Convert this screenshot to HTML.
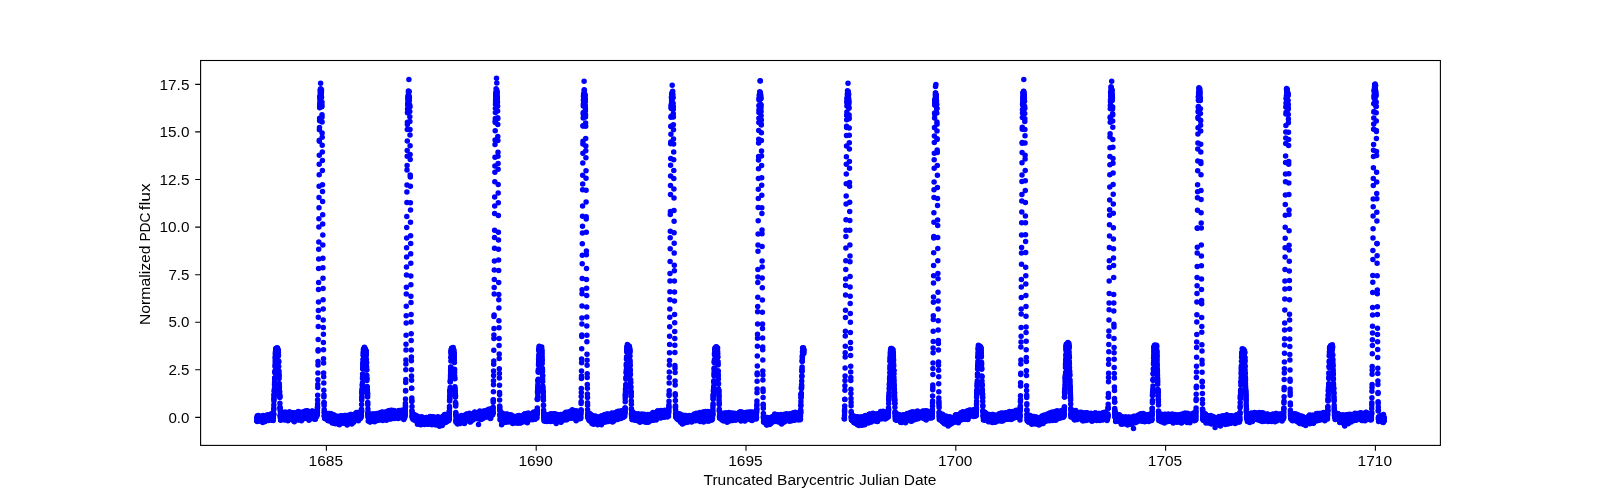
<!DOCTYPE html>
<html><head><meta charset="utf-8"><title>Light curve</title>
<style>
html,body{margin:0;padding:0;background:#fff}
body{width:1600px;height:500px;overflow:hidden;position:relative}
svg{position:absolute;left:0;top:0;display:block;will-change:transform}
text{font-family:"Liberation Sans",sans-serif;font-size:14px;fill:#000}
</style></head><body>
<svg width="1600" height="500" viewBox="0 0 1600 500">
<rect x="200.6" y="60.5" width="1239.8" height="384.9" fill="none" stroke="#000" stroke-width="1.1"/>
<path d="M326.4 445.4v5.4M536.2 445.4v5.4M746.0 445.4v5.4M955.8 445.4v5.4M1165.6 445.4v5.4M1375.4 445.4v5.4M200.6 417.4h-5.4M200.6 369.8h-5.4M200.6 322.2h-5.4M200.6 274.7h-5.4M200.6 227.1h-5.4M200.6 179.5h-5.4M200.6 131.9h-5.4M200.6 84.4h-5.4" stroke="#000" stroke-width="1.1" fill="none"/>
<text x="325.8" y="466.3" text-anchor="middle" textLength="34.4" lengthAdjust="spacingAndGlyphs">1685</text>
<text x="535.6" y="466.3" text-anchor="middle" textLength="34.4" lengthAdjust="spacingAndGlyphs">1690</text>
<text x="745.4" y="466.3" text-anchor="middle" textLength="34.4" lengthAdjust="spacingAndGlyphs">1695</text>
<text x="955.2" y="466.3" text-anchor="middle" textLength="34.4" lengthAdjust="spacingAndGlyphs">1700</text>
<text x="1165.0" y="466.3" text-anchor="middle" textLength="34.4" lengthAdjust="spacingAndGlyphs">1705</text>
<text x="1374.8" y="466.3" text-anchor="middle" textLength="34.4" lengthAdjust="spacingAndGlyphs">1710</text>
<text x="189.4" y="422.5" text-anchor="end" textLength="21.0" lengthAdjust="spacingAndGlyphs">0.0</text>
<text x="189.4" y="374.9" text-anchor="end" textLength="21.0" lengthAdjust="spacingAndGlyphs">2.5</text>
<text x="189.4" y="327.4" text-anchor="end" textLength="21.0" lengthAdjust="spacingAndGlyphs">5.0</text>
<text x="189.4" y="279.8" text-anchor="end" textLength="21.0" lengthAdjust="spacingAndGlyphs">7.5</text>
<text x="189.4" y="232.2" text-anchor="end" textLength="29.8" lengthAdjust="spacingAndGlyphs">10.0</text>
<text x="189.4" y="184.6" text-anchor="end" textLength="29.8" lengthAdjust="spacingAndGlyphs">12.5</text>
<text x="189.4" y="137.0" text-anchor="end" textLength="29.8" lengthAdjust="spacingAndGlyphs">15.0</text>
<text x="189.4" y="89.5" text-anchor="end" textLength="29.8" lengthAdjust="spacingAndGlyphs">17.5</text>
<text x="820" y="485.2" text-anchor="middle" textLength="233" lengthAdjust="spacingAndGlyphs">Truncated Barycentric Julian Date</text>
<text transform="translate(150 325.0) rotate(-90)" textLength="79.6" lengthAdjust="spacingAndGlyphs">Normalized</text>
<text transform="translate(150 241.6) rotate(-90)" textLength="29.0" lengthAdjust="spacingAndGlyphs">PDC</text>
<text transform="translate(150 210.3) rotate(-90)" textLength="27.0" lengthAdjust="spacingAndGlyphs">flux</text>
<g stroke="#0000ff" stroke-width="5.5" stroke-linecap="round" fill="none">
<path d="M258.8 420.6h0M261.8 418.4h0M262.2 416.9h0M262.7 422.5h0M262.8 416.8h0M265 419h0M265.3 416.8h0M265.3 417.6h0M265.4 419.7h0M268.1 417.2h0M268.2 415.9h0M268.3 418.7h0M268.4 418.2h0M269.2 419h0M269.3 418.3h0M269.5 416h0M270.1 418.4h0M271.1 416.4h0M271.4 418.4h0M272.3 417.6h0M273 415.3h0M273.8 408.3h0M274.9 372.8h0M275 371.1h0M275.1 364.8h0M275.7 348.6h0M276.2 350.3h0M276.4 353.3h0M276.5 350.4h0M276.9 350.8h0M277.1 353h0M278.1 351.6h0M279.3 389.6h0M279.5 391.8h0M279.6 391.9h0M280.1 408.6h0M280.6 420.2h0M281.7 417h0M282.3 417.4h0M282.6 414h0M283 414.4h0M283.1 418.2h0M284 416.8h0M284.1 416h0M286.8 419.3h0M287.3 417h0M287.5 415.7h0M287.7 417.5h0M287.8 417h0M289.5 415h0M289.6 411.9h0M292.1 416.5h0M292.8 415.9h0M293.9 415.8h0M294.4 418.3h0M295.4 414.1h0M295.4 414.4h0M295.6 416.6h0M297.1 416.7h0M297.4 414.5h0M297.5 417.1h0M299 412.4h0M300.2 417.9h0M300.4 416.6h0M300.5 416.4h0M300.8 419h0M300.9 412.5h0M301.8 415.7h0M303 415.6h0M303.9 415h0M304.4 413.1h0M305.1 416.2h0M305.3 415.6h0M305.5 413.4h0M306.7 413.7h0M306.9 417h0M307.2 417.3h0M308.1 414.7h0M308.4 413.8h0M309 412.6h0M309.1 414.8h0M309.2 415.8h0M309.8 416.1h0M311.6 415.1h0M311.8 411.6h0M312.1 416.7h0M312.7 415.7h0M313.6 413.2h0M313.9 414.1h0M315.7 411.8h0M316 412.7h0M316.3 416h0M317.4 410.2h0M318 361.4h0M318.7 249.2h0M319.6 120.7h0M320 96.8h0M320.3 92.2h0M322.2 145.2h0M322.8 245.1h0M323.5 349.7h0M323.6 372.9h0M323.9 397h0M324.1 403.1h0M324.4 415.8h0M325 417.9h0M325.1 415.6h0M326.2 413.9h0M326.4 417.7h0M327.1 417.6h0M327.5 413.5h0M328.1 417.2h0M328.2 420.5h0M329.4 418.5h0M332.9 420.5h0M333.5 418.5h0M334 420.5h0M334.3 423h0M334.5 420.8h0M336.3 420.2h0M336.5 418.3h0M336.9 421.9h0M337.3 421.4h0M337.5 420h0M337.9 420.7h0M339.3 420.5h0M339.8 419.4h0M339.9 421.3h0M341.7 419.6h0M342.1 416.3h0M343.8 419.1h0M344 418.5h0M344.6 419.3h0M344.9 420.9h0M345.3 423.4h0M347.5 418.3h0M348.4 417.8h0M348.9 420.6h0M349.8 419.9h0M350.1 416.7h0M350.3 418.2h0M351.4 418.1h0M351.7 416.2h0M352.6 417.3h0M353.1 416.6h0M353.3 415.6h0M353.4 416.4h0M353.5 416.7h0M353.8 418.5h0M354.5 417.6h0M354.6 414.7h0M354.8 418h0M355.6 416.6h0M356.6 415.8h0M356.6 416.6h0M357.4 417.3h0M358.1 413.4h0M358.3 417h0M359 416.8h0M359.2 415.7h0M359.3 415.4h0M359.7 416.8h0M360.1 414.4h0M360.6 414h0M361.4 415.5h0M361.5 410.9h0M362.9 365h0M362.9 363.8h0M363.7 349.5h0M363.7 350.7h0M364 351.6h0M364.3 349.3h0M367.5 392.8h0M370.5 415h0M370.8 417.9h0M371.1 420.9h0M371.3 418.5h0M371.5 418.2h0M372 414.1h0M372.5 420.6h0M373 417.7h0M373.2 416.8h0M375.5 415.3h0M375.6 418.2h0M376.1 418.4h0M376.4 417.5h0M378 415.6h0M378.1 416h0M380.1 418.3h0M381 418h0M382.4 415h0M382.5 414.1h0M386.4 414.6h0M386.7 413h0M388.2 416.6h0M388.5 417.2h0M389.4 414.7h0M389.6 412.8h0M389.9 413.1h0M390.1 415.5h0M391.2 414.3h0M391.6 411h0M391.7 410.2h0M391.8 414.9h0M392.1 414.5h0M392.9 411.6h0M393.5 412.6h0M393.7 415.8h0M393.9 413.1h0M394.3 417.4h0M394.6 411.4h0M395.1 415.6h0M396.8 411.9h0M397.3 412.5h0M399.9 415.1h0M400.2 413.3h0M401.1 415h0M402.1 415.9h0M403.3 412h0M404.4 414.5h0M404.5 413h0M404.7 417.6h0M405 415.5h0M405.1 414h0M405.9 359.9h0M406 344.2h0M406.3 293.9h0M406.5 266.9h0M406.6 256.9h0M408.3 98.1h0M410 135h0M410.9 284.8h0M413.5 414.8h0M413.6 417h0M414.5 418.5h0M414.7 418.7h0M415.3 418.7h0M416.1 419.5h0M416.2 418h0M416.2 416.9h0M416.8 420.7h0M417.4 418.4h0M418.1 422.2h0M418.2 417h0M418.6 420.3h0M420.2 423h0M420.5 424.7h0M421.2 423.7h0M422.7 421.4h0M423.1 421.7h0M424.1 420.8h0M424.3 419.2h0M424.5 419.5h0M426 421.6h0M426.2 417.6h0M426.3 421.6h0M426.5 420.3h0M426.6 418.4h0M430.4 421.3h0M431.6 418.6h0M433.2 419.7h0M433.3 418.2h0M434.4 420.9h0M434.8 421.7h0M435.1 420.2h0M435.5 418.9h0M436.6 418.8h0M439.3 421.2h0M441.4 420.1h0M441.9 418.8h0M443.7 420.4h0M444 418.6h0M445.7 419.3h0M446.3 418.9h0M446.3 418h0M447.8 418h0M453.3 351.7h0M454.5 369.8h0M455.5 402.6h0M456.4 420.3h0M457.9 421.1h0M459 419.9h0M460 419h0M460.8 419.8h0M460.8 419.2h0M460.9 421.4h0M461.2 418.8h0M461.9 417.1h0M463.9 416.7h0M464.7 416.2h0M464.9 416.5h0M466.2 418.2h0M466.4 417h0M466.7 417.2h0M466.8 414.8h0M468.2 415.9h0M468.2 415.6h0M469.9 418.8h0M472.8 415.1h0M473.1 415.1h0M473.2 418.1h0M474.2 417.1h0M474.9 416.1h0M475.3 417.2h0M475.3 417.1h0M475.9 417.4h0M476.3 418.3h0M476.4 417.7h0M476.4 415.1h0M477.1 415.9h0M477.6 414.5h0M478.3 416.2h0M479.1 412.7h0M480.1 415.4h0M480.8 419.5h0M481.4 413h0M481.7 415.1h0M483.6 415.6h0M485.2 412.9h0M486.2 411.7h0M486.5 415.8h0M487.3 413.3h0M487.4 411.7h0M489.4 413.9h0M489.9 414.1h0M491.1 412.5h0M491.5 411.5h0M491.7 411.7h0M491.8 414h0M493.2 402.3h0M493.7 364.3h0M493.8 350.3h0M494.7 205.9h0M494.9 166h0M495.2 130.8h0M495.6 99.8h0M497.6 111.1h0M499.3 368.8h0M501.1 414.6h0M502 417.5h0M502.5 417.7h0M502.6 422.2h0M502.7 417.6h0M503 414.8h0M503.6 417.6h0M504.7 418.7h0M505.1 419.6h0M505.3 417.3h0M505.8 419.4h0M505.9 421.7h0M509 419.8h0M509.1 417.9h0M509.9 419.5h0M510.5 417.8h0M511.9 418.6h0M513.7 419.7h0M513.9 422.2h0M514.1 419.7h0M515.1 420.9h0M516.7 422.1h0M519.6 420.7h0M520 417.5h0M520.4 423.1h0M521 417.7h0M521.3 419.9h0M521.6 417.9h0M522.8 418.6h0M523.6 420.1h0M526.2 418.4h0M526.7 420.1h0M526.9 419.3h0M527 416.8h0M527.3 422.7h0M527.6 420.1h0M529.4 418.2h0M530.4 415.1h0M532 415.5h0M532.6 414.8h0M534.5 413h0M534.9 415.8h0M535.7 416.5h0M536.4 412.9h0M542.4 368.9h0M543.1 399.1h0M543.9 419.5h0M545.5 418.2h0M546.5 419.1h0M547 418.3h0M547.9 416.9h0M548.1 415.4h0M548.3 415.9h0M549.4 417.1h0M549.4 420h0M550.2 419.8h0M552.4 420.5h0M553.4 417.9h0M554 419.9h0M555.5 418.3h0M556.3 416.2h0M556.6 419.9h0M557 417.6h0M558.3 416.7h0M558.9 416.3h0M559.9 419.3h0M560.5 418.2h0M561 416.7h0M561.8 420.2h0M563.2 416.9h0M564.4 416.7h0M564.9 418.2h0M564.9 418.2h0M565.6 415.1h0M566.7 414h0M568.4 413.7h0M568.8 414.8h0M568.9 416.1h0M569 418.2h0M569.6 414.1h0M570 414.6h0M570 413.7h0M571.8 415.1h0M572.6 413h0M573.2 414.4h0M574.3 414.3h0M574.5 414.1h0M574.9 417.4h0M576.6 413.9h0M577.3 415.3h0M577.7 414.9h0M578.2 411.9h0M578.5 418.4h0M579.5 415.8h0M580 413.5h0M580.5 417.7h0M581.1 403.6h0M581.5 376.1h0M582.7 175.2h0M583.5 96.2h0M584.4 93.2h0M584.7 94.9h0M585 101.1h0M585.1 98.8h0M585.3 99h0M585.3 105.6h0M587.8 413.3h0M587.8 414.9h0M588.5 417.6h0M589 419.5h0M589 417.7h0M590 414.8h0M590.6 414.6h0M590.9 416.6h0M591.2 415.5h0M592.1 420.9h0M592.5 415.9h0M592.9 418.3h0M594.6 420.7h0M595.3 415.9h0M595.7 419.4h0M596.1 420.1h0M596.3 418.3h0M596.4 421.4h0M598.4 422.8h0M598.7 420.4h0M599.2 419.3h0M600 419.5h0M600.6 419.6h0M600.7 421.8h0M601.4 424.8h0M601.9 420.1h0M602 417.8h0M602.5 419.5h0M603.1 416.7h0M604.1 417h0M604.4 416.1h0M604.9 414.5h0M605.1 414.7h0M605.5 419.3h0M605.7 417h0M606 419.4h0M606.6 419.1h0M607.2 416.9h0M607.7 419.9h0M607.7 417h0M609 417.2h0M609.4 417.8h0M610.5 419.2h0M610.6 414.9h0M610.7 417.9h0M612 417h0M612.1 418.5h0M613.8 418.6h0M613.9 415.6h0M614.3 415.1h0M614.5 415.8h0M615.5 415.4h0M615.7 415.8h0M615.7 415.8h0M617.5 411.4h0M617.7 413.7h0M618.1 416.3h0M618.8 416.4h0M620.2 413.3h0M620.3 418.2h0M621.1 416.4h0M621.2 410.7h0M622.6 414.4h0M622.7 417.6h0M622.7 414.5h0M623 413.7h0M624.4 412.4h0M625.2 401.8h0M626 379.3h0M626.2 372.3h0M626.6 356.8h0M627.4 344.5h0M627.7 348h0M628.1 349.7h0M628.3 348.6h0M628.4 348.9h0M628.7 347.8h0M629.6 353.1h0M630.7 382.2h0M631.2 396.6h0M631.6 413.8h0M632.6 412.6h0M632.7 412h0M633.2 416.3h0M634.2 413.8h0M635.4 414.6h0M636 416.1h0M637 416.5h0M637.9 418.2h0M638.2 413.7h0M638.5 419.2h0M639.8 416h0M640.1 419.8h0M640.4 419.7h0M640.6 415.3h0M640.7 419.1h0M640.9 417.4h0M641 416.5h0M641.6 416.4h0M641.7 418.5h0M641.8 415.5h0M642.8 416.5h0M643.1 421.2h0M643.4 418.9h0M644.3 415.2h0M645.2 415.9h0M645.3 418.3h0M645.9 417.6h0M646 418.4h0M646.2 417.6h0M646.7 416.1h0M646.8 421.2h0M647.4 422.2h0M647.7 416.1h0M648.8 417.1h0M649.6 416.5h0M649.7 416.2h0M650.6 418.8h0M651.4 413.9h0M651.7 414.9h0M652.3 414h0M655 416.4h0M656 412.7h0M656.8 414.2h0M657.1 414.9h0M657.7 415.1h0M658.3 414.3h0M658.7 414.6h0M659.4 413.2h0M660 413.8h0M660.4 414.4h0M660.7 411.1h0M662 413.6h0M662.6 411.7h0M662.9 416h0M663.3 417.2h0M663.5 414h0M666.6 416.3h0M667.2 412.4h0M667.7 412.4h0M667.8 411.4h0M669.8 317.3h0M670 273.4h0M671.3 107.8h0M671.8 94.5h0M672 94.4h0M674 210.6h0M674.5 292.1h0M675.2 393.7h0M675.5 407.2h0M683.5 416.8h0M683.9 419.2h0M684 422h0M685 415.8h0M686.2 419.3h0M686.9 420.2h0M687.5 417.2h0M688 418.7h0M688.7 418.6h0M689.3 417.2h0M690.8 416.3h0M691.3 416.8h0M693.5 417.2h0M694.7 418.6h0M695.8 416.4h0M696.4 414.9h0M698.1 418.5h0M699.1 413.8h0M699.2 416.1h0M699.4 420.2h0M701.6 416.1h0M703.4 416.9h0M703.8 415.4h0M704.1 414.3h0M705.5 416.8h0M707.1 414.9h0M708.7 414.9h0M708.9 415h0M709.8 411.7h0M709.9 415.4h0M710.3 417.6h0M711.1 416.2h0M712.9 407.9h0M713.1 403.8h0M714 375.7h0M714.2 368h0M714.7 351.8h0M715 347.9h0M715.6 350.1h0M715.9 348.1h0M717 353.7h0M717.8 356.9h0M718 364.9h0M718.6 390.5h0M718.9 393.4h0M718.9 393.6h0M720.1 416.4h0M720.1 415.7h0M720.6 417.1h0M720.7 416h0M722.1 420h0M722.4 417.2h0M723.9 416.2h0M726.2 417.6h0M727.6 417.3h0M728.5 417.2h0M728.6 416.6h0M730.2 416.2h0M732.5 418.7h0M734 417.8h0M734.7 415.4h0M734.8 417.7h0M734.9 415.3h0M734.9 413.9h0M736 416h0M736.6 414h0M737.1 416.1h0M737.2 413.4h0M738.5 413.3h0M739.8 412.2h0M740.5 417.3h0M743.7 417.5h0M743.7 415.5h0M745.6 415.5h0M746.6 416.8h0M747.2 413.8h0M747.5 418h0M747.6 416.2h0M747.8 418.3h0M748.3 412.2h0M748.7 416.7h0M749.3 417h0M751.1 420.1h0M751.6 414.2h0M752.2 418.1h0M752.3 414.8h0M752.5 417h0M754.5 415.2h0M754.8 417.4h0M755.1 415.1h0M757.1 389h0M757.1 381.2h0M758.3 198.4h0M758.5 168.7h0M758.5 159.9h0M759.6 98.3h0M759.7 95.2h0M761.8 207.8h0M762.5 324.1h0M764 421.5h0M766.4 421.2h0M766.9 420h0M767.7 422.9h0M767.9 419.1h0M771.6 418.4h0M771.7 420h0M771.8 421.6h0M772.7 422h0M773.4 418.8h0M774 416.6h0M774 417h0M774.5 416.5h0M774.7 413.9h0M779 416.5h0M779 417.4h0M779.1 416.4h0M779.3 418.3h0M779.5 420.9h0M780.8 417.4h0M781.4 415.1h0M781.6 424.1h0M782.4 419.2h0M784.3 417h0M784.6 416.4h0M784.9 417.5h0M785.3 414.8h0M785.9 420h0M786.3 418.2h0M788.9 418.7h0M790 417.8h0M793 417.6h0M793.2 416.8h0M793.5 415.1h0M794.9 413.9h0M795.9 416.2h0M796.6 416.9h0M797.9 415.1h0M798 415.1h0M799.5 415.6h0M799.7 414.5h0M801.3 394.2h0M801.9 375.8h0M803 350.1h0M803.1 350.3h0M803.7 349.6h0M844.6 409.4h0M846.3 173.9h0M846.7 115.2h0M846.9 112.1h0M847 100h0M847.2 98.5h0M848.5 93.4h0M848.7 98.9h0M849 118.8h0M849.9 245.1h0M850.3 313.4h0M850.4 332.4h0M850.8 380.4h0M851.4 416.8h0M851.6 420.1h0M854.3 418.3h0M854.8 419h0M855.2 421h0M855.5 418.3h0M855.6 419.3h0M855.8 417.6h0M856 422.2h0M856.1 416.7h0M856.5 421.6h0M857.6 420.8h0M857.7 420.8h0M859.2 424.3h0M859.9 420.5h0M860 419.6h0M860.2 419.8h0M860.9 423.3h0M862.7 417.4h0M863.9 421.5h0M864.2 416.2h0M864.3 421.9h0M865.8 418.9h0M866.1 418.7h0M866.7 422.6h0M867 419.3h0M867.3 419.6h0M867.6 420.4h0M867.9 418.2h0M868 419.4h0M868.7 417.6h0M868.9 419.3h0M869.4 414.3h0M869.5 418.7h0M870.2 418.4h0M870.8 418.1h0M873.7 416.7h0M873.9 415.5h0M874.1 414.2h0M874.6 417.6h0M875.1 417.8h0M875.2 416h0M876.5 415.7h0M876.6 415.5h0M877.3 416.4h0M877.4 415.2h0M878.2 416.6h0M880.6 411.6h0M881.5 413.2h0M881.7 416.7h0M881.8 413.4h0M882.5 415.9h0M882.8 415.1h0M883.1 411.3h0M883.3 414.6h0M883.7 414.5h0M884.2 417h0M884.9 412.7h0M885.1 415.9h0M886 415.6h0M886.3 415.6h0M887.2 415h0M887.4 414.2h0M887.9 415.1h0M888.1 414.2h0M888.5 407.7h0M891.4 353.4h0M891.7 354.5h0M892.4 352.7h0M895.6 419.4h0M896 417.7h0M896.5 418.1h0M898.8 419.7h0M900.7 417.4h0M900.7 417.7h0M901.6 418.2h0M901.8 419.3h0M902.9 416.8h0M903.2 421h0M903.4 416.6h0M903.5 419.2h0M903.5 417.4h0M903.9 418.4h0M904.6 417.5h0M905.1 419h0M906.9 418.2h0M907.6 419.7h0M908.5 418.8h0M908.6 416.4h0M909.6 417.3h0M909.9 416.7h0M910.1 416.3h0M910.4 414.8h0M911.1 416.2h0M911.7 421h0M912 416.2h0M912.1 414.1h0M913.6 415.5h0M916.7 416.7h0M916.9 416.1h0M917.3 412.2h0M917.5 413.5h0M917.8 413h0M919.3 413.8h0M919.8 413.8h0M920.1 414.6h0M920.2 414.2h0M922.5 415.7h0M922.9 414.7h0M923.3 415.2h0M923.4 414.8h0M924.3 418.1h0M924.5 414.9h0M925.5 415.9h0M926.8 415.3h0M928.6 414.7h0M928.8 415.1h0M930 415.1h0M930.7 412.6h0M930.8 414.7h0M931.3 415.4h0M931.7 415.6h0M934.2 168.3h0M934.4 136.1h0M935.7 96.6h0M937 124.2h0M937.7 237.6h0M938.6 370.3h0M938.9 401.2h0M939.4 418.1h0M939.8 419.5h0M940 418.1h0M940.7 419.1h0M941.8 419h0M942.6 414.3h0M943.7 421.5h0M944.7 421.3h0M945.4 419.4h0M945.5 418.6h0M947.3 419.9h0M947.3 421.6h0M948.5 422.3h0M949.7 419.5h0M949.8 419.5h0M950.3 417.3h0M952.3 419.8h0M952.6 419.1h0M952.8 422h0M954 417.4h0M954.4 419.3h0M954.9 421.4h0M955.6 420h0M955.7 419.6h0M955.8 420.1h0M956.1 420.3h0M956.9 418.4h0M957.3 420h0M957.4 419.2h0M958.6 416.5h0M959.7 415.6h0M960.4 418.7h0M960.6 419.9h0M961.6 412.9h0M961.7 418.6h0M962.2 413.8h0M962.8 413.2h0M963 417.5h0M963.2 415.7h0M963.3 414.3h0M964.5 415h0M965.3 415.4h0M965.7 414.4h0M966.6 413.2h0M968.4 410.5h0M968.6 413.5h0M969 415.9h0M969.8 413.5h0M970.7 415.1h0M972.6 412.4h0M973.4 415.3h0M975.1 413.1h0M976 411h0M976.8 393.6h0M977.2 385.2h0M977.3 381h0M977.5 373.9h0M980.8 350.9h0M981.2 352.3h0M981.6 363.9h0M982 384.6h0M982.3 391.9h0M982.4 395.1h0M982.5 394.3h0M983.1 412h0M984.2 415.4h0M984.6 417.1h0M985 418.7h0M986.2 415.6h0M987 419.3h0M988.1 418h0M988.2 417.3h0M988.7 419.1h0M988.8 419.6h0M989.2 414.6h0M989.3 417.9h0M989.6 417.5h0M990.7 418.4h0M991.4 420.4h0M991.5 417.3h0M991.6 420.5h0M993.8 417.9h0M995.1 416.6h0M995.5 417.6h0M997.1 416.9h0M997.2 419.4h0M998.2 417.7h0M1000.5 416.6h0M1000.8 414.5h0M1001 418.2h0M1002.4 416.5h0M1002.7 414.7h0M1003.7 417.7h0M1004.9 415.8h0M1005.3 413.3h0M1005.5 412.8h0M1005.6 416.6h0M1006 416.2h0M1006.2 414.9h0M1006.6 416.3h0M1008.1 416.8h0M1008.4 415.3h0M1009.8 416.6h0M1010 417.1h0M1010.2 417.5h0M1010.6 413.6h0M1010.7 416h0M1012.4 417.1h0M1014.6 412.5h0M1014.9 414.3h0M1015.3 413.3h0M1015.3 413.8h0M1015.8 415.5h0M1015.9 416.3h0M1016.7 413.8h0M1017.7 413.9h0M1017.9 413.6h0M1019.5 412.9h0M1019.6 415.1h0M1021.9 181.5h0M1022.2 143.3h0M1022.3 127.2h0M1022.7 104.9h0M1022.7 102h0M1022.9 98.1h0M1023.3 95.1h0M1023.7 91.3h0M1023.7 96.8h0M1024 96.3h0M1025.1 155.2h0M1025.5 222.7h0M1025.7 252.5h0M1025.7 267.2h0M1026.4 370.7h0M1026.9 409.7h0M1027.4 420h0M1028.2 421.3h0M1028.5 419.7h0M1030 416.1h0M1030.1 417h0M1031.3 420.4h0M1031.6 420.3h0M1032.9 420.6h0M1033 420.8h0M1033.2 418.1h0M1034.5 423.3h0M1035.5 421.8h0M1037.2 421.6h0M1037.3 419.7h0M1037.8 423.9h0M1037.9 421.3h0M1038.4 421.6h0M1038.8 422.8h0M1038.8 419.6h0M1040.1 420.5h0M1040.2 420.5h0M1040.5 417.8h0M1043.4 421.1h0M1044.3 421.2h0M1044.7 419.3h0M1045.1 418.2h0M1045.6 416.3h0M1047 416.1h0M1047.5 418.7h0M1049.4 414.2h0M1049.9 419.9h0M1050.3 416h0M1050.7 415.8h0M1051.1 416.4h0M1051.6 415.5h0M1053 414.9h0M1053.1 415.1h0M1054 416.7h0M1054.4 417h0M1054.4 416.8h0M1054.7 415.6h0M1055.2 415.3h0M1055.6 414.5h0M1055.7 412.7h0M1056 414.3h0M1057.5 415.6h0M1059.4 414.3h0M1060.1 414.5h0M1061.1 414.7h0M1062.6 412.2h0M1062.7 416.1h0M1064.5 397.1h0M1064.9 388.9h0M1065.8 359.3h0M1066.4 347.4h0M1067 348.4h0M1067.2 344.4h0M1068.2 351.1h0M1069.2 354.9h0M1069.4 364h0M1069.7 374.9h0M1070.7 409h0M1070.8 409.9h0M1071.2 414h0M1072.2 411.8h0M1072.5 416.4h0M1072.6 416h0M1074.6 412.7h0M1075 416.2h0M1076.2 414.9h0M1076.7 414.4h0M1076.7 413.8h0M1077.4 415.7h0M1078.3 417h0M1078.5 413.3h0M1079.3 412.7h0M1080.5 416.3h0M1080.6 415.6h0M1081 417.2h0M1081 417.8h0M1081.5 412.5h0M1082.1 413h0M1084.5 416.4h0M1084.8 416.4h0M1085.8 418.8h0M1087.3 418h0M1088.7 417.3h0M1089.6 414h0M1089.8 418.1h0M1089.8 418.8h0M1090.2 417.7h0M1092.9 415.8h0M1093.6 416.5h0M1093.7 417.3h0M1094.3 417.1h0M1095.2 415.2h0M1095.4 415.7h0M1095.7 414.7h0M1097.1 416.6h0M1098.9 418.5h0M1100.2 416.1h0M1100.5 417.6h0M1102.6 414.9h0M1102.9 414.9h0M1103.4 416.6h0M1104.1 415.4h0M1104.2 417.4h0M1104.5 412.5h0M1104.6 416.7h0M1105.2 415.3h0M1106.6 415.8h0M1107.4 415.4h0M1107.6 417.5h0M1108.2 404.2h0M1110 147.7h0M1110.6 105h0M1114.1 352.8h0M1114.2 367.5h0M1115.2 416h0M1116.7 418.3h0M1117.1 415.1h0M1117.6 418.5h0M1118.2 417.3h0M1118.3 418.9h0M1119.3 420.1h0M1119.7 419.7h0M1120 421.7h0M1121.9 417.8h0M1122.1 421h0M1123 419.6h0M1123.2 417.9h0M1124 422.4h0M1124.3 421.3h0M1125 420.4h0M1126 422.3h0M1126.1 421.5h0M1127.4 418.6h0M1129.7 421.3h0M1129.9 421.4h0M1131.4 422.2h0M1131.9 419.2h0M1132.5 423.3h0M1132.6 422.3h0M1133.1 417.7h0M1133.6 419.9h0M1133.9 416.3h0M1134.3 420.2h0M1135.6 417.4h0M1136.4 416.3h0M1137 418.5h0M1137.5 418.4h0M1137.6 417.5h0M1137.7 419.1h0M1138.1 417.9h0M1138.4 418h0M1138.8 420.3h0M1139.4 415.3h0M1141.4 418.8h0M1142 419.7h0M1142.7 415.5h0M1143.1 418.3h0M1143.2 416.7h0M1143.4 418.1h0M1144.8 415.5h0M1145.5 421.2h0M1145.8 417.7h0M1146.5 417.5h0M1147.8 418.5h0M1148.9 415.6h0M1149.9 418.5h0M1151.2 417h0M1151.4 417h0M1151.7 419.7h0M1152.1 411.6h0M1152.4 402.7h0M1153.1 380.3h0M1153.8 355.7h0M1154.4 348.2h0M1154.9 352.8h0M1155 350.8h0M1155.6 348.7h0M1155.6 351.5h0M1157.1 356.8h0M1157.5 375h0M1157.6 379.2h0M1157.9 392.2h0M1159.7 417.8h0M1160 417.5h0M1160.3 416.5h0M1160.8 418.9h0M1161.1 418.5h0M1161.2 416.3h0M1162.5 416.3h0M1163.3 417.7h0M1164.4 416.7h0M1164.8 419.9h0M1165.6 416.4h0M1165.8 420.9h0M1166.3 415.3h0M1167.6 418.4h0M1168.3 414h0M1168.9 417.8h0M1169.3 419.4h0M1169.6 419.8h0M1170 416.1h0M1170.4 419.8h0M1170.7 417.9h0M1170.9 417h0M1173.2 423.1h0M1173.7 418.9h0M1174.3 418.6h0M1174.8 418.6h0M1175.5 416.4h0M1176 417.3h0M1176 418.5h0M1176.6 419.4h0M1177.4 417.6h0M1177.5 416.8h0M1178.1 416.2h0M1178.2 416.9h0M1178.3 416.3h0M1178.9 416h0M1179 419.9h0M1179.2 415.9h0M1180.4 414.5h0M1181.1 418.9h0M1181.5 422.4h0M1181.8 419.1h0M1182.3 414.8h0M1183.1 416.8h0M1183.9 419.1h0M1184.4 419.2h0M1184.5 416.9h0M1185.3 417h0M1186 414h0M1186 419.4h0M1187.8 416.5h0M1188.5 418.8h0M1188.8 414.9h0M1189.5 414h0M1189.8 414.7h0M1190.9 419.1h0M1191.3 419.4h0M1193.2 416.4h0M1193.9 416h0M1195.1 415.3h0M1195.3 420.1h0M1197.4 228.2h0M1198 117.3h0M1198.2 106.9h0M1198.4 106.6h0M1199.6 95.1h0M1199.7 94.2h0M1199.9 92.2h0M1200.3 99.1h0M1201 174.7h0M1202.7 410.1h0M1203.3 418.4h0M1203.6 420.1h0M1204.3 420.3h0M1206.4 418.4h0M1206.8 418h0M1207.4 417.9h0M1208.8 418.6h0M1209.1 418.5h0M1209.1 419.6h0M1209.3 418.4h0M1209.8 416.9h0M1209.8 420.8h0M1210 421.2h0M1210.3 420.5h0M1210.4 420.3h0M1212.1 418.1h0M1213.5 423.2h0M1214.2 421.3h0M1215 419h0M1215.8 421.3h0M1217.3 423.7h0M1218.9 419.6h0M1219.9 418h0M1221.7 421.8h0M1222.8 420.2h0M1222.9 417.4h0M1223.1 421.1h0M1223.5 419.3h0M1223.6 421.1h0M1223.7 417.9h0M1224.7 419h0M1224.9 418.6h0M1225 420.6h0M1225.1 421.2h0M1226.1 419.3h0M1226.5 420.3h0M1226.7 415.1h0M1227 419.2h0M1228.6 415.9h0M1229.1 421.8h0M1230.1 416.9h0M1230.7 423.2h0M1232.2 418.4h0M1232.4 419h0M1232.9 417.5h0M1233.2 418.2h0M1233.2 417.8h0M1233.4 418.2h0M1234.1 418.2h0M1234.8 419.5h0M1234.9 416.5h0M1235.6 419.1h0M1236.3 416.9h0M1236.5 420.3h0M1236.9 418.2h0M1237 419.9h0M1238.2 420.1h0M1238.3 418.4h0M1239 418.9h0M1239.4 419.3h0M1239.5 419.5h0M1239.7 419.5h0M1240.8 389.8h0M1240.8 391h0M1241 381.7h0M1242.9 353.2h0M1243.2 353.8h0M1243.6 351.9h0M1244.4 352.1h0M1245.1 366.8h0M1245.1 369.7h0M1246.2 403.9h0M1246.6 418h0M1247.3 417.5h0M1247.4 421.6h0M1247.8 417.5h0M1247.9 419.4h0M1248.4 418.2h0M1248.6 414.7h0M1248.6 417.6h0M1250.1 414.1h0M1251.6 414.5h0M1253.5 415.7h0M1253.6 416.5h0M1255.9 414h0M1256.3 417.5h0M1258.9 414.4h0M1259 415.1h0M1259.2 412.4h0M1259.8 417.4h0M1259.9 420.4h0M1260.3 415.5h0M1261.4 419.1h0M1262 417.8h0M1262.6 418.5h0M1263.2 418.8h0M1264.9 416.9h0M1264.9 415.8h0M1267.6 416.6h0M1267.7 418.5h0M1267.8 416.1h0M1268.4 415.8h0M1269.2 421.3h0M1269.3 417.7h0M1270.6 421.1h0M1270.7 419.8h0M1270.7 419h0M1272 416.4h0M1272.8 416.2h0M1272.9 415.6h0M1273 417.9h0M1273.2 421.3h0M1273.7 418.4h0M1275 421.7h0M1275.1 418.5h0M1275.5 420h0M1275.7 419.5h0M1276.4 418.7h0M1276.5 416.6h0M1276.6 419.1h0M1276.7 419.5h0M1276.8 418.6h0M1277.5 417.1h0M1278.4 416h0M1278.8 417.2h0M1278.8 416h0M1280.2 417.7h0M1280.3 417.7h0M1280.7 417.6h0M1280.9 414.7h0M1281.8 417.4h0M1283.1 417.7h0M1283.4 417.2h0M1284 401.3h0M1284.2 379.5h0M1284.5 344.9h0M1284.6 338.8h0M1285 269.6h0M1286.2 104h0M1286.4 96h0M1287.8 93.2h0M1287.9 95.8h0M1288.5 132.3h0M1288.7 164.3h0M1288.8 173.8h0M1292.3 420.3h0M1293.6 417.7h0M1293.9 416.5h0M1294.9 414.2h0M1295.7 418h0M1296.2 420.7h0M1296.9 418h0M1297.9 414.8h0M1298.2 416.9h0M1298.4 420.9h0M1299.4 420.2h0M1299.8 423.4h0M1300.4 418.4h0M1301.3 418.5h0M1301.5 417.9h0M1303.2 421h0M1303.3 420.9h0M1303.5 420.4h0M1304.3 422.3h0M1304.5 417.4h0M1304.6 423.7h0M1305 419.8h0M1305.3 420.1h0M1305.7 417.7h0M1306.3 421.6h0M1306.6 421.9h0M1306.7 422.3h0M1308.2 418.6h0M1308.3 421.1h0M1309.4 418.3h0M1309.4 418.2h0M1309.7 420.5h0M1310.2 420.4h0M1310.3 417.8h0M1310.5 417.3h0M1312.5 420.3h0M1312.7 420.2h0M1313.8 418.4h0M1314 418h0M1314.6 418.1h0M1315.9 417.3h0M1316.5 419.6h0M1318 416.7h0M1319.3 415.7h0M1319.8 420.1h0M1320 417.4h0M1320.4 417.1h0M1320.5 413.5h0M1322.9 416.8h0M1323 415.5h0M1323.1 413.4h0M1324.2 414.9h0M1324.8 420.7h0M1325.3 413h0M1325.4 414.4h0M1325.8 416h0M1326 412.6h0M1326.4 413.8h0M1328.5 390.2h0M1328.6 388.1h0M1329.9 352.1h0M1330.8 349.6h0M1331 348.6h0M1332 347.9h0M1333.2 373.4h0M1335.1 419.6h0M1335.2 416h0M1335.3 418.7h0M1335.6 416.6h0M1335.9 415.9h0M1336.1 413.4h0M1336.2 415.2h0M1336.8 417h0M1338.1 414.3h0M1338.4 418.2h0M1339.6 417.3h0M1340 418.5h0M1340.2 416.1h0M1341.8 420.7h0M1342.2 419.7h0M1343.3 419.7h0M1344.6 418.2h0M1345.4 419.6h0M1345.5 419.3h0M1346.4 418.5h0M1347.6 418.1h0M1347.6 417.5h0M1348.1 416.6h0M1349.9 420.4h0M1350.2 417.2h0M1351.2 420.1h0M1351.4 417.8h0M1351.5 417.8h0M1353.4 417.5h0M1353.5 416.4h0M1353.9 418h0M1354.5 416.7h0M1354.8 415.4h0M1355.2 419.3h0M1355.3 419h0M1355.6 416.2h0M1356.4 417.1h0M1356.7 414.3h0M1357.5 415.8h0M1357.8 414.4h0M1358.5 416.6h0M1358.8 418.8h0M1359.7 416.4h0M1360.2 416h0M1360.5 416.9h0M1361.2 415.3h0M1361.8 416.9h0M1362.3 416.8h0M1365.4 416.2h0M1365.8 414.3h0M1366.7 415.6h0M1367.6 415.7h0M1368.1 418.6h0M1368.3 415.6h0M1369.1 419.3h0M1371.8 405.1h0M1371.9 397.8h0M1373.6 144.4h0M1374.3 92.4h0M1374.6 88.8h0M1374.9 85.1h0M1376.5 151.6h0M1377 243.8h0M1378.8 420.4h0M1380.5 415.4h0M1380.7 417.9h0M1380.9 420.9h0M1382.4 417h0M1383.7 420.2h0M1383.8 420.8h0M1383.9 419h0M1384 418.2h0M1111.7 81.3h0"/>
<path d="M257.1 420h0M257.9 417h0M259 420.4h0M259.8 417.9h0M261.3 418.8h0M262.9 418.6h0M264.4 418.6h0M264.6 418.2h0M264.8 416.5h0M266 417.7h0M267.1 417.4h0M267.4 415.8h0M268 417.2h0M268 418.3h0M269.4 418.1h0M271.6 418.6h0M271.9 418.4h0M272.1 418.3h0M272.9 415.6h0M273.1 419.1h0M273.2 420.4h0M273.7 409.8h0M278.3 355.7h0M278.5 360.7h0M278.6 362.6h0M282.1 419.4h0M282.3 413.7h0M282.7 418.6h0M283.3 415.5h0M284.1 412.2h0M284.7 419.9h0M286.3 414.2h0M286.4 415.4h0M287 416.4h0M287.5 415.5h0M288.1 416.1h0M288.4 414.3h0M289.4 418.1h0M289.8 416.7h0M291.8 418.6h0M293.6 416h0M294 416.9h0M294.3 421.8h0M294.5 416.6h0M295.1 416.7h0M295.2 415.7h0M296.6 416.1h0M296.9 416.1h0M298.6 415.4h0M299.2 414.9h0M299.8 413.5h0M300.7 415.5h0M302.1 415.8h0M302.5 418.6h0M302.7 413h0M303.8 414.7h0M304.6 415.5h0M306 412.9h0M307.6 416.3h0M310.2 416.1h0M310.9 414.9h0M312.6 417.1h0M312.8 411.7h0M313.2 417.7h0M313.3 416.6h0M313.6 413.2h0M316.5 416.8h0M316.9 415.7h0M317.5 407.7h0M318.7 258.9h0M318.9 227h0M319.4 141.3h0M319.8 104.4h0M320.7 93.2h0M320.9 97.6h0M321.1 93.4h0M321.1 97h0M321.5 90.2h0M322.5 184.7h0M324.7 415.4h0M325.6 415.8h0M326.5 415.1h0M327.1 415.2h0M331.1 420.7h0M331.7 420.8h0M331.7 419.3h0M332.1 416.4h0M332.4 418.4h0M333.4 419.8h0M334.9 418.4h0M335.4 415.9h0M336.3 420.2h0M336.9 421.6h0M337 419.6h0M337.4 417.2h0M338 419.4h0M338.9 420.6h0M339.2 421.6h0M339.5 424.7h0M339.7 422.4h0M340 417.4h0M340.7 415.7h0M340.9 417.3h0M341.5 416.6h0M342.8 416.8h0M343.2 419.9h0M343.6 419.1h0M345.1 415.5h0M345.5 418.7h0M345.7 419h0M346.1 418.1h0M346.3 417.2h0M346.6 419.1h0M346.7 420.5h0M346.7 419.6h0M347 419.4h0M347.1 415.4h0M348.3 419.6h0M348.8 419.3h0M349.2 418.7h0M349.3 419.5h0M349.6 416.3h0M349.6 419.6h0M349.9 419.5h0M350.5 418.6h0M351 416.3h0M351.2 418.4h0M351.4 418.3h0M352.4 418.6h0M353.5 417.1h0M353.7 414.8h0M354.1 416.1h0M355.4 416h0M355.6 417.2h0M357.9 413.1h0M358.2 416.6h0M358.4 420.8h0M358.7 416.5h0M359.4 417.6h0M359.5 416.6h0M361 413.3h0M361.3 414.6h0M361.7 400h0M362.1 391h0M362.5 378.6h0M364.1 354.4h0M364.3 348h0M364.7 348.5h0M365.1 351.5h0M366.2 354.7h0M366.5 363.2h0M368.1 412.2h0M368.7 416.8h0M369.6 419.8h0M370.1 415.5h0M370.6 419.6h0M371.5 416.1h0M372.7 414.9h0M373.8 416.5h0M374.2 417.5h0M376.2 415.3h0M377.7 419.2h0M379.1 416.7h0M379.2 418.1h0M379.8 420.1h0M379.9 419.1h0M380.2 419.2h0M380.9 419.2h0M381.5 415.8h0M382.9 415.9h0M383.3 414.2h0M384.6 415h0M384.7 416.4h0M385.1 412h0M385.8 415.5h0M385.8 413.6h0M386.5 413.9h0M387.1 416.2h0M387.9 414.5h0M388.3 415.3h0M389.2 413.1h0M390.2 416h0M391.8 413.2h0M392.6 415.8h0M393.1 414.9h0M393.5 415h0M393.9 412.1h0M394 414.8h0M395.7 414.3h0M396.2 412.9h0M397.4 416.9h0M398.9 413.9h0M398.9 413.1h0M399.6 415.4h0M400 416.4h0M400.9 413.9h0M401.8 417.9h0M403.4 415.8h0M404.8 415.7h0M405.1 414.9h0M405.5 406.7h0M406.5 274.9h0M407.1 165.5h0M407.3 129.4h0M407.4 124.5h0M407.4 122.3h0M408 100.6h0M408.1 103.1h0M408.6 95.5h0M409 100.6h0M409.7 107.1h0M410.1 154.4h0M410.2 174.9h0M410.5 222.2h0M410.7 243.5h0M410.8 263.2h0M411.5 375.9h0M412.2 415.3h0M413.2 417.4h0M413.7 418.8h0M414.4 417.9h0M415.7 417.7h0M417.7 418.5h0M419.3 418h0M419.7 423h0M419.9 422.1h0M420 421.6h0M420.1 420.9h0M421.4 423.6h0M421.8 420h0M421.9 420.4h0M422.5 421.8h0M423.2 419.8h0M423.8 419.1h0M424.2 419.4h0M424.5 424.4h0M424.9 418.9h0M424.9 420.2h0M427.9 418.9h0M428.1 420.6h0M428.9 423h0M429 420.9h0M429.9 418h0M430.3 419.4h0M431.5 421.9h0M431.8 420.7h0M432.1 418.1h0M432.5 421.8h0M433 420.1h0M433.4 419h0M434 419.7h0M434.5 419.8h0M434.6 419.8h0M436 420.4h0M436.2 420.2h0M436.4 420.4h0M437.1 418.7h0M437.2 422.3h0M438.3 421.1h0M441 418.9h0M442.5 420.9h0M442.7 419.2h0M443.2 416.1h0M443.8 418.4h0M446.1 420.5h0M446.7 419.6h0M448.3 419.6h0M450.3 382.1h0M451.2 349.8h0M452.6 353.3h0M453.1 354.3h0M453.7 354.1h0M453.8 350.2h0M454 354.4h0M454.1 354.8h0M454.7 376h0M455.1 393h0M455.7 405.9h0M456.3 422h0M457.6 422.1h0M457.7 419.9h0M458.3 420.7h0M458.5 422.9h0M459.1 418.3h0M460.2 418.6h0M460.4 419.9h0M461.9 417.9h0M462.3 416.5h0M462.3 420.9h0M462.4 419.7h0M462.5 420.3h0M462.6 419.8h0M462.8 417.9h0M463.2 419.5h0M463.7 417.1h0M463.7 418.4h0M463.8 417.7h0M464.3 418.3h0M464.4 416.6h0M467.2 419.7h0M467.5 415.7h0M467.7 417.3h0M467.9 419.1h0M468.3 418.4h0M468.5 418.6h0M468.5 417.9h0M470.2 415.5h0M470.4 421.9h0M471.9 420.3h0M472 417.5h0M472.3 414.6h0M473.9 417.8h0M478.4 417h0M478.6 417.6h0M478.9 418.3h0M479.1 415h0M479.9 413.9h0M480 415.6h0M480.3 415.3h0M480.4 416.5h0M480.5 415.1h0M480.7 413.9h0M481.8 415.5h0M482 417h0M482.3 414h0M482.9 417.4h0M483.2 411.5h0M483.4 413.5h0M483.9 416.4h0M484.3 413.4h0M485.8 414.7h0M486 413h0M486.3 412.4h0M487 412.9h0M487.5 415.4h0M488.5 411.3h0M488.9 415.9h0M491 413.4h0M491.1 412.3h0M492.7 413h0M492.7 412.3h0M493.2 407.2h0M493.4 391.7h0M493.5 380.8h0M494.5 248.2h0M494.8 181.8h0M496.1 94.5h0M496.1 88.8h0M496.6 89.5h0M496.7 98.5h0M497.5 106h0M498.8 294.5h0M498.9 308h0M499.1 345.6h0M499.6 400.1h0M499.7 406h0M499.9 410.6h0M501.2 414.3h0M501.4 419.1h0M501.5 415.6h0M501.9 413.6h0M501.9 416.4h0M502.1 415.5h0M502.4 418.8h0M502.6 417.3h0M503.4 416.1h0M504.1 419.2h0M504.2 419.6h0M511.5 421.9h0M512.4 417.2h0M513.1 416.6h0M514.2 418.7h0M514.6 417.4h0M514.7 420h0M515.3 421.3h0M515.8 422.3h0M516.5 419.8h0M517.2 418.3h0M517.3 421h0M519.1 421.6h0M519.3 419.3h0M520.4 420.3h0M521.5 418.5h0M521.7 417h0M522 418.1h0M524.4 414h0M524.4 414.2h0M524.8 418.3h0M528.9 417h0M529.2 416h0M530.7 415.7h0M531.9 415.8h0M533.2 414.7h0M533.3 418.9h0M534.3 414.9h0M534.7 417.4h0M536.1 417.6h0M536.2 415.5h0M536.4 412.3h0M537.1 412.9h0M537.4 399.1h0M537.8 388.3h0M538.2 379.3h0M538.3 371.5h0M539.5 349.5h0M540.7 350.5h0M542.2 360.5h0M543.5 405.2h0M544.4 413.8h0M545.3 418.2h0M545.6 418.3h0M547.1 416.6h0M548 417.8h0M548.1 416.7h0M548.6 421h0M548.9 416.5h0M549.9 416.7h0M550.4 421h0M552 420h0M554.3 417.4h0M555.6 417.9h0M556.8 417h0M557.2 418h0M558.8 418.1h0M559 418.5h0M559.1 419.9h0M560 416.7h0M560 421h0M560.5 415.9h0M561.4 417.9h0M561.7 418.1h0M561.8 419.8h0M562.1 416.2h0M562.6 420.3h0M563.8 416.2h0M564.4 417.2h0M565.1 414.1h0M565.3 416.8h0M565.8 415.9h0M566.4 417.6h0M566.5 415.4h0M567.1 417h0M567.4 417.5h0M567.7 415.3h0M568 415.4h0M568.6 416.5h0M569.2 412.6h0M569.4 415.5h0M570.3 411.8h0M570.4 412.6h0M570.9 414.6h0M571.3 418h0M572.2 413.5h0M572.7 412.9h0M573.6 413.3h0M573.9 412.6h0M574.9 413.4h0M575.2 414.3h0M577.2 413.1h0M577.8 415.2h0M579.7 412.6h0M579.7 417.5h0M581.4 378.4h0M581.9 317.9h0M582.5 216.2h0M585.2 101.7h0M585.6 123h0M586.1 190.3h0M586.6 288.2h0M586.9 335.3h0M588.2 417.7h0M590 414.8h0M590.3 417.9h0M591.1 415.3h0M591.5 417h0M593.2 419.1h0M594 416.8h0M594.8 419.2h0M595.4 419.3h0M596.5 419.2h0M596.9 420.2h0M597.4 421.9h0M597.6 420.3h0M599.1 419.6h0M600.2 418.8h0M602.9 421.6h0M603.3 417.2h0M604.7 417.4h0M605 416.5h0M606.4 420.1h0M606.5 419.7h0M607 416.9h0M607.9 414h0M608.1 418.2h0M608.2 417h0M609.8 415.1h0M610 418.6h0M611.6 414.8h0M613.5 419.4h0M613.6 414h0M613.8 416.7h0M618.3 415.2h0M618.4 414.1h0M618.5 411.2h0M619.1 415.1h0M619.6 414.4h0M619.9 415.5h0M620.3 416.3h0M620.9 416.2h0M621 414.8h0M622.1 413.5h0M622.3 413.5h0M622.6 414.9h0M622.9 412.7h0M623.5 416.8h0M625.6 392.9h0M625.9 384.5h0M626.2 373h0M626.3 364.1h0M627.1 349.5h0M627.6 345.3h0M627.8 352.6h0M627.9 350.2h0M628.1 349.2h0M628.2 347.6h0M629.5 348.1h0M629.7 349.9h0M629.7 347.9h0M630.4 374h0M630.9 391.9h0M632.1 415.7h0M632.3 419.8h0M633.3 418.2h0M633.3 416.6h0M633.7 416.8h0M634.3 417.3h0M634.9 415.7h0M635.8 417.1h0M636.1 416.2h0M637.4 417.1h0M638.9 417.8h0M639 417.3h0M639.4 419.8h0M641.5 420.5h0M642.4 417.1h0M642.5 418.2h0M643.4 420.6h0M643.8 417.3h0M648.5 417.2h0M651.3 418.3h0M651.8 416h0M651.9 414h0M652.9 418.2h0M653.4 413.9h0M653.4 418.3h0M653.6 419h0M653.6 415h0M656.2 416.3h0M657.3 414h0M657.6 411h0M657.6 415.1h0M657.8 414.4h0M658.7 411.5h0M659 415.5h0M659.2 412.7h0M660.3 414.4h0M661.5 416.2h0M661.9 416.8h0M662.2 416.8h0M663.1 412h0M663.6 415.9h0M664.3 417.3h0M665.8 415.9h0M666.1 413.6h0M667.1 413.6h0M667.4 417h0M668.2 414.7h0M668.5 416.2h0M668.6 412.1h0M668.6 411.2h0M669.5 352.8h0M670 281h0M670.1 261.5h0M670.2 248.7h0M670.9 126.2h0M672.9 105.2h0M673 97.8h0M673 103.3h0M674 198h0M674.9 352.6h0M674.9 365.5h0M676.5 417.5h0M678.3 415.9h0M679.7 415.9h0M680.4 417.3h0M680.8 416.7h0M680.9 419.2h0M682.1 415h0M683.7 418.3h0M683.9 419.6h0M684.1 419.8h0M684.2 416.1h0M684.3 420.1h0M685.4 416.5h0M685.4 417.2h0M686.3 416.8h0M686.4 417.5h0M686.9 419.8h0M687.1 418.3h0M687.2 419.5h0M689 418.2h0M689.5 418.8h0M689.6 421.4h0M690.3 418.2h0M690.5 418.8h0M690.6 418.8h0M690.6 419.9h0M691.1 417.2h0M692.3 417.4h0M692.4 420.9h0M692.4 418.6h0M693.8 416.8h0M693.8 417.5h0M694.9 416.4h0M695.2 417.2h0M695.6 415.1h0M696.8 418h0M696.9 417.2h0M697.3 417.2h0M698 414.1h0M700.4 416.5h0M700.9 416.9h0M701 417.1h0M703.3 420.7h0M704 418.2h0M704.1 414.1h0M704.2 420h0M704.3 419.3h0M705.1 414.8h0M705.1 415.3h0M707.3 420.1h0M707.4 417.8h0M708.5 414.3h0M708.9 415.4h0M709.1 415.7h0M709.7 420.7h0M710.9 416.7h0M711.5 419.9h0M711.7 416h0M712 415h0M715.2 352.7h0M715.3 351.2h0M716 351.8h0M717.1 349.5h0M717.4 351.1h0M717.5 352.7h0M718.5 384h0M718.5 389h0M718.7 389.9h0M719.6 416.2h0M720.3 415.5h0M721.8 418.5h0M722 419.2h0M722.6 416.6h0M724.6 417h0M726 419.1h0M727.5 415.3h0M728.4 417.3h0M730.4 417h0M731.6 414.7h0M732 415.8h0M732.6 420.5h0M733.3 419.6h0M733.7 415.7h0M734.3 416.9h0M735 414.4h0M736.4 415.3h0M736.7 418.3h0M737.6 418.1h0M737.9 416.1h0M738 413.4h0M738.5 414.9h0M739 416.4h0M739.2 415.7h0M739.5 415.6h0M742.2 417.2h0M742.3 417.1h0M742.7 415.8h0M744.4 415.2h0M744.5 420.5h0M745 415.2h0M746.4 415.1h0M746.7 412.8h0M748 418.5h0M749.2 415.4h0M749.4 415.4h0M749.7 417h0M749.9 416.6h0M750.5 413.5h0M750.5 411.9h0M750.6 414.9h0M751.8 420.1h0M752.8 416.1h0M755.2 415.7h0M755.8 417.5h0M756.4 417.5h0M756.5 412.7h0M757.2 374.7h0M758.9 112.5h0M759.1 100h0M759.3 95h0M759.9 96.3h0M760 94.1h0M760.4 93h0M761 108h0M761.1 111.6h0M761.3 120.1h0M761.5 150.9h0M761.5 156.1h0M761.7 177.8h0M762 230.1h0M762.9 375.1h0M763 389.1h0M763.3 408.3h0M764.6 418.5h0M765.6 422.1h0M766.6 424.8h0M767.3 419.7h0M767.3 422.5h0M767.8 423.3h0M768.1 420h0M768.4 417.9h0M769.5 422.4h0M770.8 423.1h0M772.1 420h0M772.2 417.6h0M774.8 417.3h0M776.1 420.2h0M776.9 417.8h0M777.1 419.8h0M777.6 418h0M777.7 417.4h0M777.8 418.9h0M778.7 415.2h0M780.1 419.6h0M780.3 417.9h0M780.8 421.2h0M782.1 421.4h0M783.5 419.5h0M783.6 417.1h0M783.9 418.4h0M784.3 414.2h0M784.4 418.1h0M785.3 418.5h0M785.4 417.7h0M788.5 418.4h0M788.9 417.9h0M789.1 415.8h0M789.2 417.4h0M789.5 420.6h0M790.3 414.8h0M790.9 416h0M793.8 417.1h0M794.7 418.5h0M795.5 416h0M796 415.4h0M796.1 416.9h0M796.4 417.3h0M796.7 417.9h0M797.7 416.5h0M799.4 414.3h0M799.8 413.5h0M800.2 418.3h0M800.3 414.6h0M800.4 416.1h0M800.7 410.2h0M800.9 404.8h0M801.2 394.7h0M802.3 359.6h0M802.6 348.3h0M802.7 351.3h0M803.3 353.1h0M844.8 399.3h0M845.8 260.8h0M847.3 98.6h0M847.3 94.3h0M847.6 93h0M849.8 230.3h0M850.2 296.2h0M852.2 418.2h0M853.4 416.9h0M854.4 417h0M855.1 421.7h0M855.1 422.2h0M855.3 419.3h0M856.1 422.7h0M856.2 420h0M856.3 419.7h0M856.4 420.8h0M856.8 419.1h0M857.5 421.3h0M857.5 420.4h0M857.8 422.7h0M860.8 418h0M861 422.4h0M861.2 420.5h0M861.6 421.1h0M861.9 420.6h0M864.8 417.4h0M865.1 420.8h0M866 416.8h0M866.3 419.9h0M866.4 416.6h0M868.6 418.3h0M869.2 416.9h0M869.3 414.3h0M869.4 414.2h0M870 415.8h0M872.9 417.5h0M873.4 415.2h0M875.3 419.4h0M875.8 414.2h0M875.9 416.2h0M876.2 418.4h0M876.4 418.7h0M876.5 416.4h0M876.6 418.4h0M876.8 417.4h0M876.9 417.4h0M877.1 416.1h0M877.3 415.5h0M877.7 416.7h0M879 416.4h0M879.9 416.8h0M882.1 416.9h0M882.2 415.9h0M884.2 413.7h0M884.3 415.1h0M885.4 412.6h0M885.9 414.8h0M886.2 414.8h0M889.8 372.7h0M890.2 358h0M891.1 348.8h0M891.4 352.3h0M891.9 352.1h0M893.2 352.4h0M893.3 353.6h0M894.4 389.4h0M894.5 392.4h0M894.8 403h0M895.2 412.5h0M896.6 416.7h0M896.7 419.1h0M897.8 418.7h0M898.1 416.3h0M898.5 418h0M898.7 416.6h0M900.1 416.9h0M900.8 415.6h0M901.1 421.8h0M901.2 419.2h0M901.4 416.3h0M903.3 419h0M903.7 414.8h0M904.1 419h0M904.5 420.1h0M904.6 416.5h0M904.7 416.7h0M905 419.3h0M906 415.4h0M906.1 416.3h0M906.2 414.7h0M906.5 417.9h0M907.2 418.2h0M908.8 416.1h0M909 417.7h0M910.2 414.7h0M910.6 416.2h0M910.7 419.1h0M911.1 421.3h0M912.8 415.5h0M914.8 416.9h0M914.9 412.4h0M915.1 419h0M915.3 415.1h0M916 414.9h0M916.6 413.5h0M917.1 412.7h0M917.4 414.1h0M918.3 414.6h0M918.4 415.8h0M920.2 417.5h0M920.5 416.6h0M921.3 415h0M922.2 413.7h0M922.3 415.4h0M924.3 414.1h0M925.2 414.1h0M926 413.8h0M926.4 414.6h0M927.1 414.8h0M928.5 414.1h0M928.6 415.3h0M930.4 416.1h0M930.4 415h0M931 414.6h0M932.2 415.8h0M932.5 405.9h0M932.9 368.6h0M933.1 347.9h0M933.9 212.8h0M935 101.3h0M935.6 99.8h0M936.4 104.3h0M936.8 112.9h0M937.2 150.1h0M937.4 175.3h0M938.2 320.8h0M939.9 416.5h0M940.3 415.7h0M940.9 416.5h0M941.2 418.5h0M941.6 417.5h0M941.9 418.6h0M944 418.6h0M944.1 417.4h0M944.3 420.3h0M944.7 420.1h0M944.9 418.7h0M945 419.4h0M945.1 421.8h0M945.2 420.8h0M946.3 420h0M948.3 420.2h0M949.5 421.9h0M950.7 421.9h0M951.2 422.9h0M951.4 418.6h0M952.1 419.6h0M952.4 421.5h0M952.5 418.3h0M952.9 419.8h0M953.9 418.5h0M954.2 417.8h0M955 419.7h0M955.4 418.7h0M955.6 421h0M957.5 418.5h0M957.9 418.1h0M958.3 416.8h0M958.8 419.6h0M958.8 415.8h0M960.4 417.1h0M960.7 418.8h0M961.8 417h0M962.3 413.7h0M962.5 415.2h0M963.8 417.3h0M964.4 415h0M964.4 414.3h0M964.5 412.8h0M964.8 413.4h0M964.9 413.2h0M965.3 411.9h0M965.6 418.4h0M965.9 414.8h0M966.2 412.6h0M966.5 414.9h0M967.7 414.3h0M968 414.5h0M968.1 413.7h0M969.4 415h0M970.1 412.5h0M971.1 413.3h0M972.1 413.2h0M973.9 414.2h0M974.6 410.3h0M975 413.8h0M975.4 412.8h0M976.2 415.2h0M976.9 390.6h0M977.1 392.7h0M978 355.5h0M978.5 346h0M979.2 347.7h0M980.6 347.1h0M980.6 348.1h0M980.8 352.6h0M981 350.6h0M981 350.5h0M984 416.2h0M984.7 415.3h0M985.1 419.4h0M985.3 420h0M986.6 418.5h0M986.8 416.3h0M986.9 415.7h0M987.1 416.5h0M987.7 416.7h0M989.1 416.7h0M989.4 421.6h0M989.5 416.7h0M990.5 418h0M992.2 417.9h0M992.7 416.6h0M992.8 417.4h0M993.8 418.1h0M994.7 419.3h0M994.8 415.3h0M996.5 416.9h0M996.9 419.7h0M997 417.2h0M997.5 415.8h0M997.7 417.7h0M998.6 420.6h0M999.4 415h0M999.6 416.4h0M1000.4 420.2h0M1002.3 415.7h0M1004.5 418.4h0M1005 416.2h0M1005.4 415.2h0M1006.1 415.6h0M1006.3 415.6h0M1006.7 418.9h0M1007.2 419.1h0M1008.2 412.7h0M1008.4 416.6h0M1008.5 414.4h0M1009.4 415.7h0M1009.9 417.3h0M1010 415.4h0M1010.9 417h0M1011.3 419.5h0M1011.7 413.5h0M1013.3 415.6h0M1014.2 413.8h0M1018 413.9h0M1018.6 415.1h0M1018.8 411.6h0M1019.7 414.1h0M1019.8 411.3h0M1019.9 416.3h0M1020.2 407.9h0M1020.5 395.7h0M1021.7 222.7h0M1023.2 93.8h0M1023.3 95.5h0M1024 92.9h0M1024.1 94.4h0M1025.2 170.4h0M1026.3 357.5h0M1026.9 410.4h0M1027.5 420.8h0M1029.7 419.8h0M1030.4 419.2h0M1031.1 420.3h0M1031.5 418.7h0M1031.7 421.2h0M1032.7 420.8h0M1034.1 420.7h0M1034.2 419.9h0M1034.8 420h0M1035.1 419.6h0M1035.5 422.8h0M1035.9 419.2h0M1036 418.8h0M1037.1 418.9h0M1038.1 422h0M1040.5 420.8h0M1040.6 421.6h0M1041 418.3h0M1041.3 422.7h0M1042.3 418.4h0M1042.4 418h0M1043.7 419h0M1043.9 419.1h0M1045 418.2h0M1045.2 417.5h0M1047.6 420.1h0M1047.7 419.4h0M1048.3 416h0M1048.5 416.5h0M1048.6 419.9h0M1048.6 417.1h0M1051.2 418.4h0M1051.7 418.4h0M1051.9 413.6h0M1052.8 417.2h0M1052.9 418.8h0M1053.2 413.7h0M1053.2 415.2h0M1053.3 417.9h0M1054.2 414.3h0M1055.1 415.4h0M1055.3 411.4h0M1055.8 420.3h0M1056.1 417.2h0M1056.3 413.6h0M1056.4 417.5h0M1057.4 418.2h0M1057.4 417.9h0M1058.4 412.8h0M1058.5 415.1h0M1058.8 414.1h0M1059.6 413.3h0M1060.3 416.1h0M1060.6 413.6h0M1060.8 412.9h0M1061.4 414.5h0M1062.4 411.1h0M1062.8 414.6h0M1063.7 414.3h0M1064.4 408h0M1064.6 391.9h0M1065.5 364.8h0M1066.6 345.7h0M1066.9 346h0M1067 344h0M1067.1 347.2h0M1067.3 345.6h0M1067.5 346.4h0M1067.9 342.4h0M1068 347.5h0M1068.8 347.6h0M1069 346.4h0M1069.4 357.5h0M1070 382.8h0M1070.5 397.7h0M1070.7 404h0M1072.4 415.9h0M1073 416.8h0M1074 413.2h0M1074.3 413.5h0M1074.5 414.7h0M1076 413.5h0M1076.8 412.8h0M1079.2 415.3h0M1080.1 416.3h0M1081.2 417.3h0M1081.6 415.3h0M1082.6 420.7h0M1082.8 414.1h0M1083.4 419.4h0M1085.9 414.7h0M1086.3 412.8h0M1086.8 413.8h0M1087.2 415.2h0M1089.9 416.7h0M1090.1 417.6h0M1090.3 414h0M1090.6 417.4h0M1090.9 418.4h0M1091.2 417.7h0M1092.6 417.5h0M1094.4 417.6h0M1094.8 415.1h0M1095.8 416.3h0M1096.2 414.2h0M1097.3 416.8h0M1097.6 418.1h0M1098.1 417.5h0M1098.4 414.7h0M1098.4 415.9h0M1100.5 417.1h0M1100.8 418.2h0M1100.8 415.6h0M1101 415.6h0M1101.8 419.4h0M1101.9 413.3h0M1102.4 415.7h0M1102.5 420h0M1103.2 417.6h0M1103.3 415.1h0M1103.3 415.9h0M1103.8 418.7h0M1104.3 413.9h0M1105.1 415h0M1105.7 414.9h0M1106.1 414h0M1107.1 415h0M1107.2 417h0M1107.9 415.8h0M1109.5 236.1h0M1110.5 99.8h0M1111 86.8h0M1111.2 89.1h0M1111.6 90.5h0M1111.7 89.6h0M1112.2 94.8h0M1113.5 258h0M1114.8 411.3h0M1115.4 412.3h0M1119.1 419.5h0M1120.1 421.5h0M1120.9 419.4h0M1121.1 420.7h0M1121.5 420.6h0M1122.9 422.2h0M1123.3 418.4h0M1123.4 421.2h0M1123.6 420.7h0M1124 421.3h0M1124.1 420.4h0M1125.4 422.2h0M1126.2 421.2h0M1128.1 419.9h0M1128.6 421.2h0M1129.6 420.4h0M1130.2 422.5h0M1130.4 419.4h0M1130.6 420.2h0M1131.2 421.1h0M1131.6 417.4h0M1132.5 418.1h0M1136.7 417.3h0M1137.2 415.9h0M1137.6 416h0M1138.3 417.1h0M1138.7 419.3h0M1138.9 417.6h0M1139.1 416.9h0M1139.7 417h0M1140.6 417.2h0M1140.8 416.3h0M1140.8 417.4h0M1142.2 415.4h0M1142.4 418.9h0M1142.6 417h0M1143 413.6h0M1144.3 415.7h0M1144.7 421.7h0M1145.8 417.5h0M1146.2 417.4h0M1146.4 419.3h0M1146.6 420.8h0M1146.7 417.7h0M1146.8 418.1h0M1148 417.1h0M1148.1 416.1h0M1149 419.4h0M1149.2 419.3h0M1149.9 418.2h0M1150.4 416.9h0M1151.3 417.9h0M1152.9 388.6h0M1153 386.1h0M1153.4 369.3h0M1153.8 355.2h0M1154.6 352.7h0M1155.3 346.4h0M1156.4 347.5h0M1156.9 352.1h0M1158.8 415.1h0M1159.3 416.8h0M1159.4 419.2h0M1160.6 415.1h0M1160.9 417.8h0M1161.9 415.9h0M1162.4 417.8h0M1163.9 419.6h0M1164.2 416.8h0M1164.7 419.1h0M1165.7 418.6h0M1167 416.6h0M1167.5 421.4h0M1167.8 418.8h0M1168 415.5h0M1168.1 415.6h0M1168.7 417.6h0M1169.1 417.6h0M1169.2 417.9h0M1171.5 418.8h0M1171.7 417.3h0M1171.8 418.3h0M1173.7 416.3h0M1174 419.7h0M1174.1 419.6h0M1174.9 415.8h0M1175.1 417.3h0M1175.4 421.5h0M1176.1 417h0M1176.3 418.5h0M1177.2 416.9h0M1177.5 416.9h0M1180.3 417.5h0M1180.5 419.2h0M1182.5 415.4h0M1182.7 418h0M1184 417.8h0M1184.2 418.8h0M1186.2 419.6h0M1188.7 418.2h0M1190.2 418.4h0M1192.2 417.8h0M1192.6 418.9h0M1193.7 417.2h0M1193.9 419.4h0M1194 418.1h0M1194.4 414.6h0M1194.7 417.3h0M1195.5 417h0M1196.4 386.2h0M1196.5 366.3h0M1197.2 252.9h0M1197.6 191.7h0M1197.7 170.7h0M1198.2 112h0M1198.5 100.5h0M1199.6 90.5h0M1200 98.8h0M1200.5 120.2h0M1201.1 212.8h0M1201.4 255.9h0M1203.4 416.9h0M1203.5 418h0M1203.8 415.4h0M1204 418.3h0M1204.4 419.8h0M1205 420h0M1205.3 416.7h0M1205.4 420.4h0M1208 417.1h0M1208.1 415.8h0M1208.4 417.1h0M1208.5 417.7h0M1209.2 419.7h0M1209.7 419.9h0M1210.5 416.1h0M1211.9 418.8h0M1213.1 421.6h0M1215.1 427.4h0M1217.7 420.4h0M1218.3 421h0M1219.2 420.6h0M1219.7 418.1h0M1220.4 426h0M1220.5 421.3h0M1221.8 421.7h0M1224.1 417h0M1225 420.6h0M1225.4 419.1h0M1225.4 418.7h0M1226.6 417.8h0M1227.9 423.9h0M1228.8 417.6h0M1229.4 418.6h0M1229.6 418.8h0M1229.7 421h0M1231.2 422.7h0M1231.6 417.3h0M1233.9 420.3h0M1233.9 417.9h0M1234.8 417.1h0M1235.1 416h0M1235.9 417h0M1237.2 419.9h0M1238.1 415.8h0M1238.7 419.3h0M1238.8 417.8h0M1243.1 352.1h0M1246 397.9h0M1246.4 410.2h0M1246.9 418.1h0M1248.3 417.6h0M1248.5 416.7h0M1248.7 417.5h0M1249.3 418.7h0M1249.6 417.2h0M1250.4 417.2h0M1251 417.7h0M1251.5 416.8h0M1252.1 416.1h0M1252.9 417.4h0M1255.8 419h0M1257.1 417.9h0M1257.8 415.4h0M1258.1 417.6h0M1258.2 417.3h0M1258.3 413.5h0M1258.4 417.4h0M1258.8 416.8h0M1259.1 418.2h0M1259.2 414.2h0M1259.6 418.2h0M1259.7 419.1h0M1260.4 416h0M1261.6 415.8h0M1261.7 420.5h0M1262.1 416.6h0M1262.3 420.6h0M1262.7 417.4h0M1263 418.5h0M1263.3 415.1h0M1263.9 416.8h0M1264.7 416.2h0M1265.1 419.3h0M1265.4 415.3h0M1265.5 414.9h0M1265.8 415.3h0M1267.2 418.9h0M1269.5 421.1h0M1271 419.6h0M1271.9 415.9h0M1272.2 415.5h0M1273.1 416.6h0M1273.6 417h0M1273.6 418.8h0M1274.1 419h0M1274.3 417.8h0M1275.3 418.3h0M1276.2 416.9h0M1278.9 417.3h0M1279.1 417.7h0M1279.6 416.9h0M1279.8 414.3h0M1280.1 415.1h0M1280.3 418.3h0M1280.6 419.5h0M1281.7 417.3h0M1281.9 415.7h0M1283 415.3h0M1283.2 414.3h0M1283.6 417.7h0M1283.7 417h0M1283.8 411.9h0M1283.9 408.1h0M1284.1 396.7h0M1285.6 162.5h0M1286.7 89.5h0M1289.1 245.2h0M1289.7 339h0M1290.5 414.4h0M1290.8 417.6h0M1293.2 416.9h0M1294.4 418.1h0M1295.3 419.4h0M1296.5 419.1h0M1297.3 419.7h0M1298.8 419.1h0M1299.3 418.9h0M1301.2 415.9h0M1302.2 421.7h0M1302.7 420.5h0M1303.9 420.3h0M1304.1 419.2h0M1304.2 419.1h0M1304.9 421h0M1305.2 419.6h0M1305.9 419.4h0M1306.4 418.6h0M1306.6 422.8h0M1306.8 420.3h0M1306.9 418.8h0M1307.5 420.9h0M1307.6 421.1h0M1308.8 418.3h0M1310.7 423.1h0M1311 418.3h0M1312.2 419.7h0M1313.1 417.4h0M1313.3 419.3h0M1313.5 420.3h0M1313.8 419.6h0M1314 418.6h0M1315.2 418.4h0M1315.7 418.3h0M1317 413.5h0M1319.8 413.4h0M1320.3 418.6h0M1323.5 414h0M1325.8 417.3h0M1326.4 414.9h0M1326.8 415.9h0M1326.8 412.3h0M1328.8 383.7h0M1332.8 360h0M1333 365.4h0M1333.1 369.5h0M1334.2 407.8h0M1334.4 409.9h0M1335.2 414.1h0M1337.1 417.9h0M1337.3 417.3h0M1337.6 417.1h0M1337.6 414.8h0M1338.7 417.3h0M1339.3 418.4h0M1339.5 418h0M1340.7 417.1h0M1341.4 418.3h0M1341.5 417.8h0M1341.7 415.4h0M1342.4 417h0M1343.4 416.3h0M1343.9 419.4h0M1344.3 420.9h0M1345.7 417.7h0M1346 416.9h0M1346.1 419.9h0M1348.7 416.6h0M1348.8 417.4h0M1349.7 419.1h0M1349.8 414.8h0M1350 418h0M1351.8 418.1h0M1354.6 416.2h0M1354.6 417.3h0M1356.2 417.4h0M1357.7 415.6h0M1358.1 417.6h0M1358.5 418.6h0M1358.8 417.1h0M1359.2 418h0M1359.3 418.5h0M1360.7 416.9h0M1360.9 414.6h0M1361 417.4h0M1362.4 415.5h0M1362.6 414.8h0M1363.1 416.3h0M1363.4 418.8h0M1364.2 414.6h0M1364.7 413.4h0M1365.3 416.8h0M1366.1 415.3h0M1366.4 415.4h0M1366.6 412.5h0M1366.8 414.9h0M1366.9 416.9h0M1368.2 418.6h0M1368.7 415.5h0M1369.2 416.5h0M1372.4 339.7h0M1372.7 292.4h0M1373 237.9h0M1373.2 206.8h0M1373.8 117.9h0M1373.9 103.8h0M1374.4 90.8h0M1374.7 89.6h0M1375.2 88.8h0M1375.3 89.5h0M1375.4 93.2h0M1376.6 155.6h0M1377.4 306.8h0M1378.8 419.7h0M1379.5 419.3h0M1379.9 417.5h0M1380.4 419.2h0M1381.1 417.6h0M1381.2 418.1h0M1383.2 419.5h0M1383.3 417.4h0M848 83.2h0"/>
<path d="M257.2 418.1h0M258.1 421h0M258.3 420.6h0M258.7 420.4h0M259.4 418.8h0M260 419.6h0M260.2 418.2h0M260.4 419.1h0M260.5 420.7h0M261.5 418.7h0M261.9 416.6h0M262.5 419.3h0M263.3 415.6h0M263.7 418h0M264.8 418.8h0M265.5 417.6h0M266.4 417.8h0M267.3 416.8h0M267.5 417.1h0M267.9 419h0M268.7 417.6h0M268.9 417h0M269.7 419.4h0M269.7 418.4h0M270.4 417.7h0M270.6 418.7h0M270.6 417.1h0M271.4 415.6h0M272.7 414.6h0M274.5 385h0M275 366.4h0M276.1 352.8h0M276.3 353.1h0M276.8 349h0M277.3 350.9h0M278.7 366.5h0M280.5 415.8h0M280.9 417.1h0M281.2 418.3h0M281.6 415.6h0M282 416.1h0M282.8 413.8h0M284.4 418.2h0M284.5 418.7h0M284.7 415.4h0M284.8 416.6h0M286.2 415.6h0M286.5 416.5h0M289.1 412.8h0M289.2 417.1h0M290.3 417.1h0M290.7 414.4h0M291.1 413.8h0M291.4 415.2h0M292.8 413.7h0M293.2 415.8h0M293.5 419h0M294.7 414.7h0M296.3 412.7h0M296.8 416.6h0M297 415.5h0M297.8 414.2h0M297.9 413.4h0M298.2 415.7h0M299.7 414.4h0M299.9 415.2h0M300.3 413.6h0M300.6 413.9h0M301 414.9h0M301.2 413.1h0M301.8 414.7h0M301.9 416h0M303.1 415.6h0M303.2 415.1h0M303.4 414.4h0M303.5 412h0M305.9 411h0M306.4 415.2h0M306.8 416.2h0M307.9 415.1h0M308 413.1h0M308.3 415.9h0M309.3 415h0M309.4 414.1h0M310.3 415.5h0M310.6 415.1h0M311.1 415.6h0M311.3 414.5h0M312.4 412h0M314.1 418.5h0M314.4 418.6h0M314.5 414.4h0M317.1 413.1h0M317.7 395.2h0M317.9 379.7h0M318.6 282.4h0M319.1 186.3h0M319.3 155.2h0M320 100.6h0M320.1 90h0M320.3 97.5h0M321.8 102h0M322.9 267.7h0M323.1 299.7h0M323.4 334.3h0M323.9 395h0M324.3 412.7h0M325 418.4h0M326.8 414.8h0M327 416.6h0M327.3 415.2h0M327.5 415.8h0M328.4 415.8h0M328.7 417.7h0M329.4 415.8h0M330.7 420.6h0M331.9 417.2h0M332.5 418.9h0M333.7 419.9h0M334.1 421.5h0M335.5 418.6h0M336.1 421.3h0M337 417.4h0M339 418.5h0M340.3 417.6h0M341.8 418h0M344.6 419h0M346.4 417.4h0M346.5 420.9h0M348.1 418.9h0M348.9 417.9h0M350.7 419.7h0M351.1 414.5h0M351.3 421.2h0M351.9 416.1h0M352 417.5h0M352.3 417.9h0M354.4 415.7h0M354.7 416.4h0M354.8 419h0M356.3 418.1h0M356.8 414.4h0M356.9 414.4h0M357.3 418.5h0M358.6 416.8h0M359.3 415.3h0M360.4 418.5h0M361.2 413.4h0M361.6 411.5h0M362.2 390.6h0M362.7 368.5h0M364.2 350.7h0M364.4 347.2h0M364.6 353.1h0M364.8 352.1h0M365 354.1h0M365 352.1h0M365.7 354.8h0M365.8 353.8h0M367.9 408.9h0M371.4 421.3h0M371.4 419.4h0M371.7 416h0M371.8 416.6h0M372 416.1h0M372.5 417.4h0M372.6 417.8h0M372.8 417.6h0M372.9 420.9h0M373.8 416.2h0M373.9 417.3h0M375.3 416.5h0M375.7 415.1h0M376 416.5h0M377.9 418.6h0M378.4 415.1h0M379.3 419.4h0M379.5 416.9h0M380.2 414.3h0M380.6 412.7h0M380.7 417.6h0M381.3 417.3h0M382.3 413.2h0M382.9 416.6h0M383.5 419.4h0M383.8 414.7h0M384.3 415h0M384.9 414h0M385 415.1h0M385.7 416.5h0M386.3 416.7h0M386.9 415.1h0M387.7 415.9h0M388.6 414.8h0M388.7 415.6h0M388.9 415.9h0M390.1 415h0M391.3 416.5h0M391.4 411.3h0M392 418h0M392.2 413.5h0M392.6 411.7h0M393.8 410.4h0M395.4 414h0M397.4 414.4h0M397.8 415.4h0M398.6 411.7h0M399.1 414.2h0M399.4 414.5h0M399.7 411.2h0M399.8 413.9h0M400.3 414.6h0M401 415.8h0M401.7 412.1h0M402.3 411.2h0M403 415.1h0M403.3 415.5h0M404 414.4h0M404.8 416.6h0M406 350.1h0M406.1 335.3h0M407.6 108.9h0M408.7 97.1h0M408.8 96.8h0M408.9 99.4h0M409.1 96.9h0M409.5 105.3h0M410 129.5h0M410.5 210h0M411.1 314.5h0M411.5 369.8h0M411.9 400.8h0M412.5 417h0M412.7 415.4h0M413.4 415.9h0M413.8 416.4h0M414 417.1h0M414.3 415.3h0M414.6 417h0M414.7 418h0M415.4 416.9h0M415.7 419.3h0M416.7 419.9h0M416.7 418.7h0M418.2 420.6h0M419.6 422.9h0M420.7 421.1h0M421.7 420h0M421.8 416.8h0M422 421.5h0M422.2 421.9h0M423.3 421.1h0M424.7 420.6h0M426 421.4h0M426.4 418.4h0M427 420.4h0M427.5 421.1h0M427.7 421.4h0M427.8 424.2h0M428 419.9h0M428.6 422.6h0M429.7 417.7h0M430.2 416.6h0M430.9 419h0M431.3 420h0M432 424.7h0M432.7 419h0M434.2 421.3h0M434.3 421.5h0M434.8 421.4h0M435.8 425.1h0M436.1 418h0M436.5 419.1h0M436.8 422.1h0M436.9 420.6h0M437.3 422.3h0M437.8 421.1h0M438 417.6h0M438 421.9h0M438.1 417h0M438.6 420.1h0M439.2 419h0M440 421.3h0M440.1 419.9h0M440.1 420.7h0M441.1 419.6h0M441.6 418.6h0M441.8 421.3h0M442.1 417.1h0M442.3 417.5h0M442.6 420.3h0M442.8 420h0M443.1 421.2h0M443.8 419.6h0M444.8 418.1h0M445.1 419.1h0M445.3 419.7h0M445.9 419.6h0M446.1 419.1h0M447.2 417.2h0M447.9 415h0M448.6 416.6h0M449.1 418.7h0M449.5 406.5h0M450 395.3h0M450 390.5h0M450.1 391.2h0M450.5 375.7h0M450.7 367.1h0M450.9 360.9h0M450.9 357.5h0M451.7 350.2h0M451.8 349.1h0M452 352.4h0M453.5 353.8h0M453.8 354.5h0M455.6 404h0M456.7 420.6h0M459.2 417.5h0M460.4 418.7h0M461.1 418.1h0M461.3 418.2h0M461.5 415.4h0M464.6 417h0M464.9 416h0M466.1 415.5h0M467.1 416.9h0M467.6 418.5h0M467.9 416.1h0M468.3 418.8h0M469.4 416.9h0M469.7 414.9h0M470 416.9h0M470.7 417.8h0M471.1 417h0M471.4 414.8h0M471.7 416.5h0M472.1 418.1h0M472.4 419.4h0M472.8 416.4h0M473.2 414h0M473.8 416.8h0M474.1 416.7h0M474.6 418.5h0M476.1 416h0M476.3 414.5h0M477.4 416.2h0M477.7 416.1h0M478.3 413.4h0M478.7 418.9h0M479.6 416.3h0M481.2 415.3h0M481.8 415h0M482 416.7h0M482.2 411.5h0M482.9 414.4h0M483.2 416.4h0M484.1 412.1h0M484.2 416.3h0M484.6 413.2h0M485.8 413.3h0M486.4 414h0M486.6 413.9h0M488.7 409.3h0M489 413.7h0M489.7 415.3h0M490.7 414h0M492.2 410.9h0M492.6 414.6h0M492.8 413.4h0M494.1 314.9h0M494.6 230.3h0M494.9 172.3h0M495 144.5h0M495.2 121.2h0M496.8 94.9h0M497.1 97.5h0M498.3 202.8h0M498.4 232.3h0M499.2 354h0M501 418.4h0M503.4 417.7h0M504.5 422.4h0M504.5 421.4h0M504.8 418.5h0M505.2 418.5h0M506.1 414h0M506.3 416.5h0M506.5 418.2h0M508 417.2h0M508.5 416.6h0M510.4 418.5h0M510.9 419.5h0M511.7 419.3h0M513 418.6h0M513.3 421.3h0M514.2 419.3h0M514.9 420.1h0M516.2 421.2h0M516.5 417.9h0M517.2 416h0M517.7 421.6h0M518.4 417.7h0M518.6 416.9h0M518.8 418.3h0M520 418.8h0M521.1 420.5h0M522.7 418.2h0M524.1 420h0M524.7 415.7h0M524.9 417.2h0M525.4 419.6h0M525.6 416.9h0M526.1 417.3h0M527.1 417h0M527.4 421.8h0M527.6 418.7h0M528.5 417.5h0M528.7 417.1h0M529.1 415.1h0M530.8 415.2h0M530.9 414.9h0M531.1 418.8h0M531.5 417.1h0M532.3 416.2h0M533.2 413.6h0M533.3 416.5h0M535.5 416.1h0M536.5 415.1h0M537.1 413.5h0M539 349.5h0M539.4 349.8h0M540 352.6h0M540.5 349h0M543.7 414.5h0M543.8 414.7h0M544.8 416.9h0M545.2 421.1h0M545.3 418.6h0M545.8 418h0M546.1 417.8h0M546.3 418.6h0M546.6 417.5h0M547.3 418h0M549.5 416h0M549.9 416.4h0M550 419h0M550.9 417.9h0M551.1 417.4h0M551.4 416.4h0M551.6 417.2h0M551.9 415.8h0M552.3 416.2h0M552.7 417.1h0M553.7 419.4h0M554.2 420.1h0M554.7 418h0M555.2 417.8h0M555.8 414.8h0M558.5 417.8h0M558.7 416.7h0M561.3 418.2h0M562.8 416.7h0M562.9 418.9h0M563 418.1h0M565 417.5h0M565.7 415.5h0M565.8 412.3h0M566.3 415h0M566.5 416.6h0M566.9 417.1h0M567.8 414.9h0M567.9 415.1h0M568.3 418.1h0M569.1 417.5h0M569.7 414.8h0M570.6 414.3h0M570.7 418.3h0M572.1 411.8h0M572.7 414.7h0M572.8 414.1h0M573.2 412.6h0M573.8 414.3h0M575.1 413.8h0M576.5 415.5h0M580.4 418.2h0M580.9 413.6h0M581.3 392.5h0M582.8 163h0M582.9 143.9h0M583.2 118h0M584 96.1h0M584.1 96.4h0M584.7 96.8h0M587.9 415.2h0M588.4 416.2h0M589.1 415.8h0M590.1 416.6h0M592.7 415.7h0M594.5 417.1h0M594.9 418.4h0M595.9 417.7h0M596.4 418.4h0M596.6 419.7h0M597.1 418.4h0M597.5 419.2h0M597.6 423h0M598.1 422.2h0M598.7 420.3h0M598.8 419.7h0M599.8 418h0M600.8 419.9h0M602.4 418.5h0M602.8 420.4h0M603.4 419.9h0M603.6 421.2h0M603.9 416.3h0M604 417.6h0M604.3 417.6h0M604.5 418.3h0M605.9 419.6h0M606.8 419h0M606.9 416.8h0M607 418.5h0M607.5 419.1h0M607.8 416.1h0M608.7 416.2h0M609.7 415h0M610.1 420.5h0M610.7 417.5h0M612.2 416.2h0M612.4 416.9h0M612.8 416.4h0M613.3 417.4h0M613.4 417.2h0M613.9 420.9h0M614 414.1h0M615.4 416h0M616.1 414.7h0M617.4 415.7h0M617.5 413.3h0M618.2 415.1h0M618.7 416.6h0M619.5 415h0M619.8 415.1h0M620.6 418.3h0M621.3 416.1h0M622 412.6h0M622.5 416.5h0M622.8 415.1h0M623.3 416.9h0M623.5 413.2h0M623.6 414h0M624.3 413.4h0M625.1 407.9h0M625.4 394.2h0M625.8 388.8h0M626.1 377.2h0M627.3 348.1h0M629.4 348.7h0M629.5 350.6h0M630.5 379.7h0M631.1 396.1h0M631.2 395.3h0M631.3 401h0M631.9 417.2h0M633.6 417.8h0M634.1 417.9h0M634.7 419.3h0M635.3 415.7h0M635.5 418.7h0M635.6 416.6h0M636 420.3h0M637.8 416.6h0M638.3 418.2h0M638.6 420.5h0M638.8 418.4h0M639.3 418.5h0M640.2 416.6h0M641.1 417h0M641.9 416.2h0M643 416.8h0M644.2 414.3h0M645.4 416.1h0M646.1 417.1h0M646.2 417.8h0M646.4 420.5h0M646.6 422h0M646.7 416.1h0M647.6 419h0M648.6 417.8h0M649.1 416.7h0M649.4 417h0M649.5 419.9h0M649.9 416.7h0M650 418.6h0M650.5 418.7h0M652.4 415.3h0M652.7 415.2h0M654.1 417.7h0M654.3 415.1h0M654.7 415.4h0M654.8 414.2h0M655.6 414.2h0M655.9 415.5h0M655.9 415.7h0M659.1 414.9h0M659.7 414.2h0M659.8 415.4h0M660.7 417.9h0M661.1 414h0M663.5 413.8h0M665 412.6h0M665.2 414.5h0M665.4 415.8h0M666.8 414h0M667 411.8h0M668.7 411.7h0M668.9 405.1h0M670.5 194.6h0M671.3 105.5h0M671.9 94h0M672.7 94.5h0M673.2 108.9h0M673.3 107h0M673.3 113.8h0M673.5 129.7h0M674.1 232.8h0M674.8 338.6h0M675.9 415.3h0M676.8 416.9h0M677.3 416.3h0M677.4 413.4h0M678 416.3h0M678.6 416.7h0M678.7 414.8h0M678.8 416h0M680.1 416.7h0M680.2 420.5h0M680.3 420.1h0M681.7 417.1h0M682.8 419.5h0M683.3 416.3h0M683.7 419h0M684.4 420.8h0M685.1 418h0M685.7 420.5h0M686.1 420h0M686.2 419.9h0M687 422h0M687.9 420h0M688.5 419h0M688.8 417.4h0M689.9 420h0M690 419.3h0M690.1 419.8h0M691.6 420.4h0M692.2 416.3h0M693.1 415.2h0M693.4 416.6h0M693.9 416.9h0M694.4 415.3h0M694.6 414.9h0M694.8 416.4h0M695.4 415.8h0M696 416.2h0M696.3 413.2h0M700 419.4h0M700.2 421.4h0M701.8 417.5h0M702.4 415.2h0M704.4 416h0M704.7 416.6h0M705.6 416h0M705.8 415h0M708 417.4h0M708.3 418h0M709 413.5h0M709.2 418.1h0M712.2 417.2h0M714.1 369.1h0M714.3 361.8h0M714.5 359.6h0M714.9 351.3h0M715.4 349.9h0M715.9 351.4h0M716.3 353.6h0M716.9 351.5h0M717.3 351.1h0M717.4 351.1h0M720 417h0M720.7 417.3h0M721.3 415.6h0M721.6 418.1h0M721.9 419.8h0M722.8 417.7h0M723.2 414.8h0M723.5 416.5h0M724.1 416.7h0M724.3 415.1h0M726.6 419.2h0M728 416.4h0M729.4 415.3h0M731.1 416.3h0M731.2 416.5h0M731.5 413h0M732.2 415h0M736.7 416.3h0M737.1 415.5h0M737.8 418h0M737.8 415.3h0M738.9 417.2h0M740.7 418.1h0M741.2 416.4h0M741.5 414.9h0M742.3 415.9h0M743 414.4h0M743.2 414.1h0M743.5 417.8h0M743.8 412.9h0M745.5 419.8h0M745.7 414.3h0M745.8 415.7h0M747.3 414.4h0M747.9 416.4h0M748 416.6h0M748.1 416.4h0M749.8 415.2h0M749.9 416.7h0M750.1 414h0M750.4 416.2h0M752.9 413.8h0M754.6 416.9h0M755.3 418.2h0M755.7 415.2h0M756.5 417.4h0M757.2 373h0M757.3 366h0M757.6 324h0M758.1 234h0M758.4 178.5h0M758.6 156.4h0M759.2 105.9h0M760.4 96.5h0M760.8 104.4h0M761.4 132.8h0M761.8 195.3h0M763.1 397.6h0M764.4 419.9h0M765.7 421.7h0M766.3 421.8h0M766.4 417.6h0M767 420.3h0M767.1 419.5h0M767.4 417.6h0M767.4 421.2h0M768.5 424.2h0M769.6 424.6h0M770.7 419h0M771.1 417.6h0M771.5 417.8h0M774.2 417.1h0M775.1 417.8h0M776 419.2h0M777.6 414.8h0M778 417.6h0M778.2 419.7h0M778.7 417.2h0M778.9 416.1h0M779.2 416.5h0M779.4 417.8h0M779.8 418.8h0M781.5 420.9h0M782.3 418.4h0M782.9 419.9h0M784.7 421.1h0M784.8 419.1h0M786.2 416.8h0M786.3 419.5h0M786.4 419.6h0M787.6 417.5h0M787.7 416.3h0M788.6 416.7h0M789.2 417.7h0M789.6 416.7h0M790.2 416.4h0M791.2 416.2h0M791.9 414.6h0M792.7 417h0M792.8 417.6h0M794.1 416.8h0M794.6 418.4h0M794.8 414.2h0M796.7 414.1h0M797.4 414.4h0M798.8 415.4h0M799 413.8h0M801.5 387.2h0M801.7 381.1h0M844.3 418.1h0M844.7 406h0M845.1 375.9h0M845.8 269.4h0M845.9 247.9h0M846.6 127.5h0M848.7 101.7h0M849 108.2h0M850.1 286.9h0M850.7 372.1h0M851.9 419.3h0M852.1 418.5h0M852.5 416.2h0M852.9 419.8h0M856.2 419.9h0M856.4 420.6h0M856.6 420.4h0M856.9 416.7h0M858.8 420.4h0M859.3 421.2h0M859.6 419h0M860.7 416.9h0M862.5 417.3h0M864.4 421h0M864.9 421.9h0M865.3 421.8h0M866.6 417.1h0M867.3 418.5h0M868.1 419.7h0M868.8 417.8h0M869 418.5h0M869.5 418.6h0M869.7 416.8h0M869.8 418.8h0M869.9 415.1h0M870.4 417.1h0M870.5 416.3h0M871.7 416.2h0M872.6 414.9h0M872.7 416.9h0M873.5 417.5h0M873.8 416.2h0M873.8 417.1h0M874.7 418h0M875.1 415.9h0M875.7 420.9h0M876.2 415.8h0M876.8 414h0M877.1 414.9h0M877.2 418.1h0M878.3 415.1h0M878.6 413.7h0M878.9 416h0M879.3 415.5h0M880.2 414.4h0M880.7 417.5h0M881.1 417.4h0M882 416.4h0M882.9 415.6h0M883.9 417.2h0M885.6 414.2h0M886 415.2h0M886.4 414.2h0M886.6 416.4h0M887.7 416h0M888.3 415.5h0M890.6 350.1h0M891 354.5h0M891.7 355.4h0M892 351.9h0M892.1 350.6h0M893.8 370.6h0M894.2 388.4h0M894.9 407.3h0M895.9 414.9h0M896.1 419.2h0M896.2 413.5h0M897.7 417.2h0M897.7 416.6h0M898.2 417.4h0M900.2 418.6h0M900.4 415.8h0M900.5 417.4h0M901.6 417.5h0M902.8 417.5h0M904 420.5h0M904.2 417.5h0M904.8 418.2h0M905.1 418.2h0M906 419.3h0M906.4 419.5h0M906.4 418.9h0M906.8 420.9h0M907.9 416.8h0M908.3 417.7h0M908.9 416h0M909.6 416.9h0M909.8 413.8h0M910.4 416.3h0M911 415.3h0M912.5 414h0M913.1 416.4h0M913.9 416.2h0M914.7 415.8h0M915.5 414.8h0M915.7 416.7h0M915.7 415.2h0M915.9 416h0M917.1 418.1h0M917.2 413h0M917.3 413.4h0M917.9 412.8h0M919.1 415.1h0M920.7 416.2h0M920.9 413.5h0M921.1 412.2h0M921.2 415h0M921.9 413.2h0M923 417.5h0M924 418.4h0M925.3 415h0M926.6 415.1h0M927.8 413.6h0M928 417.2h0M928.7 415.2h0M929.6 416.7h0M930.3 415.6h0M930.5 413.4h0M931.1 418h0M931.8 415.7h0M932.2 413.3h0M932.8 387.6h0M935.9 96h0M936.2 95h0M936.5 100.8h0M937.6 219.9h0M937.8 248.5h0M939.5 416.9h0M939.6 413.5h0M941 419.9h0M941.2 416.4h0M941.5 417.5h0M942.7 421.9h0M943.4 418h0M944.2 418.6h0M944.8 417.1h0M945.9 416h0M946.1 422.3h0M946.3 420.3h0M947.1 423.9h0M947.7 419h0M948.4 421.8h0M949.3 422.4h0M949.5 424.6h0M949.8 417.6h0M950 421.8h0M950.2 423.6h0M950.4 421.7h0M952.1 420.9h0M953.2 420.8h0M954.3 420.2h0M955.8 417.9h0M956.1 418.1h0M956.4 414.7h0M956.8 420.3h0M957.1 421.7h0M957.5 419.5h0M957.8 417.1h0M958.1 418h0M959 418.1h0M961.3 415h0M962.6 417.8h0M963.4 419.3h0M963.9 415.3h0M963.9 413.8h0M964.6 417.8h0M966 414.5h0M966.5 413.1h0M967.3 414.9h0M970.1 414.2h0M970.5 413.2h0M971.3 414.5h0M971.4 412.2h0M972.5 414.9h0M973.6 413.3h0M973.9 412.5h0M974.6 412.8h0M977.8 365.9h0M978.1 353.1h0M978.4 345.3h0M978.9 347h0M979.6 347.6h0M979.8 349.3h0M980.7 351.3h0M982.2 385h0M983.4 415.6h0M983.7 415.1h0M984.5 413.2h0M984.7 415.5h0M984.9 416.9h0M986.7 417h0M987.8 416.8h0M989.5 418.3h0M991.2 416h0M992 418.7h0M992.3 420.3h0M996.5 419.1h0M996.9 416.7h0M998.2 418.9h0M998.5 417.6h0M999 417.4h0M999.6 416.3h0M1001.4 415.5h0M1002.2 415.5h0M1003.2 416.9h0M1005.6 418.5h0M1005.8 415.7h0M1006.5 415.2h0M1006.9 415.4h0M1007.7 414.9h0M1007.9 414.3h0M1008.5 415h0M1008.6 414.3h0M1008.8 415.2h0M1009.1 416.3h0M1009.3 415.8h0M1009.8 413.5h0M1009.9 416.5h0M1010.1 411.7h0M1011.1 413.1h0M1012.8 411.4h0M1013.2 413.2h0M1013.5 414.3h0M1013.7 414.3h0M1014.8 417.7h0M1015.2 413.6h0M1016.3 412.4h0M1016.8 416.7h0M1017 415.2h0M1018.7 414.8h0M1019 414h0M1019.2 414.1h0M1020 419.9h0M1020.5 399.5h0M1021.6 234.9h0M1022 175.1h0M1023 99h0M1023.6 95.8h0M1024.4 98.4h0M1024.8 121.6h0M1024.9 129.6h0M1025.9 295.4h0M1026.2 349.7h0M1026.7 397.6h0M1027.2 418.1h0M1027.2 419.7h0M1027.5 417.8h0M1030.1 415.5h0M1030.5 421.1h0M1030.6 419.7h0M1030.6 415.7h0M1031 421.7h0M1031.4 417.3h0M1032 419.5h0M1032.4 420.2h0M1033.3 422.5h0M1033.4 418.6h0M1034.3 419.7h0M1034.4 421h0M1034.6 422.4h0M1036.3 417h0M1036.6 420.6h0M1036.7 420.9h0M1037 422.7h0M1037.7 420.2h0M1038.5 421.5h0M1038.9 423.6h0M1039.4 419.5h0M1039.9 419.6h0M1040.7 418.6h0M1041.5 423.2h0M1041.6 419h0M1042 415.9h0M1042.1 419.9h0M1042.6 418.4h0M1042.7 421.1h0M1043.2 418.7h0M1044 418h0M1044 416.6h0M1044.5 417.9h0M1044.6 417.5h0M1045.7 417.8h0M1047.5 416.3h0M1048.4 418.3h0M1048.7 416.4h0M1048.8 417.3h0M1049.2 416.3h0M1050.1 418h0M1050.5 414.5h0M1051.2 416.4h0M1052.7 414.1h0M1053.8 416h0M1053.9 414.7h0M1054.9 413.8h0M1055.3 412.2h0M1055.4 416.8h0M1056.2 413.4h0M1056.7 415.2h0M1056.7 416.2h0M1058 414.5h0M1058.7 412.7h0M1059.7 416.3h0M1060.2 418.1h0M1063 410.6h0M1063.9 411.9h0M1064.5 397.1h0M1064.6 392.1h0M1065.6 372.4h0M1068.3 346.5h0M1069.8 375.4h0M1069.8 381h0M1070 385.2h0M1071 414.2h0M1072.6 413.4h0M1074.2 412.4h0M1075.2 413.2h0M1075.5 416.4h0M1075.9 411.9h0M1076.1 414.1h0M1076.4 416.1h0M1076.6 412.3h0M1076.9 416h0M1079.9 418h0M1080 414.8h0M1080 416.3h0M1081.7 413.2h0M1082.2 414.3h0M1082.7 415.2h0M1083.2 412.9h0M1084.5 415.8h0M1084.7 415.8h0M1085.2 417.8h0M1085.6 415.7h0M1086.1 417.3h0M1087.8 417.4h0M1087.9 415.8h0M1088.2 417.4h0M1088.7 418.7h0M1089.7 416.4h0M1090.3 417.1h0M1092.4 415.9h0M1092.6 416.8h0M1092.9 417h0M1094 417.8h0M1095 418.7h0M1097.2 415.5h0M1099.3 414.8h0M1100 413.9h0M1100.6 417.2h0M1101.7 417.1h0M1102.5 415.4h0M1102.6 413.8h0M1106.9 413.8h0M1107.4 418.8h0M1109.8 187h0M1110.5 101.7h0M1110.7 92.5h0M1110.9 93.4h0M1111.3 91.5h0M1112.4 98.2h0M1112.8 139.5h0M1113.3 203.9h0M1116.6 415.1h0M1119.3 417.8h0M1121.7 422.5h0M1121.8 416.5h0M1122.3 419.8h0M1122.3 421.2h0M1123.6 421.7h0M1124.6 421.2h0M1124.8 418.9h0M1125.8 419.5h0M1126.4 420.3h0M1126.9 419.3h0M1127 419h0M1127.6 420.5h0M1128.3 419.6h0M1128.5 421.3h0M1130.5 420.1h0M1130.8 422.2h0M1131.5 420.6h0M1131.7 422.1h0M1131.8 418.4h0M1132.4 417.6h0M1132.4 420.2h0M1133.2 419.5h0M1134.2 418.6h0M1134.4 419.1h0M1134.7 418.4h0M1135.1 419h0M1135.3 422.8h0M1136.3 419.6h0M1136.6 417.1h0M1136.6 419.9h0M1138.5 417.2h0M1138.7 418.5h0M1139.2 417.7h0M1139.3 416.8h0M1139.4 419.2h0M1140.5 416.2h0M1141.1 419.7h0M1141.3 414.8h0M1142.3 418.3h0M1142.4 418.3h0M1143.7 420.1h0M1145.1 416.4h0M1146.3 418.7h0M1146.4 418.7h0M1146.5 416.8h0M1147.1 417.7h0M1147.1 415.4h0M1147.9 415.7h0M1148.3 419.8h0M1148.6 418.9h0M1149 418.9h0M1150.1 419.1h0M1150.4 415.4h0M1151 418.6h0M1153.2 374h0M1155.1 349.3h0M1155.2 350.2h0M1156 346h0M1156.6 345.3h0M1157.1 359.2h0M1158.1 393h0M1158.2 395.5h0M1160.3 419.5h0M1161.6 416.5h0M1162 419.8h0M1162.3 422.1h0M1162.6 416.2h0M1163.2 417.5h0M1164.1 416.6h0M1165.5 416.3h0M1165.6 416.9h0M1165.8 417.7h0M1166.2 418.7h0M1167.7 420.3h0M1168.2 416.5h0M1169.3 418h0M1169.7 419.4h0M1170 420.8h0M1171.1 418.6h0M1171.1 416.3h0M1171.4 420.2h0M1171.6 417h0M1172.3 416.2h0M1172.7 421.3h0M1172.9 419.1h0M1173 419.2h0M1173.3 419.1h0M1173.8 415.8h0M1173.9 418.7h0M1173.9 418.4h0M1176.5 417.9h0M1178.4 418.3h0M1178.5 415.3h0M1178.6 420.5h0M1178.7 418.8h0M1180.2 420.7h0M1180.6 417.8h0M1182.6 416.2h0M1182.8 415.8h0M1183.4 420.2h0M1183.7 416.6h0M1184.6 417.8h0M1187.3 417.9h0M1188.1 416.3h0M1189.9 422.7h0M1191 417h0M1191.3 418.1h0M1195.7 420h0M1199 87.8h0M1202.8 418.2h0M1203.6 416.1h0M1204.1 419.5h0M1204.2 417.3h0M1204.5 419.4h0M1204.6 417.6h0M1204.7 416.9h0M1205 421h0M1205.9 418h0M1206.2 417.2h0M1206.3 418.5h0M1206.6 417h0M1206.7 416.4h0M1206.8 418.4h0M1207.7 418.3h0M1208.6 419.7h0M1209 417.8h0M1209.5 419.6h0M1209.6 419.9h0M1211.3 421.6h0M1211.7 419.1h0M1211.9 421.1h0M1212.7 421h0M1212.8 417.4h0M1213.3 416.4h0M1214 419.2h0M1215.1 418.2h0M1215.6 424h0M1216 418.1h0M1216.5 419.1h0M1216.6 420.4h0M1217.1 422.1h0M1218.2 420.1h0M1220 419.5h0M1220.3 418.7h0M1220.7 422.1h0M1220.7 417.4h0M1220.9 421.3h0M1221.2 417.4h0M1221.5 417.3h0M1222.3 421h0M1222.5 418.3h0M1224 415.9h0M1224.3 418.4h0M1225.2 419.7h0M1226.3 421.5h0M1226.4 419h0M1227.6 419.8h0M1227.8 418.4h0M1228.1 421.1h0M1228.6 418.6h0M1229.5 420.8h0M1229.7 419.3h0M1229.9 420.2h0M1230.9 416.5h0M1231 418.8h0M1232.7 419.9h0M1233.7 419.4h0M1234.1 422h0M1234.2 421.8h0M1234.3 418.5h0M1234.6 416.8h0M1235.7 419.7h0M1235.9 420h0M1236.9 420.1h0M1238.1 416.7h0M1239.5 417.7h0M1240.7 391.1h0M1241.1 377.7h0M1241.5 365.5h0M1241.9 353.3h0M1242.3 352.4h0M1242.7 356.1h0M1244.8 357.2h0M1245 365.6h0M1247.1 418.4h0M1247.6 419.5h0M1247.7 417.7h0M1248.8 416.8h0M1248.9 417.9h0M1250.2 417.5h0M1251.3 413.2h0M1251.4 412.9h0M1252.4 420.1h0M1252.8 417.6h0M1253.3 419.2h0M1253.5 415.7h0M1253.8 415.4h0M1255.5 415h0M1256.4 416.3h0M1256.6 418.8h0M1257.5 415.1h0M1258.1 417.4h0M1258.2 417.5h0M1259.9 417.4h0M1260.2 418h0M1260.8 415.4h0M1261 413.3h0M1261.3 418.8h0M1262.4 421.6h0M1263.3 413.1h0M1263.8 418.3h0M1266.3 416.8h0M1268.7 417.3h0M1268.9 418.1h0M1269.3 418.2h0M1269.4 418.2h0M1270 417.8h0M1270.3 419.6h0M1270.8 418.9h0M1271.2 419h0M1271.7 416.1h0M1272.1 419.8h0M1272.1 418.1h0M1272.5 418.9h0M1272.7 417.4h0M1272.9 414.1h0M1274.9 419.6h0M1275.1 418.8h0M1275.4 419.3h0M1275.8 419h0M1276.1 419.2h0M1276.5 416.6h0M1276.8 415.1h0M1277.6 418.4h0M1277.9 417.3h0M1278.4 416h0M1280 418.3h0M1280.7 417h0M1282.4 414.3h0M1282.5 417.2h0M1282.6 418h0M1283.9 402.9h0M1284.8 310h0M1286.2 102.5h0M1286.5 89.2h0M1286.7 92.5h0M1287 96.2h0M1287.6 92.4h0M1288 94.9h0M1288.2 104.2h0M1288.3 108h0M1289.1 230.8h0M1289.2 250.1h0M1289.4 288.5h0M1289.5 299.7h0M1289.5 314.2h0M1290 370h0M1290.2 395.3h0M1290.4 404.9h0M1290.6 416.1h0M1291 415.5h0M1291.8 415.9h0M1292.9 418.7h0M1293.6 416.4h0M1294 417.7h0M1295.1 416.6h0M1296.3 420.2h0M1296.5 414.4h0M1297.4 418.2h0M1297.8 417.6h0M1298.5 418.3h0M1299 418.9h0M1299.2 418.8h0M1300.2 418.4h0M1300.6 418.5h0M1301.4 419.8h0M1301.7 420h0M1302.3 419.3h0M1302.4 422h0M1302.8 422h0M1303.1 424.2h0M1303.2 419.2h0M1303.4 423.4h0M1303.7 421.1h0M1307.3 421.5h0M1307.3 419.7h0M1307.4 418.1h0M1307.4 418.8h0M1309.8 423.8h0M1310.4 417.7h0M1312.3 417h0M1313.4 423.3h0M1315.9 418.2h0M1316.9 416.2h0M1317.1 417.3h0M1317.4 416.8h0M1317.6 417.7h0M1318.4 419.3h0M1318.4 413.5h0M1318.9 417.1h0M1321.1 415.9h0M1323.2 415.9h0M1323.3 417.2h0M1323.5 416.3h0M1323.8 415.9h0M1324.7 414.8h0M1324.9 414.1h0M1325.1 418.3h0M1326.2 415.5h0M1328.6 387.1h0M1329.2 361.1h0M1329.8 350.8h0M1330 352.2h0M1330.7 345.5h0M1332.1 349.7h0M1333.5 384.7h0M1334.9 416.3h0M1336.5 415.9h0M1341 420.9h0M1341.1 417.3h0M1341.2 418.6h0M1342.1 419.9h0M1342.9 419.5h0M1343.7 421.7h0M1343.9 418.6h0M1344.4 420.5h0M1345.1 419.2h0M1345.3 419h0M1345.5 417.6h0M1345.9 418.9h0M1346.5 419.4h0M1347.2 417.5h0M1347.9 417h0M1349.1 417h0M1349.2 418.6h0M1350.4 420.4h0M1350.6 420.7h0M1352.7 415.9h0M1353.2 414.7h0M1354.2 418h0M1354.9 417.2h0M1356 418.4h0M1357 416.8h0M1357.3 418.6h0M1358.3 418h0M1359.5 418.3h0M1359.5 418.6h0M1360.3 419.1h0M1360.5 415.8h0M1360.8 415.9h0M1362.9 416.8h0M1362.9 414.7h0M1363.1 415.6h0M1363.6 414.9h0M1363.9 415.7h0M1364 417.5h0M1364.5 417.1h0M1365.1 419.4h0M1365.2 417.5h0M1366.4 415.9h0M1366.8 416.1h0M1367 413.9h0M1367.2 415.6h0M1367.5 417.4h0M1368.3 416.3h0M1368.8 415.2h0M1368.9 414.4h0M1370.9 417.4h0M1372 387.5h0M1372.6 307.6h0M1374.8 89h0M1375 91.8h0M1375.9 96.2h0M1377.5 328.2h0M1377.8 368.3h0M1379.5 419.2h0M1381 418.8h0M1381.7 416.8h0M1382.1 418.5h0M1382.9 416.8h0M320.6 83.2h0M935.9 84.6h0M1023.8 79.4h0"/>
<path d="M257.1 420.8h0M258 417.1h0M258 419.5h0M258.9 417.8h0M259 419.6h0M259.1 418.3h0M261.1 417.7h0M261.6 417.3h0M263.6 417h0M263.8 419.2h0M264.5 415.9h0M264.9 416.8h0M265 417.4h0M265.8 416.6h0M266.2 418.9h0M266.4 417.6h0M268.6 416.5h0M268.6 416.8h0M269.2 418.9h0M269.8 415.8h0M270.7 417.7h0M270.7 414.9h0M271 414.1h0M272.2 417.1h0M272.5 416.2h0M273.4 415.1h0M274.4 388.8h0M275.4 353.5h0M276.7 350.8h0M276.8 350.5h0M279.1 383.6h0M279.6 395.2h0M279.8 395.7h0M280.2 410.9h0M280.3 416.2h0M281.5 418.4h0M282.4 418h0M283.5 416.4h0M284.3 412.5h0M285 415.2h0M285.1 413.7h0M285.9 417.5h0M287.9 420.8h0M288.3 416.3h0M291.7 413.5h0M292.3 417.6h0M293.2 416.7h0M293.3 415.8h0M294.8 416.4h0M295.7 414.2h0M295.8 415.7h0M296.3 414.9h0M298.5 414.7h0M298.5 414.3h0M301.6 413.3h0M303.2 413h0M303.5 415h0M303.8 415.6h0M304 414.2h0M304.8 417h0M305 416.3h0M305.2 414.4h0M305.8 415.2h0M308.1 414.4h0M308.3 413.9h0M309.9 412.6h0M311.1 412h0M311.7 414.6h0M311.9 414h0M313.7 413.4h0M313.9 418h0M314.8 413.7h0M316.8 413.9h0M317.2 414.3h0M317.2 413h0M317.9 373h0M319.2 174.7h0M319.6 118.3h0M319.7 107.8h0M320.4 95.7h0M321.7 106.7h0M324.3 416h0M325.3 417.3h0M330.6 418h0M330.6 414.2h0M330.9 415.2h0M331.3 415.2h0M331.6 414.1h0M333.1 420.2h0M333.2 416.6h0M336.2 416.9h0M336.5 422.7h0M336.7 418.9h0M338.7 423.9h0M339.3 421.3h0M340.7 419.5h0M341 421.5h0M343 420.1h0M343.5 418.6h0M344 418.5h0M345.1 420h0M345.8 419.6h0M346.3 418.2h0M346.8 416.7h0M346.8 415.9h0M347.6 419.2h0M347.7 416h0M348.6 416.1h0M348.8 419.6h0M349.9 420.7h0M350.3 419h0M350.9 418.2h0M351 419.2h0M351.3 416.8h0M351.6 417.5h0M352.1 415.5h0M353.8 417.4h0M353.9 420.8h0M354.1 416.7h0M355.2 416.1h0M355.8 416.1h0M356 413.3h0M357 416.2h0M357.9 416.1h0M362 392.1h0M362.4 385.3h0M363.4 352.2h0M363.6 349.2h0M364.4 354h0M364.5 352.6h0M364.8 353.4h0M365.9 350.4h0M366.7 369.9h0M367.2 388.5h0M368.1 414.3h0M368.8 418.1h0M369.6 420h0M369.9 418.8h0M373.3 413.9h0M374 416h0M374.3 414.5h0M375 415.1h0M375.3 420.8h0M375.6 415.7h0M376.2 415.7h0M376.3 416.1h0M377.3 417h0M377.4 416.9h0M378.9 413.5h0M379 416.7h0M380.3 416.7h0M381 413.6h0M381.6 416.9h0M382.1 416.9h0M382.2 418.3h0M382.6 415h0M382.8 415h0M383.1 414.7h0M383.7 416.1h0M384 413.2h0M384.5 414.4h0M384.8 417.7h0M385.2 417.4h0M389.4 413.5h0M389.5 412.8h0M390 410.6h0M390.4 415.3h0M390.7 417.6h0M390.7 416.8h0M390.9 415.3h0M391.4 411.2h0M393.6 416.2h0M395.2 414.5h0M395.5 414.2h0M396.4 415h0M396.8 414.3h0M398.2 413.7h0M400.4 413.2h0M400.9 414.4h0M401 411h0M403.1 415.1h0M403.5 413.9h0M403.8 419.5h0M404.2 414.7h0M404.5 412.1h0M405.4 405.5h0M409.3 97.8h0M409.4 104.4h0M410.1 145.7h0M411.4 360.7h0M412.9 414.8h0M413 415.4h0M413.3 415.6h0M414.1 416.5h0M414.3 417.9h0M415.1 418h0M415.3 418.7h0M415.5 417.7h0M416.1 417.5h0M416.6 418.5h0M418.5 420.1h0M419.1 423h0M419.4 420.5h0M419.9 421.4h0M422 421.2h0M422.3 421.4h0M422.9 418.7h0M423.5 419h0M423.6 422.8h0M425.3 422.5h0M425.5 420.1h0M426.2 420.3h0M427 423.5h0M428.3 420.6h0M428.4 418.7h0M428.5 421.1h0M430.5 420.8h0M431.1 420h0M431.4 419h0M433.7 422.4h0M435.2 420.9h0M435.2 418.7h0M435.5 419.7h0M435.7 419.9h0M436.3 421.1h0M437.4 420.8h0M438.2 419.3h0M440.4 419.3h0M440.8 419.2h0M441.4 420.8h0M443.3 418h0M443.4 419.8h0M443.6 418h0M445.9 417.5h0M447.4 419.4h0M448.8 417.2h0M449.1 414.9h0M450.2 387.4h0M450.8 367.3h0M451 357.3h0M452.1 349.4h0M452.9 353.3h0M454.4 370.5h0M455.2 395.3h0M455.5 395.4h0M455.8 412.5h0M455.9 416.1h0M456.8 421.8h0M458.6 420.7h0M458.8 418.8h0M460.1 422.9h0M460.7 418.9h0M460.7 418.6h0M461.6 417.3h0M462.8 419.5h0M464 416.9h0M464.5 415.4h0M465 418.6h0M465.9 416.7h0M466 418.4h0M466.6 416.1h0M466.9 417.5h0M467.5 419.8h0M469 414.6h0M470.1 416h0M471.5 417.4h0M472.6 416.9h0M473 418.9h0M473.5 415.2h0M474.9 415.9h0M475.5 416.8h0M477.6 417.1h0M477.8 415.4h0M480.6 414h0M481.3 415.8h0M481.3 412.2h0M482.3 417.7h0M483 416.3h0M483 415.9h0M483.3 415h0M483.7 415.7h0M484.4 415h0M484.7 414.4h0M486.1 411.8h0M486.2 414.3h0M486.5 413.4h0M486.8 410.2h0M490.2 411.7h0M492.1 411.4h0M492.4 413h0M492.5 412.3h0M493.6 371.1h0M493.9 338.4h0M493.9 335.1h0M495.7 97.2h0M496.4 92.1h0M497.2 97.5h0M497.4 101.8h0M498.1 169.2h0M498.2 184.4h0M498.9 320.7h0M499.1 338.5h0M500 414.9h0M500.1 419.7h0M500.4 414.8h0M500.5 417.5h0M500.6 414.3h0M500.9 417.3h0M502.3 418.8h0M504.4 417.7h0M505.8 416.9h0M508 416.7h0M508.2 414.5h0M508.4 417.7h0M509 418.7h0M509.2 417.7h0M509.3 418.8h0M511.2 418.8h0M512.2 418.8h0M512.5 420.8h0M512.9 419h0M512.9 420.6h0M513.4 420h0M515.2 418.4h0M516.3 417.9h0M516.9 419.7h0M517.6 420.7h0M517.7 421.1h0M518.2 419.6h0M518.9 418.4h0M519.7 416.7h0M520.2 417.4h0M520.3 417.8h0M522.9 418.8h0M523.9 416.7h0M524 420.7h0M526.6 417.6h0M527.2 417.4h0M528.1 417.3h0M529.7 415.7h0M531.2 417.3h0M531.3 417.1h0M532 418.4h0M532.1 418.2h0M532.3 416.4h0M532.4 415.6h0M532.5 413.8h0M532.8 417h0M533.6 411.9h0M534.2 415.8h0M534.8 419h0M535.8 417.4h0M537.3 408.1h0M537.7 396.9h0M537.8 389.6h0M538.5 365h0M539.6 353.4h0M540.4 351.3h0M541 349.4h0M542.5 375.7h0M542.8 386h0M543.4 400.3h0M543.6 410.2h0M543.6 411.8h0M544 416.1h0M544.1 420.9h0M544.2 418.2h0M544.8 416.5h0M547 419.4h0M547.3 418.3h0M547.4 419.4h0M547.8 418.9h0M548.5 417.3h0M548.8 414.5h0M551.5 416.7h0M552.9 416.8h0M553.3 417.8h0M553.6 420.9h0M553.9 418.5h0M554.4 418.3h0M555.4 417.9h0M556.2 417h0M557 419.8h0M558 418.5h0M558.4 417.9h0M563.2 416.4h0M563.3 415.3h0M563.3 418.8h0M564 419.1h0M564.1 416.7h0M564.3 415.1h0M564.6 413.5h0M565 414.5h0M565.1 416.3h0M565.7 416h0M566.1 415.7h0M566.7 415h0M567.5 416.9h0M568.5 413.7h0M569.5 415.7h0M570.6 411.7h0M572 413.7h0M572.5 413.2h0M573 416.9h0M574.6 414h0M575.1 414.5h0M575.3 415.9h0M575.8 414.6h0M575.8 414h0M576.1 420.7h0M577.3 416.1h0M577.7 413.5h0M578 416.1h0M579.8 418.5h0M580.6 418.6h0M581.1 410h0M581.5 371h0M582.3 255.3h0M582.5 226.2h0M583.7 98h0M583.9 97.2h0M585.5 116.9h0M585.7 126.2h0M585.9 157.8h0M587.4 394.1h0M588.3 414.5h0M588.7 415.9h0M588.8 418.3h0M589.2 417.1h0M589.4 419.4h0M589.6 413.4h0M590.2 418.6h0M590.3 419.4h0M590.8 416.8h0M595.7 420.3h0M597.7 424.7h0M598 419.1h0M600.3 418.1h0M600.4 421.1h0M601.2 416.5h0M603.7 417h0M603.8 420.3h0M605.5 419.9h0M605.9 416.8h0M606.2 417h0M608 418h0M609.6 419.6h0M609.6 417.8h0M609.8 420.3h0M610.3 418.1h0M610.8 418.2h0M611.2 420.8h0M611.4 419.8h0M611.9 414.9h0M612.5 417.7h0M613.2 415.3h0M613.5 415.4h0M614.6 414.9h0M615.3 417.8h0M615.6 414.1h0M616.3 412.2h0M617.4 415.5h0M617.6 419.5h0M618.1 417.3h0M618.5 416.2h0M618.9 415.7h0M619.3 414.5h0M619.9 416.1h0M620.8 415.3h0M621.6 414.4h0M622.3 413.2h0M624.7 412.1h0M625 410h0M625.3 395.1h0M626 377.9h0M626.5 359h0M626.8 347.9h0M630 355.9h0M630.2 370.2h0M630.6 383h0M631.4 408.7h0M633.5 414.7h0M634.7 417.3h0M634.8 417.4h0M635.1 418.8h0M636.8 416.7h0M639.9 419.6h0M640.2 417.7h0M640.3 417.2h0M640.4 417.5h0M640.5 415.1h0M641.1 417.3h0M642 414.7h0M642.6 418h0M643.5 418h0M643.8 420.7h0M644.1 419.2h0M644.5 420.6h0M644.8 419h0M645.3 416.3h0M645.9 418.1h0M646 417.4h0M646.9 420.1h0M647 419.1h0M648 418.9h0M648 417.7h0M649.3 419.3h0M650.6 420h0M651.2 416.9h0M651.2 416.1h0M653 420.3h0M653.1 416.4h0M654.6 419.1h0M654.8 416.2h0M655.3 414.9h0M656.1 416.9h0M656.9 414.3h0M657.3 411.2h0M658.9 414.5h0M660.1 414.9h0M660.8 415.2h0M661.3 411.7h0M661.5 413.7h0M662.1 413.4h0M663.3 414.8h0M663.8 414.6h0M663.9 413.2h0M664 415.2h0M665 411.5h0M665.1 412.3h0M667 415h0M667.5 412.2h0M668 412.8h0M668.5 414h0M669.1 393.9h0M669.2 390.8h0M669.7 326.7h0M670.7 143.8h0M671 126.4h0M671.7 98.5h0M673.6 143.9h0M674.4 270.7h0M675.4 407.3h0M676.1 414.5h0M676.6 417.7h0M676.6 416.6h0M677.2 418.8h0M677.7 416.7h0M677.9 415.1h0M679 417.8h0M679.8 416.8h0M683.1 418.5h0M684.2 415.9h0M685.1 422.8h0M686.7 416.8h0M688.6 421.5h0M688.8 419.1h0M688.9 417.8h0M689.1 419.5h0M690.7 418.2h0M690.9 417.5h0M691.6 417.5h0M691.8 419.5h0M692 417.7h0M692.1 415.8h0M692.5 416.8h0M693 417.3h0M693.9 419.5h0M694.5 416.7h0M694.6 417.4h0M695 417.4h0M695 416.2h0M695.2 417.4h0M695.7 418.1h0M696 415.9h0M696.1 416.4h0M697 417.1h0M697.1 415.9h0M697.6 419.1h0M698.3 416.5h0M699.5 415.6h0M700.5 415.6h0M700.5 416.2h0M701.2 415.9h0M701.2 415h0M704.7 413.9h0M704.8 417h0M705.5 417.5h0M705.7 413.9h0M706.8 417.1h0M707.3 416h0M707.5 416h0M707.5 413.3h0M708.4 416.9h0M708.5 414.6h0M708.7 413.4h0M709.4 418.4h0M709.4 414.7h0M710.1 416.1h0M710.5 414.2h0M710.8 413.5h0M711.3 415h0M711.3 413.7h0M712.5 415.2h0M712.8 410.8h0M712.9 414.8h0M713.4 394.5h0M713.8 386h0M714.4 361.3h0M714.6 353.1h0M714.9 355.2h0M715.1 350.7h0M716.2 353.8h0M716.6 349.1h0M717 348.3h0M717.7 356.9h0M718.4 383.2h0M718.8 391.8h0M719.6 417.6h0M720.2 416.5h0M721 414.9h0M721.2 417.1h0M722.9 414.3h0M723.1 416.7h0M724.4 417.1h0M725.2 416h0M725.4 414.2h0M725.4 414h0M725.9 414.2h0M726.8 416.1h0M726.9 415h0M728.1 417.3h0M728.3 416.7h0M728.7 415.5h0M729.2 413.9h0M729.3 415.8h0M729.9 420.3h0M730.8 418.7h0M731 415.2h0M731.4 416h0M731.9 417.1h0M733.3 416.3h0M733.6 415.5h0M733.8 416.9h0M734.1 419.6h0M734.4 416.7h0M736.1 417.2h0M736.3 414.8h0M736.5 416.4h0M736.8 415.6h0M737.5 414.4h0M739.4 415.4h0M740.4 412.1h0M741.7 416.1h0M742.1 417.6h0M743.9 417h0M743.9 413.4h0M744.1 417.5h0M744.7 416.1h0M744.8 414.8h0M744.8 416.2h0M745.4 417.8h0M746 417.1h0M746.3 417.7h0M747.4 416.2h0M748.4 417.5h0M748.8 417.3h0M748.9 416.3h0M749.5 417h0M750.2 414.9h0M750.4 417h0M751.5 415.5h0M751.6 416.9h0M752 414h0M753.5 418.3h0M753.6 417.3h0M754.1 417.1h0M754.3 418.1h0M755 415.1h0M755.2 414.9h0M756.3 417.8h0M756.9 404.2h0M757.8 297.3h0M758.2 220.7h0M758.3 189.2h0M759.4 98.8h0M759.8 91.8h0M760.3 94.2h0M760.6 97.9h0M762.2 278.1h0M762.6 338.1h0M762.7 347.1h0M763.2 404.3h0M763.8 418.7h0M764.5 419.7h0M765.2 421.6h0M765.3 418.5h0M765.5 420.6h0M766.2 418.7h0M766.8 421.8h0M767.8 421.8h0M768.5 422.9h0M769.1 419.2h0M769.3 424.2h0M769.8 421.4h0M770.2 420.4h0M770.9 417.5h0M771.9 419.8h0M774.9 421.3h0M775.4 417.1h0M775.5 419.6h0M775.6 418.7h0M775.9 415.1h0M776.1 415.1h0M777.2 417.4h0M778.2 417.4h0M778.3 419h0M781.1 415.9h0M782.1 419.1h0M784.2 414.8h0M785 416.3h0M787.9 415.8h0M788.3 417.1h0M788.4 418.8h0M788.7 419.2h0M789.8 413.8h0M790.2 419.7h0M791.7 416.4h0M794.4 416.9h0M795.4 417.6h0M795.6 413.7h0M795.9 417.1h0M797.3 415.7h0M797.4 414.5h0M798.1 418.1h0M798.3 416.7h0M799.3 416.7h0M799.6 414.5h0M799.7 417.3h0M799.8 419.2h0M799.9 412.1h0M800.5 414.6h0M800.8 412.5h0M803.8 350.8h0M845.4 331.3h0M845.5 317.4h0M845.5 310.3h0M846.6 126.2h0M847.4 101h0M847.4 102.2h0M847.9 93.9h0M849.3 135.3h0M849.4 161.4h0M850.2 303.6h0M851.3 412.8h0M851.6 417.8h0M851.8 416.3h0M852.9 419.7h0M853.4 417.5h0M853.8 418.6h0M853.9 416.3h0M854.1 422.7h0M854.3 420.9h0M855.4 419.1h0M856 419.9h0M857.1 421.3h0M858.9 420.5h0M861 417.6h0M862.4 420.2h0M863 421.5h0M864.1 419.2h0M864.2 423.2h0M864.7 419.7h0M865.4 415.6h0M865.7 417.8h0M866 419.8h0M867.7 418.7h0M868.4 420.4h0M870.8 418.7h0M870.9 421.8h0M871.2 415.1h0M872.7 415.6h0M872.8 417h0M873.1 416.2h0M873.3 415.4h0M874.3 414.1h0M874.5 417.2h0M875 418.1h0M876.1 418.6h0M877.5 421.6h0M877.8 415.9h0M878 415.8h0M879 417h0M879.2 418h0M879.4 415h0M879.8 416.3h0M880 415h0M880.1 415.5h0M880.5 415.2h0M881.2 415.1h0M881.3 412.4h0M884.8 416.7h0M885 413.9h0M885 415.2h0M885.2 415.9h0M886.8 417h0M888.1 413.1h0M888.2 413.5h0M889.5 383h0M890.5 351.1h0M890.6 353.5h0M891.2 351h0M892.8 349.5h0M893 352.3h0M893.1 353.2h0M894.5 392.9h0M896.2 416.1h0M896.6 417.1h0M897.9 418.2h0M899.2 417h0M900 417.6h0M900.9 421.7h0M901 417.7h0M901.9 416.9h0M903.7 419h0M904.7 416.3h0M905.5 415.3h0M905.6 418.7h0M906.6 416.8h0M908.4 417.1h0M909 415.4h0M909.1 416.8h0M909.5 416.3h0M909.7 417.1h0M911.3 416.1h0M911.8 415.6h0M914 419.8h0M914.1 415.1h0M914.5 419.7h0M915.6 414.5h0M918.8 414h0M919 416.6h0M919.6 412.3h0M921 413.9h0M923.6 413.5h0M923.8 416.6h0M924.1 415h0M924.9 412.8h0M925.1 414h0M926.6 418h0M927.3 414.1h0M927.5 415.5h0M928.7 414.1h0M929 412h0M931.2 413.6h0M931.5 415.3h0M931.6 417h0M931.9 417.2h0M932.5 403h0M932.6 395.9h0M934.7 114.1h0M935.1 99.2h0M935.5 101.5h0M936 100.7h0M937.8 260.8h0M938 278.8h0M938 292.3h0M939.2 413.1h0M939.9 418.2h0M940.3 418.6h0M941.4 415.8h0M941.7 419.3h0M942.3 420.1h0M942.3 418h0M942.4 416.7h0M943 421h0M943.3 420.2h0M943.5 417.2h0M943.7 421.5h0M943.8 419h0M945.3 417.6h0M947.9 420.6h0M948 417.5h0M948.3 420.8h0M948.8 420.2h0M950 420.9h0M950.9 420.5h0M951 420.3h0M953.6 419.1h0M953.8 418.7h0M954.5 419.3h0M954.6 419.3h0M954.7 420.9h0M956.3 420.7h0M956.5 417.6h0M957.6 416.4h0M958 418h0M958.2 415.7h0M958.5 418.3h0M959.3 414.5h0M960.8 412.8h0M962 417.5h0M964 415.2h0M965.2 414.6h0M965.4 417h0M965.6 415.8h0M966.9 415.7h0M967.7 411.7h0M967.8 419.2h0M968 414.4h0M968.4 413.9h0M968.9 413.1h0M969 413.1h0M969.3 415.3h0M970.5 412.7h0M970.9 411.6h0M971.6 413.4h0M972 414.6h0M972.6 415.6h0M973 413.7h0M973.5 414h0M974.3 410.1h0M974.9 409.9h0M975.1 412.3h0M975.4 409.3h0M976.6 397.3h0M977.1 387.1h0M978.5 347.8h0M978.7 347.7h0M978.8 348.7h0M978.9 348.4h0M979.1 348.2h0M979.4 347.7h0M980.4 349.6h0M981.5 367.1h0M981.8 376.1h0M982.1 385.4h0M983.2 415.3h0M983.9 417h0M984.5 418h0M986.4 416.5h0M987.2 419.2h0M987.5 414.9h0M988.1 417h0M989.9 417h0M990.2 415.1h0M991.7 415.4h0M991.8 418.7h0M992.4 415.7h0M992.5 417.5h0M992.6 422.6h0M993.6 416.9h0M993.7 416.9h0M994.1 416.3h0M994.9 415.4h0M995.4 417.8h0M995.5 422h0M995.6 419.1h0M996 417.4h0M996.1 420.3h0M997.5 418.1h0M998 418.3h0M998.8 416.6h0M998.9 415.7h0M1000 417.8h0M1000.7 418.1h0M1002.1 415.2h0M1002.5 418.2h0M1002.8 416.2h0M1002.9 418.4h0M1003 418.8h0M1003.3 415.6h0M1003.5 416.2h0M1003.9 416.2h0M1004.1 416.3h0M1005.1 418.4h0M1005.2 415.2h0M1007.2 417.5h0M1007.4 418.5h0M1008.6 418.3h0M1009.1 412.7h0M1009.2 413.6h0M1012 417.1h0M1012.7 414.6h0M1012.8 414.9h0M1013.7 412.2h0M1014.2 413.6h0M1014.6 415.1h0M1015 414.9h0M1017.3 410.5h0M1018.5 413.1h0M1018.6 415.7h0M1020.9 347h0M1021.9 194.6h0M1022.3 129.2h0M1025.3 190.5h0M1025.6 241.4h0M1026.2 341.2h0M1027.1 414.4h0M1027.6 420.2h0M1027.8 420.6h0M1027.9 417.7h0M1027.9 419.4h0M1028.6 416.4h0M1028.7 422.2h0M1028.9 419.7h0M1030.3 416.7h0M1031.7 421.4h0M1032 422.3h0M1032.2 417.4h0M1032.8 418.3h0M1032.8 421.2h0M1033.4 418.8h0M1033.6 418.6h0M1034 416.6h0M1034.2 421.8h0M1035.8 420.3h0M1036.5 420.6h0M1036.9 417.6h0M1037.5 420.1h0M1038 420.7h0M1038.7 422.8h0M1041 418.4h0M1041.4 420.1h0M1042.9 417.5h0M1043.1 419.5h0M1043.6 419.2h0M1044.1 418h0M1044.1 420.4h0M1044.4 418.4h0M1044.5 419.4h0M1044.8 420.1h0M1046.9 416.2h0M1047.7 418.9h0M1047.9 415.1h0M1048.7 415.7h0M1049.8 419.3h0M1050.6 414.5h0M1050.7 417.1h0M1053.5 414.7h0M1054.2 417.6h0M1054.3 414.7h0M1054.5 415.8h0M1054.7 420h0M1055.1 414h0M1058.1 417.1h0M1058.2 413.4h0M1058.4 411.8h0M1059 414.1h0M1059.3 411.4h0M1059.8 412.2h0M1059.8 415.6h0M1060 416.2h0M1060.5 412.5h0M1061 413.3h0M1061.3 412.7h0M1061.4 414.3h0M1062 413.2h0M1063.4 412.7h0M1064.8 389h0M1065.5 367.6h0M1066 346.5h0M1067.2 346.8h0M1067.4 344.8h0M1067.7 349h0M1068.4 347.7h0M1068.5 347.4h0M1070.2 393.3h0M1070.4 392.6h0M1071.9 413.1h0M1072.8 415.8h0M1073.1 413.7h0M1073.2 413.5h0M1073.4 417.8h0M1073.6 415.7h0M1075.7 415.3h0M1076 415.2h0M1076.2 413.2h0M1076.4 418.3h0M1077.1 415.7h0M1077.1 416.3h0M1078.4 417.4h0M1081.3 415.6h0M1082.3 413.7h0M1083.1 416.4h0M1083.1 419.8h0M1083.7 420.3h0M1084.1 415.4h0M1085.7 416.2h0M1086.7 417.9h0M1087.7 416h0M1088.6 418.5h0M1089.1 416.3h0M1091.2 417.9h0M1091.6 418.8h0M1092.3 417.5h0M1093.1 416.7h0M1093.3 413.4h0M1094.7 413.4h0M1094.8 418.1h0M1095.3 417.5h0M1095.8 416h0M1096.8 414.6h0M1097.9 418.1h0M1098 416.6h0M1098.2 416.4h0M1099 418.7h0M1099.2 415.1h0M1099.4 418.3h0M1101.1 417h0M1101.1 418.9h0M1102 418.3h0M1103.6 415.9h0M1103.9 414.1h0M1105.2 414.8h0M1105.4 412.6h0M1106.2 418.2h0M1106.5 415.6h0M1107.8 415.6h0M1108.5 381.8h0M1108.8 351.8h0M1109.4 247.5h0M1109.6 215.2h0M1111.1 95.6h0M1111.3 93.9h0M1111.4 91.5h0M1111.9 90.4h0M1112.3 96.5h0M1112.6 106.9h0M1113 158.5h0M1113.6 265.6h0M1115.1 416.9h0M1116.3 416.3h0M1116.5 414.3h0M1117.9 417.9h0M1118 419h0M1118.4 419.3h0M1118.6 419.3h0M1118.8 420.6h0M1119 417.9h0M1119.4 418.1h0M1119.5 419.1h0M1120 420.5h0M1120.5 418.9h0M1120.5 418.5h0M1120.7 419.9h0M1121.2 416.6h0M1122.2 423.3h0M1123.2 420.3h0M1123.7 421.5h0M1124.1 419.4h0M1125.4 418.2h0M1125.8 417.1h0M1125.9 421.1h0M1126.1 420h0M1126.8 422.1h0M1127.4 420.8h0M1127.5 425.1h0M1127.9 422h0M1128.8 424h0M1129.7 420.5h0M1130 418.8h0M1130.3 417.4h0M1130.7 418.7h0M1131.8 419.5h0M1132.9 418.3h0M1133.3 416.8h0M1134.8 418.5h0M1135.7 422.1h0M1136 418.3h0M1136.4 418.7h0M1136.5 418.4h0M1137.3 421.7h0M1141.2 420h0M1141.5 416.7h0M1141.8 415.9h0M1142.1 417.2h0M1143.5 417.5h0M1144.1 416.5h0M1145.1 417.2h0M1145.2 417.3h0M1148 419.5h0M1148.7 416.9h0M1149.5 417.9h0M1151.8 418.7h0M1151.9 414.1h0M1152.1 412.7h0M1154.1 347.7h0M1154.3 351.8h0M1155.2 352h0M1155.9 349h0M1157.7 381.4h0M1157.8 390.5h0M1158.5 411h0M1159.9 418.2h0M1160.2 416.2h0M1160.6 419.1h0M1161.4 417.7h0M1161.5 414.3h0M1162 416.8h0M1162.6 419.1h0M1163 419.2h0M1163.5 418.5h0M1163.7 420.9h0M1164.5 416.6h0M1164.7 417.3h0M1164.8 420.4h0M1166.5 417.7h0M1166.9 418.2h0M1167.2 415.5h0M1169 420h0M1170.9 416.1h0M1171.9 420.4h0M1173.2 418.3h0M1176.2 417.3h0M1176.8 421.4h0M1176.9 419.1h0M1178.1 415.5h0M1179.2 416.3h0M1180.8 417.9h0M1181 415.2h0M1181.4 416.8h0M1182 418.4h0M1182.8 418.8h0M1183.1 418.6h0M1183.7 418h0M1184.7 421.1h0M1184.8 417.4h0M1185.1 416.1h0M1185.7 418.9h0M1185.7 416.6h0M1187.1 419h0M1187.4 413.9h0M1187.7 419.5h0M1189 415.8h0M1189.1 419.1h0M1189.4 419.2h0M1189.5 417.2h0M1189.8 417h0M1190.9 414.8h0M1192.2 415.6h0M1192.9 417.8h0M1193.3 416.3h0M1193.4 416.7h0M1194.6 416.5h0M1195.8 415.8h0M1196.1 400.6h0M1196.3 387.8h0M1196.6 357.3h0M1196.9 302h0M1197.8 161.1h0M1198.9 93.6h0M1200 98.5h0M1200.4 108.8h0M1201 190.4h0M1201.3 228.1h0M1201.3 244.9h0M1201.5 289.5h0M1201.7 317.4h0M1202.2 382h0M1202.7 413.5h0M1203.1 417.9h0M1203.5 420.2h0M1203.7 415.6h0M1203.9 418.3h0M1204.5 418.7h0M1205.6 418.7h0M1205.7 418.9h0M1206.5 416.4h0M1207.1 416.8h0M1210.2 418.1h0M1211.6 418.4h0M1212.5 421.4h0M1214.3 421.7h0M1215.7 422.8h0M1216.1 419.5h0M1216.3 419.2h0M1217 418.3h0M1217.8 420h0M1218.3 418.8h0M1218.6 420.8h0M1218.8 423.6h0M1219 420.3h0M1219.3 419.2h0M1219.6 420.3h0M1219.8 418.8h0M1220.8 417.5h0M1220.9 419.4h0M1221.2 419.5h0M1222 419.8h0M1222.1 420h0M1222.7 417.9h0M1223.3 419.8h0M1223.9 418.6h0M1224.6 422h0M1225.3 416.5h0M1225.7 422h0M1225.9 417.9h0M1226.3 420.9h0M1226.4 418.6h0M1227.7 418.8h0M1228.1 420.4h0M1228.7 415.7h0M1229.3 421.8h0M1230.4 422.5h0M1230.9 419.1h0M1231.7 419h0M1231.9 420h0M1232.1 416.8h0M1232.6 421.3h0M1233.1 418.8h0M1233.1 417.2h0M1233.8 417.1h0M1236.3 419.5h0M1236.7 419.4h0M1236.8 418.1h0M1237.6 418.8h0M1237.6 417.3h0M1237.8 418.7h0M1238.8 416.5h0M1239.4 422h0M1243 352h0M1243 356.9h0M1243.4 353.1h0M1244 351.2h0M1245.2 374.3h0M1245.3 373h0M1245.7 389.1h0M1245.8 392h0M1245.9 394.7h0M1246.3 406.3h0M1246.6 416.8h0M1247.2 417.3h0M1247.6 418.9h0M1248.2 418.1h0M1249.1 416.1h0M1249.2 419.1h0M1249.5 416.5h0M1249.7 415.4h0M1250.3 414.7h0M1251.1 413.8h0M1251.5 419.7h0M1251.8 416.7h0M1252.2 416.2h0M1252.8 416h0M1253 418.1h0M1254.7 412.6h0M1254.9 415.1h0M1255.2 415.3h0M1255.6 413.7h0M1256.1 418.1h0M1256.4 416.3h0M1256.7 413.6h0M1257.9 414.7h0M1258.5 416.2h0M1258.5 418.5h0M1258.6 417.4h0M1258.7 418.2h0M1258.9 416.2h0M1260.1 417.3h0M1261.5 419h0M1261.5 417.4h0M1262 416.1h0M1262.2 417.9h0M1264.1 418.2h0M1264.2 416.8h0M1265.2 419.2h0M1265.3 417.6h0M1265.4 418.6h0M1266.8 419h0M1268.2 419.1h0M1268.7 420.1h0M1269.7 416.2h0M1271.5 417.6h0M1271.7 418.3h0M1271.8 417.1h0M1272.5 418.1h0M1273.3 418.7h0M1273.8 415.5h0M1275.3 418.3h0M1276 416.2h0M1277.2 417.7h0M1278.1 418.9h0M1278.1 415.8h0M1278.3 420.1h0M1278.9 419.8h0M1279.1 414.2h0M1279.2 415h0M1281.4 417.3h0M1281.5 416.1h0M1282.7 418.2h0M1283.5 416.7h0M1285.2 227.3h0M1285.7 143.6h0M1287.3 91.8h0M1287.4 92.4h0M1288.1 109.6h0M1288.7 161.6h0M1288.8 183.1h0M1290.6 415.3h0M1290.9 417.9h0M1291.1 416.2h0M1292.1 416.3h0M1293.4 420.2h0M1294.2 416h0M1294.6 417.7h0M1294.8 417.2h0M1295.5 419.4h0M1299.7 417h0M1299.9 418.7h0M1300.3 419.3h0M1300.6 419.6h0M1300.7 420.5h0M1301.3 418.9h0M1301.8 416.4h0M1301.9 420.6h0M1302.9 418.7h0M1303.9 421h0M1304 419.7h0M1304.1 421.4h0M1304.4 421.6h0M1304.6 422.3h0M1305.9 421.4h0M1306 419.7h0M1306.1 420.3h0M1306.3 420h0M1307 420.8h0M1307.6 420.1h0M1307.7 417.8h0M1307.7 418.5h0M1307.9 417.7h0M1308.6 419.6h0M1309 418h0M1310.1 417.9h0M1310.3 417.3h0M1310.6 416.8h0M1311.7 419.4h0M1312 416.4h0M1312.2 415.3h0M1312.4 417.4h0M1314.3 420h0M1314.5 418.5h0M1314.8 417h0M1315.7 416.5h0M1316.2 416.8h0M1316.8 416.9h0M1317.2 417h0M1317.9 415h0M1318.3 416h0M1319.2 415.8h0M1319.6 416.3h0M1319.9 416.1h0M1322.1 415.6h0M1322.2 418.5h0M1322.4 417.9h0M1323.1 415.5h0M1323.9 416.4h0M1324 413h0M1324.2 418.9h0M1324.9 413.5h0M1325.1 415.3h0M1327.2 415.4h0M1327.4 413.3h0M1327.5 416.8h0M1327.7 414.7h0M1328.1 400.6h0M1328.9 373.3h0M1329.1 366.8h0M1329.1 367.6h0M1329.4 352.1h0M1330.3 346.7h0M1330.5 347h0M1331.6 348.4h0M1332.1 348.4h0M1332.3 346.8h0M1335.8 414.9h0M1335.8 414.8h0M1336.3 414.4h0M1336.5 414.7h0M1336.9 414.4h0M1337.2 418.9h0M1338.8 417.7h0M1339.8 421.1h0M1340.8 418.5h0M1342.7 417.3h0M1343.2 416.8h0M1343.7 421.6h0M1344.1 419.5h0M1344.3 422.9h0M1344.7 426h0M1345 418.1h0M1345.1 420.1h0M1345.2 421h0M1345.3 420.6h0M1346.1 418.8h0M1346.3 418.3h0M1349.3 416.1h0M1349.3 414.8h0M1349.5 421h0M1350.6 416.5h0M1351.4 417.1h0M1351.9 418.5h0M1352.1 418.4h0M1352.8 418.1h0M1353.1 419.8h0M1353.2 414.6h0M1353.3 418.2h0M1353.6 417.7h0M1353.9 417.6h0M1355.2 414.9h0M1355.5 417.5h0M1356.9 415.2h0M1357.3 416h0M1357.6 418.2h0M1358.4 418.9h0M1359.6 415.7h0M1359.8 416.4h0M1359.9 417.8h0M1360 417.6h0M1361.1 415.1h0M1362 418.6h0M1362.2 418.1h0M1362.8 416.1h0M1363.8 415.6h0M1364.1 417.5h0M1366.6 417.4h0M1367.1 416.7h0M1367.3 416.7h0M1367.8 414.8h0M1367.8 417.5h0M1367.9 415.1h0M1367.9 416h0M1368.5 417.2h0M1369.4 418.7h0M1370.1 418.1h0M1370.1 419h0M1370.6 416.7h0M1370.8 414.7h0M1371.5 414h0M1372.9 259.4h0M1373.1 228.8h0M1373.1 216h0M1374.5 87h0M1375.7 93h0M1377.2 275.8h0M1377.5 334.6h0M1378.2 411h0M1379.7 418.4h0M1381.4 419.5h0M1383.3 422.6h0M1383.5 417.8h0M1384 419h0M1384.1 419.9h0M496.8 83h0M760.3 80.8h0M935.5 86.5h0"/>
<path d="M257 419.1h0M257.3 418.5h0M257.7 419h0M258.6 417.7h0M258.7 420h0M259.7 418.5h0M259.7 418.1h0M260.9 419.7h0M261.1 419.9h0M261.2 418.7h0M262 418.5h0M263.6 416.2h0M263.7 419h0M266.5 418.6h0M266.5 418.7h0M266.8 416.4h0M267.1 417.3h0M267.5 420.3h0M267.7 414.7h0M268.5 418.4h0M268.8 415.3h0M269.9 415.7h0M270.3 415h0M271 416.1h0M271.3 416.9h0M271.5 416.8h0M271.8 414h0M272.1 415.8h0M273.2 417.7h0M273.5 413.8h0M274.1 396.8h0M274.2 394h0M274.3 391.2h0M274.8 372h0M276 350.1h0M276.7 353h0M277.7 353.3h0M277.9 350.5h0M278.9 374.1h0M279.1 378.6h0M279.4 387.1h0M279.7 394.7h0M279.9 396.8h0M280.7 418.3h0M281 415.7h0M282.7 415.9h0M284.4 419.4h0M285.2 415.8h0M289.6 419h0M290 416.5h0M290.4 417.2h0M290.5 416.3h0M291.5 415.6h0M292.4 415.3h0M293 417.8h0M293.6 413.4h0M294.6 414.3h0M295.3 419.8h0M295.7 415.8h0M295.8 416h0M296 413.8h0M296.1 414.2h0M296.4 416.9h0M298.1 420.1h0M298.2 411.6h0M299.3 416.1h0M300 414.6h0M300.2 415h0M301 414.2h0M301.3 414.7h0M301.4 420.7h0M302 416.5h0M302.1 415h0M302.9 414.9h0M303.4 415.4h0M303.7 415.7h0M304.3 414.9h0M304.7 415.2h0M305.1 414.1h0M309.1 416h0M310 415.3h0M310.1 414.4h0M310.4 413.7h0M310.6 415h0M312.9 415.4h0M313.4 412.1h0M314.2 413.9h0M314.3 415.7h0M315 414.6h0M315.1 412.1h0M315.8 413h0M316.1 413.1h0M316.2 414.9h0M316.5 415h0M316.9 411.3h0M317.1 412.7h0M318.9 218.8h0M319.9 98.4h0M321 94.1h0M321.2 89.5h0M321.4 96.4h0M322.2 137.2h0M322.6 201.4h0M322.9 258.2h0M323.2 308.9h0M323.3 327.4h0M324.6 415.6h0M325.4 415.2h0M325.5 414.6h0M327 416.3h0M327.6 418.6h0M328.2 415.6h0M328.8 418.5h0M328.9 416.1h0M329.2 417.1h0M329.2 417.1h0M329.5 416h0M329.6 417.6h0M329.9 413.5h0M330.2 418.5h0M330.8 417.5h0M331.6 419.9h0M332.3 420h0M333.1 418.8h0M333.9 414.9h0M334.5 420.2h0M334.7 419.5h0M335.6 417.4h0M335.7 419.1h0M336 420.4h0M336.1 421.6h0M336.8 420.8h0M337.5 420.7h0M337.9 420h0M338 418.9h0M340.3 421h0M341.5 421.9h0M341.7 419.8h0M342.6 418.9h0M342.7 422.2h0M343.4 417h0M343.6 418.8h0M344.7 420.6h0M345.8 420.6h0M346.5 417.7h0M347.1 417.9h0M347.9 416.4h0M347.9 420.4h0M348.1 416h0M348.6 419.6h0M349.5 417.5h0M350.2 419.1h0M350.7 414.5h0M351.2 414.9h0M351.7 421.2h0M353.6 415.2h0M355.3 418.7h0M355.5 417.1h0M358 415.5h0M358.7 414h0M359.5 415.8h0M359.8 414.8h0M360 414.9h0M360 417.1h0M360.2 413.9h0M360.3 413.7h0M360.5 415.2h0M360.5 415h0M360.8 414.7h0M361.1 415.4h0M363.2 354.9h0M365.3 349.1h0M366 351.2h0M366.4 359.4h0M366.8 375.3h0M366.8 378.4h0M367 389h0M369 417.9h0M369.2 418.8h0M369.3 415.5h0M370 416.3h0M370.4 415.8h0M370.7 418.4h0M370.8 418.6h0M375.7 417h0M376.4 417.4h0M378.4 415.4h0M378.5 416.9h0M378.5 415.3h0M378.7 417.3h0M379 414.5h0M379.1 418.8h0M379.5 416.6h0M379.9 413.1h0M380.6 416.6h0M380.8 417.8h0M383.4 415.6h0M384.7 415.9h0M385.3 416.7h0M386.2 415.8h0M388 416.5h0M388.2 415.5h0M389.7 414.6h0M389.8 412h0M392.2 414h0M393.3 410.7h0M393.6 412.6h0M394.8 413.6h0M395.9 417h0M396.1 414.5h0M396.6 417.6h0M397 412.8h0M397.7 413.7h0M397.7 418.2h0M398.4 414h0M398.5 412.5h0M400.5 413.7h0M400.7 415.7h0M401.2 416h0M401.3 415.6h0M401.6 414.8h0M401.7 415.4h0M402.4 416.1h0M402.8 415.4h0M404.9 410.7h0M405.9 364h0M409.4 97.8h0M410.2 159.5h0M411.1 321.9h0M412.2 416.6h0M412.6 416.2h0M412.8 417.4h0M414.6 419.1h0M415.6 415.6h0M416.4 417.3h0M416.8 417.3h0M417.1 421.3h0M417.5 421.7h0M417.8 421.1h0M417.9 418.9h0M418.3 421.3h0M419.3 422.7h0M420.2 423.4h0M420.4 422.3h0M420.9 421.1h0M421.3 421.4h0M422.4 420.1h0M423 423h0M424 420.9h0M424.4 421.6h0M425.3 421.7h0M426.1 421.2h0M426.7 420.6h0M427.4 419.3h0M427.7 421.4h0M428.8 418.9h0M429.5 420.4h0M431 419.2h0M431.7 418.6h0M431.7 418.8h0M432.2 419.8h0M432.4 422.2h0M432.7 418.2h0M434.1 418.6h0M434.3 417.2h0M434.7 423.9h0M435.1 422.8h0M435.7 421.9h0M435.9 419.2h0M436.8 420h0M437.2 419.1h0M438.4 419.9h0M440.4 420.1h0M440.9 423.4h0M441.5 420.3h0M443.9 419.1h0M445 415.3h0M445.8 418h0M446.8 415.3h0M447 415.9h0M447.7 419.4h0M448.2 418.7h0M448.5 418.5h0M448.9 420.1h0M448.9 420.6h0M449.2 418.3h0M449.6 399.7h0M449.9 393.2h0M449.9 391.4h0M450.6 373.2h0M452.6 350.4h0M455.4 397h0M456.1 422.2h0M458 419.2h0M458.8 418.9h0M460.6 422.2h0M461.1 420.6h0M461.5 419h0M461.8 421.8h0M462.6 421h0M462.9 417.7h0M463.9 418h0M464.2 418.8h0M464.4 423.5h0M464.7 417.1h0M465.3 418.6h0M465.4 417.9h0M467.2 416.1h0M469.7 415.2h0M469.8 421.7h0M470 420h0M470.6 418.4h0M470.6 416.5h0M471 416.6h0M471.6 414.5h0M472.5 416.8h0M473.7 416.8h0M474.1 415.9h0M475.5 415h0M477.2 414.8h0M477.4 414.9h0M478.4 415h0M479.2 416.6h0M479.8 417.9h0M480.5 418.8h0M481.1 413.2h0M481.5 413.9h0M482.5 415.6h0M482.7 418.8h0M482.7 415.7h0M485.2 416.9h0M487.8 414h0M489.4 414.9h0M489.9 415.5h0M490.1 411.6h0M490.6 413.1h0M491.3 412.4h0M491.7 413.2h0M492.1 411.6h0M493.1 408.9h0M493.3 399.8h0M495.4 112.5h0M495.4 108.4h0M495.6 101.8h0M495.8 101.9h0M496.9 91.3h0M497.8 124.4h0M500.2 416.5h0M500.3 416.3h0M500.5 417.8h0M501.8 421.6h0M502.3 413.5h0M504.1 416.2h0M506.4 417.9h0M506.6 419.3h0M506.6 420.6h0M507.4 416.7h0M507.6 416.4h0M508.9 419.8h0M510.1 417.7h0M510.9 415h0M512.7 423.6h0M513.5 420.3h0M513.8 419.8h0M514 419.5h0M514.6 419.5h0M515 418.3h0M516.4 418.2h0M517 420.4h0M517.4 418.6h0M518.5 417.5h0M519.2 421.5h0M519.4 417.5h0M519.6 417.4h0M520.6 420.1h0M520.7 417.1h0M520.8 422.1h0M521.1 419.9h0M521.7 422h0M522.1 419.9h0M522.3 417.2h0M522.4 419.7h0M523 422.1h0M523.3 418.1h0M523.5 417.9h0M525.1 416.8h0M526.8 417.9h0M528.2 417.3h0M528.8 417.7h0M529.4 414.9h0M529.8 415.8h0M529.9 417.6h0M529.9 416.1h0M530.5 416.3h0M530.6 413.8h0M530.8 415.5h0M531.8 417.1h0M532.7 415.4h0M532.9 416.1h0M534 416.9h0M535.3 415.7h0M535.9 412.7h0M536.9 417.9h0M537.3 399.6h0M537.6 393.3h0M537.6 392.6h0M538.5 370.6h0M539.2 346.2h0M540.1 350.4h0M540.3 347.7h0M540.6 349.7h0M541.2 353.5h0M543.1 392.2h0M543.5 405.5h0M544.3 417.4h0M544.3 414h0M545 420h0M547.1 418.3h0M548.8 417.7h0M549.2 418.6h0M549.2 419h0M549.5 417.5h0M550.2 419.5h0M550.8 418h0M552.2 414.9h0M552.6 418.2h0M552.8 417.1h0M553.1 416.3h0M555.1 416.1h0M556.2 423.5h0M556.5 419.8h0M556.5 418.3h0M557.2 417.4h0M557.7 415.9h0M557.8 417.4h0M558.7 420.5h0M559.5 417.3h0M560.3 417.9h0M561.1 420.9h0M561.2 419.2h0M561.6 417.8h0M562.4 415.4h0M562.5 416.5h0M562.9 416.5h0M565.9 419.1h0M566.3 415.8h0M567.9 416.6h0M568.1 417.7h0M569.1 417.7h0M569.5 415.4h0M569.8 414.1h0M571 412.2h0M571.6 413.6h0M572.3 409.7h0M574.1 414.8h0M575.5 415.7h0M575.6 410.7h0M575.7 414.2h0M576.3 416h0M576.7 415.2h0M577.9 416.2h0M578.3 413.1h0M579.4 415.7h0M579.5 413.9h0M580.7 414h0M581.2 401.5h0M581.6 359.1h0M584.3 91.9h0M584.4 90.5h0M584.6 94h0M585.8 146h0M585.8 150.7h0M586.4 254.8h0M586.8 316.9h0M587.1 365.2h0M588.6 415.6h0M589.4 418.4h0M589.9 416.8h0M590.7 418.4h0M591.4 417.8h0M591.9 417.2h0M592.1 416.9h0M592.3 417.8h0M593.3 417.2h0M593.8 420h0M594.5 420.2h0M596.9 421.2h0M597.3 418.9h0M597.4 420.6h0M597.7 420h0M598.5 417.8h0M598.9 416.9h0M601.1 422.2h0M602.3 417.4h0M602.3 418.3h0M602.9 420.4h0M603.8 418h0M605.6 422.1h0M606.4 418h0M608.3 417.1h0M608.5 417.2h0M608.8 420.9h0M609 418.4h0M610.8 417h0M611.2 420.2h0M612.5 422.1h0M615.8 416.5h0M616 416.1h0M616.1 413.2h0M616.3 413.5h0M616.4 414.6h0M616.8 415.2h0M616.8 415h0M617.1 418.4h0M617.7 412.8h0M618.9 414.4h0M619.4 416h0M620 414.7h0M621.3 416.7h0M622.1 414.5h0M622.4 415.7h0M623 413h0M624.1 416h0M624.1 416.8h0M624.8 411.9h0M625.9 384.9h0M628.7 346.6h0M629.1 351.5h0M629.3 347h0M630 360.2h0M630.1 365.9h0M631.5 414.4h0M631.8 415.1h0M631.9 415.1h0M632 416.9h0M632.3 416.2h0M633 415.1h0M635.1 420.3h0M636.7 415.6h0M637.2 417.3h0M638.6 418.4h0M641.7 414h0M642.2 417h0M642.8 417.5h0M642.9 421.1h0M643.2 416.3h0M644.2 419.3h0M644.4 416.5h0M644.5 414.7h0M644.9 415.8h0M645.5 416.1h0M645.7 417h0M646.4 420.6h0M647.2 422.3h0M647.3 417.9h0M649.4 420.6h0M650.1 419.6h0M650.7 419.4h0M650.9 416.8h0M651.6 418.8h0M652 420.2h0M652.7 415.7h0M653.3 416h0M654.9 417.6h0M655.8 416.9h0M656.1 413.4h0M656.2 419.9h0M657.1 413.6h0M657.8 416.8h0M658.6 414.9h0M659.6 411.9h0M659.8 411.6h0M660.8 417.1h0M661.1 417.5h0M662.2 416.1h0M662.4 414.5h0M662.8 412.2h0M664.9 411.1h0M666.7 411.6h0M666.8 415.4h0M667.3 413.9h0M667.9 411.6h0M668.8 409.5h0M669.3 371.9h0M669.6 344.6h0M670.3 231.2h0M670.6 176h0M671.2 108.4h0M671.4 104.9h0M674.2 243.3h0M674.7 331.5h0M676.2 416.1h0M677 415.8h0M678.5 414.3h0M678.6 419.5h0M679 415.1h0M679.4 417h0M679.5 417.8h0M680.2 420.4h0M681.2 419.4h0M681.5 417.2h0M681.9 417.7h0M682 418.5h0M682.9 418.7h0M683.2 419.4h0M685.7 420.5h0M686 417.3h0M686.5 418.9h0M687.2 416.9h0M687.3 422.3h0M687.5 419.5h0M688.6 416.8h0M689 419.1h0M689.5 415.5h0M689.9 419.8h0M690.3 417.6h0M690.9 418.9h0M692 417.2h0M692.7 415.9h0M692.9 420.4h0M693.7 417.5h0M693.7 419.4h0M694.8 417.8h0M695.9 416.1h0M696.3 416.9h0M697.2 414.8h0M698.6 416.1h0M698.7 414.2h0M698.9 417.4h0M699.7 415.4h0M700.2 415.3h0M700.7 418.7h0M700.8 418.3h0M701.3 412.7h0M702.3 416.2h0M702.7 417.1h0M703.3 414.1h0M706.7 415.5h0M707.6 411.6h0M707.9 418.1h0M708.8 414.9h0M709.3 415h0M710 416.2h0M710.6 417.6h0M710.7 412.8h0M711.8 414.5h0M712.4 416.7h0M712.6 413.6h0M712.7 410.9h0M714.2 371.5h0M715.4 351.5h0M715.6 349.9h0M716.3 351.4h0M717.2 352.2h0M717.6 348.1h0M718.3 374.9h0M719.1 396.6h0M719.3 409.3h0M719.8 416.1h0M720.2 417.3h0M720.5 413.5h0M720.6 416.8h0M721 414.2h0M721.3 414.4h0M721.6 416h0M721.7 417.8h0M724.9 416.5h0M725.5 417.3h0M725.9 416.3h0M726.3 418.5h0M727.3 417.1h0M728.2 415.3h0M728.3 417.1h0M728.8 412.6h0M730.4 416.9h0M730.6 414.8h0M733.2 413.8h0M733.6 415.4h0M735.1 414.9h0M735.2 415.7h0M735.5 417.4h0M737 414.1h0M738.1 415.7h0M739 414.2h0M740 414.6h0M740.3 416.6h0M741.4 417.8h0M741.6 416.7h0M742 414.5h0M743.4 413.1h0M743.5 414.9h0M744.2 414.8h0M745.5 415.8h0M746.6 416.2h0M748.2 416.5h0M748.3 414.9h0M748.5 418.6h0M749 414.4h0M749.4 414.4h0M749.8 416.6h0M750.1 418.1h0M750.3 415.1h0M750.9 416.5h0M751.2 414.4h0M751.5 416.1h0M751.7 417.2h0M753.3 417.9h0M753.8 414.2h0M754.7 415.2h0M754.9 415.4h0M755.4 417.3h0M755.5 418.4h0M755.6 417h0M756.7 410.3h0M757.6 311.8h0M758.7 130.5h0M758.8 122.5h0M758.9 118.2h0M759.3 99.9h0M760.5 96.1h0M762.1 246.6h0M763.9 419.8h0M765 421.7h0M766.1 421.5h0M766.8 424.9h0M768.2 423.2h0M768.9 421.3h0M769 422.1h0M770.6 420.5h0M771 420.5h0M771.3 418.8h0M771.5 421h0M772 418.5h0M772.5 419.1h0M772.6 418.7h0M775.2 415.4h0M776.4 417.9h0M776.8 419.3h0M779.7 421h0M780.2 415.6h0M781 416.4h0M782 416.4h0M782.9 419.2h0M783.4 420.1h0M783.8 422.2h0M784.1 421.8h0M784.2 419.2h0M785.6 417.6h0M786.4 416.2h0M787.2 414.9h0M787.7 419.3h0M788.2 418.3h0M789.6 416.2h0M789.9 417.6h0M791.4 420.1h0M792.3 417.5h0M792.5 418h0M793.1 418.8h0M795.3 415.3h0M796.3 414.9h0M796.8 414h0M797 415.2h0M797.6 418h0M799 417.8h0M800.5 418.9h0M800.9 401.5h0M801.6 384.7h0M802.2 361.6h0M802.6 351.4h0M803.2 349.3h0M803.2 352.9h0M846.5 135.6h0M847.9 99.2h0M848.4 95.7h0M848.8 107.2h0M849.3 142.7h0M849.8 220.6h0M850.5 348.6h0M850.6 355.5h0M851 398.5h0M852.7 419.2h0M853.6 418.9h0M854 417.3h0M854.7 417h0M854.7 421.7h0M855.3 419.2h0M855.7 420.6h0M857.4 424.7h0M858.6 424.4h0M859 422.4h0M859.2 419.7h0M859.6 421h0M861.4 418.8h0M862.1 420.3h0M862.8 420.3h0M863.1 420.6h0M864.3 419.3h0M864.5 417.9h0M864.6 417.5h0M864.8 424.8h0M865.2 418.4h0M866.7 417.9h0M867.4 422.1h0M868.3 419.3h0M868.4 417.3h0M869.7 419.4h0M870.1 416.4h0M870.2 415.6h0M871 419.7h0M871.2 419.5h0M871.9 414.3h0M872.1 417.1h0M873 417.6h0M873.3 417.8h0M874 418h0M874.4 416.5h0M876 416h0M877.5 414.4h0M878.1 416.3h0M878.4 416.8h0M879.3 414.5h0M880.4 415h0M880.8 414.9h0M882.2 415.7h0M882.5 416.1h0M882.7 415.5h0M883.6 414.8h0M883.8 414.8h0M884.4 416.9h0M885.3 416.3h0M885.7 416.2h0M886.7 415.8h0M887.4 415.6h0M888.4 411h0M888.9 397.9h0M888.9 396h0M889.1 396.4h0M889.7 379.9h0M890.2 358.8h0M890.4 352.8h0M890.9 353.4h0M891.3 349.8h0M891.8 351.1h0M892.3 350.6h0M892.7 353.2h0M893.1 354.6h0M893.5 360.6h0M894.1 380.3h0M895.3 419.5h0M896.9 416.9h0M897 416.9h0M897.9 414.2h0M898.4 417.7h0M898.6 417.7h0M899.4 418.7h0M899.7 418.3h0M900.1 420h0M902.1 416.7h0M903.2 416.5h0M903.3 418.8h0M904.4 414.7h0M904.9 415.5h0M905 418.5h0M906.3 415.9h0M907.3 414.9h0M907.4 414h0M907.7 414.9h0M907.8 416.7h0M908.6 418.7h0M908.7 417.3h0M908.8 415h0M909.2 416h0M910.5 415.8h0M911 417.3h0M912.1 418.1h0M912.2 416.2h0M912.7 415.9h0M912.9 417.7h0M913.5 414.9h0M913.7 414h0M914.5 413.3h0M915 413.2h0M915.2 416.7h0M915.4 416.4h0M916.2 416.2h0M916.9 413.6h0M917.8 414.2h0M918.5 414.9h0M919.5 414.9h0M919.9 416.5h0M920 415.3h0M920.5 416.5h0M921.8 416.5h0M922 415.2h0M922.3 413.8h0M922.7 414.3h0M922.8 413.5h0M923.4 416.2h0M924.4 412.9h0M925.6 413.7h0M925.7 414h0M926.5 413.9h0M926.7 415.1h0M927.3 416.2h0M927.5 413.6h0M927.8 415h0M928.1 413.5h0M928.2 414.5h0M929.2 414.3h0M929.3 416.6h0M930.2 416.9h0M930.6 413.6h0M931 414.2h0M931.3 412.7h0M931.8 417.6h0M933 363.1h0M933.1 352.7h0M933.8 236.6h0M934.6 118.1h0M935 103h0M935.2 102.3h0M937.3 152.4h0M938.9 403.1h0M939.1 407.6h0M939.2 416.1h0M939.7 416.3h0M940.8 418.3h0M941.6 418.6h0M943.3 418.8h0M944.4 423.8h0M946.7 423.2h0M947 422.3h0M947.5 420.6h0M947.8 422.5h0M948.2 418.3h0M948.6 422.1h0M950.1 422.4h0M950.5 419.4h0M950.8 421h0M951.6 420.6h0M953.1 422.6h0M953.7 418.1h0M954.3 418.8h0M955.1 418.7h0M956.2 417.5h0M956.4 418.6h0M959 417.4h0M959.3 419h0M959.9 417.8h0M961.5 417.3h0M963.2 415.5h0M964.3 418h0M964.6 417.2h0M966.3 413.3h0M967.2 413.7h0M967.4 412.5h0M967.6 411.3h0M970.2 414.6h0M971.2 415.2h0M971.3 412.4h0M971.6 413h0M971.9 410.5h0M972.3 413.5h0M972.7 412.9h0M973.1 413h0M974.7 412.7h0M975.3 414.6h0M975.5 412.8h0M976.5 404.3h0M976.9 390.4h0M977.6 369.1h0M979.3 346.3h0M979.3 349h0M979.7 351.8h0M979.9 351.4h0M981.3 357h0M981.3 353.5h0M982.1 388.9h0M982.9 410.7h0M984.3 416.2h0M984.6 414h0M985.4 417.5h0M985.8 420.2h0M985.9 415.7h0M986 417.3h0M986.1 417.4h0M986.6 417.6h0M987.4 417.7h0M988.3 418.9h0M988.7 419h0M989.4 418.1h0M990.8 419h0M990.9 418.8h0M991.5 418.9h0M991.7 422h0M992.3 415.8h0M993.5 416.4h0M994.2 416.4h0M995.2 418.2h0M996.6 421.5h0M997 416.1h0M997.4 416.3h0M997.6 417.3h0M998.3 419.5h0M998.4 416.9h0M998.6 415.9h0M998.9 419.6h0M999.5 416.2h0M1000.5 417.2h0M1003.3 416.1h0M1004.7 414.7h0M1005.9 416.6h0M1006.3 417.2h0M1007.5 415.2h0M1010.6 416.4h0M1011.2 413.2h0M1011.8 418.7h0M1012.3 416.2h0M1013.1 414.7h0M1013.1 418.1h0M1013.8 414.8h0M1013.9 411.4h0M1014.4 414.9h0M1014.8 411.7h0M1015.7 413.6h0M1015.9 413.5h0M1016 414.7h0M1016.3 413.4h0M1016.6 416.8h0M1016.9 413.9h0M1017.4 413.5h0M1018.2 414.9h0M1018.3 416.4h0M1018.3 416.6h0M1018.4 415.9h0M1019.1 415.5h0M1021.1 327.5h0M1024.3 98.5h0M1024.6 106.3h0M1025 142.9h0M1025.1 158.9h0M1025.8 275.7h0M1026 306.5h0M1026 316.3h0M1026.6 390.5h0M1027 414.6h0M1028.4 416.5h0M1028.6 419.4h0M1029 417.3h0M1029.2 420.1h0M1031.2 423.2h0M1031.4 421.1h0M1036.1 419.9h0M1036.2 422.1h0M1036.6 422h0M1037.4 420.2h0M1037.6 419.2h0M1038.5 418.6h0M1039.2 418.6h0M1039.3 421.1h0M1039.6 419h0M1039.9 421.4h0M1040.1 421.7h0M1040.3 419.7h0M1040.4 421h0M1041.6 422.3h0M1041.9 419.8h0M1042.6 416.3h0M1043 418.8h0M1043.3 416.4h0M1043.3 421.5h0M1043.8 417.3h0M1044.4 421.4h0M1044.8 417.1h0M1045.4 419.6h0M1045.5 420h0M1046.2 418.3h0M1046.8 419.4h0M1047.1 417.5h0M1047.3 416h0M1048 415.2h0M1048.3 417.2h0M1048.4 418.1h0M1049.1 416.7h0M1049.6 412.9h0M1051 416.8h0M1051.1 419.7h0M1051.7 418.2h0M1051.8 414.8h0M1053.1 415.7h0M1053.5 416.9h0M1054.6 412.9h0M1057.9 414.4h0M1059.9 414.5h0M1060.2 414.7h0M1062.5 412.7h0M1063.1 414h0M1064.3 409.3h0M1064.8 392h0M1065.3 375.2h0M1066.1 345.7h0M1066.2 350.9h0M1066.5 344h0M1066.5 346.6h0M1070.3 390.1h0M1071.4 415.7h0M1071.5 415.1h0M1071.5 415.3h0M1074 411.2h0M1074.1 414.2h0M1075.4 413.8h0M1076.1 414.6h0M1077.6 414.3h0M1077.7 413.1h0M1077.8 415.5h0M1078.1 412.8h0M1078.2 417.5h0M1078.5 414.8h0M1079.6 413.5h0M1079.7 413.3h0M1080.6 413.2h0M1082.4 418.9h0M1082.5 418.4h0M1083.9 415.8h0M1083.9 415.5h0M1084.1 419.3h0M1084.9 416.9h0M1085 414.4h0M1085.1 416h0M1085.5 418h0M1086.4 412.8h0M1086.5 415.9h0M1086.6 418.2h0M1087.3 418.1h0M1087.6 418.4h0M1087.7 418.2h0M1088.3 415.5h0M1089.4 418.2h0M1090.5 414h0M1092 417.8h0M1092.5 418.5h0M1094.5 416.5h0M1095 415.8h0M1095.5 413h0M1095.7 415.1h0M1096.6 416.7h0M1096.8 420.6h0M1096.9 415h0M1097.7 416.3h0M1097.9 415.6h0M1098.7 416.8h0M1099.4 416.9h0M1099.8 418.1h0M1100.1 416.4h0M1100.3 417.2h0M1101.4 418.6h0M1102.9 414.9h0M1103 414.1h0M1103.5 415.4h0M1103.6 419.4h0M1104.9 415.7h0M1105.6 413.9h0M1106.4 415.6h0M1107 414.6h0M1107.7 415.2h0M1108 415.9h0M1109.2 293.4h0M1109.2 280.9h0M1111.2 87.6h0M1113.3 213.2h0M1113.4 238.9h0M1115.3 413.6h0M1115.6 421.5h0M1116.8 415.3h0M1116.9 415.4h0M1117.3 418.3h0M1118 419.1h0M1118.1 417.4h0M1119.2 418.1h0M1121.2 420.1h0M1122.1 421.6h0M1122.4 421.2h0M1123.8 418.7h0M1124.6 421.1h0M1124.9 422.1h0M1125.5 420.4h0M1126.5 420.4h0M1128.4 417.7h0M1128.7 421.7h0M1129.1 420.8h0M1129.4 419.2h0M1130 421.2h0M1130.1 419.9h0M1130.4 419.8h0M1130.9 421.3h0M1133.5 417h0M1134.6 420.8h0M1134.8 419.7h0M1135.9 418.5h0M1136.3 419.7h0M1137.7 419.7h0M1139.8 418h0M1141.6 417.5h0M1141.7 417.1h0M1143.8 419.1h0M1145.7 416.8h0M1145.9 418.8h0M1146.1 415.8h0M1146.8 418.5h0M1148.2 417.8h0M1151.6 420.4h0M1151.7 417.1h0M1151.8 419.6h0M1152.8 392.3h0M1153.3 373.1h0M1153.9 352.8h0M1154 346.6h0M1154.3 346.7h0M1154.6 347.3h0M1155.8 352.2h0M1156.8 352.4h0M1157 355.3h0M1157 361.4h0M1158 391.7h0M1158 389.7h0M1159.1 417.5h0M1159.5 418.3h0M1159.6 416.6h0M1160.1 420h0M1161.2 418.1h0M1161.9 417.3h0M1162.3 419.9h0M1162.8 416.4h0M1163 421.1h0M1163.3 417.2h0M1163.6 417.2h0M1164.2 416.7h0M1164.4 422.9h0M1164.5 419.5h0M1166.2 417.1h0M1166.5 420.4h0M1166.6 418.4h0M1166.6 416.7h0M1166.8 418.5h0M1167.1 417.3h0M1168.4 417.6h0M1168.8 415.2h0M1169 416.9h0M1169.9 417.6h0M1170.5 419.2h0M1171.3 417.4h0M1172.2 419.2h0M1172.4 417.2h0M1172.8 416.6h0M1174.9 418.1h0M1177.2 419.9h0M1177.8 417.5h0M1180.7 419.3h0M1181 418.3h0M1181.1 418h0M1182.4 416.1h0M1183.2 415.6h0M1183.3 417.7h0M1183.8 419.7h0M1184.9 417.7h0M1186.3 418.7h0M1186.7 417.3h0M1186.9 417.5h0M1188.4 415.2h0M1189.7 417.1h0M1190.3 418.9h0M1191.6 418h0M1191.7 416h0M1192.6 419.2h0M1193.1 418.7h0M1193.5 413.1h0M1194.3 420.8h0M1194.5 416.7h0M1195.2 417.9h0M1195.6 419.7h0M1196.2 399h0M1196.5 372.1h0M1196.8 322.1h0M1196.9 314.7h0M1198.7 92.6h0M1201.4 265.8h0M1201.6 300.4h0M1201.8 326.5h0M1202.2 381.3h0M1202.4 393.6h0M1202.9 418.3h0M1205.8 417.7h0M1208.2 416.2h0M1209.6 418h0M1210.3 421.1h0M1210.8 416.9h0M1210.9 418h0M1212.1 419.7h0M1213.2 422.7h0M1213.4 418.8h0M1213.6 419.6h0M1214.4 422.6h0M1214.9 422h0M1216.1 422.2h0M1216.9 421.2h0M1218.2 421.3h0M1218.4 420.3h0M1219.4 421.6h0M1220.4 420.5h0M1222.2 418.5h0M1223.2 422.1h0M1223.4 418.1h0M1223.7 421.4h0M1224.2 417.8h0M1224.8 419.4h0M1225.6 418.6h0M1226.9 418.7h0M1227.4 419.7h0M1228.3 416.2h0M1228.5 416.1h0M1228.8 418.9h0M1229.2 416.9h0M1229.5 419.8h0M1231.1 419h0M1233.6 421h0M1233.7 420.2h0M1234.5 419.5h0M1234.6 417.5h0M1235.3 420.7h0M1236.2 417.2h0M1237 419.6h0M1237.3 417.4h0M1238.3 416.8h0M1238.7 416.1h0M1239 419.3h0M1240.2 402.6h0M1240.5 397.3h0M1241.2 374.3h0M1241.7 356.4h0M1242 352.6h0M1243.3 351.3h0M1243.7 351h0M1243.9 352.4h0M1244 353.3h0M1244.6 352.8h0M1245.5 383.8h0M1249.6 416.9h0M1249.8 417.1h0M1250.5 415.4h0M1251.9 415.8h0M1252 419h0M1252.2 417.3h0M1252.6 419.4h0M1254.8 419h0M1255.4 418.2h0M1256.2 415.7h0M1257.3 417.1h0M1257.4 417.8h0M1258.8 419h0M1259.5 418.6h0M1259.6 419.4h0M1260.9 416.1h0M1261 416.3h0M1261.2 416.5h0M1262.2 415.8h0M1263.6 416.5h0M1263.7 418.3h0M1264 417.2h0M1264.5 418.6h0M1265.2 418.2h0M1265.6 415.2h0M1265.9 416h0M1266.7 416.2h0M1266.8 418.7h0M1266.9 419.3h0M1267.1 418.3h0M1267.2 414.2h0M1268.2 415.6h0M1268.3 419.3h0M1268.5 418h0M1268.8 416.1h0M1269.4 419.8h0M1269.9 416.8h0M1270.8 417h0M1271.1 415.2h0M1273.2 415.4h0M1273.9 419.4h0M1274.6 415h0M1274.6 416.7h0M1274.7 416.5h0M1276.4 413.6h0M1277.9 418.7h0M1278.6 419.1h0M1279 416.2h0M1279.9 416.2h0M1280.2 418.4h0M1281 418.1h0M1281 418h0M1281.2 415h0M1282.8 417.2h0M1283 419.1h0M1283.2 414.5h0M1283.7 414.3h0M1285.1 247.8h0M1286.3 98.6h0M1286.6 97.2h0M1286.6 88.4h0M1287.3 91.5h0M1287.6 95.7h0M1288.3 114.5h0M1288.4 119.1h0M1289.6 320.1h0M1290.4 410.2h0M1290.7 418.8h0M1291.9 418h0M1292 418.6h0M1293.9 417.5h0M1294.3 416.7h0M1294.7 418.8h0M1295.5 418.2h0M1295.7 418.6h0M1297.1 417.9h0M1297.5 418.1h0M1297.6 415.6h0M1297.7 417.9h0M1298.1 421.5h0M1298.9 417.6h0M1300.7 418.7h0M1301.7 418.9h0M1302.8 416.6h0M1303.1 418.9h0M1304.5 417.9h0M1305.4 418.2h0M1305.5 422.4h0M1306 419.9h0M1306.2 419.7h0M1307.8 418.6h0M1308.1 417h0M1308.5 418.4h0M1308.7 419.8h0M1308.8 419.1h0M1309.2 420.5h0M1310.1 420.1h0M1311.7 417.7h0M1312 417.9h0M1314.3 415.9h0M1315.1 418h0M1315.2 415.2h0M1315.4 419h0M1316.6 417.1h0M1317.5 416h0M1319.4 415h0M1320.1 417.2h0M1320.7 416.5h0M1320.9 418.9h0M1321 417.3h0M1321.1 416.9h0M1322.2 417.4h0M1322.8 416.4h0M1323.7 413.3h0M1326 415h0M1326.1 415.8h0M1326.3 417.2h0M1327.3 415h0M1327.4 415.3h0M1328 401h0M1328.2 399.6h0M1328.4 390.5h0M1328.5 388.5h0M1329.2 366.2h0M1330.2 347.5h0M1331.7 348.9h0M1332.3 344.8h0M1332.8 362.4h0M1332.9 362.9h0M1333.4 379.2h0M1333.5 388.5h0M1333.7 389h0M1334.6 415.1h0M1336 416.8h0M1336.4 416.4h0M1338.6 415.4h0M1339.1 417.3h0M1339.7 422.5h0M1340.7 421.1h0M1340.9 416h0M1341.9 419.6h0M1344.7 417.6h0M1345.7 420.2h0M1345.8 418h0M1346.8 418.4h0M1347.2 420h0M1348.3 419.2h0M1350.8 416.8h0M1352 419.7h0M1352.9 417h0M1352.9 418.7h0M1355 418.5h0M1355.5 413.9h0M1355.9 414.1h0M1356.4 420h0M1356.9 417.8h0M1357.4 416.1h0M1357.6 413.6h0M1358.7 414.6h0M1359 415.3h0M1361.5 417.7h0M1362.1 417.6h0M1363.6 417.8h0M1366.5 416.3h0M1367.6 415.7h0M1368.6 417.6h0M1368.7 416.1h0M1369.7 417.1h0M1370.3 417.6h0M1370.4 417h0M1370.7 415.7h0M1371.1 415.8h0M1371.4 419.1h0M1371.7 408.4h0M1371.9 391.2h0M1372.8 282.3h0M1373.2 199.1h0M1373.4 167.8h0M1373.8 112h0M1373.9 111.5h0M1374 103.5h0M1374.1 96.3h0M1374.2 90h0M1374.6 84.4h0M1376 102.1h0M1376.1 106.2h0M1376.3 121.1h0M1376.4 131.5h0M1376.4 138.4h0M1376.6 172.2h0M1376.7 193.5h0M1377.1 263.2h0M1378.1 401.7h0M1378.3 407.1h0M1378.4 410h0M1379.1 417.8h0M1380 419.8h0M1380.1 420.8h0M1380.3 416.3h0M1381.2 418.5h0M1381.3 419.1h0M1381.6 420.8h0M1381.9 418.3h0M1382.5 417.2h0M1382.7 420.3h0M1383.5 415.3h0M1383.7 416.9h0M1384.2 421h0M584.1 81.3h0M1375.1 84h0"/>
<path d="M260.4 417.9h0M260.6 419.6h0M260.6 417.6h0M262 417h0M262.3 418.4h0M262.9 420.7h0M263 417.2h0M263.4 417.1h0M263.9 418.1h0M265.9 418.5h0M266.1 419.4h0M266.7 417.9h0M268.3 417.2h0M268.9 416.2h0M269.6 417.2h0M269.6 416.8h0M270 416.9h0M270.4 414.5h0M270.5 417.8h0M272.8 414.9h0M273.6 414.7h0M273.9 398.9h0M273.9 401h0M274.2 395.1h0M274.6 382.9h0M275.3 360h0M275.4 355.1h0M275.7 355h0M276.1 351.7h0M279.4 391.8h0M279.9 403.2h0M280 407.1h0M280.8 415.2h0M280.9 417.7h0M282.2 414.7h0M283.8 414.3h0M284 416.4h0M285.5 417.5h0M285.5 417.7h0M285.8 416.2h0M286.1 416.3h0M286.3 414.5h0M287.2 417.2h0M287.9 419.8h0M290 418.1h0M291 417.8h0M291.4 414.6h0M291.9 415.3h0M292.2 413h0M292.3 416.2h0M293.7 413.8h0M295 413.8h0M296.4 416.8h0M296.5 415.6h0M297.2 414.9h0M297.4 416.5h0M297.6 415.9h0M297.8 416.2h0M297.9 412.9h0M298.8 414.5h0M299.3 416.9h0M299.6 414.2h0M299.8 417.8h0M301.4 415.3h0M304.8 411.3h0M304.9 414.4h0M306.3 415.6h0M307 411.3h0M307.4 414.1h0M307.7 416.8h0M309.4 413.7h0M309.8 411.7h0M310.4 415.7h0M310.8 416.2h0M310.9 415.4h0M312.5 413.4h0M313.2 415.2h0M314 419h0M314.8 413.8h0M315.8 414.6h0M316.4 411.4h0M317.6 400h0M318 364.9h0M318.2 339.4h0M318.3 317.2h0M321.3 93.2h0M321.8 106.5h0M321.9 105.4h0M322.1 133h0M323 278.3h0M323.6 362.9h0M323.8 383h0M324.8 412.6h0M325.6 415.3h0M325.9 418.6h0M326.6 415h0M328.8 416.6h0M329.5 415.6h0M330.3 417.8h0M330.9 421.6h0M331 418.2h0M332.2 418.1h0M332.3 423h0M332.6 415.7h0M332.7 418.2h0M333.8 418.5h0M335 418.3h0M335.2 420.3h0M335.5 418.3h0M335.9 423.8h0M337.2 421.4h0M337.3 423h0M337.7 419.7h0M338.5 419.1h0M338.7 421.2h0M340.2 423.3h0M341.1 419h0M341.2 420.3h0M341.6 419.6h0M342.2 420.9h0M342.2 420.6h0M342.5 419.3h0M342.9 416h0M344.3 418.6h0M344.3 418.6h0M344.8 419.7h0M345.6 418.2h0M346 421.7h0M347.3 418.5h0M347.4 419.9h0M347.8 417.8h0M352.5 420.1h0M352.6 417.6h0M352.7 417.9h0M355 417.9h0M355.1 414.5h0M356.3 417.6h0M357.8 417.2h0M359 415.4h0M359.7 415.8h0M359.9 417.1h0M360.8 414.6h0M360.9 416.7h0M361.5 409.2h0M362 393.3h0M362.2 389.3h0M362.5 382.7h0M363.8 352.2h0M365.5 351.7h0M365.7 352.8h0M366.1 353.4h0M368 412.7h0M368.5 417.3h0M369.1 419.9h0M370.2 420.4h0M370.6 418.6h0M371.2 417.8h0M373.1 417.9h0M373.5 416.9h0M373.5 419.7h0M374.5 419.8h0M374.8 415h0M374.8 417h0M375.9 420.1h0M376.9 414.6h0M377 413.8h0M377.1 416.6h0M377.5 420.6h0M378 416.8h0M379.2 414.2h0M380.5 413.3h0M381.1 415.7h0M382 411.9h0M383.4 416.7h0M383.6 415.9h0M386.2 415.7h0M387.3 417.1h0M388.8 412.8h0M389 415.7h0M389.1 413.2h0M391.5 414.5h0M395.6 413.3h0M396.3 414h0M397.8 414.8h0M398.8 412.5h0M400 412.2h0M402.7 414.4h0M403.1 416.1h0M403.8 416.2h0M404 414.7h0M405.2 409.9h0M405.5 399.1h0M406.2 315.8h0M406.4 287.2h0M406.7 238h0M406.9 192.1h0M408.4 96.8h0M408.8 97.1h0M409.9 121.5h0M410.4 186.2h0M411.2 340.4h0M411.3 350h0M411.6 388.3h0M411.9 410.5h0M412.1 411h0M412.5 416.7h0M413 418.2h0M413.6 415.5h0M414.8 418.6h0M415 418.4h0M415.9 418.6h0M418.5 422.5h0M418.9 420h0M420.7 421.5h0M421.1 420.2h0M421.3 419.7h0M421.6 422.5h0M424.3 421.1h0M425.2 419.1h0M425.6 420.4h0M425.7 423.1h0M425.9 418.4h0M429.4 421h0M430.1 417.8h0M430.6 422.1h0M432.3 421.4h0M432.6 422.7h0M432.9 421.1h0M434.7 421h0M435.4 420.8h0M435.9 421.5h0M436.4 418.3h0M436.5 421.8h0M437.5 418.3h0M438.3 419.8h0M438.9 419.7h0M439 424.9h0M439.8 423.9h0M439.9 419h0M439.9 419.5h0M441.8 419.6h0M443.5 423.1h0M443.9 418h0M444.3 419.5h0M445.2 420.3h0M445.7 420.3h0M446.5 418.4h0M447 417.6h0M447.1 419.9h0M448 416.8h0M448.1 419.4h0M448.4 418.7h0M448.4 420.6h0M448.8 419.1h0M449.8 398.6h0M450.6 370.5h0M451.2 352.2h0M451.6 351.7h0M452 352.8h0M453.1 351.3h0M453.7 349.9h0M454 353h0M454.2 356.4h0M454.8 378.7h0M456.3 417.5h0M457.5 420.1h0M458.3 421h0M459.3 420.5h0M460.1 423.6h0M461.4 418.2h0M461.8 418.4h0M463.1 417.3h0M463.5 415.5h0M463.6 418.2h0M465.2 421.7h0M465.3 419.5h0M468.7 418.3h0M469.5 413.3h0M470.9 419.4h0M471 415.9h0M471.4 418.8h0M472.1 416.6h0M473.4 415.1h0M473.8 415.5h0M474 415.2h0M474.3 413.7h0M474.4 418.2h0M474.5 415.7h0M475.2 416.9h0M476.6 414h0M477 415.5h0M477.1 414.3h0M479.7 417.7h0M480.1 416.8h0M480.2 414.8h0M483.5 416.4h0M484 415.4h0M484.1 411h0M485.1 414.2h0M485.7 411.9h0M485.9 414.5h0M486.4 414.5h0M486.7 414.7h0M486.8 415.7h0M487.6 415.5h0M487.7 413.1h0M487.9 412h0M487.9 412.5h0M488 413.8h0M488.2 415.6h0M489.3 414h0M489.8 412.3h0M490.3 413h0M490.7 413.1h0M490.8 413.4h0M490.9 408.8h0M491.2 414h0M492.2 413h0M492.9 413.7h0M494.7 197h0M497 93.7h0M497.1 92.3h0M497.7 118.8h0M497.9 140.6h0M498 156.3h0M498.5 240.1h0M498.7 270.6h0M499.9 414.3h0M500.7 413.3h0M500.8 416.6h0M502.8 416.7h0M504.9 418.4h0M506.7 418h0M507.5 416h0M507.6 417.8h0M507.7 415h0M508.4 419.3h0M508.7 418.1h0M509.1 416.4h0M509.4 415.4h0M509.8 420.8h0M510 418.6h0M510 416.9h0M510.1 419.4h0M511.2 419.6h0M512.1 421.3h0M513.2 418.1h0M513.7 416.2h0M514.9 421.5h0M515.1 419.8h0M515.7 418.5h0M515.7 420.6h0M515.8 419.6h0M516.1 419.6h0M517.1 419.5h0M518.7 417.8h0M518.9 418.9h0M519.3 418h0M519.8 417.8h0M520.3 418.3h0M521.6 416.4h0M521.9 419.8h0M522.7 421.1h0M523.1 419.2h0M523.4 421.1h0M524.2 417.5h0M525.9 414.6h0M526 417.4h0M526.3 414.5h0M526.4 417.2h0M526.5 415.3h0M526.5 417.6h0M526.7 416.6h0M526.9 416.6h0M527.4 413.3h0M527.7 415.9h0M527.8 419.2h0M528.3 413.1h0M528.4 419.4h0M528.5 418.5h0M529 418.6h0M529.2 415.7h0M530.3 419.3h0M531.6 416.2h0M533.4 416.6h0M533.6 417.7h0M534.4 414.7h0M534.8 414.2h0M535 415.5h0M535.1 419.2h0M535.4 418.3h0M535.4 415.3h0M535.7 415.4h0M536 415.4h0M536.6 417.3h0M538.7 361.2h0M538.8 356.2h0M539.2 349h0M539.9 349.8h0M540.2 349.7h0M540.3 349.9h0M540.8 348.4h0M540.9 349.7h0M541 348.4h0M541.1 349.6h0M541.8 350.2h0M542.1 360.1h0M542.8 387.4h0M543.4 396.7h0M543.9 414.1h0M545.2 415.8h0M546.4 416.8h0M548.2 418.9h0M549.3 419h0M550.3 421.2h0M550.6 421.4h0M551.2 419.1h0M551.3 419.6h0M551.6 414h0M552.4 418.9h0M553.7 417.6h0M554 418.4h0M554.1 416.6h0M554.2 416.9h0M555.1 419.5h0M556.1 418.5h0M556.7 419.4h0M557.5 420.3h0M559 421h0M559.1 419.3h0M559.6 417.8h0M560.1 419.9h0M560.7 414.6h0M560.8 418.1h0M560.9 422.2h0M562.7 417.6h0M563.1 415.8h0M563.4 416.1h0M563.5 414.3h0M563.7 419.9h0M564.5 414.4h0M564.7 415.8h0M567.4 417.7h0M567.5 414.5h0M568.5 415h0M568.6 413.9h0M569.2 416.5h0M570.2 414h0M570.5 417h0M571.7 411.5h0M572.1 412.8h0M572.4 416h0M572.4 413.1h0M572.8 415.6h0M573.5 414.7h0M573.9 413.5h0M574.2 415.7h0M575.4 416.3h0M576 415.5h0M576.2 413.9h0M578 414.6h0M578.6 415h0M578.8 416.3h0M579 414.8h0M579.2 418.7h0M579.3 415.7h0M580.1 417.8h0M580.2 418.4h0M580.5 415.8h0M581.3 388.6h0M582 293.8h0M582.2 278.4h0M582.3 243.7h0M582.7 184.1h0M585 96h0M586 170.8h0M586 178.2h0M586.2 219h0M586.5 279.4h0M587.1 360.3h0M588.3 418.3h0M588.9 416.3h0M589.2 417.7h0M589.5 417.6h0M590.1 415.6h0M590.5 416.8h0M591.7 417.4h0M591.8 417.7h0M591.8 415.5h0M592 423.5h0M592.4 422.3h0M593.2 419.3h0M593.5 419.1h0M594.3 418.5h0M594.8 419.6h0M595 421.8h0M595 418.6h0M595.3 418.2h0M595.5 416.6h0M595.6 420.3h0M596 417.3h0M596.6 419.5h0M598.2 419.3h0M599.8 419.6h0M600.9 418.7h0M601.5 415.8h0M602.1 418.9h0M603 420.1h0M604.1 419.3h0M604.4 414.7h0M605.2 417.3h0M605.7 420h0M606.8 417.8h0M607.3 418h0M607.6 419.1h0M608.9 415.1h0M609.4 418.5h0M609.9 419.8h0M610.3 417.1h0M611.3 418.9h0M611.5 418.6h0M612.9 413.5h0M614.2 413.5h0M614.3 419.4h0M614.9 414.5h0M615.4 415.9h0M617.2 417.7h0M619.2 412.9h0M619.3 414.3h0M621.4 414.1h0M621.8 416.1h0M623.8 414.4h0M624 410.3h0M624.9 410.9h0M625.6 389.1h0M625.8 388.5h0M626.7 350h0M628 347.4h0M628.4 347.2h0M628.8 347.8h0M631.6 413.2h0M632.6 418.2h0M632.7 414.7h0M632.9 416.1h0M633.7 417.9h0M633.9 414.9h0M634.4 413.6h0M636.2 419h0M636.7 417.2h0M638 419.6h0M638.8 419.2h0M639.2 417.3h0M640.7 419h0M641 416.7h0M642.1 418h0M642.7 419.7h0M642.7 419.3h0M643.7 416.7h0M644.6 418.2h0M644.7 416.6h0M645.1 416.4h0M645.6 420.7h0M648.4 417.5h0M648.7 422h0M649.2 416.1h0M649.2 417.4h0M649.8 419.3h0M650.2 417.1h0M651.5 418.3h0M652 416.8h0M654.4 415.6h0M654.4 416.1h0M655 416.4h0M655.2 415h0M656.3 414h0M656.5 414.7h0M657.2 416.7h0M657.9 415.2h0M658 416h0M658.2 414.1h0M658.3 415.8h0M658.5 413.7h0M658.8 415.1h0M661.4 412.7h0M661.7 412.4h0M661.8 415.8h0M662.5 414.8h0M664.1 416.2h0M664.7 413.4h0M665.9 413.6h0M666.6 415.2h0M667.1 413.9h0M667.6 415.1h0M667.9 413h0M669.1 395.4h0M669.3 377.6h0M671.1 116.3h0M671.7 101.2h0M672.2 96.8h0M672.3 95.7h0M672.4 96.9h0M672.4 92h0M675.8 416.8h0M677 413.2h0M677.6 416.8h0M681.8 422.4h0M682.2 421.8h0M682.9 418.6h0M683.3 417.6h0M685.3 419.1h0M685.9 419.9h0M686 420.1h0M686.6 418.8h0M687.4 419h0M689.6 416.3h0M689.8 420.1h0M692.1 419.8h0M695.3 417.9h0M695.7 416.7h0M696.6 415.7h0M697.6 416.4h0M697.7 415.7h0M697.9 418.4h0M698.2 416.2h0M698.3 416.7h0M698.5 413.6h0M698.8 418.3h0M699.2 414.9h0M699.5 416.7h0M699.6 415.4h0M700.1 417.9h0M700.4 417.7h0M701.4 415.4h0M702 415.1h0M702 419.8h0M702.5 417.1h0M702.6 415.6h0M703 415.9h0M703.1 418.1h0M703.8 414.5h0M704 418.4h0M704.6 415.5h0M704.9 411.7h0M705.4 411.6h0M705.7 417.6h0M706.5 417.7h0M706.8 418.4h0M707.8 415.2h0M708 415.3h0M709.2 414.8h0M709.5 420.6h0M710.2 415.3h0M710.7 414.9h0M711.2 412.4h0M711.5 412.5h0M711.6 416.6h0M711.7 416.9h0M711.8 417.9h0M711.9 412.6h0M712.1 419.7h0M712.2 415.3h0M712.4 415.4h0M713.1 398.3h0M713.3 394.4h0M713.5 389.9h0M713.6 389.3h0M713.8 381.8h0M714 373.7h0M715.2 348.6h0M715.5 352.3h0M715.7 348.2h0M716.7 351.2h0M716.8 347.4h0M719.7 415.9h0M719.9 417.6h0M720.4 415.8h0M720.9 417.7h0M722.3 415.2h0M722.3 416.8h0M723 417.6h0M723.5 416.6h0M723.6 413.5h0M724.4 415.9h0M724.5 419.5h0M725.1 415.6h0M725.7 415.5h0M725.8 415.9h0M730.7 416.3h0M731.3 413.8h0M731.6 415.5h0M732.3 416.9h0M733 416.7h0M733.9 416.4h0M736.8 415.1h0M737.4 416.3h0M738.2 419.3h0M738.7 417.2h0M738.9 417.8h0M739.7 418.7h0M739.7 417.8h0M741.3 414.1h0M741.4 415.9h0M741.8 412.1h0M741.8 414h0M741.9 416.9h0M742.5 418.2h0M742.8 417.4h0M743.4 414.4h0M743.6 414.4h0M746 418.5h0M746.2 415.3h0M746.3 418.2h0M746.5 414h0M747.1 416h0M747.4 412.7h0M747.7 415.6h0M748.6 416.6h0M749.6 417.4h0M751 416.7h0M751.3 414.6h0M753 416.5h0M754 417.8h0M755.5 414.1h0M756.1 418h0M757.5 338.2h0M757.8 282.5h0M757.9 269.4h0M758 251.3h0M758 245h0M759 105.6h0M759.6 97h0M759.7 95.8h0M760.1 94.3h0M761.2 124.1h0M763.5 417.2h0M765.2 418.2h0M767.6 422.8h0M768.4 422.9h0M769.2 420.5h0M771.2 419.9h0M773.1 420.7h0M773.7 417.7h0M774.6 419.1h0M775.8 418h0M776.6 418.4h0M777 417.3h0M777.5 416.9h0M777.9 416.6h0M778.3 415h0M779.3 419.2h0M779.6 420.1h0M780.1 418.5h0M780.4 419.4h0M781 414.4h0M781.4 417.8h0M782.6 417.5h0M785.1 420.8h0M785.5 417.9h0M785.6 418.3h0M785.8 416.6h0M786.7 416.9h0M787.1 419.4h0M787.1 418.1h0M787.9 418.6h0M788.1 415.9h0M788.8 418.9h0M789.4 418.1h0M790.4 416.9h0M790.7 415.9h0M791 419.2h0M791.1 418.9h0M792.1 415.8h0M792.1 419.4h0M792.5 417.7h0M792.9 418.1h0M793.6 416.4h0M793.7 416.3h0M793.9 416.8h0M794.2 420h0M795.3 414.8h0M796.2 414h0M797.6 418.9h0M798.2 415.3h0M798.4 414.3h0M800.4 416.3h0M801.9 370.7h0M803 350.6h0M803.3 350.8h0M803.4 353.8h0M803.9 353.2h0M845.2 352.8h0M845.7 279.1h0M846.1 204h0M846.4 156.7h0M846.8 115.2h0M846.9 106.1h0M847.6 95.5h0M847.7 95.1h0M848.1 94h0M849.2 127.9h0M849.5 182.5h0M851.2 417h0M851.8 417.2h0M855 418.4h0M855.5 423.3h0M855.7 420.7h0M855.9 420h0M856.7 418.5h0M857.9 420.4h0M858.1 419.8h0M858.6 420.8h0M859.7 424.6h0M859.9 420.9h0M860 417.7h0M860.5 420.5h0M861.3 422.2h0M861.3 419.9h0M861.5 419.5h0M861.7 421h0M862.1 425.2h0M862.4 419.7h0M863.3 424h0M863.4 420.9h0M863.5 421.9h0M865.6 418.9h0M866.4 419.5h0M866.9 419.7h0M866.9 417h0M868.8 417.3h0M869.1 420.6h0M870.3 420h0M870.6 418h0M872 416.7h0M872.2 414.2h0M872.3 417h0M872.4 419h0M873 418.5h0M873.6 418h0M874 416.6h0M874.8 418.8h0M877.9 414.5h0M878.5 417.2h0M878.6 415.9h0M879.7 414.3h0M879.8 415.4h0M881.2 419.1h0M881.7 416.8h0M881.8 416.2h0M882.3 415.2h0M882.4 417.1h0M882.8 415.8h0M883.3 416.5h0M884.7 413.5h0M885.2 419.1h0M885.9 413h0M887.1 415.3h0M889.8 376.5h0M890.1 360.6h0M890.7 350.2h0M891.9 351.4h0M892.1 350.5h0M892.6 353.8h0M892.8 352.6h0M896.5 415.4h0M896.8 416.9h0M900.4 415.3h0M900.5 418.3h0M900.6 422.2h0M902.3 416.1h0M903 416.3h0M904.3 419.1h0M906.2 416.6h0M906.7 417h0M906.7 416.5h0M907.1 413.4h0M907.5 414h0M907.5 415.8h0M907.6 415.9h0M907.8 416h0M907.9 415.4h0M908.1 417.8h0M908.2 417h0M908.3 416.8h0M909.4 416.3h0M910.2 414.5h0M911.2 417.8h0M911.7 418.5h0M911.8 417.3h0M912.6 412h0M912.8 418h0M913.3 414.4h0M914.2 413.6h0M914.8 413.9h0M915.5 414h0M915.8 413.6h0M916.4 416.5h0M917.4 411.1h0M918.1 413.7h0M918.7 415.5h0M918.9 414.7h0M919.4 415.5h0M921.8 414.9h0M922.1 413.2h0M922.7 414.8h0M922.9 413.8h0M923.2 412.3h0M925.4 414.8h0M925.7 412.6h0M925.9 410.8h0M926.1 416.5h0M927.2 410.9h0M928.3 414.1h0M929.4 412.8h0M929.9 414.3h0M930.1 415.7h0M931.4 415.5h0M931.5 416h0M932.4 409.7h0M933.3 315.8h0M933.9 222.3h0M934.2 159.8h0M934.6 113h0M935.4 98.3h0M935.6 92.9h0M935.8 93.9h0M935.9 99.2h0M936.1 98.2h0M936.3 95.3h0M937.4 187.6h0M937.5 205.5h0M938.5 362h0M938.7 383.7h0M942.6 421.7h0M942.8 418.1h0M943.2 415.5h0M943.6 418.6h0M944.5 417.6h0M945.5 419.6h0M946.9 418.9h0M947.4 420.1h0M947.9 422.9h0M948.4 420.4h0M949.4 416.7h0M949.4 423.3h0M949.7 419.8h0M950.5 422.9h0M951.7 421.3h0M951.9 423h0M952.2 419.6h0M952.2 420.5h0M953.5 417.8h0M954.6 420.9h0M955.2 418.2h0M955.3 419.8h0M955.4 414.9h0M956 419.8h0M957.7 419.1h0M957.7 417.9h0M958.1 420.4h0M958.7 418h0M959.4 417.9h0M959.7 417.3h0M960 417.1h0M960.2 417.1h0M960.6 418.4h0M961 418h0M961.1 415.1h0M961.6 418.1h0M962.7 413.6h0M963.1 414.5h0M963.8 415.5h0M964.8 415.4h0M965 415.8h0M965.5 412.7h0M966.7 416.3h0M968.8 411.6h0M969.1 414.1h0M969.2 416.8h0M969.5 415.1h0M969.6 413.8h0M969.7 410.1h0M970 414.5h0M970.8 410.4h0M971.1 412.1h0M971.2 412.1h0M973.3 413.5h0M973.6 415.7h0M973.8 416.5h0M974.4 415.5h0M975.7 411.9h0M975.9 412.4h0M976.4 410h0M977.6 373.7h0M978.3 353h0M979.2 348.2h0M979.7 353.2h0M979.9 346.2h0M980.2 348.1h0M980.3 352h0M981.4 356.3h0M981.5 362.2h0M982.4 390.2h0M982.7 397.7h0M983.9 418h0M985.6 419.3h0M985.7 418.9h0M985.9 415.8h0M988.5 416.3h0M990.8 417.7h0M991.6 419.2h0M991.9 418.6h0M992.2 416.4h0M992.7 421.5h0M993 418.8h0M993.1 418.4h0M995.1 416.6h0M996.2 418.2h0M996.3 416.5h0M997.3 415.2h0M997.6 417h0M998 417.4h0M998.7 416.4h0M999.2 416.4h0M999.8 416.9h0M1000.3 415.4h0M1001.8 420.8h0M1001.9 415.5h0M1002.3 417.1h0M1003.4 417.3h0M1003.7 418.2h0M1004.2 414.6h0M1004.4 416.6h0M1004.8 415.3h0M1007.1 418.4h0M1007.6 415.8h0M1009.2 413.7h0M1010.4 418.7h0M1011.7 415.9h0M1012.5 412.8h0M1013 413.2h0M1013.8 415.3h0M1014.1 413.8h0M1014.7 414.8h0M1015.6 414.5h0M1017.1 413.9h0M1017.6 415.9h0M1019.5 414.6h0M1020.4 406.1h0M1020.7 374.6h0M1021.1 336.2h0M1022.5 109.6h0M1023 95.8h0M1025.4 215.9h0M1027.4 417.7h0M1027.6 420.5h0M1028 417.7h0M1028 417.3h0M1028.1 419.5h0M1028.3 420.3h0M1029.7 420.4h0M1030.2 419h0M1030.8 420.1h0M1032.3 418.5h0M1032.5 417.6h0M1032.5 416.9h0M1033.1 418.5h0M1033.5 423.2h0M1033.9 419.1h0M1035.7 421.2h0M1036.2 419.5h0M1036.7 421.2h0M1036.8 418.6h0M1039 421.4h0M1039.1 419.4h0M1039.6 418.1h0M1041.2 421h0M1042.2 420.3h0M1043.7 418.9h0M1043.8 417.4h0M1045.1 419.4h0M1045.3 418h0M1046.2 417h0M1047.4 414.1h0M1047.8 417h0M1047.9 417.1h0M1048.9 417.8h0M1049 416.6h0M1049.6 419.9h0M1052.1 416.1h0M1053.7 417.3h0M1054 418.2h0M1054.9 417.3h0M1055.4 418.1h0M1060.9 413.7h0M1061.5 410.4h0M1062.3 417.6h0M1062.6 412.3h0M1065.2 378.3h0M1067.6 350h0M1068.1 347.1h0M1071.1 415.1h0M1071.8 413.5h0M1071.9 411.3h0M1072 413.6h0M1073.2 414.4h0M1073.7 416.2h0M1074.4 415h0M1074.6 415.2h0M1076.8 413h0M1080.2 418h0M1080.7 416.3h0M1080.9 418.2h0M1081.5 413.7h0M1081.8 418.4h0M1082.9 414.5h0M1083 419h0M1084 414.9h0M1084.2 416.7h0M1084.3 415.4h0M1084.8 416.5h0M1086.4 419.6h0M1087 416.6h0M1087.1 416.1h0M1089.2 417.2h0M1089.4 415.6h0M1089.6 413.8h0M1090 416.8h0M1090.6 416.3h0M1090.8 416.5h0M1091.1 416.6h0M1091.3 419h0M1091.6 420.3h0M1093 415h0M1093.4 419.5h0M1093.8 415.6h0M1094.9 419.8h0M1096.4 416.1h0M1097.4 415.1h0M1097.6 416.1h0M1097.8 420.2h0M1098 418.7h0M1098.6 419h0M1099.6 416.4h0M1099.8 416.5h0M1100.4 415.2h0M1100.7 417.2h0M1102.7 414h0M1102.8 417.6h0M1103.1 414.6h0M1103.5 418.8h0M1104.4 416.6h0M1104.7 415.9h0M1106.1 414.7h0M1108.3 397.3h0M1108.7 359.6h0M1108.9 331.1h0M1109.1 309.8h0M1110 137h0M1111.6 89.6h0M1111.9 98.2h0M1113 163.3h0M1114.4 387.1h0M1115 412.9h0M1115.6 417.8h0M1116.2 417.9h0M1116.7 416.1h0M1118.8 420.2h0M1119 421.6h0M1119.6 421.5h0M1120.2 421.1h0M1121.6 421.5h0M1121.8 421.8h0M1121.9 420.5h0M1122.6 417.5h0M1123.9 422.2h0M1125.7 420.4h0M1126.7 423.4h0M1127.6 420.6h0M1128.2 420.5h0M1129.2 421.3h0M1129.5 422.2h0M1129.5 417.3h0M1130.2 421h0M1132.2 418.9h0M1132.8 418.6h0M1133 422h0M1134.9 417.1h0M1135.3 419.6h0M1135.4 421h0M1137 417.5h0M1137.1 419.9h0M1138.1 419.1h0M1138.5 416.3h0M1139 418.9h0M1139.5 415.9h0M1139.9 416.8h0M1140 417.8h0M1140.2 418.8h0M1140.3 417.9h0M1141.1 419.8h0M1141.7 417.7h0M1143.6 416.2h0M1144.5 418h0M1145.7 419.1h0M1145.9 418.6h0M1146 417.2h0M1146.6 418.3h0M1146.9 416h0M1146.9 419.2h0M1147.5 420.1h0M1147.7 417.8h0M1148.6 415.4h0M1149.6 418h0M1150 420.1h0M1150.3 417.4h0M1152.3 408.4h0M1152.5 395.6h0M1152.9 390.7h0M1153.2 380.3h0M1153.3 373.9h0M1154 350.4h0M1154.7 350h0M1156.2 346.6h0M1156.6 350.3h0M1157.2 364h0M1157.3 365.2h0M1158.2 392.3h0M1159.6 416.3h0M1161 421.6h0M1161.3 416.3h0M1162.1 416.8h0M1162.8 418h0M1163.4 417h0M1165.9 417.9h0M1165.9 417.7h0M1166.1 416h0M1167.5 418.6h0M1168 419.3h0M1169.4 419.1h0M1170.1 417.4h0M1170.1 415.7h0M1170.6 419.6h0M1171.2 416.7h0M1173.5 416.1h0M1174.2 415.7h0M1175.2 417.6h0M1175.4 419.4h0M1175.7 417.1h0M1176.4 416.1h0M1176.7 418.2h0M1177.3 422.2h0M1177.6 419.5h0M1177.9 417.3h0M1178 417.9h0M1178.5 415.4h0M1179.1 420.2h0M1180.1 416.6h0M1180.4 416.7h0M1180.7 414.8h0M1181.7 419.2h0M1181.9 415.5h0M1182.5 416.7h0M1183 418.2h0M1183.5 421.4h0M1184.8 416.9h0M1185.2 418.1h0M1185.4 413.2h0M1185.5 417.6h0M1185.9 418.9h0M1186.6 418.3h0M1187.6 415.9h0M1188.3 417.1h0M1188.3 416.9h0M1192.5 419.2h0M1192.8 415.8h0M1193.7 414.7h0M1194 418.8h0M1194.2 415.9h0M1194.9 414.6h0M1197 293.4h0M1197.6 184.7h0M1198.1 118.4h0M1201.2 223h0M1201.7 303.8h0M1201.9 344.7h0M1202 351.1h0M1202.4 399.5h0M1203 417.1h0M1203.9 418.3h0M1204.9 417.1h0M1205.5 414h0M1206.7 417.3h0M1207 419.5h0M1207.6 417.8h0M1207.8 417.5h0M1207.9 418.8h0M1208.4 420h0M1208.8 417.2h0M1209.5 420.1h0M1211 422.5h0M1211 419.7h0M1211.2 417.5h0M1212.3 418h0M1213.8 422.4h0M1214.5 420.4h0M1215.4 419.8h0M1215.5 424.9h0M1215.9 422.3h0M1216.2 422.1h0M1216.5 423.3h0M1216.8 419.3h0M1217.4 421.5h0M1217.5 422.4h0M1217.9 417.6h0M1218.4 418.1h0M1218.5 420.5h0M1218.7 419.4h0M1218.9 418.9h0M1219.1 421.4h0M1219.5 417.7h0M1220.6 420.8h0M1220.8 420.1h0M1221.4 419.6h0M1221.5 418h0M1221.8 419.4h0M1222.1 420h0M1224.7 421.7h0M1227.1 419h0M1227.5 417.4h0M1228.4 417.3h0M1230 419.5h0M1230.3 417.9h0M1230.4 419.4h0M1230.6 420.2h0M1230.6 416.9h0M1231.1 419.8h0M1231.4 419.2h0M1232.4 420h0M1234 417.7h0M1234.2 418.8h0M1235.4 418.1h0M1236 417.3h0M1237.7 418h0M1238 419.5h0M1239.1 415.4h0M1239.2 418.9h0M1240 412.9h0M1240.1 413h0M1240.2 405.9h0M1240.6 390.7h0M1241.1 381.1h0M1241.6 357.3h0M1241.6 356.9h0M1242 353.3h0M1242.6 355.3h0M1244.1 352.2h0M1244.3 351h0M1244.5 350.7h0M1244.6 351.8h0M1245 361.7h0M1245.4 378.6h0M1247.3 418.3h0M1247.8 419h0M1247.9 418.7h0M1248 418.8h0M1248.5 418.3h0M1250 419.8h0M1250.3 419.2h0M1250.7 417.6h0M1250.9 417.5h0M1251.1 416.2h0M1251.2 415.4h0M1251.7 417.3h0M1251.8 417.1h0M1253.4 417.3h0M1253.8 417.6h0M1254.2 417.7h0M1254.4 417.1h0M1254.8 419.2h0M1255 417.6h0M1256 413.1h0M1256.8 418.1h0M1257 419.4h0M1258 416.9h0M1258.7 414.9h0M1259.1 416.1h0M1259.5 418.7h0M1260 414.2h0M1260.1 418h0M1260.2 413.2h0M1260.6 417.4h0M1260.8 416.5h0M1262.5 413.5h0M1262.7 419.1h0M1263.1 416.1h0M1263.6 416.8h0M1264.4 421.3h0M1264.6 415.9h0M1264.8 415.3h0M1265.1 419.6h0M1265.9 417.9h0M1267 416h0M1267.5 419.3h0M1267.6 417.5h0M1268 419.2h0M1268.6 417.2h0M1270.2 416.7h0M1272.2 415.8h0M1272.6 418.7h0M1274.8 418.6h0M1277.1 419.4h0M1277.8 418.1h0M1278 418.5h0M1278.5 415.4h0M1279.2 416.6h0M1279.6 417.9h0M1280.5 419.1h0M1281.3 416.7h0M1282.2 415.6h0M1282.5 417.4h0M1283.1 416.6h0M1285.5 181.7h0M1285.9 114h0M1286 112.4h0M1286.3 98.7h0M1286.9 89.4h0M1288 105.2h0M1288.1 100.6h0M1288.6 139.4h0M1288.9 194.5h0M1289.9 360.1h0M1290.3 403h0M1291.1 415.3h0M1293.3 417.5h0M1294 417.5h0M1296.6 415.3h0M1297.4 419.1h0M1297.9 416.5h0M1298.7 418.6h0M1301.1 421.3h0M1303 420.8h0M1303.6 420.1h0M1304.8 420.8h0M1312.1 417.5h0M1312.8 415.4h0M1313.3 420.3h0M1313.9 418.3h0M1314.1 416.9h0M1314.8 418.6h0M1315.5 418.1h0M1316.2 418.9h0M1317.2 417h0M1317.3 417.7h0M1317.5 418.9h0M1318.7 417.4h0M1318.8 415.2h0M1320.3 415.3h0M1320.7 416.2h0M1321.2 415.2h0M1321.5 417.6h0M1321.6 414.7h0M1323.2 417.1h0M1323.4 412.6h0M1323.6 416.2h0M1324 417.3h0M1324.1 416.2h0M1324.7 417.9h0M1325 417.1h0M1325.4 416.2h0M1325.9 414.3h0M1327 413.3h0M1328.9 376.9h0M1329 372.9h0M1329.3 362.5h0M1330.2 346.6h0M1330.4 352.7h0M1330.7 349.2h0M1331.3 347h0M1331.6 349h0M1331.9 353h0M1332 345.9h0M1332.6 347.1h0M1332.7 359.3h0M1333 365.9h0M1333.6 388h0M1333.8 388h0M1333.9 396.5h0M1334.7 416.5h0M1335.9 416h0M1336.7 413.2h0M1337 416.9h0M1338 413.8h0M1338.6 418.3h0M1339 417.5h0M1339.4 418.7h0M1339.4 416.6h0M1339.8 417.7h0M1340.2 419h0M1341.1 418.4h0M1341.2 420.3h0M1342.3 415.7h0M1342.5 417.8h0M1343 414.8h0M1344 416.6h0M1344.4 419.2h0M1344.5 420.6h0M1345.6 418.4h0M1345.8 419.4h0M1346.4 419.2h0M1347.1 419.8h0M1347.9 414.6h0M1348.1 416.5h0M1348.2 418.6h0M1348.3 417.5h0M1350.1 414.2h0M1350.9 420.7h0M1351.3 417.2h0M1352.2 415.9h0M1352.2 415.7h0M1355 413.2h0M1355.7 416.5h0M1356.1 419h0M1356.7 417.2h0M1358.2 417.6h0M1358.3 414.6h0M1358.9 418.6h0M1359.1 415.9h0M1360.3 418.4h0M1360.8 418.5h0M1362.2 416.6h0M1362.4 416.9h0M1362.5 417.2h0M1363.3 417h0M1363.4 416.1h0M1363.8 414.4h0M1364.8 413.7h0M1365.2 415.7h0M1365.9 413.5h0M1367.1 417.1h0M1367.5 416.1h0M1368.2 418.6h0M1369 419h0M1369.3 415.8h0M1371.6 413.6h0M1372.2 370.1h0M1372.4 345.4h0M1373.5 156.4h0M1376 102.3h0M1379.2 418.4h0M1379.3 416.6h0M1379.3 419.7h0M1380.9 418.2h0M1381 418.2h0M1381.7 417.5h0M1384.2 418.8h0M496.5 78.3h0"/>
<path d="M257.3 421.5h0M257.4 417.7h0M257.6 417.7h0M257.7 417.9h0M258.5 417.8h0M260.8 417.6h0M261.6 420.8h0M262.5 419.5h0M263 418.5h0M263.9 416.5h0M265.8 417h0M266.2 417.8h0M266.8 416h0M267.2 415.8h0M267.3 417.6h0M267.8 417.8h0M269.1 415.3h0M270.2 418.4h0M270.9 416.3h0M271.5 416.4h0M272.2 418.8h0M272.7 417.9h0M273.6 413.7h0M275.2 357.8h0M275.9 351.5h0M276.3 351.5h0M276.4 349.4h0M277.6 353.1h0M277.7 349.3h0M278 351.9h0M278.4 352.9h0M278.4 350.5h0M280.2 415h0M280.6 416.4h0M281.3 414.3h0M282.4 416.2h0M282.5 417.5h0M282.9 419.2h0M284.2 413.6h0M284.2 417.9h0M285.6 415.7h0M285.9 412.2h0M287 418h0M287.6 415.7h0M288.3 418.1h0M288.6 419h0M288.8 414.5h0M289 414.6h0M289.3 414h0M289.4 416.5h0M292.1 415.8h0M292.5 419.9h0M293 417.6h0M294 413.6h0M294.4 420.6h0M294.9 416.2h0M296.2 414.6h0M297.1 417.6h0M298.7 413.5h0M299.1 418.5h0M299.6 414.3h0M302.4 415.9h0M302.8 416.1h0M303.9 414.4h0M304.1 415.4h0M304.5 413.8h0M304.6 412.8h0M305.5 412.2h0M305.6 415.8h0M305.7 415.6h0M305.9 416.8h0M306.6 413.8h0M307.9 417.2h0M308.6 413.3h0M310.8 414.6h0M311.3 413.2h0M311.5 416.9h0M311.6 414.8h0M311.9 414.5h0M313 413.9h0M314 412.1h0M315.3 418.7h0M315.5 412h0M318.2 349.8h0M318.5 289.6h0M319.9 103h0M320.5 95.6h0M320.8 93.1h0M320.8 92.9h0M321 96.8h0M321.3 91.4h0M321.6 104h0M324.1 405.4h0M324.2 409.5h0M324.5 414.8h0M324.5 416.9h0M325.2 416.2h0M325.2 414.6h0M325.5 414.2h0M326.4 418.1h0M326.7 416.8h0M327.2 417.1h0M328 415.8h0M328.4 416.8h0M329.1 420.8h0M329.8 417.6h0M331.4 420.5h0M331.5 417.7h0M333.3 419.7h0M333.3 420h0M334.8 418.4h0M335 420.7h0M335.1 420.2h0M335.2 419.1h0M335.8 418h0M336.6 421h0M338.3 420.7h0M338.6 419.1h0M339.1 420.3h0M339.6 419.9h0M340.1 417.8h0M340.1 421.6h0M341.3 421h0M341.4 416.9h0M341.8 418.3h0M341.9 420.4h0M342.9 420.3h0M343.5 417.8h0M343.7 419.1h0M343.8 420.9h0M345 415.5h0M346.2 423h0M348.5 420.9h0M348.7 415.5h0M349 417h0M349.4 419.6h0M349.7 421.4h0M350.8 419.8h0M352.2 418.3h0M353.4 417.1h0M354 418.4h0M354.2 417.4h0M354.5 417.3h0M355.7 415.7h0M356.5 417.7h0M358.1 418.4h0M358.4 418.5h0M358.8 415.2h0M359.6 416.5h0M360.4 414.7h0M362.3 388.3h0M365.2 351.2h0M366.2 353.3h0M366.9 378.3h0M367.7 402.4h0M367.8 402.6h0M368.2 421h0M368.5 417.2h0M370.9 418.6h0M371.1 419.2h0M372.4 416.6h0M372.9 417.7h0M373.2 416.9h0M373.4 420.3h0M373.9 416.5h0M374.7 416.1h0M374.9 414.1h0M375 415.6h0M375.2 416.2h0M375.8 420.5h0M376.3 418.6h0M376.7 416h0M377.2 418.7h0M377.6 417.1h0M377.7 417.4h0M379.4 418.4h0M380 417.5h0M381.8 416.4h0M382.4 416.1h0M382.6 416.2h0M382.7 415.9h0M383 415h0M383.3 415h0M384 415.4h0M384.8 415.6h0M386.6 417.6h0M386.8 415.1h0M387.9 410.9h0M388 411.1h0M388.9 415.9h0M390.5 411.7h0M391.2 414.2h0M391.7 414.1h0M392.9 412.5h0M393.3 413.8h0M393.4 413h0M394 413.2h0M394.3 415h0M395.3 415.6h0M395.8 413.8h0M396.1 415.5h0M396.7 413.7h0M396.9 414.5h0M397.9 414h0M398.1 416.2h0M398.1 416.6h0M399.1 414.9h0M399.5 411.3h0M400.2 411h0M400.7 417.2h0M400.8 415.3h0M401.9 412.6h0M402.1 414.3h0M402.8 415.6h0M404.1 410.3h0M404.2 413.2h0M406.3 306.2h0M406.8 216.5h0M406.9 202.4h0M407.2 150.5h0M408.3 98.9h0M409.1 100.5h0M411.2 333.7h0M411.6 380.3h0M411.7 388.3h0M411.8 397.9h0M412 406.6h0M412.6 414.3h0M417.5 424.2h0M418 422.1h0M419 419.8h0M420.3 421h0M420.6 423.9h0M421 419.2h0M421.4 420.2h0M423.9 419.8h0M424.8 421.3h0M425.7 423.3h0M425.8 422.9h0M426.9 420.1h0M429.1 422.8h0M429.5 420h0M429.9 418.6h0M430.1 421.2h0M430.5 421.2h0M431.2 419.6h0M433.1 417.6h0M433.3 419h0M433.4 418.5h0M433.6 420.8h0M435.8 419.6h0M436.2 423.6h0M436.7 423.6h0M437 420.8h0M438.2 419.6h0M438.7 420.6h0M439.5 426.3h0M440.7 420.3h0M442.6 417.5h0M442.9 417.5h0M443 420.6h0M444.1 417.6h0M444.5 420.1h0M444.5 416.6h0M445.3 418.5h0M445.6 415.4h0M447.3 421.1h0M447.4 418.3h0M447.5 417.2h0M449.3 411.4h0M449.6 401.1h0M451.1 354h0M453 350.2h0M453 353.7h0M453.3 352.5h0M454.8 388.5h0M456.5 420.4h0M457.6 423.9h0M457.8 418.9h0M458.1 419h0M459 420.7h0M459.3 418.5h0M459.7 421.5h0M460 420.3h0M464.3 421.8h0M465.4 417.7h0M466 419.1h0M466.5 418.7h0M467.1 416.1h0M467.4 417.9h0M467.6 419.9h0M468.8 417.4h0M469.3 417.6h0M469.5 417.2h0M470.9 418.3h0M472.2 417.3h0M473.7 418.5h0M474.8 412.6h0M475 417.3h0M475.1 415.2h0M475.2 417.9h0M476.9 415.9h0M477.8 416.7h0M478.8 415.4h0M479.5 417.3h0M481.1 412.8h0M481.6 416.1h0M481.9 414.4h0M482.8 412.7h0M483.4 414.9h0M483.6 415.6h0M483.8 413.5h0M484.8 416h0M485.1 414h0M485.4 415.5h0M485.5 413.2h0M488.8 413h0M488.9 412.1h0M489 412.4h0M489.5 416h0M491.5 410.9h0M491.8 413.8h0M492.8 412.5h0M493.3 399.9h0M493.8 361h0M494.3 270h0M494.5 237.6h0M494.6 213.6h0M495.3 118.4h0M497.3 98.5h0M498 152.3h0M498.1 163.5h0M498.4 215.4h0M499 327.8h0M499.4 378.1h0M499.5 392.5h0M499.6 394.5h0M499.8 410h0M500.1 415.1h0M500.2 414.9h0M501.2 418.6h0M501.3 418.3h0M502.2 413h0M502.4 416.8h0M503 417.3h0M503.1 416.1h0M503.3 417h0M503.7 417.5h0M503.8 418.1h0M505.1 417.1h0M505.4 417.7h0M505.5 420h0M505.6 419.2h0M506.1 418.7h0M506.2 416.8h0M506.5 414.7h0M507 418.9h0M507.5 417.9h0M507.9 414.6h0M508.8 418.9h0M509.5 419.6h0M509.8 419.8h0M510.7 419.2h0M510.7 420.4h0M511.4 417.5h0M511.8 419.8h0M512.2 421.7h0M512.6 419.3h0M513.3 420.7h0M514.3 417.4h0M515 419.4h0M515.3 420.6h0M515.5 419.2h0M516.4 419.4h0M517.1 420.5h0M517.8 422.9h0M517.9 419.3h0M518 418.3h0M518.1 418.9h0M518.2 415.9h0M518.3 417.5h0M518.6 419.9h0M519.9 419h0M520.6 422.8h0M521.8 421h0M522.2 417h0M523.4 419.6h0M524.5 416.6h0M524.6 418.5h0M524.8 415.7h0M525.3 419.4h0M525.8 413.8h0M527 419.2h0M527.2 416.7h0M528 415h0M529.5 417.1h0M529.7 417.9h0M530.1 414.7h0M530.2 417.5h0M530.5 416.5h0M531.4 415.4h0M531.6 418.3h0M531.8 417.6h0M531.9 414.7h0M532.2 419.5h0M532.5 419.7h0M533.7 414.9h0M533.9 415.7h0M534.1 412.9h0M536.1 414.6h0M536.3 411.7h0M536.7 416.9h0M536.8 412.6h0M538 388.6h0M538 380.7h0M538.9 350h0M540.8 348.4h0M541.3 347.6h0M541.3 349.8h0M541.4 352.4h0M541.5 349.5h0M542.7 381.5h0M542.9 388.7h0M544.6 419.5h0M545.4 420.3h0M545.9 415.7h0M546.2 416.4h0M546.7 416.9h0M546.8 418.6h0M547.2 419.8h0M550.1 418.9h0M550.5 413.9h0M550.7 417.3h0M551.7 418h0M552.3 419.5h0M552.7 419.7h0M553.5 418.2h0M553.8 413.7h0M554.4 419.9h0M554.6 416.9h0M554.9 416.5h0M556 414.5h0M556.4 415.4h0M556.6 415.9h0M556.9 415.7h0M557.4 419.3h0M558.6 416.6h0M559.6 416.3h0M560.2 420.4h0M560.4 415.2h0M560.7 419h0M561 418.6h0M561.5 418.4h0M561.5 416.9h0M562.2 415.5h0M563.9 415.4h0M566 417.4h0M566.8 419.8h0M568.9 412.8h0M569.3 416.2h0M569.8 412.2h0M570.3 413.6h0M570.5 414.4h0M570.8 417.4h0M571.2 413.7h0M571.2 415.1h0M571.3 415.7h0M571.5 415h0M574.4 414.5h0M574.4 415h0M574.5 413.5h0M574.8 414.5h0M576.6 414.6h0M576.9 411.4h0M578.3 415.2h0M578.4 414.7h0M579.1 415.5h0M580.4 415.1h0M580.6 414.5h0M582.6 205.9h0M582.6 189.7h0M583.6 96.1h0M583.7 95.9h0M585.4 111.1h0M586.2 216.8h0M587.2 377.6h0M587.5 402.8h0M587.6 405.2h0M587.6 409.8h0M589.7 417.3h0M592 422.2h0M592.2 417.9h0M592.7 417.3h0M592.9 417.8h0M593.4 419h0M593.4 418h0M595.1 418.5h0M595.8 421.7h0M596.3 418.9h0M596.8 420.9h0M597 421.8h0M597.8 419.3h0M598.1 420.7h0M598.4 420.9h0M598.9 420.8h0M599.4 423.7h0M599.5 419.9h0M599.6 418.6h0M600.2 419.4h0M600.3 421.6h0M601 418.8h0M601.9 420.6h0M602.2 419.5h0M603 417.9h0M603.5 419.4h0M604.3 418h0M604.8 420.6h0M605.8 419.4h0M606.5 416.8h0M607.1 414.1h0M607.2 416.6h0M608.9 417.6h0M609.3 418.6h0M609.3 416.1h0M609.5 415.9h0M609.7 417h0M610.4 417.6h0M610.9 416.6h0M611.9 415.8h0M613.1 414.1h0M613.2 418.6h0M614.1 419.4h0M614.6 417.3h0M615.2 412.8h0M615.6 416.5h0M616.5 417.9h0M616.7 415.5h0M617.3 416.5h0M618 412.6h0M619.6 417.6h0M620.2 415.1h0M620.4 414.5h0M620.7 415.1h0M621 415.8h0M621.2 413.1h0M621.4 412.4h0M621.7 412.8h0M623.4 414h0M624.2 415.8h0M624.5 413.1h0M624.9 413.3h0M626.9 351.9h0M627 347h0M627.5 348.4h0M627.7 347.8h0M628.5 349.8h0M628.6 348.4h0M628.8 351h0M629.4 348.3h0M629.9 351h0M630.1 362.3h0M630.2 364.6h0M630.4 374.7h0M630.5 379.7h0M630.8 387.9h0M630.8 386.8h0M630.9 393.2h0M631.5 409.7h0M632.2 415.7h0M632.2 414.6h0M633 417.5h0M633.1 417.3h0M633.4 417.1h0M633.9 413.3h0M635.5 417.6h0M635.7 416.4h0M637.5 417.7h0M639.2 417.2h0M639.6 417.9h0M640 419.5h0M640.3 418.7h0M640.8 417h0M641.8 415.7h0M643.6 417.8h0M644 417.4h0M644.3 415.6h0M644.9 422h0M645 417h0M645.5 415.7h0M647.8 419.2h0M648.2 419h0M649.5 418h0M650.8 420.3h0M652.4 416.7h0M653.3 416.3h0M653.7 417h0M653.8 418.9h0M655.1 415.1h0M655.4 414.8h0M655.4 417.5h0M657 415.1h0M659.4 413.7h0M660.9 413.2h0M661.2 410.5h0M661.7 415h0M661.9 416.3h0M662.9 413.3h0M663 414h0M663.9 414.4h0M665.7 413.8h0M666.4 414.5h0M666.9 413.6h0M668.2 413.5h0M669.9 299.8h0M672.8 103.5h0M673.1 109.5h0M673.1 108.5h0M673.4 117.1h0M673.4 124.8h0M674.1 221.3h0M674.5 301.1h0M675.1 372.6h0M675.2 385.1h0M676.5 415.1h0M677.1 415.7h0M677.3 416.9h0M677.4 416.4h0M678.1 419.7h0M678.8 417.7h0M679.8 419.7h0M681.2 417.6h0M681.4 419.7h0M681.4 416.8h0M681.5 417.8h0M681.8 418.4h0M684.4 416.5h0M684.6 421.5h0M684.7 420.3h0M685.5 415.4h0M685.8 419.2h0M686.1 418.7h0M688.1 417h0M690.4 417.2h0M691.4 417.3h0M692.8 416.4h0M693.4 416.8h0M694.2 415.6h0M694.5 415.8h0M695.1 418.8h0M695.6 416.9h0M697.3 416h0M697.4 417.5h0M697.4 416.8h0M697.5 416.7h0M697.7 418.4h0M699 415.8h0M700.6 415.6h0M702.8 417.4h0M705.3 419.8h0M705.4 418.4h0M705.8 416.1h0M706.4 416.6h0M708.2 416.2h0M713.3 395.7h0M713.9 382.1h0M717.5 351.3h0M717.7 353.9h0M718.4 378.9h0M719 399h0M719.2 404.1h0M721.2 417.8h0M721.4 412.9h0M721.5 418.3h0M723 416h0M723.1 418.7h0M723.4 415.8h0M724 416.2h0M724.2 416.8h0M724.7 418.3h0M724.8 417.3h0M724.8 416.6h0M725 418.6h0M725.2 416.9h0M725.5 412.7h0M726.9 417.9h0M727 417.1h0M727.1 422.3h0M727.3 417.8h0M727.5 418.4h0M727.6 414.4h0M727.9 419.9h0M727.9 416.1h0M729.5 419.4h0M730.9 417.9h0M731.2 419.3h0M733.7 419h0M734.2 417.7h0M735.3 413.8h0M735.3 417h0M735.6 414.1h0M736 417.8h0M736.3 415.3h0M736.9 416.9h0M739.1 417.6h0M739.3 418h0M740.2 414.9h0M740.3 414.2h0M740.9 415.6h0M741 421.1h0M742.4 415.8h0M742.4 417.4h0M743 414.4h0M743.1 414.3h0M743.1 413.1h0M744.1 413.8h0M744.9 413.7h0M745.9 417.2h0M746.4 412.3h0M747 416h0M748.4 416.5h0M748.5 412.4h0M749.1 419h0M750.9 417.6h0M751.4 417.2h0M752.2 415.3h0M752.3 415.6h0M752.7 415.3h0M754.7 414.9h0M755.1 416h0M755.9 414.1h0M756.1 417h0M756.8 408.4h0M756.8 406h0M759 109.8h0M759.4 97.5h0M760.1 97h0M760.2 96.9h0M761.1 115.8h0M762.5 328.6h0M762.9 380.1h0M763.2 405.2h0M764.2 422h0M764.7 420.9h0M765.1 420.7h0M765.4 422.1h0M765.6 419.5h0M765.9 419.7h0M766.3 423.7h0M766.7 419.5h0M766.7 420.2h0M767.7 421.6h0M769.1 419.3h0M769.2 421.8h0M769.4 418.6h0M769.6 418.9h0M769.8 419.4h0M769.9 422.4h0M770.1 422.1h0M770.5 420.3h0M770.8 423.4h0M772 419.7h0M772.7 419.9h0M773.2 419.9h0M773.8 419.3h0M774.4 415.6h0M775 415.4h0M775.1 416.9h0M775.3 416.9h0M775.5 419.6h0M778 416.8h0M778.1 417.8h0M778.9 417.9h0M779.4 419.7h0M780 415.9h0M780.5 417.1h0M780.6 418.8h0M780.9 418.2h0M781.2 420.5h0M781.8 419.9h0M782.7 419.1h0M782.8 418.1h0M783 418.4h0M783.2 419.4h0M783.3 417.3h0M784 418h0M786.1 418.5h0M786.7 417.5h0M786.9 419.7h0M787.8 418.5h0M788.5 418.4h0M788.6 416.1h0M789 416.2h0M789.8 420.4h0M789.9 416h0M790 417.6h0M790.4 416.3h0M790.8 417.6h0M790.9 416.1h0M792 418h0M792.2 415.1h0M792.8 417.2h0M793.2 412.8h0M793.3 415.3h0M793.7 418.8h0M795 416h0M795.1 417.4h0M797.1 416.1h0M797.9 412.9h0M799.1 412.7h0M800.1 417.6h0M801.5 388.2h0M802.9 351.7h0M803.5 352.2h0M844.4 418.5h0M844.8 399.6h0M845 380.5h0M845.3 346.3h0M846 219.7h0M846.2 195.9h0M846.7 119.8h0M848.6 94.4h0M848.6 100.3h0M849.1 118h0M849.4 149.1h0M849.7 211.4h0M850 261.8h0M852.1 416.7h0M852.4 420.4h0M852.6 419.1h0M853.2 418.5h0M853.7 417.7h0M854.2 420.8h0M854.6 417.8h0M857.1 418.8h0M858.3 417.7h0M858.5 422.3h0M858.7 418.8h0M858.8 420.1h0M858.9 420.5h0M859.4 418.8h0M859.5 422.1h0M860.6 420h0M860.6 419.7h0M861.8 418.7h0M862.2 419.3h0M863.6 419.2h0M865.2 418.1h0M865.6 418.6h0M865.7 420.3h0M866.2 419.6h0M866.5 419.9h0M867.1 417.4h0M867.4 417.2h0M869.2 420.7h0M871.5 417.9h0M871.7 417h0M872 416.7h0M872.2 416.5h0M874.3 416.9h0M874.5 418h0M875 415.2h0M876.1 417.9h0M876.9 416.4h0M878.7 417.7h0M880 415.8h0M880.5 415h0M880.8 416.4h0M881.4 417h0M881.6 415.1h0M883 417h0M883.8 416.3h0M884.6 418h0M884.9 416.6h0M885.5 413.9h0M885.8 414.9h0M886.3 414.7h0M886.6 415.3h0M886.7 414.1h0M886.8 418.1h0M887.6 416.3h0M887.8 415.1h0M888.2 417h0M889 396.8h0M892.3 353.2h0M893.6 364h0M894.2 385.8h0M894.7 400.2h0M895.4 414.1h0M895.5 417.6h0M896.1 415.2h0M897.2 418.6h0M897.4 419.2h0M897.6 417.1h0M898 415.2h0M898.8 417.3h0M899 416.9h0M899.1 415.1h0M899.3 420.8h0M899.3 416.6h0M899.5 419h0M900.3 419.3h0M900.8 419.1h0M903 419.2h0M904 416h0M905.5 422.8h0M906.1 421.1h0M907 416.9h0M907.2 418h0M908.5 416.7h0M909.7 414.8h0M913 415.2h0M913.1 416h0M913.2 411.9h0M913.2 415.8h0M913.9 414.3h0M915.6 416.4h0M916.1 412.2h0M916.3 417.1h0M916.3 418.9h0M916.4 415h0M916.5 416.6h0M919.9 412.8h0M920.8 414.2h0M921.9 416.4h0M922.6 414.2h0M923.3 412.8h0M923.9 412.2h0M925 417.3h0M925.9 413.5h0M926.4 418.3h0M926.5 415.5h0M927.9 413.8h0M928 413.6h0M928.3 416.5h0M928.5 414.3h0M928.9 413.3h0M931.4 413.2h0M933.2 341.5h0M933.6 265.5h0M934.3 142.6h0M934.9 104.7h0M935.3 95.5h0M936 102.1h0M936.3 97.2h0M936.4 102.7h0M936.8 108.4h0M938.4 343.6h0M938.4 349.9h0M939 405h0M940.1 416.4h0M940.1 418h0M940.5 417h0M941.3 417.2h0M942.2 419.3h0M946.4 417.8h0M946.8 420.2h0M950.4 420.4h0M955.9 419.2h0M957.2 420.8h0M959.1 418.6h0M960.2 415.4h0M960.9 415.5h0M961.2 414.4h0M962.3 417.6h0M962.5 416.3h0M963.4 414.7h0M963.7 414.2h0M964.1 413.7h0M966.1 413.9h0M967 411.6h0M967.9 414.5h0M968.1 413.4h0M968.2 415.6h0M968.7 414.1h0M969.1 413.5h0M969.9 414.3h0M972.2 413.9h0M973.4 410.6h0M974.1 412.4h0M974.2 411.2h0M976.1 415.3h0M978 357.3h0M978.3 348h0M979 347.5h0M979.5 347.5h0M980 348.2h0M980.4 351.1h0M980.9 349.8h0M981.1 352h0M981.9 377h0M982 381h0M982.6 396.4h0M982.8 405.3h0M983.1 416h0M983.4 420.1h0M983.5 415.9h0M986 418.6h0M986.3 419.2h0M987.6 417.3h0M990.1 417.3h0M990.3 414.7h0M990.9 420.2h0M991 420.5h0M991.3 421.2h0M993.3 419.6h0M993.4 417.7h0M993.9 418.3h0M994.4 418.8h0M995.2 417.7h0M995.3 420.9h0M996.8 417.4h0M998.3 419.1h0M999.4 415.9h0M999.7 420.3h0M1000.1 418.3h0M1001 415.4h0M1001.1 418h0M1003.6 419.8h0M1005.4 417.8h0M1005.7 417.3h0M1007.4 417.2h0M1007.5 415.3h0M1008.8 416.2h0M1009.5 411.5h0M1009.7 414.7h0M1010.2 414.6h0M1010.4 415.3h0M1010.5 413.2h0M1011 415.7h0M1011.3 416.4h0M1011.8 413.9h0M1012.5 415.7h0M1012.7 416.2h0M1013.6 415.1h0M1013.9 414.6h0M1014.9 415.3h0M1015.5 411.3h0M1016.2 415.1h0M1016.5 414.1h0M1017.4 416.5h0M1018.1 413.5h0M1018.7 414.2h0M1018.8 415.2h0M1018.9 415.4h0M1019.9 416.5h0M1021.8 212h0M1022.5 113h0M1022.8 98.8h0M1023.6 92.5h0M1025.4 202.4h0M1025.8 284h0M1027.7 417.4h0M1029.2 421.6h0M1030.8 418.1h0M1031.8 416.9h0M1032.1 421.2h0M1032.7 423h0M1034.6 418.8h0M1035.7 420.5h0M1036 421.7h0M1037.7 421.1h0M1038.9 425h0M1039.2 420.7h0M1039.4 417.9h0M1039.8 420.5h0M1040.8 423.5h0M1041.1 418.1h0M1041.2 419.9h0M1041.8 419.3h0M1042.2 416.2h0M1042.7 419h0M1043.1 423.6h0M1048 419.5h0M1048.1 416.8h0M1048.9 417.8h0M1049.3 415.7h0M1049.7 417.7h0M1050 416.8h0M1050.9 416.4h0M1051.4 412.5h0M1051.5 418.7h0M1052.1 414.9h0M1052.2 416.9h0M1052.3 412.1h0M1052.9 415.1h0M1053.6 415.3h0M1057.2 410.8h0M1057.8 414.5h0M1057.9 413.9h0M1058.6 414h0M1058.8 414.2h0M1061.3 411.7h0M1061.6 413.8h0M1061.7 415h0M1062.1 413h0M1062.2 414.2h0M1065.4 376.9h0M1066.3 348.4h0M1068.4 347.4h0M1069.3 357.3h0M1069.7 373.3h0M1069.9 379.7h0M1071.2 410.5h0M1071.7 413.9h0M1072.3 413.2h0M1073.3 415.2h0M1074.9 415h0M1075 412.4h0M1076.3 413.7h0M1078.2 415.6h0M1078.3 413.1h0M1078.6 414.4h0M1078.9 417.3h0M1078.9 415.6h0M1079 417.1h0M1079.3 417.2h0M1080.2 412.3h0M1080.4 413.5h0M1080.7 414.2h0M1080.8 414.9h0M1081.4 414.7h0M1081.8 417.5h0M1082.2 415.7h0M1082.4 416.1h0M1082.5 416.3h0M1083.3 416.1h0M1083.5 420.8h0M1084.3 417.9h0M1084.9 417.6h0M1085.3 416.2h0M1085.6 415h0M1086.2 416h0M1086.9 417.8h0M1086.9 417.5h0M1087 415.7h0M1088.3 415.6h0M1090.2 414.7h0M1091.4 417.9h0M1091.5 415.8h0M1091.7 413.8h0M1092.7 417.7h0M1093.5 418.8h0M1093.9 416.5h0M1094 418.4h0M1094.3 417.9h0M1094.5 418h0M1094.7 417.5h0M1095.1 418.2h0M1095.2 413.5h0M1095.4 415.8h0M1095.5 412.9h0M1098.8 417.3h0M1098.9 416.3h0M1099 415.8h0M1099.5 417.3h0M1101.7 415.5h0M1102.2 416h0M1102.2 414.7h0M1102.4 416.4h0M1105.3 414.7h0M1105.3 414h0M1105.4 416.4h0M1106 417.4h0M1108.4 396.9h0M1109.1 302.9h0M1109.3 267.4h0M1109.5 224.8h0M1110.6 92.5h0M1110.9 96.3h0M1112.9 147.2h0M1114 326.9h0M1114.7 402h0M1115.1 412.8h0M1115.8 414.9h0M1116.4 416.8h0M1117.9 420.1h0M1119.1 417.3h0M1119.5 419.1h0M1119.8 420.3h0M1120.6 420.6h0M1120.8 420.9h0M1121 417.3h0M1121.4 418.5h0M1122.6 419.6h0M1123 420.6h0M1123.1 422.1h0M1124.4 418.2h0M1125.6 420.2h0M1126 419.1h0M1126.2 418.1h0M1126.4 422.5h0M1126.6 419.1h0M1128.6 416.9h0M1129.2 421.7h0M1129.6 421.7h0M1129.8 424.2h0M1131.3 419.1h0M1132 417.5h0M1132.9 422.1h0M1134.5 417.3h0M1134.5 417.8h0M1134.6 420.9h0M1135.5 418.7h0M1135.6 418.1h0M1136.7 417.5h0M1137.1 418.2h0M1137.4 418.8h0M1137.9 416.8h0M1139.1 416.4h0M1140.9 418.1h0M1141.2 417.1h0M1141.3 420.7h0M1141.6 416.7h0M1142.9 415.6h0M1143 421.2h0M1143.7 416.1h0M1144.1 419.9h0M1144.2 417.6h0M1144.9 415.3h0M1145.4 416.6h0M1146.1 418.7h0M1147.3 421h0M1147.3 419.1h0M1148.8 421.4h0M1149.7 416.3h0M1150.2 418.9h0M1150.7 417h0M1150.8 419.1h0M1151.4 420.2h0M1152.4 400.5h0M1152.5 395.3h0M1154.5 345.4h0M1154.7 347.3h0M1156.1 350h0M1156.7 350.8h0M1156.7 346.7h0M1156.8 353.9h0M1158.1 396h0M1158.5 405.1h0M1158.9 418.4h0M1158.9 416.4h0M1159.1 418.2h0M1159.5 418.9h0M1159.9 417h0M1160.2 419.4h0M1160.5 418.2h0M1160.7 419.2h0M1161.4 418h0M1163.1 421.6h0M1163.8 418.4h0M1164.6 414.3h0M1165.1 416.5h0M1165.3 415.4h0M1166.3 419.9h0M1167.2 418.9h0M1167.3 417.4h0M1167.9 420.6h0M1168.1 416.7h0M1169.1 419.5h0M1170.2 416.9h0M1171 415.4h0M1172.3 416.1h0M1172.8 415h0M1174 420.6h0M1176.8 419.9h0M1176.9 417h0M1179.9 418h0M1180.6 422.3h0M1181.6 418.7h0M1181.7 415.1h0M1182.7 419.1h0M1183.9 418h0M1184.1 416h0M1184.1 417.7h0M1185.1 417.4h0M1185.8 418.6h0M1185.9 418.9h0M1186.2 417.3h0M1186.4 415.4h0M1187.3 416.2h0M1188 418.1h0M1188 417.6h0M1189.7 416.9h0M1190 418.5h0M1191.2 419.6h0M1191.8 417.9h0M1192.1 414.6h0M1192.7 416.3h0M1193.3 419h0M1193.6 418.7h0M1193.8 417.9h0M1195.4 416.7h0M1195.4 417.7h0M1197.5 197.7h0M1198.8 95.4h0M1198.9 94.7h0M1199.4 94.6h0M1200.8 152.1h0M1201.5 279h0M1202.6 410.5h0M1203.2 419.2h0M1203.3 419.9h0M1204 417.8h0M1205.4 417.7h0M1206 419.4h0M1206 423.1h0M1206.1 417.7h0M1206.4 416h0M1207.7 417.8h0M1208.9 416.7h0M1209.2 418h0M1211.1 420.1h0M1211.2 417.4h0M1211.6 419.6h0M1213 420.4h0M1213.8 421.5h0M1214 418.5h0M1214.1 420h0M1214.6 419.6h0M1215.5 421.2h0M1216.4 420.9h0M1216.7 422.4h0M1217 420.3h0M1221.6 418.5h0M1221.9 415.9h0M1222.5 421.1h0M1222.8 417.6h0M1223.5 415.7h0M1224 418.6h0M1225.8 420.5h0M1227.2 416.7h0M1228.5 419.1h0M1229.2 418.3h0M1230 419.6h0M1230.2 420.6h0M1231.5 416.1h0M1232.5 417.2h0M1233.3 417.3h0M1234.4 417.5h0M1234.7 421h0M1235.2 422.2h0M1235.8 418.6h0M1236.2 417.9h0M1236.6 417.3h0M1237.4 420h0M1237.9 419.7h0M1238.4 418.5h0M1238.5 420.2h0M1239.1 415.7h0M1239.9 414.2h0M1240.4 398.5h0M1244.7 359.7h0M1244.7 352.8h0M1245.5 380.3h0M1246.1 396.3h0M1247.1 419.7h0M1247.2 417.9h0M1248.1 414.8h0M1248.9 418.1h0M1249.2 415.2h0M1249.9 414.2h0M1250 415.7h0M1251.3 416.7h0M1252.5 418.1h0M1253.1 418.5h0M1253.2 417.5h0M1253.9 416h0M1254.1 413.5h0M1254.2 417.2h0M1255.4 414.2h0M1257.2 418.7h0M1257.3 416.1h0M1257.8 419.7h0M1259.3 415.8h0M1260.5 416.9h0M1261.9 418.2h0M1261.9 412.8h0M1263.5 417.5h0M1264.1 417.5h0M1265.7 418.9h0M1265.8 416.7h0M1266.5 418.6h0M1267 415.3h0M1267.5 414h0M1268.3 415.7h0M1268.9 415.6h0M1269.1 416.6h0M1270.5 418.4h0M1271.1 418.1h0M1274.7 416.8h0M1275.7 416.5h0M1276.7 416.7h0M1276.9 420.8h0M1279.3 417.8h0M1279.5 415h0M1279.5 417.8h0M1282.1 416.5h0M1283.8 409.3h0M1284.2 387.5h0M1285.3 204.5h0M1285.6 156.1h0M1286.5 98.4h0M1290.9 416.1h0M1291.2 415.3h0M1291.4 415.3h0M1291.6 419.4h0M1291.7 419.4h0M1292.2 416h0M1292.2 417.4h0M1292.4 418h0M1292.7 419.4h0M1292.9 416.8h0M1293 416.8h0M1293.2 418.5h0M1293.3 419h0M1294.1 413.8h0M1294.1 416.5h0M1295.1 415.9h0M1295.4 415.7h0M1296.4 416.4h0M1296.8 418.5h0M1297.2 418.1h0M1298.2 420.2h0M1298.3 416h0M1298.3 418.3h0M1298.6 418.7h0M1299.5 421.3h0M1299.7 417.6h0M1299.9 419.2h0M1301 420h0M1301.1 416.8h0M1301.4 418.1h0M1301.5 420h0M1303.6 419h0M1303.8 417.8h0M1304.8 420.4h0M1305.5 419.3h0M1305.6 425.4h0M1305.7 420.2h0M1307 418.2h0M1307.1 422.7h0M1307.2 419.3h0M1308 418.6h0M1308.2 417.5h0M1308.9 416.5h0M1309.5 418.4h0M1310 419.2h0M1310.8 418h0M1310.9 419.6h0M1311 422.8h0M1311.2 418.4h0M1311.3 417.8h0M1312.4 420.3h0M1313 418.3h0M1313.6 418.7h0M1314.2 420.9h0M1314.7 416.7h0M1314.7 417.6h0M1315 419.6h0M1315.5 417.7h0M1315.8 415.6h0M1316.3 416.4h0M1317.3 417.1h0M1318 417.5h0M1318.1 415.3h0M1318.2 415.9h0M1318.6 418.7h0M1320.8 417.6h0M1321.4 415.5h0M1321.8 417.6h0M1322 414.1h0M1322.3 416.7h0M1322.5 416.2h0M1322.8 416h0M1323.3 416.8h0M1323.6 415.6h0M1326.1 415.8h0M1326.6 416.4h0M1327 415.9h0M1327.1 415.3h0M1327.7 411h0M1328.4 391.3h0M1329.5 356h0M1330.6 348.6h0M1330.6 349.7h0M1331 351.1h0M1331.4 347.7h0M1333.1 371.3h0M1333.8 393.5h0M1334.1 400h0M1334.3 409.6h0M1335 416.9h0M1337 417h0M1338 415.1h0M1339.2 414.4h0M1339.3 417.3h0M1340.4 417.2h0M1340.5 416.3h0M1341.4 418.2h0M1341.6 418.4h0M1342.6 419.4h0M1343.3 417.8h0M1344 419h0M1344.2 418.7h0M1346.9 420.1h0M1347.8 419.1h0M1350.7 417.9h0M1351.1 418.4h0M1352.7 419.5h0M1353.4 416.9h0M1353.6 415.2h0M1353.8 419.9h0M1354.3 415.2h0M1356.2 419.9h0M1356.3 418.4h0M1357.9 415.1h0M1358.1 416.3h0M1359.1 414.4h0M1359.7 416.1h0M1360.1 417.5h0M1361.3 416.2h0M1362 419h0M1363.2 417h0M1363.7 415.6h0M1364.1 413.9h0M1365.4 416h0M1365.7 414.5h0M1366.2 415.9h0M1369.6 413.8h0M1370 416.9h0M1370.2 419.5h0M1371.2 418.5h0M1371.7 412.4h0M1372.1 374.3h0M1373.6 129.2h0M1373.7 124h0M1374 98h0M1375.5 93.4h0M1375.8 95.1h0M1376.3 130.5h0M1376.8 212.3h0M1377.3 289.9h0M1377.3 293.7h0M1377.6 341.8h0M1379 417.3h0M1379.4 420.2h0M1379.8 420.7h0M1380.3 419.3h0M1380.5 416.4h0M1381.3 416.7h0M1382 420.3h0M1382.7 420.2h0M1382.8 417.7h0M1382.8 418.9h0M1383.6 420.8h0M408.9 79.4h0"/>
<path d="M256.9 417.3h0M258.4 418.9h0M258.5 415.6h0M259.2 418.9h0M259.2 417h0M259.9 417.9h0M260.1 418.2h0M260.7 420h0M260.8 420.3h0M261 418.5h0M261.2 416.3h0M261.4 417.9h0M262.3 417.9h0M263.2 418.7h0M263.4 417.6h0M264 418h0M264.1 418h0M264.3 420.4h0M264.3 420.6h0M266.9 417.1h0M269 416.9h0M271.2 418.3h0M272.4 416.7h0M273.8 405h0M274.5 390.8h0M274.7 379.3h0M275.3 357.3h0M275.6 351.6h0M275.6 353.3h0M275.8 350.8h0M276.6 347.9h0M276.6 352.6h0M277.4 350.8h0M277.4 348.7h0M283.7 416.1h0M284.8 415h0M284.9 416.8h0M285.2 414.9h0M285.8 413.8h0M286.6 416h0M286.7 416.3h0M287.6 417.2h0M288.2 416.9h0M288.7 416.4h0M289 415.9h0M289.9 416.8h0M290.1 413.3h0M290.3 416.6h0M291.2 415.6h0M291.7 413.8h0M292.5 413.7h0M292.6 414.3h0M294.2 416.4h0M294.6 415h0M294.7 414.4h0M295.3 414.4h0M295.9 415.7h0M298 415.6h0M299.5 416.6h0M299.5 415h0M301.1 413.8h0M302 419.6h0M302.4 414.2h0M304.1 415.8h0M305.3 417.4h0M305.4 414.2h0M306.5 414h0M306.7 414.5h0M307.4 414.7h0M308 413.7h0M308.2 413h0M310.5 413.8h0M311.2 413.8h0M312 413.9h0M312.2 412.1h0M312.7 416.5h0M313.4 412.8h0M314.9 415.3h0M315.1 416.2h0M315.4 414.5h0M316.2 413.8h0M317 414.4h0M318.3 326.4h0M318.5 302.1h0M320.2 96.9h0M322.3 151.9h0M322.7 214.7h0M323.5 358.7h0M324.8 418.6h0M326 414.4h0M326.3 416.3h0M326.9 417.9h0M327.3 416.6h0M327.7 417.4h0M328.3 418.2h0M328.5 420.3h0M329.7 417.1h0M330.1 417.9h0M331.3 419.1h0M332 417.3h0M333 415.7h0M333.8 417.2h0M334.8 416.6h0M335.1 421.4h0M335.6 420.8h0M337.2 421.6h0M337.7 417.6h0M338.4 420.8h0M338.6 419h0M339.1 419.2h0M340.5 419.8h0M340.6 420.2h0M340.8 416.7h0M341.1 420.6h0M341.9 419.4h0M342.3 419.2h0M342.4 420h0M343.1 421.6h0M343.2 417.1h0M344.2 419.2h0M344.5 416.8h0M344.7 419.5h0M346.1 418.2h0M346.4 418.8h0M346.9 418.6h0M347.2 417.6h0M347.4 419.1h0M347.7 417.9h0M348.2 417.6h0M350 421.9h0M352.8 420.4h0M352.9 418.2h0M353 419.3h0M353.2 416.6h0M355.5 416.5h0M356.1 418.1h0M356.4 420h0M357 414.8h0M357.3 415.7h0M357.5 415.1h0M357.6 416.4h0M359.1 414.8h0M360.7 414.1h0M361.2 414.6h0M361.8 397.9h0M361.8 397.2h0M363.1 359.8h0M364.7 347.9h0M365.1 352.2h0M365.3 350.4h0M365.6 352h0M366.5 362.3h0M367.3 390.6h0M367.4 393.3h0M367.4 391.1h0M367.8 404.8h0M367.9 414.8h0M368.6 417.9h0M369 417.9h0M369.5 416.7h0M370 418.8h0M370.2 422h0M370.3 416.1h0M370.4 415.2h0M371.3 418.2h0M372.1 415.7h0M373.1 417.4h0M373.6 417.9h0M374.2 417.2h0M375.2 420.2h0M376.7 417.1h0M376.9 418.6h0M377.3 416.3h0M377.4 417.9h0M377.6 417.3h0M377.8 417.2h0M378.6 414.7h0M378.7 419h0M378.8 416.6h0M379.4 415.4h0M380.1 415.1h0M380.3 414.6h0M381.5 416.8h0M381.9 416.6h0M382 416.8h0M383.1 414.6h0M383.6 414.9h0M384.1 415.4h0M384.4 416.8h0M385.2 415.6h0M385.5 414.6h0M387.1 413.8h0M387.2 415.1h0M387.3 416.6h0M387.8 414.1h0M389.3 413.6h0M389.6 413.9h0M391 415h0M392.1 413.4h0M392.4 413.7h0M393.1 410.9h0M393.2 415.7h0M394.5 413h0M394.7 416.3h0M394.7 413h0M394.9 416.6h0M395 413.9h0M395.3 413.6h0M395.7 417.3h0M396 413h0M397.1 416.4h0M397.5 413.6h0M398.7 411h0M399 414.4h0M399.5 411.7h0M399.6 416h0M399.9 416.1h0M401.5 410.3h0M401.6 415.6h0M402.2 416.9h0M403.2 412.2h0M404.6 412.3h0M404.7 415.5h0M404.9 414.7h0M405.2 411.9h0M407.2 156.3h0M407.6 112.3h0M407.7 103.8h0M408.1 99.6h0M409 100.2h0M409.2 91.6h0M409.7 107.1h0M409.8 111.4h0M411.8 401.5h0M412.8 417.6h0M413.3 416.7h0M413.9 414.8h0M414 419.9h0M414.4 418.5h0M415.1 416.4h0M415.4 415.2h0M416.5 416.4h0M417.1 419.5h0M417.2 419.1h0M417.6 417.4h0M419.5 417.1h0M419.7 418.1h0M420 419.1h0M420.9 419.1h0M421.5 423.6h0M422.8 420.2h0M422.9 420.3h0M423.2 423.1h0M423.6 422.3h0M423.7 420.3h0M424.1 418.5h0M424.2 422.8h0M424.6 419.8h0M425 421.6h0M426.4 419.8h0M426.7 417.6h0M427.2 419.8h0M428.1 423.5h0M428.3 419h0M428.7 422h0M429.1 417.3h0M429.4 421.5h0M430.4 421.3h0M430.7 420h0M430.9 420.4h0M432 416.7h0M432.2 420.3h0M433.8 422.8h0M434 420.7h0M434.5 422h0M435 421.5h0M436.6 418.5h0M439.2 418.2h0M439.6 419.6h0M440.3 419.9h0M440.3 420.9h0M440.5 422.4h0M442.4 420h0M442.4 421.3h0M442.9 418.5h0M443.3 420h0M444.3 419.7h0M445 422.5h0M445.4 418.8h0M446.2 416.8h0M448.2 416.9h0M448.7 418.6h0M449.2 417.3h0M449.5 408.2h0M449.7 396.5h0M450.2 389.7h0M450.4 379.9h0M451.3 352.9h0M451.6 349.8h0M452.3 354.4h0M452.5 351.7h0M453.2 347.4h0M453.9 352.7h0M455.3 395.4h0M455.8 413.6h0M456.8 421h0M457.2 418.7h0M459.4 421.3h0M461.6 419.8h0M462.1 420.6h0M462.1 418.6h0M462.2 421.5h0M462.7 419.8h0M462.9 419.2h0M463 418.8h0M463.4 420.6h0M464.8 415.6h0M465.1 418.3h0M465.5 420.7h0M465.6 419.6h0M466.9 414h0M467.8 419.5h0M468.6 418.5h0M469.2 418.8h0M469.2 416.2h0M470.4 416.7h0M470.5 417.6h0M470.8 414.7h0M471.3 419.2h0M471.7 418.5h0M471.8 416.5h0M471.8 414.6h0M475.6 418.8h0M475.7 417h0M475.8 415.6h0M476.6 413h0M476.7 414.5h0M477 416.6h0M479.4 413.1h0M479.5 414.2h0M480.4 417.7h0M481 414.9h0M482.2 412.1h0M483.1 412.8h0M483.3 413.6h0M484.3 411.7h0M484.5 415.7h0M485.3 415.8h0M487.1 414.4h0M487.5 411.9h0M487.8 414.2h0M488 414.4h0M488.1 416.4h0M488.5 416h0M488.6 413.9h0M489.2 414.1h0M489.6 411.4h0M490.3 415.7h0M493.6 375.5h0M494.2 293.9h0M495.9 96h0M496.5 96h0M496.6 95.2h0M497.5 106.3h0M500.8 418.3h0M502 415.1h0M502.7 419.1h0M503.1 416.6h0M503.7 417.8h0M503.8 417.3h0M504.2 416.4h0M504.3 415h0M504.6 418.4h0M504.8 416.1h0M506.9 417.7h0M507.2 419.2h0M507.2 417.3h0M507.3 419.9h0M507.3 421.1h0M508.1 417.4h0M508.3 422.1h0M508.6 418.6h0M508.9 417.2h0M509.7 419.1h0M510.8 419.8h0M511 418.4h0M511.5 419.8h0M512 420.2h0M512.8 417.2h0M516 422.6h0M516.8 420.1h0M517.4 420.3h0M518.1 418.4h0M518.8 419.2h0M519 415.4h0M519 420.7h0M519.5 418.7h0M519.9 420.1h0M520.7 418.4h0M522.3 421.6h0M523.2 416.1h0M523.9 420.5h0M524.5 418.3h0M525.2 419.6h0M526.2 416.6h0M527.9 415.4h0M528 418.5h0M528.6 418.3h0M530.2 414.6h0M532.7 418.9h0M533.4 418.1h0M535.1 416.6h0M535.6 412.9h0M535.8 414.8h0M536 415.4h0M536.8 414.5h0M538.2 381.5h0M538.3 372.2h0M540.4 350.6h0M540.6 351.7h0M540.7 349.7h0M541.9 353.1h0M542.3 368.3h0M542.7 375.4h0M543 391h0M544.6 419.6h0M544.9 418.3h0M545.7 417.8h0M545.7 415.3h0M546.6 417.8h0M546.9 415.4h0M547.8 416.1h0M548.4 418.1h0M550.1 416.7h0M550.3 417.8h0M550.8 419.6h0M551 417.3h0M551.5 418.1h0M552 417.7h0M553.1 417.8h0M555 418.9h0M555.3 415.9h0M555.8 418.6h0M556.9 416.1h0M557.3 416.7h0M557.6 414.6h0M557.7 416.4h0M557.9 418.4h0M558.2 417.6h0M559.4 421h0M559.7 417.8h0M559.8 421.6h0M560.6 421h0M560.8 417.9h0M562 415.2h0M563.6 417.4h0M564 417.3h0M565.2 416.7h0M567 416.5h0M568.2 417.7h0M568.2 413.6h0M568.7 414.7h0M569.9 414.9h0M570.1 411.8h0M570.9 413.9h0M571.4 415.5h0M571.7 410.6h0M571.8 414.7h0M572.9 412.9h0M573.4 413.5h0M574.1 416.2h0M574.8 414.9h0M575.6 416.3h0M576 411.2h0M576.5 413.2h0M576.9 411.4h0M577 416.6h0M578.1 413.5h0M578.7 413.9h0M578.9 418.3h0M579.1 416.2h0M579.4 414.5h0M579.6 414.1h0M579.9 415.2h0M580.8 411.2h0M581 410h0M581.8 336.6h0M582.1 289.8h0M583 126h0M583.2 114h0M583.8 103.1h0M583.9 95h0M584 96.3h0M584.1 93.6h0M585.4 108.4h0M587.3 384.4h0M590.4 418h0M591 414.7h0M591 419.1h0M591.3 420.2h0M591.5 418h0M591.6 415.6h0M592.5 418.4h0M593.1 417.9h0M594.2 419h0M594.6 418.5h0M597.3 423.8h0M597.8 422.4h0M598.3 419.9h0M598.5 421h0M598.8 418.6h0M599.9 423.3h0M600.8 419.6h0M600.9 417.3h0M601.2 419h0M601.6 421h0M601.6 418.8h0M601.7 417h0M603.6 419.4h0M604.8 418.2h0M611 417.2h0M611.1 415.1h0M611.7 416.5h0M612.6 417.8h0M612.7 414.6h0M613 414.2h0M614.2 415.6h0M614.9 416.2h0M616 412.4h0M617.2 418.5h0M618.2 414.1h0M619.2 416.7h0M620 416.3h0M620.5 416.8h0M621.5 415.1h0M621.9 414.3h0M622.4 414.7h0M622.8 415.1h0M623.1 415h0M623.1 412.2h0M623.3 413.2h0M623.4 416.1h0M623.7 414.3h0M624.2 415.4h0M624.5 414.7h0M624.6 413.2h0M625.1 408h0M625.5 392.1h0M626.5 366.6h0M627.6 350.9h0M628 349.3h0M628.3 348.6h0M629.3 346.9h0M630.3 370.1h0M630.7 387h0M631 392.3h0M633.8 413.8h0M634.8 416.2h0M635 419.5h0M635.2 418.9h0M635.9 419.4h0M636.1 417.7h0M636.9 417.4h0M637.9 417.8h0M639.7 418.7h0M640.9 419.5h0M641.3 417.9h0M643.3 419.8h0M643.6 421.2h0M644.8 415.6h0M645.6 416.7h0M646.3 417.4h0M647.5 418.1h0M647.6 416.7h0M648.3 417.1h0M649.8 417.6h0M650.2 417.5h0M650.5 419.5h0M651 415.7h0M651.5 420.4h0M651.7 416.7h0M653.1 418.3h0M653.8 417.9h0M654.1 417.9h0M654.3 415.9h0M655.8 414.6h0M657.2 415.2h0M657.5 415.9h0M658.4 413.3h0M659 413.8h0M659.9 414.3h0M661 415.3h0M661.2 413.1h0M661.4 415.4h0M663.4 416.8h0M664.7 410.2h0M665.7 414.6h0M666 414.4h0M666.2 413.7h0M666.5 415.1h0M668.4 411.1h0M668.9 407.1h0M669.5 360.5h0M670.5 185.5h0M670.9 134.2h0M671.4 97.4h0M671.5 103.2h0M671.6 103.9h0M673.7 151.9h0M674.2 253.1h0M675 368.2h0M675.4 400.5h0M676.3 417.6h0M678.2 417.6h0M679.5 413.8h0M680.5 415.5h0M680.7 419h0M681.9 419.6h0M682.2 419.1h0M682.6 417.9h0M683.2 421.9h0M683.6 417.5h0M684.3 418.8h0M684.6 416.5h0M684.9 415.4h0M685 417.4h0M685.6 417.2h0M685.8 420.6h0M686.7 420.9h0M687.4 420.8h0M687.6 416.1h0M688.3 421h0M689.2 418.5h0M689.2 417.4h0M689.4 416.3h0M690.4 418.7h0M691.1 418.1h0M691.4 417.9h0M691.7 415.7h0M691.8 420.4h0M692.3 421.2h0M693.5 417.6h0M694.1 415h0M695.5 416.2h0M696.5 417h0M696.9 418.1h0M697 417.8h0M698.1 417h0M698.4 417.5h0M698.7 416.2h0M699 415.4h0M699.4 416.4h0M701.9 416.1h0M701.9 413.1h0M702.1 416.3h0M703.7 415.1h0M704.5 415.9h0M705.2 413.3h0M706.2 415.8h0M706.4 414.2h0M707.1 417.4h0M707.2 415.9h0M707.7 416.2h0M707.8 415.5h0M708.6 414.3h0M709.9 417h0M711.4 416h0M712.6 414.4h0M714.5 354.6h0M715.8 350.6h0M716.1 346.7h0M716.4 346.8h0M716.4 348.3h0M717.8 361.7h0M718.1 374.7h0M718.2 371.4h0M718.8 395h0M719.5 416.5h0M721.4 417h0M721.7 415.5h0M722.6 416.6h0M723.4 415.9h0M723.8 416.9h0M724.5 417.4h0M724.7 417.9h0M725.6 418.8h0M729.1 416.5h0M729.3 417.6h0M729.7 417h0M730 419.4h0M730.5 418.7h0M731.9 414.5h0M732.5 415h0M732.6 416.3h0M733.2 414.7h0M733.5 418.9h0M734.3 416.7h0M734.4 417.5h0M735.6 415.5h0M735.7 416.8h0M736.5 415.1h0M737.3 415.2h0M738.1 418.9h0M739.2 412.9h0M739.5 414.9h0M739.6 417.3h0M740 416.4h0M740.2 416h0M740.7 417h0M742.1 415.8h0M742.6 416.5h0M742.9 415.4h0M743.2 416.8h0M744.3 413.4h0M744.9 421h0M745.3 414.7h0M747.1 416h0M748.1 414.9h0M750 418h0M750.6 415.4h0M750.8 417.3h0M752 414.2h0M752.6 415.5h0M753.9 414.5h0M755.4 414.3h0M756.4 415h0M756.6 412.1h0M757.3 355.9h0M757.4 346.2h0M757.7 306.6h0M760 92.6h0M761 105.2h0M762.1 260.9h0M762.8 370.9h0M763.6 421.5h0M764.3 418.8h0M764.3 420.7h0M764.8 418.2h0M765 422.2h0M765.4 421.2h0M768.1 422.4h0M768.2 423.4h0M768.3 421.6h0M768.6 420h0M770 420.2h0M770.2 420.7h0M770.3 421.1h0M770.5 419.8h0M770.6 423h0M772.8 419.2h0M773 417.6h0M773.4 417.4h0M773.9 419h0M774.1 417.9h0M774.3 416.6h0M774.5 416h0M774.8 418.8h0M774.9 417.2h0M775.2 416.8h0M776.2 417.7h0M776.8 418.9h0M777.2 416.4h0M777.4 416.5h0M777.9 417.2h0M779.8 417.3h0M781.1 419.4h0M781.9 419.3h0M782.5 418h0M784.4 421.1h0M784.9 417.1h0M785.7 418.2h0M786.5 418.8h0M787 417.5h0M787.8 417.2h0M788.1 419.6h0M791.1 415.6h0M791.6 416.7h0M791.7 416.9h0M792.3 416.8h0M793 418.3h0M793.8 415.1h0M793.9 416h0M794.3 417.1h0M794.5 414.5h0M795.1 412.2h0M795.2 414.2h0M795.8 418.6h0M796.6 415.6h0M797.8 415h0M798 416.4h0M798.1 413.8h0M798.4 414.7h0M798.6 416.4h0M798.9 413.5h0M799.1 414h0M799.4 415.4h0M799.5 415.1h0M799.9 413.5h0M800.6 412.4h0M801.3 393.3h0M801.8 376.7h0M801.8 376.6h0M802.4 357.3h0M844.6 412.3h0M845.3 336h0M845.9 236.6h0M847.1 102.3h0M848 97.2h0M848.1 95.1h0M849.6 186.3h0M850 255.9h0M851.1 405.7h0M851.2 411.6h0M851.5 417.5h0M852.3 415.4h0M853 418h0M853.2 419.9h0M853.3 421.3h0M854.1 417.9h0M854.6 418.7h0M856.9 421h0M858 420h0M859.1 417.4h0M859.3 417.8h0M860.2 420.1h0M860.3 417.2h0M861.1 420.8h0M861.7 419.1h0M862.3 419.1h0M863.1 417.9h0M863.2 422.6h0M864 420.4h0M864.5 418.8h0M865 420.2h0M867.6 416.1h0M867.8 415.3h0M868 419.1h0M869.1 418h0M869.6 416.8h0M870.7 416.7h0M871.3 414.3h0M871.5 417.7h0M871.6 417.6h0M872.3 417.6h0M873.6 416.4h0M874.4 416.1h0M874.9 415.5h0M875.4 420.7h0M875.5 415.7h0M875.8 420.4h0M877 414.4h0M877.2 414.7h0M877.9 418.2h0M878.8 416.9h0M878.9 413.6h0M879.1 417.5h0M879.2 416h0M879.7 416h0M880.1 413.8h0M881.1 415h0M882.4 415.6h0M883.2 417h0M884.3 416.4h0M884.5 417.3h0M885.6 416.2h0M886.1 413.1h0M887 415.9h0M888.6 409.7h0M888.8 399.9h0M889.1 395.6h0M889.2 392.9h0M889.9 368.9h0M890.3 357.1h0M891.3 353h0M892.7 352.8h0M895.4 417.3h0M895.7 417.9h0M897.2 420.3h0M899 415.3h0M899.5 416.9h0M899.6 418.8h0M899.9 419.2h0M902.2 417.8h0M902.6 416.8h0M905.3 418.1h0M905.8 419.1h0M908.1 418.6h0M910.9 416h0M910.9 414.1h0M911.4 416.9h0M913.8 413.3h0M914.3 416.3h0M914.4 414.9h0M915 416.6h0M916 415.8h0M917.7 414h0M918 414.7h0M918.5 416.9h0M918.6 417.2h0M920.1 414.5h0M921.1 414.7h0M921.5 415.8h0M921.5 412.4h0M922.6 414h0M923 411h0M923.1 411h0M924 416.1h0M924.7 415.4h0M924.8 413.8h0M925.1 416.2h0M925.5 417.9h0M927.1 414.7h0M927.6 416.3h0M927.7 415.6h0M928.2 414.9h0M928.9 414.1h0M929.2 416.2h0M929.5 413h0M929.6 414.7h0M930.1 414.8h0M931.1 413.2h0M932 415.3h0M932.7 389.8h0M934.3 153.2h0M934.7 100h0M936.6 104.2h0M936.7 108.7h0M937.1 138.7h0M939.1 412.2h0M939.8 417.6h0M940.2 413.4h0M940.4 416.8h0M940.9 419h0M942 419.6h0M942.1 418.4h0M942.1 417.5h0M944 419.8h0M945.6 419.8h0M945.8 419.1h0M946 423.9h0M946.2 417.1h0M946.6 419.8h0M947 421.4h0M947.2 417.6h0M947.7 421.5h0M948.9 419.2h0M950.6 420.6h0M950.7 421.1h0M951.1 419h0M951.4 419h0M951.5 420.7h0M953.3 419.8h0M953.4 420.6h0M955.3 420.9h0M955.5 418h0M956 417.4h0M956.5 414.8h0M957 416.7h0M957.1 420.5h0M957.8 417.2h0M959.2 418.9h0M959.6 416.7h0M960 416.2h0M960.1 418.1h0M960.7 420.1h0M961 416h0M961.4 416.3h0M961.8 414.5h0M962 414.2h0M964.7 413.2h0M965.1 415.1h0M966.2 415.3h0M967.8 419.5h0M968.3 415.3h0M969.2 413.4h0M970.4 415.6h0M970.6 410.9h0M970.6 410.3h0M971.5 412.6h0M971.7 411.2h0M972.4 413.1h0M972.7 411.8h0M972.9 410.7h0M974 409.5h0M974.3 414.8h0M974.7 413.2h0M975.2 409.9h0M975.5 410.9h0M975.6 413.6h0M975.9 410.6h0M976.7 393.9h0M977 390.9h0M978.7 350.6h0M979.6 350.7h0M980.1 348.3h0M982.9 411.5h0M984.1 416.5h0M985.2 412.9h0M985.3 417.8h0M986.1 413.9h0M986.5 418.7h0M988.4 421.7h0M988.5 416.8h0M988.9 416.6h0M990 419.3h0M990.2 416.8h0M991.3 421h0M991.9 418.8h0M992.9 421.1h0M993.2 415.9h0M993.5 418.1h0M994.1 415.6h0M994.3 419.4h0M995 418h0M995.7 416.6h0M995.8 417.1h0M996.2 417.7h0M997.8 417.6h0M998.1 415.5h0M999.3 418.8h0M999.3 419.5h0M999.8 415.5h0M1001.2 416.4h0M1002.1 414h0M1003 418h0M1003.9 415.7h0M1004.7 419.5h0M1007 416.8h0M1007.7 419.2h0M1008.3 412.2h0M1010.3 415h0M1011.4 414h0M1012.1 412h0M1012.6 412.7h0M1014.4 417.4h0M1015.6 415.1h0M1017.8 414.7h0M1019.3 413.9h0M1019.4 417h0M1019.7 415.2h0M1020.8 373.3h0M1021.3 297.4h0M1022 162.7h0M1022.1 152.5h0M1023.4 93h0M1026.1 332.4h0M1028.3 415.1h0M1029.3 418.9h0M1029.3 419.3h0M1030 420.7h0M1030.9 419h0M1031.5 418.1h0M1032.2 419.9h0M1032.4 420.3h0M1032.6 419.2h0M1033.7 419.9h0M1034.1 418.7h0M1034.3 420.8h0M1034.7 422.6h0M1034.9 421.5h0M1034.9 419.1h0M1035.2 424h0M1035.3 421h0M1035.6 420.5h0M1036.4 419.1h0M1037.3 421.2h0M1039.5 421.2h0M1040.6 419h0M1041.5 418.7h0M1041.9 417.4h0M1042 419.4h0M1044.9 416.5h0M1045.4 417.7h0M1045.6 418.6h0M1046.4 419.5h0M1047 417.3h0M1049 414.6h0M1049.1 418.6h0M1049.3 420.8h0M1049.5 417.2h0M1049.7 415.7h0M1050.4 414.7h0M1051.3 416.7h0M1053.6 416.2h0M1053.9 416.9h0M1055 414.8h0M1056.1 412.2h0M1056.3 414.3h0M1056.8 415.2h0M1056.9 417h0M1057.1 417.3h0M1058.9 418h0M1059.5 416.6h0M1062.4 411.6h0M1062.7 414.4h0M1063.2 417.2h0M1063.8 413.3h0M1063.9 415.6h0M1065.1 384h0M1065.1 381.5h0M1066.7 350.2h0M1067.6 344.8h0M1067.8 346h0M1068.3 347.1h0M1069.5 370.6h0M1070.2 387.5h0M1070.4 397.7h0M1070.5 395.4h0M1071.6 413.1h0M1072.2 413.6h0M1073 411.1h0M1073.8 415.1h0M1075.3 415.8h0M1075.7 413.7h0M1077.2 414.8h0M1077.4 416.3h0M1079 415.4h0M1082.8 418.7h0M1082.9 416.6h0M1084.6 418.5h0M1086.6 419.9h0M1088.1 416.6h0M1088.8 417.6h0M1089.5 417.4h0M1090.8 413.3h0M1091 415.6h0M1092.4 415.3h0M1092.8 416.3h0M1093 416.2h0M1093.3 420.3h0M1093.8 417.4h0M1096.2 416.5h0M1096.5 416.7h0M1096.6 417.9h0M1097.1 414.9h0M1097.8 416.5h0M1099.1 413.5h0M1099.7 414.6h0M1100 418h0M1100.3 416.2h0M1101 416h0M1103.1 417.2h0M1104.3 415.9h0M1104.7 416.7h0M1105 414.8h0M1106 416.8h0M1106.7 416.3h0M1107.1 415.5h0M1107.3 414.3h0M1107.5 414.7h0M1108.2 408.1h0M1108.8 344.5h0M1109.6 209.7h0M1110.4 105.7h0M1111 93.3h0M1111.8 90.3h0M1113.1 184.4h0M1113.2 194.2h0M1114.1 347.4h0M1114.2 359.2h0M1115.2 417.5h0M1116.2 414.1h0M1116.5 417.5h0M1116.6 416.6h0M1116.9 419.1h0M1117 417.3h0M1117.3 416.8h0M1117.8 418.9h0M1118.1 420.4h0M1118.3 416.5h0M1118.9 418.2h0M1119.7 420.4h0M1120.7 420.4h0M1121.4 419.3h0M1121.6 422.6h0M1123.5 422.7h0M1124.5 419.5h0M1124.7 418.4h0M1126.3 419.4h0M1126.9 421.1h0M1127.5 419.1h0M1128.9 418h0M1129 418.7h0M1129 419.6h0M1132.1 422.1h0M1133.4 420.7h0M1133.5 420.4h0M1133.7 422.7h0M1133.8 417.5h0M1133.8 417.7h0M1134.1 418.1h0M1134.1 416.4h0M1135 420.6h0M1135.9 419.1h0M1136.2 417h0M1136.8 416.9h0M1138 417.7h0M1138.2 419.1h0M1139.2 418.8h0M1140.1 417.4h0M1140.7 416.2h0M1140.9 420.1h0M1142.5 417.2h0M1142.8 420.9h0M1144 417.8h0M1144.6 419.8h0M1144.7 416.7h0M1145.3 418.2h0M1147.2 419.7h0M1147.2 417.6h0M1147.4 418.4h0M1147.6 417.6h0M1149.3 418.8h0M1149.4 417.1h0M1149.6 416.3h0M1151 417h0M1152.2 408.3h0M1152.6 392.6h0M1152.6 393.2h0M1153.6 363.1h0M1155.7 351.6h0M1156 349.8h0M1156.5 348.9h0M1157.7 384.2h0M1159.8 416.5h0M1160.9 419.4h0M1161.3 418.1h0M1162.2 416.3h0M1163.8 419.7h0M1164 418.9h0M1164 417.9h0M1164.3 417.2h0M1165.1 415.7h0M1167 415.5h0M1167.4 419.6h0M1167.9 418.7h0M1168.5 416.8h0M1168.6 415.2h0M1169.8 419h0M1170.7 418.4h0M1170.8 415.9h0M1170.8 418.5h0M1171.9 419.8h0M1172 417.1h0M1172.6 416h0M1173 417.7h0M1173.1 418.2h0M1173.5 419.3h0M1173.6 415.7h0M1174.4 420.7h0M1174.5 418.7h0M1174.7 417.1h0M1175.3 416.4h0M1175.6 420.3h0M1176.5 418.8h0M1177.1 417.1h0M1177.6 419h0M1178.2 418.8h0M1179 419h0M1179.3 418.6h0M1179.4 415.6h0M1179.7 416.4h0M1180 420.7h0M1180.9 416.9h0M1181.2 418.2h0M1181.4 423h0M1182.1 416.1h0M1184.3 417h0M1184.4 417.3h0M1185.2 419.5h0M1185.6 416.5h0M1186.4 416.8h0M1186.5 413.9h0M1187 422.5h0M1187.8 419.9h0M1188.8 415.7h0M1189.1 416.5h0M1190.2 417.3h0M1191.6 418.7h0M1191.9 415.2h0M1192 417.9h0M1192 414.2h0M1192.7 418.8h0M1192.9 416.9h0M1196.8 334.5h0M1197.3 247.3h0M1198 127.7h0M1199.3 91.4h0M1199.3 90.8h0M1199.4 91.4h0M1199.9 93.2h0M1200.1 98.7h0M1200.2 100h0M1200.7 144.2h0M1201.1 199.4h0M1202.3 386.8h0M1203.2 417.2h0M1204.6 418h0M1205.3 416.4h0M1206.1 417.2h0M1207.1 418.3h0M1207.4 415.4h0M1207.8 420.7h0M1208 420.5h0M1208.7 419.5h0M1210.6 419.5h0M1210.7 421.3h0M1211.4 421h0M1212.3 419.2h0M1212.8 417.8h0M1213.3 419.5h0M1213.7 420h0M1214.1 423.4h0M1215.2 419.9h0M1217.3 420.8h0M1217.5 417.8h0M1217.6 417.4h0M1218.1 419.7h0M1221.1 422.2h0M1221.4 418.4h0M1222.4 418.5h0M1223.8 421.7h0M1223.9 416.9h0M1224.4 417.3h0M1224.5 421.6h0M1224.6 420.8h0M1225.5 416.8h0M1226.7 415.3h0M1227.1 419.9h0M1227.9 418.4h0M1229.6 416h0M1230.2 422.8h0M1230.7 418.7h0M1232 419.2h0M1232 416.5h0M1232.3 420h0M1232.3 418.5h0M1232.7 421h0M1233 419.7h0M1233 419.9h0M1233.8 417.7h0M1235.5 417h0M1235.6 423.1h0M1238 420h0M1238.9 418.3h0M1240.9 385.2h0M1240.9 383.1h0M1241.3 370h0M1241.3 366.9h0M1241.9 352.5h0M1242.1 352.3h0M1242.4 352.6h0M1242.5 355.8h0M1242.5 353.2h0M1242.6 354.6h0M1243.4 353.2h0M1243.6 353.3h0M1243.7 350h0M1244.8 357.4h0M1246.5 412.7h0M1246.8 415.1h0M1246.9 416h0M1247.5 418.2h0M1248.7 418.1h0M1249.3 416.6h0M1249.7 422.6h0M1249.9 417.5h0M1250.8 419.5h0M1252.7 414.8h0M1253.6 416.4h0M1254.5 418.5h0M1257.4 416.4h0M1257.7 414.3h0M1257.7 413.6h0M1262.9 418.4h0M1264 418.6h0M1264.3 416.9h0M1264.5 419.1h0M1265.5 415.2h0M1267.3 417.6h0M1267.7 418.3h0M1267.9 418.9h0M1269.8 419h0M1270.1 417.1h0M1270.4 419.1h0M1271 417.8h0M1272.4 421.3h0M1273 416.6h0M1273.3 417.1h0M1273.7 420.4h0M1274.2 419.3h0M1274.2 415.5h0M1274.4 417.3h0M1274.4 418.8h0M1274.5 418h0M1275.6 416.6h0M1275.8 420h0M1275.9 413.6h0M1276 420.3h0M1277 416.1h0M1277.3 418.3h0M1277.8 415.8h0M1279.8 416h0M1280 415.6h0M1280.4 415.8h0M1280.9 414h0M1281.1 416.8h0M1281.2 415.3h0M1281.8 415.2h0M1282.3 419.7h0M1282.8 419h0M1283.3 418h0M1283.4 416.5h0M1284.8 299.1h0M1284.9 288.9h0M1285.1 257.1h0M1285.3 215.2h0M1285.8 137.9h0M1287.2 92.1h0M1288.6 145.5h0M1289.3 261.2h0M1289.8 346.5h0M1291.3 415.9h0M1292.5 418.6h0M1292.5 417.2h0M1293.1 417.2h0M1294.4 418.6h0M1295.4 418h0M1295.6 415.7h0M1296.8 417.2h0M1297.1 417.2h0M1298.1 419.6h0M1298.5 422.5h0M1299.1 419h0M1299.3 420.5h0M1299.4 419.1h0M1300.1 423.4h0M1300.3 418h0M1302.1 420.4h0M1302.5 422.3h0M1303.5 419.4h0M1305.6 419.5h0M1306.9 420.7h0M1308.4 419.7h0M1308.5 420.9h0M1311.5 417h0M1312.6 419.4h0M1312.9 419.4h0M1312.9 416.7h0M1313 418.7h0M1313.1 417.8h0M1313.4 423.1h0M1313.7 419.5h0M1313.7 419.5h0M1314.4 419.3h0M1314.4 417.3h0M1314.5 416.2h0M1316 415.3h0M1316.5 421.1h0M1317.6 416.3h0M1317.7 417.7h0M1317.9 414h0M1318.2 413.9h0M1318.7 417.5h0M1319.3 418.6h0M1319.7 415.6h0M1320.5 416h0M1321 419.5h0M1321.2 416.2h0M1322.4 413.4h0M1322.7 418.1h0M1323.9 417.8h0M1324.5 417.5h0M1324.5 417.5h0M1325.3 417.1h0M1326.5 413.2h0M1327.8 411.1h0M1327.9 406.4h0M1328.1 398.4h0M1329.3 355.7h0M1331.8 350.6h0M1333.4 383.3h0M1333.7 392.1h0M1334.4 412h0M1335.3 416.8h0M1336 414.8h0M1338.3 416.9h0M1338.4 417.9h0M1338.8 418.4h0M1339.7 418.5h0M1340.8 417.6h0M1342.2 416.8h0M1343.5 420.8h0M1344.8 419.9h0M1346.9 417.2h0M1347 419.7h0M1347.4 418.5h0M1348.2 423.7h0M1349 416.2h0M1349 415.4h0M1349.7 419.8h0M1351 419.3h0M1352 416.9h0M1352.5 417.6h0M1352.5 416.6h0M1352.8 417.6h0M1354.1 417.3h0M1354.2 420.5h0M1354.3 415.3h0M1355.3 415.1h0M1355.7 415.6h0M1355.8 416.8h0M1356.8 417.7h0M1357.1 415.2h0M1357.2 418.4h0M1358.4 416h0M1360.9 418.1h0M1361 412.7h0M1361.3 415.8h0M1361.7 420.6h0M1361.9 416h0M1362.7 419h0M1364.5 417.1h0M1364.6 413.2h0M1364.8 415.2h0M1365 418.2h0M1366.5 413.8h0M1366.9 414.3h0M1368 417.1h0M1369.8 418h0M1369.8 416.3h0M1369.9 416.3h0M1370 419.6h0M1371 419h0M1371.2 415.6h0M1374.2 95.3h0M1374.3 90.5h0M1374.5 89.8h0M1374.7 89.8h0M1375.4 90.3h0M1375.6 85.5h0M1377.9 381.1h0M1377.9 384.6h0M1378.1 392.6h0M1378.5 419.6h0M1378.5 417.4h0M1379.2 420.8h0M1379.6 418.5h0M1380 418.6h0M1381.8 418.3h0M1381.9 418.6h0M1382.2 420h0M1382.4 415.8h0M1383.1 417.9h0M1384.1 417.5h0M760.1 81.1h0"/>
<path d="M256.8 420.9h0M256.9 420.8h0M257 419.3h0M257.8 420.6h0M257.8 418.1h0M258.3 418.2h0M259.5 418.5h0M259.5 416.9h0M259.6 418.6h0M260.1 420.7h0M261.8 419.8h0M261.9 417.3h0M262.4 419h0M262.6 417.8h0M263.2 415.7h0M263.3 418.3h0M263.5 417.1h0M264.1 417.7h0M264.7 420h0M265.4 417.9h0M265.9 419h0M266.1 419.1h0M268.5 420.5h0M268.7 417.9h0M269 418.3h0M270 418.6h0M271.7 416.4h0M272.4 417.7h0M272.6 415.6h0M272.8 419.6h0M273.5 415h0M274.1 395h0M277.1 353.9h0M277.2 352.2h0M278.8 370.8h0M278.9 376.2h0M280.1 408.5h0M281.5 416.2h0M281.6 417.8h0M281.7 418.2h0M281.9 415.4h0M282.6 416.9h0M283 414.2h0M283.4 414.4h0M283.4 416h0M283.5 417.6h0M283.7 418.2h0M283.8 417.9h0M284.6 415.3h0M284.9 414.6h0M285.1 418.1h0M285.3 414h0M287.7 414.6h0M288.7 418.3h0M289.8 417.4h0M291.3 415.3h0M291.9 413.2h0M293.4 412.8h0M294.2 415.4h0M294.9 413.7h0M295.5 416.6h0M298.1 415.5h0M298.6 418.1h0M298.8 416.1h0M299.9 415.7h0M300.9 417.7h0M301.5 416.9h0M301.6 415.6h0M301.7 413.5h0M302.2 415.3h0M302.3 413.7h0M303 412.4h0M303.3 411.9h0M304.2 415h0M304.4 416.9h0M306 414.6h0M306.3 413.8h0M307.5 412.6h0M308.6 413.7h0M308.7 415.1h0M308.7 415.1h0M308.8 413.7h0M309.7 412.2h0M309.9 419h0M310.7 414.4h0M311 415.5h0M311.5 416.6h0M312.6 414.3h0M313 413.3h0M313.1 413.5h0M313.7 413.2h0M314.1 413.2h0M314.3 415.2h0M314.6 412.8h0M315.2 412.9h0M315.7 412.5h0M317.5 406.9h0M318.6 268.4h0M319 207.8h0M321.5 97.4h0M322 117.3h0M322.1 122.1h0M323.1 288.4h0M324.6 415.9h0M324.9 415.8h0M326.3 416.6h0M327.4 414.9h0M327.8 420.6h0M327.8 416.3h0M329.3 415.5h0M330 417.1h0M330.2 417h0M330.4 416.3h0M330.5 418.8h0M331.2 414.1h0M331.5 417.7h0M332.2 419.3h0M332.4 417.7h0M332.6 419h0M332.8 418.2h0M333.4 418.4h0M333.6 419.1h0M334.3 417.9h0M336.6 421.3h0M338.2 419.7h0M339 419.6h0M339.6 418.5h0M339.7 419.1h0M339.8 422.9h0M340.8 419.9h0M342 421.7h0M342.1 420.9h0M342.8 418.7h0M343.1 419.6h0M343.9 418.8h0M345.3 421.2h0M345.4 417.1h0M347.8 418.3h0M348.2 416.1h0M348.4 418h0M348.5 419h0M349.3 418.9h0M351.5 419.2h0M352.1 416.1h0M352.3 417h0M352.4 416.3h0M352.7 419.2h0M353 415.2h0M353.1 416.7h0M353.7 422.2h0M353.9 414.7h0M354.3 417.6h0M354.4 416.9h0M354.9 417.6h0M356 418.2h0M356.7 414.1h0M356.9 414.9h0M357.1 419h0M357.4 414h0M357.7 417.2h0M359.8 414.9h0M360.9 417.4h0M361.9 396.7h0M362.3 385h0M362.8 365.8h0M363 362.9h0M363.4 351.8h0M363.6 349.4h0M363.9 350.4h0M364.6 355.7h0M364.9 353.1h0M366 356.2h0M367.1 386.6h0M367.6 395h0M368.2 416h0M369.2 420.6h0M369.3 415.8h0M369.5 417.7h0M370.3 418.8h0M371 420.7h0M371.6 419.1h0M371.7 418.8h0M371.8 417.5h0M372.3 418.1h0M372.7 416.9h0M373.7 418.9h0M374.1 416.5h0M374.6 416.9h0M375.5 419.7h0M376 417h0M376.5 414.2h0M377 413.5h0M377.8 417h0M378.3 416.8h0M379.6 415.8h0M379.7 415.5h0M383.2 412.4h0M383.8 415.1h0M384.2 417h0M384.5 414.1h0M385.4 414h0M385.6 413.4h0M385.9 413.9h0M386.1 415.3h0M386.8 414.5h0M387 418.1h0M387.2 415h0M387.4 415.2h0M387.5 412.8h0M387.8 412.7h0M389.7 412.3h0M390.5 412.1h0M390.6 412.4h0M390.8 418.9h0M391 414.2h0M391.1 413.3h0M391.1 414.9h0M392.5 413.4h0M392.8 412.6h0M394.4 418.4h0M394.5 411.8h0M396 411.3h0M397.1 414.7h0M397.2 413.4h0M398.2 418.6h0M398.3 414.4h0M399.3 410.4h0M399.8 414h0M401.3 410.8h0M402 416.7h0M402 416.4h0M402.6 414.1h0M402.6 414.9h0M402.9 414.4h0M403.5 414.8h0M404.3 414.3h0M405.4 403.3h0M405.6 390.5h0M405.8 369.7h0M406.7 227.6h0M407 185h0M407 170.1h0M407.3 141.1h0M407.5 112.8h0M408.4 91.1h0M408.7 95.2h0M410.7 253.8h0M411 302.6h0M413.2 416.5h0M413.9 414.5h0M415.5 418.3h0M416 418h0M416.5 417.2h0M416.9 418.2h0M417.4 419.5h0M418.4 418.3h0M418.6 421h0M419.6 420.5h0M419.8 420.9h0M420.8 422.2h0M421.6 422.3h0M423.1 419h0M423.5 422.5h0M423.9 420.5h0M424.6 421.3h0M425 420.9h0M425.5 420.3h0M426.3 420.5h0M426.6 422h0M427.3 420.3h0M427.6 419.5h0M427.8 421h0M428.4 420h0M428.5 419.1h0M428.7 418.1h0M429.6 423.6h0M430 420.3h0M431.3 421.2h0M431.9 418.3h0M432.6 420.5h0M432.8 422.1h0M433.1 418.8h0M435.3 421.4h0M435.4 420.3h0M437.1 417.4h0M437.6 419h0M437.7 422.1h0M438.5 418.7h0M438.6 419.2h0M439.1 419h0M439.4 422.9h0M439.4 421.6h0M439.6 419.3h0M439.7 417.8h0M440.8 418.8h0M441.7 420.9h0M441.9 421.1h0M442.5 418.4h0M444.6 414.6h0M444.7 418.7h0M444.7 418.2h0M445.5 418.7h0M445.6 422.4h0M446.6 419.7h0M447.7 415.3h0M447.8 415.6h0M451.3 351.2h0M451.5 349.1h0M452.4 353.3h0M452.8 351.1h0M453.5 351.1h0M453.6 352.9h0M454.1 353.8h0M454.3 360.3h0M454.6 372.6h0M455.2 391.2h0M456 420.7h0M456.2 420.1h0M456.2 420.1h0M456.6 419.4h0M456.9 420h0M457.3 419.3h0M457.7 420.5h0M458.7 419.9h0M458.9 420.5h0M459.7 417.8h0M460.9 419.2h0M462.5 421.2h0M463.3 418h0M464.1 420.8h0M464.2 417.3h0M465.8 419.7h0M465.8 419.4h0M466.4 416.6h0M466.8 415.2h0M468 416.2h0M468.8 417.1h0M469 415.8h0M469.9 418.6h0M470.3 417.1h0M470.7 417.6h0M471.6 417.1h0M472.7 415.6h0M472.9 417.1h0M473.1 415.1h0M473.4 416.5h0M473.9 416.9h0M475.6 413.5h0M476.2 417h0M477.3 416.4h0M477.5 417h0M478.5 415.1h0M478.8 413.5h0M480.2 413.9h0M480.6 416.2h0M484.7 413.9h0M485.4 415.7h0M487.1 412.8h0M487.2 416.9h0M489.1 414.7h0M489.6 413.6h0M489.7 412h0M490 412.4h0M490.4 418.5h0M490.6 411.5h0M492.3 410.8h0M493 410.8h0M493.1 411.5h0M494 328.4h0M494.2 287.5h0M495.1 140h0M495.7 94.6h0M496.3 95.9h0M496.7 92h0M497 96.7h0M498.2 193h0M498.6 259.9h0M499.2 358.6h0M500.6 414h0M501.5 417h0M502.1 414.8h0M503.5 418.3h0M503.9 421.4h0M504 415.4h0M504.4 418.6h0M505.2 418.4h0M505.6 416.3h0M506.2 416.7h0M506.8 418.4h0M506.9 417.9h0M507.1 414.3h0M508.6 416.3h0M509.3 417h0M509.6 418.1h0M510.2 419.8h0M510.3 421.2h0M510.3 417.5h0M512.3 419h0M513 419.7h0M513.6 418.6h0M514 420.2h0M514.7 420.7h0M514.8 417.8h0M515.4 422.8h0M515.6 420.1h0M516 418.1h0M516.6 420.8h0M516.8 419.4h0M517.8 417.8h0M521.4 417.8h0M521.8 421.3h0M522.4 420.4h0M522.5 417.2h0M523.2 419.7h0M523.8 418.9h0M524.1 415.3h0M524.3 418.6h0M525.3 420.6h0M525.8 418.6h0M526 417.9h0M526.6 418.3h0M527.5 419.8h0M527.7 414.8h0M527.8 415.7h0M528.1 421.1h0M528.3 418.6h0M529.6 417.5h0M529.8 417.4h0M530.9 416h0M531.1 418.9h0M531.7 417.4h0M532.9 417h0M533.8 415.6h0M534 416.5h0M534.3 418.7h0M535 416.4h0M535.5 415.2h0M536.9 414.5h0M537 414.6h0M537.2 410.8h0M537.5 391.6h0M538.1 380.3h0M538.6 362.8h0M539 350.5h0M539.7 348.2h0M539.7 348.4h0M540.1 348.4h0M541.6 353.2h0M541.8 351.8h0M542.2 363.5h0M542.5 371.6h0M543.3 396.8h0M543.8 417.3h0M544.1 417.3h0M544.5 418.8h0M544.5 416.7h0M544.9 416.1h0M547.5 420.3h0M549.1 416.3h0M549.8 418.5h0M550.6 419.4h0M551.3 418.9h0M551.8 418.8h0M551.9 418.1h0M554.5 419.6h0M554.8 417.4h0M554.8 419.6h0M555.6 417.8h0M556.3 417.3h0M557.9 418.9h0M558 421h0M558.9 419.3h0M559.4 418.5h0M559.7 417.5h0M560.3 418.9h0M561.1 420.4h0M562.5 414.8h0M562.6 417.8h0M563.9 416.3h0M565.5 415.1h0M566 419.7h0M568.4 418.3h0M569.9 417.2h0M570.2 413.2h0M572.3 413h0M572.5 410.7h0M573.1 415.3h0M573.3 413.7h0M575.5 413h0M576.4 414h0M576.7 413.5h0M576.8 414.5h0M578.8 415.8h0M580.8 417.2h0M581.8 335h0M582.4 233h0M585.1 101.8h0M585.5 114.7h0M585.7 138.5h0M586.4 250.9h0M586.7 295.4h0M587.2 373.8h0M589.3 413.5h0M590.7 417.8h0M591.1 416.4h0M591.3 418.3h0M592.4 419.5h0M593.6 418.2h0M593.7 417.4h0M594.1 417.9h0M594.2 418.8h0M595.2 417.4h0M595.5 419.5h0M598.2 420.1h0M599.2 422.6h0M600.5 418.6h0M601 420.9h0M601.3 422.1h0M601.7 420.6h0M602 419.2h0M602.2 419.3h0M603.2 419.5h0M604 420.4h0M605 417.1h0M605.8 420h0M606.1 417.9h0M606.2 418.7h0M607.4 415.3h0M608.2 419.1h0M608.4 419h0M610.5 417.5h0M611.1 417h0M611.4 418.9h0M612.1 416h0M612.6 415.7h0M612.9 418.1h0M613.3 416.7h0M613.6 417.2h0M614 417.1h0M614.4 415h0M614.7 416.3h0M615 416.3h0M616.7 412.7h0M616.9 415.6h0M618.6 415h0M619.1 414.8h0M619.5 416.3h0M619.7 417h0M620.1 416.9h0M620.7 418.6h0M620.9 414.9h0M621.6 413.6h0M621.7 415.7h0M623.2 415.7h0M623.9 414.6h0M623.9 414.1h0M624.4 412.4h0M624.6 411.2h0M625.5 389.6h0M626.4 365.5h0M627.2 351.9h0M627.3 349.2h0M627.4 346.8h0M627.9 349.8h0M629 346.2h0M631.8 414.8h0M632.4 416.3h0M632.5 415.7h0M632.5 412.9h0M632.8 416.5h0M632.9 415.3h0M634 415.4h0M634.6 416h0M635 417.2h0M637.2 419h0M637.5 419.8h0M637.6 415.1h0M637.6 419.8h0M638.3 419.5h0M638.4 418.5h0M638.5 416.9h0M638.9 416.3h0M639.9 416.3h0M640 422.3h0M641.2 417.5h0M642 420.6h0M643.1 418.4h0M643.9 417h0M644.1 417.3h0M648.1 417h0M648.7 419.4h0M650.3 417.4h0M650.9 419h0M651 417.2h0M651.3 415.6h0M651.6 418.4h0M652.3 417.3h0M653.9 415.7h0M654.7 415.6h0M655.1 416.3h0M655.7 412.9h0M656.6 414.5h0M657.9 416.3h0M658.6 415.8h0M660.3 413h0M660.4 412.4h0M660.5 414.4h0M662.1 412.5h0M662.3 413.5h0M662.7 413.1h0M663.1 414.9h0M664.5 413.7h0M665.3 414.8h0M665.4 414.7h0M665.9 412.9h0M666 412.9h0M666.1 414.2h0M666.3 414.5h0M667.5 411.1h0M667.7 413.8h0M668.1 413.8h0M668.3 415.3h0M670.2 237.7h0M670.4 211.5h0M670.6 165.3h0M670.7 158.4h0M671 117.3h0M672.1 93h0M673.7 159.8h0M674.4 281h0M675.1 380.9h0M675.5 405.8h0M675.6 410.1h0M676.2 417.3h0M676.7 415.2h0M678.3 418h0M679.1 419.9h0M680 417.2h0M681.1 419.6h0M683.4 416.8h0M683.5 418.1h0M684.9 420.7h0M687.9 421.1h0M688.2 420.1h0M688.4 418.5h0M688.5 418h0M691.9 417.2h0M694.3 417.7h0M696.4 416.7h0M696.6 417.3h0M696.7 416.5h0M697.1 414.6h0M698.4 415.3h0M699.3 413.5h0M701.5 416.1h0M702.2 417.7h0M702.3 417.9h0M702.5 414.7h0M703 414.9h0M703.2 416.5h0M703.4 415.7h0M703.5 414.2h0M703.6 415h0M704.3 414.3h0M704.8 416.9h0M705.9 415.6h0M706.9 414.6h0M707.6 415.2h0M708.3 415.4h0M709.6 414.8h0M710.3 415.3h0M711.1 418.3h0M711.4 412.9h0M712.1 417.3h0M712.8 413.6h0M713.2 396.5h0M716.1 354.3h0M719.1 401.2h0M719.9 418.3h0M720.3 418.1h0M720.5 417.6h0M720.8 416.4h0M722.2 418.7h0M722.7 415h0M723.7 421.1h0M724.1 418h0M724.2 415.5h0M724.9 416.7h0M725.6 415.3h0M726.3 417.8h0M726.7 416.5h0M727 416.3h0M727.4 418.3h0M728 417.3h0M728.6 417.4h0M729 418.7h0M729.6 416.4h0M730 416.7h0M730.9 418.9h0M731.7 416.1h0M731.8 415.6h0M732.1 416.5h0M732.4 415.1h0M732.7 413.3h0M733 414.6h0M733.1 414.1h0M733.9 415.9h0M734 416.6h0M734.2 413.3h0M734.7 417.2h0M735.8 416.9h0M736.1 417.7h0M737.2 418.1h0M737.7 417.3h0M738.2 416h0M738.3 413.8h0M738.3 416.6h0M738.6 418.3h0M738.8 413.9h0M740.8 417.5h0M741.6 417.4h0M742.8 418.7h0M744 417.8h0M744.2 417.4h0M745.8 416.6h0M746.2 417.6h0M746.9 416.2h0M747 414.3h0M747.8 418.5h0M749 414.4h0M749.7 412.9h0M750.7 414.2h0M751.8 414.9h0M752.1 420.4h0M752.4 414.6h0M752.9 416.4h0M753.3 416.8h0M755 416.3h0M756.2 419.1h0M756.6 409.4h0M756.9 401h0M757.9 277h0M759.9 92.6h0M760.8 98.9h0M761.6 165.5h0M761.7 185.3h0M762.8 360.1h0M763.1 391.6h0M763.4 413.5h0M763.5 418.5h0M763.7 416.8h0M764.9 421.8h0M765.7 421.8h0M766.5 422.6h0M767 420h0M768 421.3h0M771.3 420.8h0M772.2 418.9h0M772.3 419.4h0M772.9 419.4h0M773.6 418.8h0M774.7 416.9h0M775.9 419.2h0M776.2 421.5h0M776.5 417.6h0M777.5 416.2h0M778.8 418.3h0M780.3 419.1h0M780.5 416.5h0M782.3 420.1h0M783 420.4h0M783.2 420.3h0M784.5 415.5h0M784.6 417.3h0M784.7 421.5h0M786.6 413.8h0M786.8 417.8h0M787.2 417.5h0M789.3 418.7h0M789.7 415.5h0M790.6 416.1h0M790.7 416.6h0M791.3 415.9h0M792.4 416.9h0M793.1 419h0M794.2 418.1h0M795.5 417.1h0M795.6 415.2h0M795.7 417.3h0M796.2 419.4h0M796.3 416.2h0M797.2 415.3h0M797.3 415.6h0M798.7 420.1h0M799.2 415.9h0M800 417.4h0M800.2 419.8h0M801.1 397.1h0M801.2 394.2h0M802 369.1h0M802.3 356.5h0M802.9 351.1h0M844.5 411.1h0M844.9 385.8h0M845.6 295h0M845.6 285.6h0M846.5 145.9h0M847.7 96.5h0M848.8 104.1h0M850.1 276.6h0M851.9 420.1h0M853.5 419.3h0M855.8 419.8h0M856.5 419.6h0M857.9 417.1h0M858.3 421.1h0M860.3 421.5h0M860.7 420.8h0M861.1 422.7h0M861.4 421.9h0M861.6 419.4h0M861.8 420.1h0M863.7 421.2h0M863.8 422.2h0M865.5 420.2h0M865.9 419.9h0M865.9 417.1h0M866.2 416.9h0M866.3 417.9h0M866.8 416.8h0M867.1 419.2h0M867.2 419.3h0M867.5 416.7h0M868.1 417.9h0M868.3 415.5h0M868.5 417.5h0M870.9 415.6h0M871.1 415.4h0M871.3 422h0M871.6 415.5h0M871.9 417.5h0M872.4 417.6h0M873.4 415.8h0M873.7 416h0M876.7 417.3h0M877.6 417h0M877.6 414.4h0M878.7 415.3h0M879.5 415.2h0M880.3 414.1h0M881.5 413.5h0M883.2 416.3h0M883.5 412.9h0M883.6 417.1h0M884.5 418.6h0M885.3 411.8h0M886.9 415h0M887.1 416.6h0M888 414.8h0M889.6 379.6h0M889.9 365.9h0M890 367.3h0M890.8 352.4h0M891.2 355.2h0M891.5 353.9h0M891.6 349h0M893.7 370.4h0M894.4 392.7h0M894.7 398.5h0M894.8 399.7h0M895.1 415.8h0M895.2 415.4h0M895.8 417.5h0M896.4 416h0M897.3 418.2h0M897.4 415.9h0M898.6 416.9h0M898.7 418.1h0M898.9 417.7h0M899.8 419h0M901.1 417.5h0M902.2 418h0M902.3 416.6h0M902.6 416.4h0M902.8 416.3h0M902.9 417.4h0M904.9 416.4h0M905.2 417.4h0M905.9 416.4h0M907.1 417.2h0M909.3 413.2h0M909.5 415.6h0M912 418.9h0M912.3 417.7h0M912.4 415.5h0M912.4 417h0M912.7 414.6h0M913.7 412.9h0M914.1 416.6h0M915.3 416.5h0M916.6 414.2h0M916.7 413.9h0M917.6 417.2h0M918.1 414.7h0M919.2 416h0M919.4 416.1h0M919.8 414.2h0M921.4 415.6h0M923.5 415.6h0M923.6 413.3h0M923.8 414.7h0M924.4 417.6h0M925.8 415.9h0M926.9 416.1h0M927.6 412.2h0M929.3 416.6h0M929.4 418.1h0M929.7 414.3h0M929.8 412.5h0M930.7 412.7h0M930.9 415.3h0M931.7 414h0M934.8 103.2h0M936.1 97.3h0M936.7 107.9h0M937.1 139.5h0M937.5 198.4h0M939.6 417h0M941 416.6h0M941.7 418.7h0M942.5 419.2h0M943.1 417.8h0M943.5 418.3h0M943.8 419.9h0M945.2 420.3h0M945.4 421.3h0M946.6 420.2h0M947.6 421.9h0M949 422.2h0M951.1 419.3h0M951.2 420.4h0M951.3 420.1h0M951.8 423h0M952 418h0M952.3 418.6h0M952.6 421.3h0M952.8 419.7h0M952.9 419.3h0M953.2 418.8h0M953.5 420.5h0M953.6 419.1h0M953.9 421.8h0M954.2 418.7h0M958.2 416.8h0M958.5 416.5h0M958.9 421.3h0M959.5 416h0M959.6 416.9h0M959.9 416h0M960.3 415.4h0M960.5 415.6h0M962.4 414.7h0M962.8 411.8h0M963.5 414h0M963.7 413.8h0M965.8 414.9h0M966 412.3h0M967.1 412.5h0M967.5 414.6h0M969.5 414h0M969.7 413.3h0M969.9 413.3h0M970.4 414.3h0M970.8 412.3h0M972.2 412.6h0M973 411.5h0M973.2 413.1h0M974.8 413h0M975.3 415.8h0M975.8 413.9h0M976.4 409.6h0M976.6 401.3h0M977.5 376.2h0M979 352.6h0M980.1 350.6h0M980.3 353.1h0M980.7 348.5h0M983.5 414.7h0M983.8 414.2h0M983.8 418.9h0M986.3 419.1h0M987.3 416.8h0M987.3 416.6h0M987.8 416.3h0M988.9 418.1h0M990.1 417.8h0M994.4 418.6h0M995.4 419.8h0M995.8 416h0M999 418.7h0M999.1 417h0M999.1 416.4h0M999.9 415.8h0M1000 416.3h0M1000.3 421.1h0M1000.6 417.7h0M1000.9 416.8h0M1002.6 421h0M1004.3 415h0M1005.3 414.9h0M1006.1 414.9h0M1008.1 414.8h0M1008.7 415.3h0M1009.5 414.7h0M1010.3 418.2h0M1010.9 413.8h0M1011.1 414.8h0M1013 414.1h0M1014.1 415.4h0M1015.5 414h0M1016 415.9h0M1016.4 415.3h0M1016.5 412.5h0M1016.9 414.9h0M1017.2 414.2h0M1017.5 415.5h0M1018 413.2h0M1018.1 413.7h0M1018.4 413.5h0M1020.1 415.2h0M1020.2 410.4h0M1020.3 407.8h0M1020.4 401.8h0M1020.8 364.1h0M1020.9 360h0M1021 342.1h0M1021.2 313.9h0M1021.4 279.4h0M1021.5 264.2h0M1022.2 142.4h0M1022.9 102.7h0M1023.1 92.7h0M1024.1 95.6h0M1024.3 100.5h0M1024.5 101.1h0M1026.4 361.6h0M1027.8 420h0M1028.7 420.9h0M1028.9 416.8h0M1029.5 417.2h0M1029.6 419.7h0M1030.7 418.5h0M1030.7 419.1h0M1032.9 421.7h0M1033.1 419h0M1033.5 422.3h0M1034.8 419.3h0M1035.2 418.7h0M1035.3 418.4h0M1036.4 419.2h0M1037.4 421h0M1037.8 419.6h0M1038.4 421.4h0M1039.5 421.6h0M1039.8 418.5h0M1040.9 419.7h0M1040.9 420.1h0M1042.3 419.5h0M1043.6 417.5h0M1044.2 418.6h0M1045.2 419.1h0M1045.8 419.4h0M1045.9 418h0M1046.1 416.3h0M1046.5 420.5h0M1046.8 417.1h0M1047.2 419.3h0M1050.8 414.6h0M1052.2 420.6h0M1052.4 418.6h0M1052.6 414.6h0M1054.8 414.8h0M1055 414.1h0M1056.5 417.2h0M1056.8 418.9h0M1057.1 414h0M1057.2 415.4h0M1057.7 412h0M1057.7 416.5h0M1058.2 412.3h0M1059.2 415.3h0M1059.9 415.7h0M1061.2 413.6h0M1061.7 413h0M1062.3 415h0M1063 413.7h0M1063.1 414.6h0M1063.5 412.9h0M1063.6 416.5h0M1064.4 406.7h0M1065.7 362h0M1065.9 354.6h0M1066.3 344.4h0M1066.7 348.5h0M1066.8 349.3h0M1067.4 344.6h0M1069 345.3h0M1069.1 352h0M1069.3 361.5h0M1069.6 371.2h0M1070.6 400h0M1071.4 414.2h0M1072.7 417h0M1073.3 412.8h0M1073.9 412.9h0M1074.3 417.5h0M1074.7 420h0M1074.8 412.7h0M1075.1 415.9h0M1075.3 411.4h0M1075.6 414.4h0M1075.8 410.5h0M1075.8 413.4h0M1076.5 414h0M1077.3 413h0M1077.5 415.5h0M1077.5 413.4h0M1077.6 419.6h0M1078 415.2h0M1079.5 414.8h0M1079.6 414.9h0M1079.8 416.6h0M1081.1 415.4h0M1081.4 416.2h0M1081.9 414.2h0M1082.7 416h0M1083.5 417.3h0M1084.2 418.8h0M1085 418.3h0M1085.3 416.1h0M1085.4 414h0M1085.9 416.1h0M1086 420.4h0M1087.4 412.9h0M1087.4 419.7h0M1087.5 416.7h0M1087.8 417.5h0M1088 419.6h0M1088.4 416.3h0M1088.5 415.5h0M1090.5 418.4h0M1090.7 418.6h0M1091.3 417.8h0M1093.4 418.3h0M1095.6 418.3h0M1098.3 416.3h0M1099.6 417h0M1100.4 418.9h0M1101.2 415h0M1101.3 417.2h0M1101.5 414.7h0M1101.6 417h0M1101.9 414.2h0M1102.3 416.7h0M1103.8 412.6h0M1104.2 412.8h0M1104.8 415.4h0M1105.9 414.1h0M1106.3 414.7h0M1106.7 414.8h0M1108.1 408.5h0M1108.9 336.3h0M1109 319.9h0M1109.3 260.8h0M1109.8 174.8h0M1109.9 164.8h0M1110.1 133.7h0M1110.2 116.9h0M1110.3 108.8h0M1110.8 91.8h0M1111.4 89.2h0M1113.5 248.7h0M1113.8 303.1h0M1113.8 311h0M1115.5 417.4h0M1115.7 417.7h0M1116.1 415.6h0M1116.3 414.9h0M1117.2 419.7h0M1117.2 416.1h0M1117.4 417.6h0M1117.5 414.4h0M1118.6 418h0M1118.7 418.9h0M1120.8 420.4h0M1120.9 421.5h0M1121.1 419.1h0M1122.5 419.6h0M1122.9 418.6h0M1123.3 421.5h0M1123.5 424.1h0M1125 421.9h0M1125.1 422.4h0M1125.3 420h0M1127.7 421.2h0M1128.8 421.1h0M1128.9 418.6h0M1130.7 421.4h0M1131 422h0M1131.6 420.8h0M1132 419.1h0M1132.3 418.7h0M1132.8 418.9h0M1133.2 419.8h0M1134.2 418.3h0M1134.9 421.1h0M1137.3 420.5h0M1137.4 417.6h0M1137.8 416h0M1139 418.2h0M1139.5 418.6h0M1139.7 416.4h0M1139.9 417.5h0M1140.5 418.5h0M1140.6 413.8h0M1141.9 417h0M1142.9 415h0M1143.3 418.6h0M1143.8 419h0M1144.4 418.7h0M1144.8 414.3h0M1145.2 419.5h0M1145.4 416.4h0M1145.5 420.3h0M1145.6 417.7h0M1148.3 414.6h0M1148.5 417h0M1148.5 417.9h0M1150.5 418h0M1151.5 419.4h0M1151.5 415.3h0M1152.2 414.5h0M1152.7 392.4h0M1153.9 347.6h0M1154.2 350.9h0M1154.8 345h0M1156.3 353.9h0M1156.4 346.2h0M1157.4 370.7h0M1157.5 377.6h0M1158.3 399.3h0M1158.4 401.8h0M1158.6 412.2h0M1158.7 417.2h0M1159.2 415.9h0M1159.3 417.2h0M1160 414h0M1161 418.3h0M1161.7 420h0M1162.7 416.1h0M1162.7 415.2h0M1164.1 419.3h0M1164.9 417.5h0M1165.2 414.6h0M1165.4 419.2h0M1165.4 417.3h0M1167.3 420.1h0M1168.4 415.2h0M1174.2 417.4h0M1175 416.3h0M1175.3 418.9h0M1175.6 415.4h0M1175.8 421.6h0M1177.4 415.8h0M1177.7 416.3h0M1177.8 415h0M1178.6 416.5h0M1179.5 416.6h0M1179.9 420.7h0M1180 420.4h0M1180.3 419.4h0M1181.6 417.4h0M1182.2 415.1h0M1182.4 418.6h0M1183.6 418.7h0M1183.8 414.1h0M1184.2 417.1h0M1185.3 417.1h0M1186.1 415.6h0M1186.6 418.3h0M1187.2 413.2h0M1187.5 416.6h0M1187.7 419.4h0M1187.9 420.3h0M1188.9 414h0M1191.4 418.2h0M1191.5 418h0M1192.3 418.1h0M1193 417.6h0M1194.5 413.8h0M1194.8 417.3h0M1195 417.7h0M1196.1 408h0M1197.1 277.5h0M1197.8 149h0M1197.9 142.9h0M1198.3 111h0M1198.7 94.6h0M1199.5 93.4h0M1200.1 96.7h0M1200.6 125.3h0M1201.8 332.3h0M1202.5 403.5h0M1202.5 409.1h0M1204.2 415.3h0M1204.8 415.7h0M1205.2 418.1h0M1205.7 418h0M1205.9 417.9h0M1206.9 418.1h0M1207.3 421h0M1208.7 423h0M1208.9 416.6h0M1210.5 421.5h0M1211.5 419.4h0M1211.7 420.2h0M1212.2 419.1h0M1212.4 421.9h0M1212.9 422.5h0M1213.4 417.6h0M1213.7 419.9h0M1214.4 419.4h0M1215.3 419.8h0M1216.3 422.2h0M1217.6 421.8h0M1218 421.1h0M1219.3 420.2h0M1220.5 419.2h0M1221.3 421.8h0M1221.6 418.6h0M1222.2 420h0M1223 419.2h0M1226 421.1h0M1226.8 415h0M1227.2 418.2h0M1227.4 419.5h0M1227.5 417.8h0M1228.2 418.8h0M1228.9 419.1h0M1229.9 419.9h0M1230.3 418.9h0M1234.5 417.3h0M1235.1 423.5h0M1235.8 419.6h0M1236.4 417.3h0M1236.5 414.8h0M1237.3 419.9h0M1237.5 418.2h0M1238.6 421.9h0M1239.7 419.5h0M1239.8 417.6h0M1240.1 407.8h0M1240.4 398.2h0M1241.2 372.6h0M1241.4 368.6h0M1242.2 348.7h0M1242.7 352.9h0M1242.8 350.9h0M1243.2 351.5h0M1243.8 355.3h0M1243.9 354.8h0M1245.4 378.1h0M1245.8 390.7h0M1246 393.9h0M1246.2 400.9h0M1246.7 415.9h0M1248.2 420.7h0M1249 418.9h0M1251 417.1h0M1251.4 416.8h0M1252.4 421.6h0M1253.2 417.4h0M1253.7 418.8h0M1253.9 414.1h0M1254 413h0M1254.3 414.4h0M1254.6 414.4h0M1255.7 415.8h0M1256 415.2h0M1256.5 413.5h0M1256.7 414.9h0M1256.9 417.2h0M1257.1 413.9h0M1258 414.7h0M1258.4 417.3h0M1259.4 419.1h0M1260.9 415.9h0M1261.2 415.8h0M1261.7 416.7h0M1261.8 420h0M1263 415.3h0M1263.8 416.9h0M1264.7 417.4h0M1264.8 415h0M1265.6 417.4h0M1266 416.9h0M1266.1 416.7h0M1266.3 419h0M1267.9 421.4h0M1269 418.1h0M1269 416h0M1269.1 417.4h0M1269.6 417.9h0M1269.7 417.6h0M1270.1 414.9h0M1270.4 419.7h0M1271.4 418.6h0M1271.9 418.9h0M1272.6 421.2h0M1275 417.9h0M1275.6 418.8h0M1276.1 417.3h0M1277.2 419h0M1277.4 419h0M1277.7 415.7h0M1277.7 418.7h0M1278.7 416.8h0M1281.3 419.1h0M1281.4 419.9h0M1282 421.1h0M1282.3 417h0M1282.4 417.9h0M1282.9 418.3h0M1284.1 389.8h0M1284.4 361.9h0M1284.5 353.3h0M1284.9 280.9h0M1286.9 91h0M1287.4 92.5h0M1287.7 93.2h0M1290.5 412.3h0M1291.3 417.2h0M1293 417.8h0M1293.5 416.4h0M1293.7 417.7h0M1295 418h0M1296.1 418.9h0M1296.7 419.4h0M1297.5 421.3h0M1298.6 418.8h0M1298.9 418.2h0M1299.6 420.2h0M1300 418h0M1300.8 420.3h0M1301 416.5h0M1302.9 419.3h0M1304.2 419.3h0M1304.3 419.3h0M1304.7 421.7h0M1306.5 419.2h0M1306.7 420.8h0M1308.7 416.3h0M1309.1 418.6h0M1309.1 418.8h0M1309.2 417.8h0M1309.3 416.4h0M1309.6 419.1h0M1309.8 419.7h0M1311.3 418h0M1311.5 421.8h0M1311.6 418.2h0M1314.1 420.3h0M1316.3 417h0M1316.9 417.1h0M1317.7 419.1h0M1318.3 420.1h0M1318.6 419.3h0M1318.9 416.7h0M1319 419.3h0M1319.1 414.8h0M1319.7 414.7h0M1321.9 416.9h0M1322.6 415.3h0M1324.3 412.8h0M1324.6 414.4h0M1325.5 414.8h0M1325.7 416.8h0M1327.9 409.9h0M1329.8 351.6h0M1330.3 349.1h0M1331.4 347.6h0M1333.3 377.9h0M1333.3 374.6h0M1334 397.8h0M1334.2 405.3h0M1334.5 415.3h0M1334.5 412.9h0M1335.5 416.7h0M1336.2 415.6h0M1336.3 417.5h0M1336.6 416.1h0M1336.7 415h0M1336.9 418.3h0M1337.2 414.7h0M1337.3 416.5h0M1337.4 418.1h0M1337.7 415.4h0M1337.9 418.5h0M1339.1 417.8h0M1339.9 416.2h0M1340 419.7h0M1340.1 418h0M1341.3 417.6h0M1341.8 416.4h0M1342.8 417.4h0M1343.1 418.7h0M1346.5 420.8h0M1347.1 416.1h0M1347.7 418.2h0M1348 419.8h0M1348.4 419.5h0M1348.6 420.1h0M1348.6 416.7h0M1349.6 419.4h0M1350.3 420.3h0M1351.1 421.9h0M1354.4 418.1h0M1354.5 418.7h0M1355.1 416.5h0M1355.4 415.4h0M1357.1 419.1h0M1358.6 416.6h0M1359.4 418.2h0M1360.1 414.4h0M1360.6 415.7h0M1360.6 417.7h0M1363 420.6h0M1363.7 415.6h0M1364.3 413.5h0M1366.1 413.7h0M1367.2 415.3h0M1370.5 417.1h0M1371.3 417.2h0M1371.4 417h0M1372.1 384.6h0M1372.3 353.7h0M1375.1 89.2h0M1375.7 91.2h0M1375.9 94.6h0M1376.9 221h0M1377.7 349.4h0M1378.6 419h0M1381.4 419.6h0M1383.1 418.7h0M1383.4 414.6h0M1133.5 428.6h0"/>
<path d="M259.8 418.3h0M260.2 420.2h0M261.3 419.5h0M261.7 419.1h0M262.2 417.1h0M262.7 418.4h0M264.4 420.4h0M264.6 418.3h0M265.5 419.7h0M265.6 415.5h0M266.6 417.8h0M267.6 416.6h0M269.4 418.1h0M270.8 416h0M270.8 415.6h0M271.1 418.2h0M273.1 416h0M274 399.3h0M274.3 390.7h0M274.7 377.7h0M275.2 362.1h0M275.5 351.8h0M275.9 350.8h0M277 348h0M277.8 350.9h0M278 350.1h0M278.1 351.3h0M278.5 355.5h0M278.8 371.9h0M280.3 417.4h0M280.4 417.5h0M280.5 415h0M281 418h0M281.1 419.1h0M281.4 416.3h0M281.8 416.3h0M281.9 416.4h0M282.2 416.8h0M283.1 413.2h0M283.9 419h0M284.5 415.8h0M285.7 413.9h0M287.1 417.9h0M287.3 416.5h0M287.4 414.2h0M288 415.7h0M288.5 414.8h0M288.6 418.3h0M288.9 419h0M289.1 416.7h0M289.7 415h0M290.4 415.8h0M290.8 417.2h0M290.8 415.5h0M291.1 415.5h0M291.6 417.2h0M291.8 414.9h0M292.9 415.2h0M293.3 414.6h0M293.7 416.6h0M293.8 415.3h0M293.9 416h0M294.1 415.5h0M296 413.3h0M296.1 413.3h0M297.2 415.7h0M297.7 414h0M297.7 414.7h0M298.4 416.6h0M298.9 415.6h0M298.9 413.8h0M301.7 415.2h0M303.7 415.8h0M304.5 418.4h0M304.9 415.8h0M305.2 413h0M305.6 412.5h0M306.2 416.9h0M306.2 414.3h0M307 414.4h0M307.3 414.1h0M310.1 413.2h0M310.2 412.9h0M311.2 412.2h0M311.8 411.3h0M312.3 413.5h0M312.3 416.6h0M313.3 418h0M313.8 412.8h0M315.5 413.8h0M316.6 414.1h0M316.7 414.9h0M317.6 404.1h0M317.8 387.4h0M318.1 350.9h0M318.4 310.5h0M318.8 242h0M319 197.5h0M319.3 140.3h0M319.5 127.4h0M319.7 106.7h0M320.1 96.2h0M321.7 102.3h0M323.2 320h0M323.4 342.4h0M323.8 390.2h0M325.3 418.3h0M326 417.1h0M326.2 415.2h0M326.6 417.6h0M326.7 417.1h0M327.7 419.2h0M328.1 419.6h0M328.6 416.9h0M328.7 413.4h0M328.9 416.5h0M330.3 413.8h0M330.5 414.5h0M330.8 420.4h0M332.7 421.4h0M334.1 418.9h0M334.4 418.9h0M334.6 423.5h0M335.3 420.1h0M335.4 418.7h0M335.8 421.1h0M335.9 419.4h0M336.8 418.5h0M337.6 416.3h0M337.8 418.2h0M341.2 419.8h0M341.4 417.6h0M342.5 419.9h0M342.6 417.2h0M345.2 422.1h0M345.4 416.8h0M345.6 418.2h0M347.5 418.5h0M349.5 418.3h0M349.8 417.6h0M350.4 418.8h0M350.9 415.9h0M351.6 418.8h0M355.3 413.8h0M355.9 418.2h0M356.2 417.8h0M356.7 415.2h0M357.6 419.3h0M358.9 416.2h0M360.1 414.3h0M360.2 415.5h0M361.1 413.8h0M361.4 410h0M362.6 374h0M362.7 368.7h0M363 362.7h0M363.2 359.3h0M364 350.5h0M364.1 353.3h0M365.8 350.5h0M366.3 353.3h0M366.4 362.2h0M366.7 369.8h0M366.9 380.5h0M367.5 393.7h0M368.3 417h0M368.4 414.3h0M368.6 417.4h0M368.8 418.8h0M368.9 419.4h0M368.9 417.1h0M369.4 416.8h0M369.7 419.3h0M369.9 421.7h0M372.4 417.7h0M372.8 416.4h0M374.9 418.5h0M376.6 418.2h0M376.6 417.6h0M381.2 415.4h0M381.7 414.1h0M381.9 412.5h0M383 418h0M384.1 414.9h0M385.1 412.8h0M385.5 414.4h0M386.1 417.6h0M387.6 416h0M388.6 415h0M388.7 413.3h0M389 419h0M390 414.4h0M390.3 416.2h0M390.4 413.3h0M392.7 414.8h0M393 412.8h0M393.2 413.3h0M394.2 413.3h0M395 412.4h0M395.4 415.6h0M395.6 412.6h0M397 412.3h0M397.6 414h0M398.4 416.1h0M400.6 416.3h0M400.6 417.2h0M401.2 415h0M401.4 414.6h0M402.3 416.3h0M402.4 412.4h0M402.7 411.3h0M403 415.5h0M404.4 412.5h0M407.9 97.1h0M408.5 92.5h0M409.5 106.2h0M410.4 202.8h0M410.6 235.7h0M412.3 414.1h0M412.4 416.2h0M414.1 417.4h0M414.8 418.4h0M415.8 417.4h0M415.8 418.4h0M416 415.8h0M417 421.6h0M417.6 418.2h0M419.2 419.5h0M419.5 423.1h0M420.4 421.9h0M422.1 420.6h0M422.1 420h0M422.3 421h0M422.4 419.5h0M422.7 419.8h0M422.8 421.4h0M423.4 417.9h0M423.8 421.1h0M425.1 421h0M425.2 422.1h0M426.9 420.8h0M428.2 421.3h0M429 422h0M429.2 423.9h0M429.2 421.5h0M430.8 417h0M431.1 417.4h0M433 421.6h0M433.7 421.6h0M433.8 417h0M434.1 418.7h0M434.4 420.4h0M434.9 420.4h0M437.8 419.8h0M437.9 417.3h0M438.9 419h0M439.7 423.1h0M440.5 418h0M440.6 420.3h0M440.7 421h0M441.1 418.9h0M442.2 425.6h0M442.8 420.2h0M443.6 421.2h0M444.2 420.3h0M444.4 415.8h0M444.6 416.2h0M446.4 417h0M446.6 417.2h0M446.7 419.1h0M446.8 421.1h0M447.3 416.3h0M447.5 419h0M449.8 390.9h0M450.5 377.9h0M451.7 347.9h0M451.9 351.6h0M452.1 353.4h0M452.4 350.7h0M452.7 354h0M453.4 352.8h0M454.7 378.5h0M454.9 386.8h0M454.9 390h0M455 387.7h0M455.4 397h0M455.6 403.8h0M456.1 419.7h0M456.6 418.7h0M457.1 418.8h0M457.2 419.8h0M457.4 418.5h0M457.5 419.9h0M458.4 416.7h0M459.1 422.6h0M459.4 416.5h0M459.5 419.4h0M460.5 417.9h0M462 417.8h0M463 421.1h0M463.2 420.8h0M463.5 417.9h0M465.7 420h0M466.1 418.7h0M466.3 418.1h0M469.3 416.3h0M471.1 417.2h0M471.3 418.3h0M472.4 420.3h0M472.7 417.5h0M473.3 416.6h0M473.6 418.1h0M474.6 415.5h0M474.7 412.1h0M474.8 416.1h0M475.7 413.5h0M475.9 415h0M476.5 414.9h0M476.8 415.3h0M476.9 415.5h0M477.3 413.7h0M479 415.8h0M479.4 417.3h0M479.8 411.1h0M479.9 417.5h0M480.8 415.8h0M480.9 413.5h0M481.6 413.3h0M482.1 413.4h0M482.4 416.1h0M482.5 415h0M482.6 413.7h0M483.7 411.9h0M484.4 416.4h0M485.6 414.9h0M485.7 414.2h0M486.9 415h0M487.2 414.1h0M487.6 412.1h0M488.2 412.6h0M490 413.4h0M490.1 412.1h0M491.4 412.2h0M491.6 412.5h0M493.5 384.8h0M494 316.6h0M495 157.3h0M495.3 122.4h0M495.9 93.5h0M496 96.5h0M496.4 94.3h0M497.4 102.2h0M498.5 249.2h0M500.9 419.3h0M501 416h0M501.7 417.9h0M501.7 416.4h0M503.2 414.9h0M504 418.1h0M506.3 420.7h0M506.8 418h0M510.4 417.7h0M511.1 418.6h0M511.6 418.2h0M512.5 420.3h0M512.6 419.8h0M513.6 421.1h0M514.4 419.2h0M514.5 418.9h0M515.6 422.4h0M516.3 419h0M519.2 419.7h0M522.1 417.8h0M522.6 415.5h0M524.9 414.1h0M525.2 417.9h0M525.5 419.2h0M525.6 420.6h0M525.7 421.1h0M525.9 417.4h0M527.3 419.2h0M528.4 417.6h0M529 417.4h0M529.5 417.5h0M530.1 418h0M530.4 416.6h0M531 418.2h0M531.3 418.8h0M533 414.2h0M533.7 415.7h0M533.9 414.6h0M536.5 415.3h0M537.5 398.6h0M538.4 369.5h0M538.6 358.9h0M539.9 347.7h0M540 349.7h0M541.7 347h0M542.6 378.7h0M543.2 396.2h0M544.2 416.1h0M545.9 418h0M546.1 418.9h0M546.7 418.3h0M546.8 421.5h0M547.4 418.2h0M547.5 420.6h0M547.6 419.8h0M548.5 417.4h0M549.1 418.6h0M549.6 418.2h0M550.5 417.6h0M550.9 417.5h0M551 414h0M552.1 416.8h0M552.9 418.2h0M553.4 416.8h0M554.1 418.1h0M554.7 419.1h0M554.9 413.7h0M555.4 415.6h0M555.7 418.2h0M555.9 416.2h0M556.1 416.7h0M557.1 419.1h0M557.3 417.9h0M557.5 418.8h0M558.1 419h0M558.4 416.9h0M560.4 417.5h0M561.2 421.8h0M561.4 419.5h0M561.7 419.1h0M562.2 416.8h0M563 416.3h0M564.3 416.7h0M565.4 414.9h0M566.8 415.7h0M567 415h0M567.1 416.4h0M567.3 415.5h0M567.6 415.6h0M569.3 416.2h0M570.7 415.8h0M571.6 413.9h0M571.9 412h0M573.7 412.8h0M574 411.2h0M575.3 413.6h0M577.1 415.5h0M577.6 414.4h0M577.9 416.7h0M578.4 415.3h0M578.7 418.2h0M580.2 415.1h0M581.2 396.6h0M582.2 263.8h0M583.3 112.6h0M583.3 106h0M583.6 94.2h0M584.2 89.7h0M584.5 97.6h0M584.6 96.2h0M584.8 95.3h0M584.8 95h0M586.3 232.2h0M586.5 268.4h0M586.7 306.9h0M586.8 326.1h0M586.9 341.7h0M587.4 388.2h0M588 416.1h0M589.7 416h0M589.8 421.1h0M590.4 417.2h0M591.7 418.5h0M592.6 418.7h0M593.1 417.2h0M594.9 419.2h0M595.2 417.5h0M595.6 419.1h0M596.2 420.6h0M596.2 418.6h0M597.1 417h0M598 418.7h0M598.6 421.3h0M599.4 419.5h0M599.6 421.7h0M599.9 418.5h0M602.6 420.9h0M602.6 416.2h0M603.4 421h0M603.7 417.4h0M604.5 417.9h0M604.6 418.6h0M605.3 419.5h0M605.4 415.2h0M606.1 419.4h0M606.7 416.6h0M606.9 418.9h0M608.4 417.3h0M608.6 419h0M608.6 419h0M609.1 417h0M610 417.5h0M610.1 416.8h0M610.4 419.2h0M611.7 416.3h0M611.8 414.9h0M612.4 415.7h0M614.5 413.7h0M614.7 417.4h0M614.8 413.2h0M615.3 416.7h0M616.2 415.8h0M616.4 416.1h0M617 415.1h0M617.9 418.7h0M618.6 413.1h0M623.7 413.5h0M626.3 369.9h0M626.6 359.3h0M626.7 350.8h0M629.1 346.8h0M629.2 348.7h0M629.8 350h0M631.1 391.5h0M631.4 404.2h0M634.4 413.4h0M634.5 418.1h0M634.6 415.2h0M635.7 414h0M636.3 415.7h0M636.4 416.7h0M636.5 418.2h0M636.6 415.9h0M637.3 417.8h0M637.8 417h0M638.7 415.8h0M639.1 417.6h0M639.3 416.8h0M639.5 417.7h0M640.6 417.3h0M641.4 418.9h0M643.2 417.3h0M644.6 417.9h0M645.7 420.1h0M647.1 418.1h0M647.4 417.5h0M648.8 415.2h0M649 414.9h0M651.9 416.2h0M652.1 416.2h0M652.6 417.1h0M653 412.6h0M653.5 420h0M653.7 414.7h0M655.5 413.8h0M656.4 414.8h0M656.6 415.5h0M656.9 418.4h0M657.4 414.4h0M657.5 413.7h0M658.1 415.4h0M659.1 412.4h0M659.3 415.1h0M659.6 417.3h0M659.7 413.9h0M660 417.5h0M660.2 413.5h0M660.5 414.1h0M661.8 415.2h0M663.2 414.8h0M663.7 413.5h0M664 415.6h0M664.4 412.9h0M665.3 416h0M667.8 414.6h0M669 401.2h0M670.3 214.6h0M671.9 99.4h0M672.1 98h0M672.6 94.1h0M672.7 91.2h0M673.8 170.5h0M673.8 178.6h0M674.3 265.2h0M674.7 322.8h0M675.3 395.6h0M675.8 415h0M676.1 416.4h0M677.2 418.1h0M677.9 416.9h0M678.1 418.3h0M678.9 415.8h0M679.7 417.1h0M680 414.6h0M680.5 419.2h0M681.3 415.4h0M682.1 417.8h0M682.3 421.5h0M682.3 416.8h0M683.8 417h0M684 420.6h0M684.8 419.3h0M686.5 416.8h0M687.1 419.1h0M687.6 418.6h0M687.8 419.1h0M689.7 420.6h0M689.7 418.1h0M690.2 419.1h0M691.3 419.2h0M691.5 418.2h0M691.7 422h0M693.2 416.1h0M694.1 415.8h0M694.2 414.1h0M695.5 420.7h0M696.2 419.7h0M698.5 414.2h0M698.8 417.5h0M699.9 415.4h0M700.6 415.7h0M700.8 415.5h0M701.1 415.9h0M701.6 416.2h0M702.9 416.3h0M703.7 411.9h0M704.4 418.2h0M705 413.8h0M706 413.8h0M706.1 415.5h0M706.2 414.8h0M706.3 416.4h0M706.5 418.4h0M707.2 417h0M707.9 421.2h0M708.1 415.8h0M708.6 418.7h0M709.3 414.2h0M709.7 419.3h0M710 415.2h0M712.3 415.5h0M713.6 391.3h0M713.9 380.7h0M714.3 362.8h0M715.7 351h0M716 348.1h0M716.7 348.3h0M717.3 351.4h0M718.1 370.8h0M719.4 411.2h0M719.5 411.9h0M722 415.8h0M722.4 414.8h0M722.8 415h0M723.7 417.7h0M725.1 417.5h0M726.1 416.4h0M726.5 415.4h0M727.7 416.8h0M727.8 418.9h0M728.2 413.3h0M728.4 416.2h0M728.7 416.3h0M729 417.4h0M729.5 415.8h0M729.8 413.9h0M730.1 416.1h0M730.1 415.2h0M731.4 416.1h0M731.5 414.5h0M732.8 414.3h0M732.9 416.9h0M734.5 415.3h0M734.6 416.2h0M735 415.2h0M735.4 416.9h0M735.8 418.3h0M735.9 419.3h0M738.6 416.7h0M739.9 417.4h0M740.6 414.9h0M743.8 414.6h0M744.4 415.7h0M744.6 414.4h0M745.1 415.7h0M745.3 414h0M746.7 416.1h0M747.3 414.7h0M748.7 414.9h0M748.8 416.7h0M749.5 415.1h0M750.2 412.3h0M750.8 415.8h0M751.1 419.1h0M751.2 414.7h0M751.3 416.4h0M752.5 416.5h0M752.7 417.8h0M753.2 417.2h0M753.4 415.6h0M753.7 414.5h0M753.7 415.8h0M753.9 417h0M754.1 414.8h0M754.2 418.6h0M754.3 416.1h0M756 417.5h0M762.4 312.2h0M763.8 420.2h0M764.1 419.6h0M765.3 421.7h0M765.9 422h0M766 419h0M766.6 418h0M767.2 417.8h0M768.7 419.6h0M768.8 420.7h0M769.7 421.9h0M770.1 420h0M771 421.3h0M771.7 419.6h0M771.9 420.1h0M772.4 419.9h0M772.8 417.8h0M773.5 420.4h0M774.2 421.2h0M776.3 416h0M777.3 420.2h0M778.4 418.5h0M778.6 418.6h0M779.1 422.2h0M780 416.2h0M781.9 417h0M783.5 417h0M783.6 419.7h0M785.1 417.1h0M785.4 419.1h0M785.7 417.4h0M786 415.7h0M786.5 418.7h0M786.8 418.1h0M787 416.8h0M787.3 417.8h0M790.1 415.5h0M791.4 416.9h0M791.8 418h0M792 417h0M793.4 415.6h0M794 416.3h0M794.5 414h0M794.9 417.5h0M796.9 416.1h0M796.9 418.3h0M797.7 413.9h0M798.5 415.2h0M798.6 418.3h0M798.8 418.1h0M800.6 410.3h0M801.1 394.4h0M802 371.5h0M802.1 366.9h0M802.2 360.9h0M802.5 355.1h0M802.5 352.1h0M802.8 347.7h0M803.4 347.7h0M844.4 419.1h0M844.5 415.2h0M844.9 390.2h0M846.2 183.8h0M848.2 95h0M848.3 91.6h0M849.7 202.3h0M850.9 393.6h0M852.2 417h0M852.5 420.6h0M853.7 418h0M854.5 418.1h0M854.8 419.4h0M854.9 417.6h0M856.8 422.1h0M857.2 418.3h0M857.3 422.7h0M857.6 422.3h0M858.1 419.6h0M859.5 420.7h0M859.7 419.4h0M860.1 418.6h0M862.5 420.3h0M862.8 419.4h0M863.4 422h0M865.3 420.2h0M867 419.8h0M867.7 417.8h0M868.5 422.9h0M869.9 418.5h0M870.4 415.8h0M870.6 417.9h0M872.9 413.2h0M875.4 415.7h0M875.6 417.5h0M875.7 417.8h0M875.9 416.9h0M878.2 418.1h0M879.4 418.4h0M880.4 415.6h0M880.9 415.2h0M881.4 413h0M881.9 416h0M882.6 414.1h0M882.9 412.6h0M883.1 416.6h0M884 413.8h0M884 415.3h0M884.6 415.9h0M885.4 415.7h0M886.1 412.4h0M886.4 413.2h0M886.5 413.5h0M888.5 412.8h0M888.7 403.5h0M889.2 392.7h0M889.3 389.3h0M889.4 385.1h0M889.6 378.3h0M890.3 355.3h0M891 351.9h0M892 353.1h0M892.2 349.8h0M892.6 353.5h0M894.1 385.1h0M895 411.8h0M895.5 418.2h0M896.3 417.6h0M897 417.3h0M897.1 417.9h0M897.3 415.8h0M898 419.5h0M898.4 417.8h0M899.1 420.4h0M899.4 417.9h0M900 419.7h0M900.2 415.2h0M900.9 416.7h0M901.3 417.6h0M902.1 418.2h0M902.4 415.7h0M903.1 416h0M903.6 418.8h0M904.2 417.9h0M904.3 416.1h0M905.7 418.5h0M906.9 418.3h0M908 418.6h0M908.2 415.4h0M909.9 417.4h0M910 415.7h0M910 418.3h0M910.3 416.9h0M911.4 412.3h0M911.6 414.6h0M911.9 418.2h0M912.3 417h0M912.5 416.2h0M913.4 415h0M913.5 418.3h0M913.8 416h0M914.9 414.8h0M917 415.9h0M918.2 416.8h0M918.7 415.6h0M918.8 414.2h0M919.2 413.5h0M920.6 415h0M921.3 416.9h0M921.6 413.2h0M923.7 418.6h0M924.2 414h0M924.5 413.6h0M924.8 415.1h0M925 417.6h0M925.4 419.1h0M926.2 420.1h0M926.8 414.1h0M927 414.3h0M927.4 415.8h0M930.3 411.4h0M930.6 415.7h0M931.9 415.4h0M932.1 414.3h0M932.3 417.4h0M933.7 252.7h0M934.9 105.2h0M935.2 103.3h0M935.4 92.9h0M936.6 104.7h0M938.1 300.9h0M938.3 340.4h0M938.5 365.2h0M939.3 419.6h0M940.7 416.3h0M941.1 417.5h0M942.9 417.3h0M944.5 420.5h0M944.6 419.9h0M945.1 418.8h0M945.6 419h0M946.1 418h0M946.2 419.1h0M946.5 418.9h0M946.8 420.7h0M947.2 420.4h0M947.6 420.7h0M948.6 421.1h0M948.7 417.5h0M948.9 419.5h0M949.1 422.4h0M949.9 423.8h0M950.2 417.3h0M950.8 421.4h0M950.9 423.9h0M951.8 419.8h0M953 420.7h0M954 420.1h0M954.4 419.2h0M954.9 416.7h0M955.1 419.7h0M956.3 417.7h0M956.8 420.8h0M957 415.7h0M957.2 417.7h0M957.4 419.8h0M958.9 416.9h0M959.2 417.5h0M960.9 417.8h0M961.1 414.6h0M961.3 416.9h0M961.9 415.9h0M962.1 415.7h0M963 415.6h0M965.1 417.4h0M965.5 416.6h0M966.8 416.3h0M967.3 413.4h0M967.6 413.8h0M968.7 414h0M968.8 415.2h0M971.8 414.4h0M971.9 415.7h0M972 411.8h0M973.2 413.6h0M973.7 414.3h0M973.7 412.2h0M974.8 412h0M976.3 410.6h0M976.8 394h0M977.9 361.2h0M977.9 357.2h0M978.2 350.2h0M980 348.4h0M981.4 365.1h0M981.7 369.3h0M981.8 376.5h0M982.5 394.1h0M983 411.6h0M983.6 418.5h0M984.8 418h0M986.8 415.4h0M987.4 418.3h0M987.5 416.7h0M987.7 418h0M988 417.4h0M988.6 419h0M989.8 418.6h0M989.9 416.1h0M990.5 417.7h0M990.6 419.2h0M991.1 417.2h0M993.4 417.1h0M994 417.8h0M994.2 416.4h0M994.5 422.3h0M994.9 417.3h0M995.9 417.6h0M996.4 418h0M996.7 415.8h0M996.8 420.4h0M997.2 415.8h0M997.9 415.2h0M998.4 417.8h0M999.7 417.1h0M1000.1 417.2h0M1000.4 413.6h0M1000.7 415.2h0M1001.8 416.5h0M1002.5 413.1h0M1002.6 418.4h0M1002.8 416.9h0M1004 416.2h0M1004.6 419.3h0M1005 416.9h0M1007.8 415.2h0M1008.2 416.9h0M1008.9 416h0M1009.6 413h0M1009.6 413.5h0M1010.7 415.8h0M1011.4 414.4h0M1012.4 414.5h0M1013.4 413.9h0M1013.5 417.7h0M1015.2 411.3h0M1015.8 412.7h0M1016.1 414.7h0M1017.2 413h0M1017.3 412.2h0M1017.6 416.9h0M1019 412.9h0M1020.1 410.5h0M1021.3 287.1h0M1021.6 247.4h0M1023.2 92.6h0M1023.4 92.8h0M1023.9 95.6h0M1024.7 113.5h0M1025.3 180.8h0M1026.1 327h0M1026.7 395.3h0M1027.1 417.6h0M1029 418.9h0M1029.4 417.5h0M1029.8 417.4h0M1029.9 418.9h0M1031.3 421.3h0M1031.8 424.3h0M1032.1 418.2h0M1033.2 421.9h0M1034.5 418.8h0M1035 418.1h0M1037 422.1h0M1038.1 421.3h0M1038.2 421.2h0M1038.7 421.7h0M1040.3 422.2h0M1040.8 420.6h0M1041.7 420.3h0M1042.4 417.8h0M1042.5 418.7h0M1042.8 419.9h0M1042.9 419.3h0M1043.4 417.2h0M1043.5 419.8h0M1044.7 418.9h0M1045.8 418.4h0M1046 421.2h0M1046.1 417.8h0M1046.3 417.3h0M1046.6 418.6h0M1047.2 420.6h0M1047.3 415.8h0M1050 417.3h0M1050.1 418.8h0M1050.3 415.2h0M1051.4 416.2h0M1054.3 415.2h0M1055.8 416.8h0M1056 414.3h0M1056.4 416.7h0M1057 415h0M1057 414h0M1057.6 414.1h0M1058.1 418.4h0M1058.5 412h0M1059.2 416.5h0M1059.5 415.4h0M1060.4 416.7h0M1060.5 413.4h0M1060.6 413.2h0M1060.7 415.4h0M1060.7 413.3h0M1060.9 413.4h0M1061.8 417.3h0M1061.9 414.9h0M1061.9 414h0M1063.4 414.7h0M1063.5 413h0M1063.8 415.5h0M1064 416.2h0M1064.7 393.9h0M1065.2 378.9h0M1065.3 377.4h0M1065.8 359.9h0M1066 348.7h0M1066.6 349.7h0M1066.9 349.8h0M1067.9 345.5h0M1068.1 349.7h0M1068.6 343.5h0M1068.6 348.1h0M1068.7 348.2h0M1068.8 347.6h0M1069.1 348.2h0M1072.5 415h0M1073.4 412.6h0M1073.7 414.9h0M1073.9 418.9h0M1075.5 412.7h0M1076.5 415.6h0M1077 413.6h0M1077.8 415.9h0M1077.9 416.9h0M1078.7 416.1h0M1079.1 415.7h0M1079.2 414h0M1081.1 416.9h0M1083.4 415.7h0M1083.8 416.5h0M1085.7 417.8h0M1086.2 419.7h0M1087.1 418.9h0M1088.1 416.2h0M1088.4 416.5h0M1088.5 415.5h0M1088.8 417.9h0M1089 414.3h0M1089 416.5h0M1089.1 415.2h0M1090.9 419.4h0M1091 415.8h0M1092 421.2h0M1092.1 417.8h0M1092.7 415.6h0M1093.2 416.5h0M1094.1 416.5h0M1094.1 418h0M1096.1 419.1h0M1096.1 416.2h0M1096.3 418.6h0M1096.9 416h0M1097.5 415.8h0M1098.2 418.1h0M1098.5 416.1h0M1098.7 413.5h0M1099.7 420.4h0M1099.9 415.8h0M1100.9 416.3h0M1101.4 413.4h0M1101.8 417.4h0M1102.1 415.7h0M1104 416.2h0M1104.5 417.5h0M1105.5 412.3h0M1106.3 415.2h0M1106.4 414.1h0M1106.5 417.3h0M1106.8 415.7h0M1107 420.4h0M1107.2 415.2h0M1107.7 417.1h0M1107.9 414h0M1108.4 393.4h0M1110.2 122.3h0M1110.3 118h0M1112 99.7h0M1112.1 96.2h0M1112.7 115h0M1113.4 227.7h0M1114 338.6h0M1114.3 373.5h0M1114.4 377.9h0M1114.5 398.5h0M1114.6 401.9h0M1114.8 410.3h0M1115.3 415.6h0M1117.4 416.1h0M1118.5 417.9h0M1122.2 420h0M1122.8 421.9h0M1124.3 421h0M1124.7 418.5h0M1125.1 420.9h0M1126.5 420.5h0M1127.9 419.7h0M1128 420.9h0M1128.3 421.3h0M1130.3 418.4h0M1131.3 421.2h0M1133.1 419h0M1135.2 419.2h0M1135.5 418.8h0M1135.8 420.4h0M1136 420h0M1136.2 419.6h0M1136.9 420.1h0M1136.9 420.8h0M1138 416.1h0M1138.6 417.5h0M1140.2 419.5h0M1141.9 416.2h0M1142 418.7h0M1142.3 416.8h0M1142.7 421.2h0M1143.1 417.2h0M1143.3 415.6h0M1143.6 416.6h0M1146.2 416.8h0M1148.4 419.8h0M1148.9 417.8h0M1149.2 415.7h0M1149.7 418.9h0M1150 418.8h0M1150.1 417.3h0M1150.6 417.6h0M1150.8 417.9h0M1151.1 415.8h0M1151.2 417.9h0M1151.9 419.2h0M1152.8 391.6h0M1153.5 368.4h0M1153.6 358.3h0M1153.7 360.2h0M1154.2 349.9h0M1154.9 349.4h0M1155.5 350.5h0M1156.3 349.5h0M1157.8 389.5h0M1158.4 399.6h0M1159.8 417.8h0M1160.5 415.2h0M1161.7 417.7h0M1161.8 416.9h0M1162.4 418.4h0M1163.1 419.2h0M1163.7 415.4h0M1164.9 417.2h0M1165.5 418h0M1166.4 416.6h0M1166.9 418.5h0M1167.6 421.4h0M1170.4 417h0M1170.5 417h0M1171.2 416.4h0M1171.5 416.6h0M1172.2 418h0M1172.5 419.2h0M1172.9 421.1h0M1173.6 416.1h0M1175.9 415h0M1178.3 419.4h0M1178.8 417.3h0M1178.8 417.3h0M1179.5 418.4h0M1179.7 415.8h0M1180.2 418.6h0M1182.3 414.1h0M1183.2 417.3h0M1184.5 413.2h0M1184.6 417.1h0M1186.9 414.2h0M1188.5 418h0M1188.6 417.4h0M1189.2 421.5h0M1189.2 416.4h0M1189.6 415.1h0M1190.4 416.6h0M1190.4 415.6h0M1190.5 416.8h0M1191.1 416.5h0M1192.3 416.6h0M1192.4 415.8h0M1193 418.1h0M1194.1 415.4h0M1194.7 417.4h0M1194.8 416.9h0M1195.5 416h0M1195.7 418.9h0M1195.9 414.3h0M1195.9 410.9h0M1197.5 210.2h0M1198.5 100h0M1198.6 96.4h0M1198.6 93h0M1199 88.6h0M1199.2 92.7h0M1200.3 100.6h0M1200.4 113.5h0M1202 360.2h0M1202.8 419.5h0M1205.1 414h0M1205.6 416.2h0M1206.6 419.5h0M1207 420.4h0M1208.2 419.7h0M1208.5 417h0M1210.1 418.4h0M1210.6 415.5h0M1210.9 418.5h0M1211.8 421.2h0M1212.4 419.7h0M1212.6 418.1h0M1213 422.1h0M1213.5 419.1h0M1214.7 422.8h0M1214.7 421.1h0M1214.8 418.6h0M1214.9 423.4h0M1215.2 419.8h0M1215.6 422.7h0M1216.6 421.1h0M1216.8 420.3h0M1218 420.9h0M1219.7 418.2h0M1220 422h0M1220.1 420h0M1221.1 420.2h0M1221.9 417.8h0M1223.6 420.8h0M1224.2 418.3h0M1225.6 416.9h0M1226.1 417.8h0M1226.2 420.1h0M1227 419.8h0M1227.3 416.7h0M1227.7 422h0M1228 418.9h0M1230.5 417.7h0M1231 420.3h0M1231.6 415.8h0M1231.8 418.8h0M1232.1 416.9h0M1233.4 418.8h0M1233.5 422.3h0M1235.2 416.2h0M1235.3 417.6h0M1235.5 416.8h0M1236 420.1h0M1236.1 419.6h0M1236.7 419.9h0M1239.9 412.4h0M1240.3 396.3h0M1242.2 354.6h0M1244.2 352.8h0M1244.4 353.5h0M1244.9 359.9h0M1246.4 411.5h0M1246.8 417.5h0M1247.5 418.5h0M1248.3 415h0M1249.4 418.6h0M1250.1 418.2h0M1250.7 414.3h0M1250.8 417.6h0M1251.7 417.1h0M1252.1 415.9h0M1252.5 415.2h0M1252.7 417.7h0M1254.5 416.8h0M1255.1 415.9h0M1255.2 418.4h0M1255.3 417.4h0M1255.6 415.1h0M1255.7 417.9h0M1256.3 415.6h0M1257 418.5h0M1257.6 416.8h0M1259.4 417.5h0M1262.3 418.9h0M1262.4 416.5h0M1262.8 417.6h0M1263.1 415.1h0M1264.2 417h0M1266.2 418h0M1266.4 417.5h0M1267.3 418.3h0M1268 420.1h0M1268.6 415.5h0M1269.8 415.6h0M1270.3 417.2h0M1270.9 416.1h0M1271.2 419.1h0M1271.3 418h0M1271.5 416.6h0M1274.3 416.6h0M1274.9 417.2h0M1275.4 419.1h0M1276.3 416.2h0M1277 418.6h0M1278.5 419.3h0M1278.6 415.4h0M1279.7 417h0M1279.9 417.9h0M1280.6 414.6h0M1280.8 418.9h0M1281.6 414.6h0M1282 415.1h0M1282.7 417.5h0M1283.5 418.4h0M1284.4 368.7h0M1284.6 330h0M1284.7 323.1h0M1286 106.9h0M1287.1 94.7h0M1287.9 94.5h0M1288.4 122.7h0M1289.8 354.4h0M1290 379.2h0M1290.2 392.2h0M1291.6 416.7h0M1292.8 417.3h0M1293.4 420.2h0M1293.8 418.7h0M1294.3 417.8h0M1294.6 414.8h0M1294.8 417.4h0M1295.2 420.3h0M1295.3 416.7h0M1295.8 416.5h0M1295.8 416.3h0M1296.2 419.5h0M1296.4 417h0M1297.6 420.6h0M1299.2 417.7h0M1300 418.8h0M1300.1 420.4h0M1300.9 419.1h0M1301.8 419.7h0M1302.5 420.1h0M1302.7 421.3h0M1303.8 421.5h0M1305 419.3h0M1305.2 420.9h0M1306.2 420.5h0M1309.5 418.7h0M1309.6 415h0M1309.9 418.2h0M1310.6 419.5h0M1311.1 418.2h0M1313.2 419.4h0M1315 417.5h0M1315.8 418.9h0M1316.1 418.9h0M1316.4 416.6h0M1316.6 417.7h0M1316.8 415.1h0M1318.5 420.2h0M1319.1 418.8h0M1320 415.8h0M1320.2 418h0M1321.4 417.5h0M1322.1 416h0M1322.5 417.7h0M1324.3 415.6h0M1324.4 419h0M1326.9 415.5h0M1327.1 415.4h0M1327.2 415.5h0M1327.5 419h0M1329.6 347.8h0M1330.1 347.5h0M1331.2 348.4h0M1331.2 350.6h0M1331.5 347.5h0M1332.4 347.5h0M1332.5 346.6h0M1332.7 354.7h0M1333.9 393h0M1334.8 417.3h0M1334.8 416.9h0M1334.9 414.6h0M1335.5 417.4h0M1335.6 415.7h0M1337.4 418.1h0M1337.8 413.7h0M1338.5 415.3h0M1338.9 416.9h0M1340.4 415.4h0M1340.9 417.8h0M1341.6 420.1h0M1342 417.5h0M1343 420.7h0M1344.1 417.2h0M1344.9 417.5h0M1345 419.1h0M1345.4 417h0M1346.7 416.9h0M1347.5 421.8h0M1348.5 417.6h0M1348.9 418h0M1348.9 417.1h0M1349.2 416.5h0M1349.4 414.9h0M1349.5 417.7h0M1350 417.9h0M1350.4 421h0M1350.9 417.7h0M1351 417.6h0M1351.3 417h0M1351.5 416.2h0M1351.7 417.4h0M1352.1 417.4h0M1352.3 417.5h0M1353 418.8h0M1353.8 416.5h0M1354 416.3h0M1354.8 418.3h0M1354.9 416.3h0M1355.9 415.1h0M1356.3 418.8h0M1356.5 416.5h0M1356.6 417.9h0M1356.6 419.5h0M1358 416h0M1358.7 416.6h0M1359.4 415.1h0M1359.9 413h0M1361.4 418.8h0M1361.5 417h0M1361.6 416.8h0M1363.3 416.2h0M1364 417.4h0M1364.3 415.5h0M1364.9 416.3h0M1365 414.4h0M1365.6 414h0M1365.8 416.7h0M1365.9 416.4h0M1366.2 415.1h0M1367.3 414.3h0M1368.5 418h0M1368.9 416.7h0M1369 415.4h0M1370.5 417.2h0M1371.5 414.4h0M1372.5 326.3h0M1373.3 178.6h0M1374.9 89.9h0M1376.1 106.6h0M1377.7 357.4h0M1377.8 373.5h0M1378.4 418h0M1378.6 421.4h0M1378.9 419.6h0M1378.9 418.6h0M1379.1 421h0M1380.6 416.7h0M1380.7 419.1h0M1380.8 418.3h0M1382.1 416.7h0M1382.6 417.8h0M1383 419h0M1383.4 419.5h0M1383.8 418.8h0"/>
<path d="M257.4 415.8h0M257.5 419.9h0M257.6 419.5h0M258.1 417.7h0M258.2 419h0M258.4 416.5h0M258.8 418h0M259.4 420.1h0M262.6 418.6h0M264 417.7h0M264.2 417.3h0M264.7 417.6h0M265.7 420.7h0M265.7 417h0M266.3 417.3h0M266.9 416h0M267 417.7h0M267.8 417.8h0M268.2 416.6h0M270.1 417h0M271.3 415.8h0M271.7 420.1h0M271.8 416.7h0M272.5 414.9h0M272.9 415.8h0M277.3 349.6h0M277.5 353.1h0M277.5 347.9h0M277.8 351.4h0M278.2 354.5h0M278.2 353.7h0M278.7 361.6h0M279 375.3h0M279.2 384.1h0M279.2 387.3h0M279.5 391.3h0M279.8 397.4h0M282 414.2h0M282.9 414.7h0M283.2 415.6h0M283.3 416h0M285.4 417.8h0M285.6 415.6h0M286 412.5h0M286.2 416.8h0M286.6 416.6h0M286.8 415.2h0M286.9 416.6h0M287.2 416.6h0M290.1 418.9h0M290.2 416.7h0M290.5 413h0M290.6 414.1h0M290.9 418.3h0M291 417.4h0M291.5 417.4h0M292.7 416.4h0M292.9 418.1h0M293.1 418.2h0M293.5 415.4h0M295 419.5h0M295.6 413.3h0M297 413.9h0M297.5 416.3h0M298.4 412.7h0M299.1 416h0M299.2 416.6h0M300.7 416.6h0M301.1 414.1h0M301.3 415.5h0M302.3 415.5h0M302.7 415.5h0M302.8 417.7h0M303.1 415.5h0M303.6 415h0M304.2 414.7h0M305.8 414.3h0M306.1 415.9h0M307.1 410.9h0M307.3 415.4h0M307.7 416.3h0M308.5 414.2h0M308.9 412.8h0M309.2 414.4h0M309.5 416h0M311.4 412.8h0M312.2 415.3h0M313.5 414.9h0M314.4 412.9h0M314.7 412h0M314.7 411.4h0M315.3 419.2h0M315.4 417.8h0M316.1 411.6h0M316.4 413.5h0M317.3 413.3h0M317.8 384.6h0M319.2 164.2h0M320.4 93.8h0M320.6 93h0M322.7 224.1h0M323.7 376.8h0M324.9 414.7h0M325.7 413.6h0M326.1 415.1h0M327.4 417.4h0M327.9 415.7h0M328 414.5h0M328.5 417.8h0M329.6 415.7h0M329.8 417.1h0M330.1 419.4h0M331.2 418.2h0M331.8 417.6h0M331.9 419.5h0M332.9 416.9h0M333 419.6h0M334.2 419.6h0M334.4 416.2h0M334.7 422.1h0M336.2 422.5h0M337.6 419.8h0M338.1 418.2h0M338.4 420.6h0M338.8 419.5h0M338.9 419.8h0M340 419.5h0M340.5 420h0M341 420.5h0M342.4 418.1h0M343.3 423.3h0M343.9 417.4h0M344.1 419.6h0M344.4 422h0M344.9 420h0M345.9 419.1h0M346 420.5h0M348 416.4h0M349.1 420.5h0M350.2 417.6h0M350.5 418h0M350.6 418.2h0M350.6 419.3h0M351.8 424.1h0M352.8 416.4h0M354.2 418.8h0M355.1 415.6h0M355.9 415.5h0M356.5 412.5h0M357.2 414.8h0M357.7 418.2h0M358.3 416.6h0M358.6 414.7h0M359.1 416.1h0M361.6 404.5h0M365.4 351.9h0M365.5 350.9h0M366.1 351.6h0M366.6 366.8h0M367.1 387.1h0M367.2 387.2h0M368.3 417.3h0M369.7 415.6h0M370.7 416.4h0M371.9 417.2h0M372.1 419.3h0M372.2 419.7h0M372.2 418.4h0M373.4 419.3h0M373.6 417.7h0M374.3 418.2h0M374.4 416.9h0M374.6 421.7h0M375.4 419h0M376.8 415.7h0M378.1 416.5h0M378.2 417.1h0M378.3 415.8h0M378.8 416.5h0M379.6 413.3h0M380.5 416.5h0M381.3 417h0M381.4 415.6h0M382.2 412.4h0M382.7 420.4h0M383.9 417.5h0M384.3 416.1h0M384.4 415.2h0M385.7 418.4h0M385.9 415h0M386 414.4h0M386.9 415.3h0M387.5 416.1h0M388.4 415.2h0M389.3 413.5h0M390.3 412.9h0M390.8 410.4h0M391.5 414.2h0M391.9 418.5h0M392.4 414.4h0M393.8 414.8h0M394.9 412.3h0M395.2 414.9h0M395.9 414.1h0M397.5 413.8h0M398 414.9h0M398.6 414.3h0M398.8 411.1h0M399.2 414.4h0M400.3 413.1h0M400.5 415h0M401.9 412.3h0M402.5 414.6h0M403.4 415.9h0M403.7 413.2h0M404.1 418.3h0M405.3 408.3h0M405.7 382.6h0M406.6 247.7h0M407.8 104.2h0M408.2 95.3h0M409.6 105h0M410.3 177.1h0M410.9 296.2h0M412.3 417.9h0M412.9 418.9h0M414.2 416.1h0M414.9 416.6h0M415.2 420.3h0M416.4 418.3h0M417.2 419.6h0M418.1 418.1h0M418.7 422.8h0M418.9 419.2h0M419 421.1h0M419.2 420.6h0M421.1 422.9h0M421.7 424.5h0M422.5 419.2h0M424.8 420.1h0M425.4 420.1h0M425.6 421.8h0M427.1 419.5h0M427.1 420.8h0M428 424.1h0M429.7 422.6h0M430.2 419.4h0M430.8 418.3h0M431.2 418.5h0M431.6 419.6h0M432.4 419.7h0M433.5 422.4h0M433.9 419.9h0M435 419.8h0M435.6 420.5h0M437.3 418.1h0M437.6 420.6h0M437.9 417.1h0M438.5 417.6h0M438.7 420.9h0M438.8 417.4h0M440 423.4h0M440.2 419.4h0M441 417.9h0M441.2 419h0M441.3 422.7h0M442 418.9h0M442.1 420.4h0M444.9 419.3h0M444.9 415.6h0M445.2 416.5h0M445.4 418.5h0M446 418.3h0M446.9 417.4h0M447.6 421.1h0M448.5 418.8h0M448.7 419.8h0M450.3 381.2h0M450.7 369.8h0M451.9 349.6h0M452.2 350.6h0M452.3 348.3h0M452.7 352.8h0M454.4 362.5h0M455.9 414.9h0M456.9 420.9h0M457 416.7h0M458 422h0M458.1 420.4h0M458.4 420.7h0M458.6 419.8h0M459.5 416.8h0M459.8 418.5h0M459.8 419.1h0M459.9 417.6h0M460.3 421.1h0M461.7 419.3h0M462.2 416.1h0M463.3 421.1h0M463.6 422.6h0M465.1 417.6h0M465.6 418h0M465.7 418.3h0M466.5 416.6h0M467.4 419.5h0M467.8 417.7h0M469.1 416.5h0M469.6 415.4h0M470.2 415.3h0M470.3 414.4h0M471.2 418h0M472.3 414.3h0M473 416.5h0M474.2 413.2h0M475.4 416.6h0M476 415.8h0M476 416.6h0M476.7 415h0M478 415.6h0M478.1 417h0M478.5 424.6h0M478.7 414h0M479 412.2h0M479.3 412.3h0M480.9 414.1h0M481.2 417.8h0M481.9 415.4h0M482.6 414h0M483.9 415.9h0M484.5 411.7h0M484.9 414.9h0M485 413.1h0M486.9 413.1h0M490.4 411.5h0M490.8 417.9h0M491 410.9h0M491.3 413h0M491.9 410.7h0M492 413.5h0M492.4 414.5h0M492.5 413.1h0M494.4 261h0M495.5 104.3h0M496 92h0M496.2 93.2h0M496.3 97.3h0M497.8 136.5h0M498.7 282.6h0M498.8 299.7h0M499.5 385.3h0M500.3 419.2h0M501.3 418h0M501.6 424.7h0M503.3 417.3h0M504.9 418.4h0M506 419.8h0M507.7 419.5h0M507.8 418.1h0M508.7 420.2h0M509.6 418.8h0M509.7 418h0M510.5 417.4h0M511.6 419.6h0M511.8 420.4h0M511.9 419.6h0M512.1 420.5h0M512.3 418.9h0M513.9 418.2h0M514.4 418.1h0M515.4 419.1h0M515.9 418.5h0M516.1 418h0M516.7 421.3h0M517 419h0M517.5 421.6h0M517.9 423.1h0M518.5 420.7h0M520.2 418.8h0M520.9 419.7h0M521.4 419.8h0M522.5 417.3h0M522.8 419h0M523.7 417.5h0M523.7 415.5h0M528.7 416.4h0M529.1 416.9h0M530 418.2h0M531.2 414.8h0M533 418.9h0M534.1 415.7h0M534.6 414.1h0M535.3 416.6h0M536.6 413.5h0M537.2 410h0M537.9 384.6h0M538.7 361.3h0M538.9 354.7h0M539.3 352.1h0M539.3 349.1h0M539.6 349.3h0M539.8 348.7h0M541.5 348.6h0M541.7 350.2h0M542.1 357.4h0M542.4 369.4h0M543.2 393.3h0M545 419.6h0M545.4 417.3h0M546 420.7h0M546.3 419.7h0M548 416h0M549 417.7h0M549.7 419.2h0M549.8 417.6h0M551.2 418h0M552.5 421h0M553.6 419.8h0M553.8 419.3h0M555.2 417h0M555.5 420.1h0M555.9 417.2h0M557.6 418.3h0M559.2 415.6h0M559.3 417.8h0M562.1 420h0M562.8 418.7h0M564.2 417.7h0M564.7 418.9h0M565.3 418.8h0M565.6 416h0M566.1 414.4h0M566.4 416h0M567.2 414h0M567.2 413.5h0M571 413.8h0M571.1 415.3h0M571.4 412.3h0M573.1 414.9h0M573.5 412.7h0M573.8 415.3h0M574.7 414.4h0M575.2 413.6h0M575.9 416.1h0M576.3 413.5h0M577 411.2h0M577.2 417h0M577.4 413.6h0M577.4 414.6h0M577.6 414.7h0M578.1 415.4h0M579 415.5h0M579.3 414.7h0M580 416h0M580.3 418.2h0M580.9 411.3h0M581.7 348.7h0M582.9 153.3h0M584.9 95h0M587.5 397.5h0M588.1 417.7h0M588.2 416.2h0M588.5 417.2h0M588.6 415.6h0M588.9 420.1h0M589.9 415.9h0M590.8 417.2h0M592.2 420h0M592.8 418.9h0M593 419.6h0M593.5 418.2h0M593.8 419.9h0M593.9 417.4h0M596 421.2h0M596.7 422.9h0M597.9 422.8h0M599.5 417.2h0M600.1 419.6h0M600.5 419.6h0M601.5 418.7h0M602.4 422.3h0M602.7 418h0M602.7 416.6h0M603.1 417.7h0M605.4 417.4h0M607.3 417.8h0M607.5 419h0M607.9 414.8h0M608.7 418h0M609.1 414.7h0M609.2 417.7h0M610.2 418.1h0M611.5 416.3h0M611.8 413.1h0M612.3 417.6h0M613.7 420.2h0M615.1 415h0M615.9 413.7h0M616.6 413.7h0M617.1 415.8h0M617.8 416.3h0M617.8 415h0M618.4 416.1h0M618.8 416.1h0M619 417.4h0M620.6 413.5h0M621.9 414.3h0M624.8 416h0M625.2 398.6h0M625.3 396.7h0M625.7 387.9h0M626.9 350.9h0M627 350.2h0M627.2 346.8h0M629 346.1h0M629.8 352.4h0M631.7 412.1h0M634 418.1h0M634.3 415.9h0M635.3 416.2h0M636.2 418.6h0M636.5 417h0M636.9 417.3h0M638.1 414.5h0M638.1 420.6h0M638.2 420.4h0M639 419.1h0M639.6 419h0M641.3 418.4h0M641.5 417.7h0M642.2 418h0M642.4 420.9h0M642.5 420h0M642.9 418h0M643.5 418.7h0M643.9 417.2h0M646.3 416.8h0M646.5 416.2h0M647 420.1h0M647.7 415.7h0M648.3 415.6h0M648.5 416.9h0M649.1 415.5h0M652.2 417.8h0M652.5 419.2h0M652.6 417.4h0M652.8 415.7h0M652.9 414.9h0M653.2 414.8h0M654.2 417.3h0M654.5 415.9h0M655.2 415h0M656.4 415.1h0M656.7 415.2h0M658.5 414.5h0M658.9 417h0M659.3 414.5h0M659.5 414.8h0M660.1 414.2h0M660.6 416.9h0M661 412.3h0M661.6 415h0M662.5 416.2h0M662.6 416.6h0M662.8 415.9h0M663.8 413h0M664.2 413.4h0M664.3 414.6h0M664.9 416.4h0M667.3 414h0M668.4 412.9h0M668.8 407.6h0M669.4 365h0M670.8 142h0M671.6 100.6h0M672.3 96h0M673.9 189.1h0M674.6 314.6h0M675.6 413.8h0M675.7 415h0M676.4 415h0M676.7 417.6h0M677.5 418.4h0M677.6 418.3h0M677.7 416.4h0M677.8 415.5h0M678.4 418.6h0M679.3 419h0M679.3 417.1h0M679.4 415.5h0M679.6 419.4h0M680.1 420h0M680.4 416h0M680.6 422.2h0M680.7 416.4h0M680.8 420.4h0M680.9 416.2h0M681 417.7h0M681.6 418.5h0M682.4 424h0M682.5 418.4h0M682.6 419.1h0M682.7 415.6h0M683 419.1h0M683 417.9h0M684.7 419.9h0M685.2 419.5h0M685.3 421.1h0M685.5 420h0M686.8 417.9h0M688.1 420.3h0M688.2 421.3h0M688.3 418.7h0M689.3 420.3h0M690 418.8h0M690.2 418.3h0M690.7 417.3h0M691.2 417.6h0M692.7 418.7h0M693 416.7h0M693.1 419.1h0M693.3 418.9h0M693.6 416.9h0M694.3 419.3h0M694.9 418.4h0M696.2 418.5h0M697.8 417.5h0M697.8 420.5h0M698 417.9h0M699.1 413.8h0M699.8 412.6h0M699.9 416.1h0M700.9 415.5h0M701.1 413.6h0M701.3 420.8h0M701.5 414.3h0M702.6 412.3h0M702.9 415.2h0M704.5 417h0M705.2 415.8h0M706.1 415.3h0M706.6 413.6h0M708.2 417.3h0M709 416.5h0M709.6 412.9h0M710.4 417.5h0M710.6 414.9h0M710.8 417.1h0M711 416.8h0M712.5 418.4h0M714.8 349h0M715.3 351.9h0M716.5 350.8h0M716.6 350.7h0M716.8 349.3h0M717.1 352.3h0M718 364.3h0M719.2 404.6h0M719.8 418h0M720.9 415.8h0M721.9 415.4h0M722.7 416.7h0M723.3 415.2h0M725.8 417.2h0M726.1 414.2h0M726.4 418.3h0M726.5 415.7h0M726.8 417.8h0M727.2 417.5h0M727.2 416.7h0M727.7 414.9h0M728.8 418.6h0M728.9 416.2h0M730.2 418.2h0M730.7 416.8h0M731.1 417.3h0M732.1 415.8h0M732.3 418.9h0M732.8 416.6h0M733.5 413.7h0M735.1 419h0M735.4 413.6h0M735.7 420.2h0M736.2 416.5h0M736.4 416.7h0M737.5 417.2h0M739.3 415.5h0M739.6 415.7h0M739.9 416.9h0M740.1 412.1h0M741 418.4h0M741.1 418.1h0M741.1 415.7h0M742.5 416h0M743.3 417.5h0M744.5 416.8h0M745.2 414.1h0M745.6 418.9h0M745.9 415.8h0M746.1 415.4h0M746.8 415h0M746.9 415.9h0M747.7 414.4h0M749.1 418.5h0M751.9 414.5h0M752.6 412.1h0M753.4 418.3h0M753.6 413.5h0M754 413.9h0M754.4 414.8h0M754.8 414.9h0M755.9 414.9h0M756.2 416.2h0M757 392.7h0M758.7 139.2h0M760.6 96.8h0M760.7 97.2h0M760.9 98.1h0M762 233.8h0M762.4 299.9h0M762.7 349.7h0M764.2 419.8h0M766 419.5h0M766.1 418.4h0M767.1 422.6h0M767.5 420.5h0M767.5 419.9h0M768 424.5h0M768.7 421.3h0M768.8 423.5h0M768.9 420.4h0M769.5 422.7h0M770.4 421.9h0M771.2 422.1h0M771.4 419.2h0M771.6 419.6h0M772.3 418.3h0M772.6 421.1h0M773 416.8h0M773.7 420.6h0M775.4 418.5h0M775.7 420h0M775.8 420.8h0M776.7 417.3h0M778.5 418.3h0M778.6 421.2h0M779.6 417.4h0M780.7 419.9h0M781.5 417.1h0M782.2 415.5h0M782.5 416.7h0M783.1 418.2h0M783.7 416.5h0M783.9 419.3h0M785.8 415.6h0M787.4 418.9h0M789.1 417.5h0M790.3 418.7h0M790.6 414.4h0M791.3 417.4h0M791.8 416.2h0M792.4 416.1h0M792.7 418h0M793.4 416.4h0M793.5 416.6h0M794.4 420.3h0M796 414.3h0M796.5 415.6h0M796.5 414.6h0M797.5 415.8h0M798.7 419.3h0M801 398h0M801.4 388.6h0M801.6 386.2h0M803.7 350.1h0M845.2 356.9h0M846.3 164.3h0M847 102.6h0M847.2 97.5h0M847.5 90.8h0M848 94.9h0M850.5 342.4h0M850.8 377.5h0M850.9 389.3h0M851.7 417.2h0M852.6 420.6h0M852.8 418.6h0M853.1 419.1h0M853.3 420.8h0M853.9 418.6h0M854.4 419.7h0M855 419.8h0M855.4 417.1h0M857 420h0M857.2 422.4h0M857.4 420.7h0M857.8 417.6h0M858.4 421.2h0M858.5 421.4h0M860.9 421.7h0M862 417.4h0M862 418.1h0M862.6 417.1h0M862.7 421.6h0M862.9 417.8h0M863.2 418.9h0M863.5 420.5h0M863.6 418.2h0M863.8 419.8h0M864.1 417.7h0M864.6 419.1h0M864.9 421.7h0M865 419.7h0M866.6 417.5h0M867.8 418.3h0M868.2 420.1h0M868.7 417.2h0M869 418.6h0M869.8 417.3h0M870.1 419.9h0M870.5 420.2h0M871 415.8h0M871.4 417.1h0M872.5 415.1h0M872.6 418.7h0M874.1 416.3h0M874.2 417.1h0M874.7 418.4h0M874.8 417.1h0M878 417.6h0M879.6 416.5h0M879.6 418.2h0M880.7 415h0M881 413h0M882.6 412.1h0M887 415.9h0M887.3 417h0M887.5 414.6h0M887.7 416.8h0M888 416.7h0M888.4 415.8h0M888.8 399.7h0M890.9 348.5h0M892.5 352.1h0M892.9 350h0M893 353.3h0M893.4 356.3h0M893.4 360.2h0M893.5 359.3h0M894.6 395.7h0M894.9 403.4h0M895.6 416.3h0M895.8 419.3h0M896.3 420.3h0M896.9 416.9h0M898.1 416h0M899.7 416.5h0M901.2 416.8h0M901.4 419.3h0M901.5 417.3h0M901.9 418.5h0M902.5 417.6h0M902.7 416.9h0M903.9 414.8h0M904.4 418.8h0M905.3 418.5h0M905.4 416.3h0M905.7 418.8h0M905.8 419.1h0M906.8 420.1h0M907.4 417.2h0M910.6 414.4h0M910.7 417.6h0M911.3 417.2h0M911.5 417.4h0M911.6 418.5h0M913 417.7h0M914.2 414.9h0M914.3 418h0M914.6 414.6h0M914.6 417.6h0M915.9 417.4h0M916.8 416.3h0M917 416h0M917.7 414.7h0M918 418.8h0M918.3 412.7h0M919 414.7h0M919.1 415.5h0M919.5 414.6h0M919.7 415.1h0M920.3 412.5h0M920.4 413.8h0M920.4 415.1h0M920.9 415h0M922 415h0M922.2 414.9h0M923.7 414.6h0M924.6 415.2h0M925.8 416.6h0M926.1 415.8h0M926.2 413.7h0M926.9 417.8h0M927.2 415.9h0M927.9 413.5h0M928.4 413.6h0M929 413h0M929.1 414.8h0M929.7 412.3h0M929.9 416.4h0M933.2 331.3h0M933.4 302.3h0M933.5 283h0M933.6 275.7h0M933.8 237.9h0M934 189.8h0M934.5 127.7h0M934.5 127.4h0M935.3 102.1h0M935.7 99.9h0M937.3 165.5h0M937.7 225.4h0M938.7 376.7h0M938.8 391.7h0M939.4 415.2h0M940.2 418h0M940.5 415.8h0M940.6 420.3h0M941.4 415.4h0M942 419.6h0M943 418.5h0M944.2 416.4h0M944.4 418.3h0M944.8 416.4h0M944.9 419.4h0M945.7 419.1h0M945.8 421.2h0M946.5 418.8h0M946.9 419.2h0M948.7 420.2h0M949.3 420h0M949.6 423h0M950.1 420.5h0M951.6 419.3h0M952.5 422.4h0M952.7 418.2h0M953.3 419.6h0M953.7 421.1h0M954.1 419.4h0M955.7 417.1h0M956.6 417.4h0M956.7 419h0M956.7 417.1h0M958.3 422.8h0M958.4 416.8h0M958.6 417.9h0M959.8 417.3h0M960.3 418.8h0M961.7 417.3h0M962.1 416.1h0M962.7 417.4h0M963.6 413.4h0M964.1 416.2h0M966.7 416.6h0M967.4 413.5h0M968.3 411.6h0M969.8 413.3h0M970.2 413.8h0M971.8 414.3h0M972.3 411.7h0M972.5 413.5h0M972.8 410.7h0M974 411.9h0M974.4 411.6h0M974.5 412.2h0M975 411.9h0M976.1 410.7h0M977.2 383.3h0M977.3 384.7h0M977.7 366h0M977.8 363.8h0M978.2 348.8h0M978.6 349.1h0M979.4 352.6h0M980.5 353.8h0M981.1 348h0M982.7 401.2h0M982.8 406.5h0M983.6 415.9h0M984.1 415.9h0M984.2 417.6h0M984.3 418.8h0M984.4 412.5h0M984.9 420h0M985 415.5h0M985.2 412.6h0M985.5 416.8h0M985.7 415.7h0M987.1 416.4h0M988.2 418.1h0M989 416h0M989.7 418.4h0M990.3 419.2h0M990.6 417h0M991 415.1h0M992.1 414.4h0M992.6 420.3h0M993.3 419.9h0M994.5 419.3h0M994.8 419.3h0M995.6 417.7h0M995.9 416.9h0M996.1 417.9h0M996.6 420.4h0M997.7 416.6h0M997.9 416.6h0M1001.2 414.9h0M1001.3 418.6h0M1001.6 416.5h0M1002 417.1h0M1003.1 418.8h0M1004 416.8h0M1004.2 415.2h0M1004.6 415.7h0M1005.1 416.9h0M1005.7 414.5h0M1005.8 416.2h0M1006.4 415.5h0M1006.8 416.7h0M1007.9 415.3h0M1008.9 413.1h0M1009 412.4h0M1009.3 419h0M1011 417.1h0M1011.5 413.5h0M1012 415.7h0M1012.1 414.7h0M1012.2 414.7h0M1012.3 416.5h0M1012.9 415.7h0M1014.5 415.5h0M1015.1 415.3h0M1017 413.2h0M1017.7 414.9h0M1019.1 414.8h0M1019.2 413.8h0M1019.8 417.3h0M1020.6 382.8h0M1021.2 308.9h0M1021.5 253h0M1022.6 104.1h0M1023.5 91.6h0M1023.8 94.2h0M1023.9 94.7h0M1024.6 108.6h0M1024.8 118.7h0M1025 135.8h0M1026.5 375.5h0M1026.5 385.8h0M1026.8 403.7h0M1026.8 404.7h0M1027.3 421h0M1028.8 420.1h0M1029.1 418.2h0M1029.4 418.5h0M1029.6 419.6h0M1030.4 421.2h0M1031 421.1h0M1033.6 419.2h0M1033.9 422.7h0M1035.4 421h0M1035.9 421.9h0M1036.3 419.8h0M1037.5 421.7h0M1038.6 419.8h0M1040 419.8h0M1041.3 419.3h0M1041.7 423.3h0M1044.3 415.1h0M1045.5 417.1h0M1045.9 419.5h0M1046.3 419.3h0M1046.5 418.7h0M1048.2 419.9h0M1049.8 415.1h0M1050.5 416h0M1050.8 419.2h0M1052 418.6h0M1052.4 419.1h0M1052.5 418.2h0M1052.5 413.8h0M1052.6 414.8h0M1053.8 418.4h0M1054.1 414.1h0M1054.6 415.5h0M1055.5 414.6h0M1055.7 415.4h0M1056.5 415.1h0M1057.5 416h0M1057.8 412.4h0M1058.3 412.8h0M1059.1 411.7h0M1059.3 413.5h0M1060 417.4h0M1060.3 413.6h0M1061 414.3h0M1061.6 413.7h0M1062 414.8h0M1062.9 411.9h0M1063.3 412.6h0M1063.7 414.4h0M1064.1 412.7h0M1064.1 413.8h0M1064.2 410.5h0M1065.6 363h0M1065.9 356h0M1067.7 346.6h0M1068.7 343.2h0M1070.1 386.4h0M1070.1 388.5h0M1070.8 408.6h0M1070.9 414.3h0M1071.6 415h0M1071.8 415.9h0M1072.1 412.2h0M1072.7 413.7h0M1072.9 415.6h0M1072.9 413.2h0M1074.1 414.5h0M1074.8 412.6h0M1075.4 413.6h0M1076.9 415.1h0M1077.9 416.5h0M1078.8 415.8h0M1079.9 417.9h0M1080.3 413.7h0M1080.4 415.2h0M1081.3 417.5h0M1081.7 415.2h0M1082 414h0M1082.1 412.8h0M1083.2 417.8h0M1083.6 415.4h0M1083.8 418.9h0M1084.4 417.3h0M1084.6 414.8h0M1085.2 416.5h0M1086 414.1h0M1086.3 416.1h0M1086.7 416.8h0M1088 416.1h0M1089.2 418.3h0M1089.3 419.8h0M1090.1 417h0M1090.4 417.5h0M1091.9 416.6h0M1091.9 418.4h0M1092.2 415.7h0M1092.3 417h0M1093.1 419.1h0M1093.6 418.7h0M1093.7 417.1h0M1094.4 418.9h0M1095.1 415.1h0M1095.9 418.6h0M1095.9 418.3h0M1096 417h0M1096.4 414.5h0M1097.5 416.7h0M1098.3 418.1h0M1098.6 414.2h0M1099.3 418.5h0M1101.2 416.9h0M1102.1 414.8h0M1103.2 416.1h0M1104 414.2h0M1105.6 413.6h0M1106.8 419.1h0M1107.5 419h0M1107.8 415.5h0M1108.5 377.6h0M1108.6 373.2h0M1108.6 364.3h0M1109.7 199.9h0M1109.9 156.6h0M1112.3 100.5h0M1112.4 107.1h0M1112.5 109.1h0M1113.1 172.9h0M1113.7 277.6h0M1113.7 294.6h0M1114.9 414.4h0M1115.5 416.7h0M1115.9 418h0M1115.9 417.1h0M1116 415.6h0M1116 416.8h0M1117.7 417.1h0M1118.4 417.2h0M1119.4 414.7h0M1119.8 419.1h0M1119.9 417.2h0M1120.1 419.2h0M1120.2 418.8h0M1120.3 418.7h0M1120.4 419.2h0M1121.3 424.2h0M1121.5 420.4h0M1122 422h0M1122.5 419.8h0M1122.7 419.4h0M1123.9 419.5h0M1124.2 421.8h0M1124.4 420.2h0M1125.3 419.2h0M1125.5 421.2h0M1126.7 420.8h0M1126.8 421.3h0M1127.1 420.9h0M1127.1 419.8h0M1127.2 418.8h0M1127.2 420.2h0M1127.3 423.3h0M1127.8 422.2h0M1128.1 419.3h0M1129.3 419.2h0M1129.9 422.5h0M1130.6 420.6h0M1130.9 419.3h0M1132.1 417.8h0M1132.3 422.4h0M1132.7 419.6h0M1133.4 418.8h0M1133.9 419.3h0M1135 418.3h0M1135.2 420.7h0M1136.1 420.4h0M1138.3 414.9h0M1138.8 419.8h0M1139.8 416h0M1140.1 416.9h0M1141.5 416.9h0M1143.4 417.4h0M1143.9 418.7h0M1144 416.5h0M1144.4 417.2h0M1145 416.8h0M1145 417.7h0M1147.5 417h0M1147.8 419.2h0M1147.9 418.4h0M1149.1 418.7h0M1149.3 415.7h0M1149.4 418.5h0M1150.3 417.6h0M1150.5 420.2h0M1150.7 415h0M1151.1 416.3h0M1154.5 352.3h0M1155.3 353.6h0M1155.4 349.1h0M1155.4 349.4h0M1155.7 352.1h0M1156.1 350.4h0M1157.3 368.4h0M1158.8 420.5h0M1159 417.1h0M1159.2 417.8h0M1160.7 415.8h0M1162.9 418.3h0M1165.2 420.4h0M1166 416.9h0M1166.1 414.6h0M1167.7 417.9h0M1168.6 419.4h0M1168.7 415.5h0M1169.8 421.3h0M1171.6 416.4h0M1171.8 420.3h0M1172.1 413.9h0M1173.3 419.2h0M1173.4 418.1h0M1174.4 418.8h0M1174.6 415.7h0M1174.6 418.4h0M1175 418.9h0M1175.8 420.9h0M1176.3 418.3h0M1176.4 418h0M1176.7 415.5h0M1177 420h0M1177.1 421.7h0M1179.6 416.4h0M1179.8 418.9h0M1180.9 418.6h0M1181.8 417.8h0M1182.1 419h0M1182.9 417.1h0M1184.9 418.2h0M1185.5 417.3h0M1186.7 418.5h0M1187 418h0M1187.1 417h0M1188.1 414.5h0M1188.7 419.1h0M1189.3 418.2h0M1189.9 417.8h0M1190.1 416.6h0M1190.1 418.3h0M1190.5 419.8h0M1190.6 418.8h0M1191.1 415.8h0M1191.8 415.5h0M1191.9 415h0M1192.5 417.6h0M1193.2 418.2h0M1193.4 419.4h0M1194.1 417.9h0M1195 418h0M1195.1 419h0M1195.8 417.3h0M1196.4 377.4h0M1196.6 347.4h0M1197.1 285.8h0M1197.2 266.6h0M1197.9 134.1h0M1198.3 96.9h0M1199.1 92.1h0M1199.2 89.6h0M1199.7 91.3h0M1200.7 130.9h0M1202.1 364.1h0M1204.3 415h0M1206.3 416.1h0M1207.5 419.1h0M1207.5 418.3h0M1208.1 418.6h0M1208.3 417.6h0M1209.4 417.7h0M1209.9 419.7h0M1210.1 419.3h0M1210.8 416.5h0M1212 418.5h0M1212.6 420.4h0M1214.2 421h0M1216.2 420.4h0M1216.9 421.6h0M1217.7 420.3h0M1218.7 421.2h0M1219 418.7h0M1219.4 420.4h0M1219.8 421.2h0M1220.1 421.1h0M1220.2 421.9h0M1220.2 419.5h0M1221 422.2h0M1222.3 419.7h0M1222.9 418.3h0M1223.2 418.2h0M1223.3 417.8h0M1224.3 418.3h0M1224.4 418.8h0M1224.9 417.1h0M1225.1 421.1h0M1225.3 424.6h0M1225.7 420.5h0M1227.8 421h0M1228.4 419.6h0M1228.9 417.2h0M1229 419.4h0M1230.8 418.3h0M1231.4 418.9h0M1231.8 419.7h0M1232.8 419.2h0M1232.8 417.7h0M1234.9 419.5h0M1235 416.1h0M1237.2 419h0M1237.4 418.9h0M1237.7 417.9h0M1239.8 420.4h0M1240.6 391.9h0M1241.5 361.3h0M1241.8 354.1h0M1241.8 357.1h0M1242.3 354.7h0M1243.5 349.3h0M1244.1 355.9h0M1245.3 377.4h0M1245.7 392h0M1246.1 399.2h0M1249 417.7h0M1249.4 419.5h0M1250.6 420.5h0M1252.9 417.7h0M1253.1 418.1h0M1254.1 417.7h0M1254.9 415.4h0M1255.3 416.1h0M1255.9 416.5h0M1256.6 416.7h0M1256.8 418.5h0M1261.1 414.3h0M1261.3 417.6h0M1261.6 417.4h0M1262.9 416.6h0M1263.4 415.8h0M1266.6 418h0M1268.1 416.3h0M1268.4 417.1h0M1271.4 417.5h0M1272.3 417.3h0M1272.4 416.5h0M1273.5 419.9h0M1273.5 418.5h0M1277.1 416.9h0M1277.5 418.1h0M1278.2 417.5h0M1279.3 418h0M1281.6 415.7h0M1285.5 173.9h0M1285.8 131.9h0M1285.9 125.6h0M1287 95.3h0M1287.2 89.3h0M1287.5 94.8h0M1287.7 94.4h0M1289 210h0M1289 214.6h0M1289.4 280.4h0M1289.7 329.3h0M1290.1 381.3h0M1290.1 389h0M1290.8 417.6h0M1291.2 417.3h0M1291.8 419.4h0M1291.9 417.4h0M1292.3 415.7h0M1292.6 416h0M1293.7 416.5h0M1294.5 417.9h0M1295.9 416.2h0M1296 414.1h0M1296.1 420.6h0M1296.7 418.7h0M1296.9 417.2h0M1299 416.1h0M1301.6 423.2h0M1302 419.4h0M1302 419.7h0M1302.1 417.5h0M1302.6 420.6h0M1303.4 419.9h0M1304.9 418h0M1305.8 420.3h0M1308.4 421.7h0M1309.9 419.8h0M1310.2 415.6h0M1310.5 418.5h0M1310.8 419.7h0M1310.9 416.5h0M1311.6 418.1h0M1311.9 417.8h0M1312.6 419h0M1313.6 417.9h0M1315.3 418.8h0M1319.6 416.2h0M1320.1 415.6h0M1320.6 415.7h0M1322.6 414.3h0M1322.9 417.7h0M1325 418.3h0M1325.6 414.8h0M1325.7 415.9h0M1326.3 417.5h0M1326.5 414.5h0M1326.7 414.8h0M1327.6 413.8h0M1328.3 394.7h0M1329.5 354.3h0M1329.6 348.7h0M1330 349.6h0M1330.5 347.7h0M1330.9 347.9h0M1331.1 349.5h0M1331.3 347h0M1331.7 347.1h0M1331.9 347.6h0M1332.2 348.7h0M1334.6 416h0M1335.1 417.4h0M1335.4 416h0M1336.6 414.3h0M1337.9 416.2h0M1338.2 415.7h0M1338.3 419.5h0M1339 417.3h0M1340.1 419.3h0M1340.6 416.5h0M1341.9 419.9h0M1342.1 420.7h0M1342.5 417h0M1342.6 420.1h0M1342.7 417.9h0M1342.9 418.7h0M1343.4 423.3h0M1343.6 421.6h0M1344.8 420.8h0M1346.2 415.1h0M1346.2 419h0M1347.3 418.4h0M1347.4 418.5h0M1348.5 419.9h0M1349.9 420.4h0M1350.2 416.9h0M1350.3 417.2h0M1352.4 417h0M1352.6 417.5h0M1353.1 417.5h0M1353.5 420.3h0M1353.7 420.5h0M1356 416.3h0M1357 418.7h0M1357.4 415.4h0M1360.2 416.4h0M1360.4 418h0M1361.7 416.1h0M1361.9 415.5h0M1363 416.5h0M1364.4 417.4h0M1364.4 414.3h0M1365.1 420.7h0M1367.7 416.7h0M1368 417.5h0M1368.6 414.7h0M1369.3 417h0M1369.5 418h0M1370.3 416h0M1370.4 415.8h0M1371.8 402.7h0M1372.5 333.1h0M1372.8 275.5h0M1372.9 250.4h0M1375 99.8h0M1375.3 89.7h0M1376.2 112.8h0M1376.7 182h0M1377.4 314.4h0M1378.7 417.1h0M1379.6 419.2h0M1379.8 417.2h0M1380.2 419.1h0M1381.5 418.6h0M1382 417.1h0M1382.3 421.9h0M672.2 85.3h0"/>
<path d="M259.1 418.4h0M259.3 418.8h0M259.9 417.8h0M260.3 418.7h0M260.5 418.4h0M260.9 419.9h0M261.5 419.3h0M262.1 417.7h0M263.1 417.9h0M265.1 421.5h0M265.1 418.8h0M265.2 416.3h0M266.6 416.2h0M267.2 417.2h0M267.6 419.1h0M267.9 416.4h0M269.3 417.9h0M269.9 418.9h0M270.3 417.6h0M272 417h0M272 420.3h0M273.3 417.2h0M273.4 413.5h0M274.6 382.3h0M274.9 378h0M276 351.7h0M277 353h0M280.8 414.8h0M281.2 417.5h0M281.3 412.4h0M283.6 413.6h0M285.4 416.3h0M286.1 417.7h0M286.5 415.8h0M286.9 416.7h0M288 417.3h0M288.2 416.7h0M288.4 416h0M288.9 415.4h0M289.3 412h0M289.7 415.5h0M290.7 416.4h0M291.2 415h0M292 416h0M292.2 412.9h0M292.6 413h0M294.3 415.2h0M295.1 417.4h0M296.5 418.5h0M296.7 415.8h0M296.7 417.4h0M296.8 414.5h0M297.3 418.7h0M298.3 417.3h0M299.4 416h0M300 418.2h0M300.1 412.3h0M300.3 414.2h0M300.5 414.8h0M300.6 414.5h0M302.5 413.8h0M302.6 415.7h0M306.5 415h0M306.6 418h0M306.9 418.5h0M307.2 414.3h0M307.6 418.5h0M307.8 411h0M308.4 413.2h0M308.8 415.7h0M309 420.2h0M309.5 414h0M309.6 415.2h0M309.7 418.8h0M310.5 414.8h0M312 416h0M312.5 411.1h0M312.9 415.6h0M314.6 412.4h0M315 413.3h0M315.6 413.1h0M315.9 413.6h0M316 413.1h0M316.7 414h0M316.8 415h0M317.4 412.3h0M319.4 129.7h0M320.6 95.6h0M320.7 88.8h0M321.4 92.2h0M322 114.8h0M322.4 160.5h0M322.4 170.5h0M322.5 191.5h0M322.8 235.1h0M324 402.4h0M324.2 412.1h0M325.7 417.1h0M325.8 413.9h0M325.9 414h0M326.8 414.6h0M329 414.6h0M329.1 417.2h0M329.9 416h0M331 418.3h0M332 418.8h0M333.6 416.8h0M333.7 415.1h0M334 419.6h0M336.4 419.1h0M337.1 419.6h0M338.2 420.5h0M338.3 419.5h0M339.4 422.3h0M339.4 419.1h0M340.4 418.2h0M340.4 417.9h0M343.3 418h0M344.2 421.3h0M344.4 419.5h0M345 416.9h0M345.7 417.6h0M347 417.3h0M347.2 424.9h0M349.1 415.3h0M349.2 416.7h0M350 417.3h0M351.9 419.1h0M352 416.5h0M353.2 420.2h0M354.6 417.4h0M354.9 418.4h0M355.2 416.4h0M355.8 420.3h0M356.2 417.2h0M357.2 415.1h0M358 412.4h0M358.5 417.8h0M358.8 415.1h0M359.4 417.9h0M360.7 417h0M361.9 393.3h0M362.6 376.8h0M363.3 355.2h0M363.3 353.8h0M363.5 349.5h0M363.9 351.7h0M365.4 352.1h0M367.6 397h0M369.8 417.7h0M371 416.5h0M374.1 418h0M374.5 416.6h0M375.1 417.7h0M375.9 417.8h0M377.1 417.8h0M379.8 414.6h0M380.4 415.4h0M380.8 417.3h0M380.9 415.7h0M381.2 414.1h0M381.6 413.5h0M381.7 415.4h0M382.3 416h0M383.7 415.5h0M385 417.4h0M385.4 417.5h0M386.4 413.8h0M386.5 420.2h0M386.6 416.6h0M387.6 414.8h0M388.1 414.5h0M388.3 413.8h0M388.4 412.5h0M389.1 416.2h0M389.8 415.6h0M391.9 413.6h0M392.3 413.1h0M392.5 415.3h0M392.8 414.7h0M394.1 417.7h0M394.2 414.5h0M394.6 414.7h0M396.3 414.2h0M396.4 413.8h0M396.5 414.2h0M396.6 415.4h0M396.7 412.4h0M397.2 413.8h0M397.9 416.9h0M398.5 411h0M399.2 415.5h0M399.3 413h0M400.1 413.3h0M401.4 414.5h0M403.6 412.9h0M403.7 410.3h0M403.9 414.4h0M405.6 390.9h0M405.8 379.4h0M406.2 323h0M407.7 104.1h0M407.9 104.7h0M408 105.9h0M408.6 97.8h0M409.3 97.4h0M409.8 116.8h0M410.8 276.1h0M411.4 357h0M412.1 412.5h0M413.1 419.1h0M413.5 415.2h0M413.7 417.7h0M415 417.8h0M416.3 415.6h0M416.9 421.7h0M417.3 419h0M417.8 419.6h0M417.9 419.8h0M418.3 419.7h0M418.8 417.9h0M418.8 419.8h0M420.3 423.5h0M420.6 418h0M421 422.6h0M422.6 422.4h0M423.4 422h0M425.9 420h0M426.8 422.4h0M427.3 422h0M427.4 421.8h0M427.6 421.8h0M428.8 418.2h0M429.3 419.9h0M429.8 420.4h0M429.8 417.4h0M430.6 421.8h0M431.5 421.6h0M431.9 420.4h0M432.3 421.2h0M432.9 419.4h0M433.6 417.6h0M436.1 421.3h0M436.9 421.6h0M437.5 421.2h0M439 422.9h0M439.3 419.8h0M441.2 418.2h0M441.5 420.9h0M441.7 421.5h0M442.2 419.5h0M443.1 421.2h0M443.2 418.4h0M443.5 417.5h0M444 416.4h0M444.2 419h0M446 414.4h0M446.4 420.8h0M447.1 417.6h0M448 420.4h0M448.1 418.4h0M449 415.5h0M449.3 413.7h0M449.4 411.3h0M451 351.4h0M451.4 350.5h0M451.4 352h0M452.8 352.2h0M453.4 353.5h0M454.2 358.1h0M454.5 369.2h0M455.1 393.8h0M456.5 415.8h0M457 421h0M457.3 422h0M457.9 419.9h0M458.2 418.6h0M458.7 422.6h0M459.6 420.9h0M460.2 418.5h0M460.5 419.5h0M461 418.3h0M461.2 418h0M461.4 419.4h0M464 418.8h0M464.6 419.2h0M465 420.1h0M466.3 414.2h0M466.7 420h0M467 419.1h0M467.3 420h0M468.1 420.3h0M468.1 415.9h0M468.4 417.7h0M468.6 417.9h0M468.9 417.8h0M468.9 418.3h0M469.6 419.9h0M472 416.1h0M472.5 418.1h0M473.5 416.8h0M474.4 414.2h0M474.5 415.3h0M475.1 416.1h0M476.2 415.1h0M477.7 414.1h0M477.9 417.3h0M478 413.5h0M478.1 418h0M478.2 417.6h0M479.2 413.4h0M479.7 413h0M481.5 414.7h0M484 414h0M484.8 414.3h0M485 411.1h0M485.5 416.9h0M485.9 413.2h0M486.1 414.7h0M486.6 416.6h0M487.3 410.5h0M488.3 414.3h0M488.3 415h0M488.4 413h0M488.6 414h0M488.7 411.7h0M489.2 416.2h0M489.3 414.1h0M490.5 412.5h0M491.4 413.8h0M492 415.2h0M492.9 412.7h0M494.3 279.5h0M496.8 93.9h0M497.3 98.4h0M497.7 117.7h0M499.4 373.4h0M499.8 407.4h0M501.6 416.8h0M502.8 417.4h0M502.9 417h0M503.5 415.1h0M504.7 418.7h0M505 419h0M505.4 416.5h0M505.5 416.6h0M505.7 418.6h0M505.9 422.1h0M507 419.2h0M507.9 417h0M508.2 418.5h0M508.3 419.7h0M509.4 414.8h0M510.6 418.9h0M510.8 418h0M511.1 415h0M511.3 419.2h0M511.4 422.1h0M512.8 418.8h0M513.2 416.8h0M513.5 416.6h0M514.3 422.2h0M517.5 417.8h0M518.4 418.4h0M519.5 418.9h0M519.7 419.2h0M520.1 421.4h0M520.5 419.6h0M520.9 418.8h0M521 417.2h0M521.2 418.4h0M521.3 417.1h0M522 419.1h0M523 418h0M523.1 420.6h0M523.5 419.2h0M523.8 416.3h0M524.2 417.3h0M524.6 417.2h0M525 416.2h0M525.1 415.3h0M525.5 416.4h0M526.3 415.5h0M528.8 417.5h0M529.3 415.3h0M530.6 418.2h0M531.5 416.9h0M532.2 417.5h0M532.6 415.1h0M533.1 414.3h0M533.5 414.6h0M534.4 415.2h0M534.6 419.1h0M534.7 418.4h0M535.2 415.2h0M536.2 415.8h0M537.9 386.6h0M539.1 347.2h0M539.4 349.3h0M541.1 352.4h0M541.4 350.9h0M542 355.6h0M542 354.8h0M542.9 390.8h0M544.7 418h0M545.1 418.2h0M545.6 420.9h0M546 416.7h0M546.4 416.5h0M547.7 418.3h0M547.7 417.9h0M548.2 416.5h0M548.4 417.2h0M548.7 415.2h0M548.7 417.8h0M548.9 419.2h0M549.6 420.4h0M551.7 416.7h0M552.2 415.4h0M552.6 415.5h0M553 418.3h0M553 415.6h0M553.2 417.1h0M553.3 416.1h0M554.5 418.2h0M556.8 416.8h0M558.2 416.8h0M558.3 416.7h0M558.6 418.8h0M559.3 420.3h0M559.8 416.1h0M560.1 416.3h0M561.9 417.1h0M561.9 418.5h0M562.3 418.7h0M562.4 418.8h0M563.5 416.7h0M563.6 415.4h0M563.7 414.9h0M564.2 417.4h0M564.6 414.8h0M564.8 417.6h0M565.4 417.1h0M566.2 416.1h0M566.6 417.3h0M567.7 415.9h0M567.8 417.3h0M568.1 412.1h0M568.8 414.9h0M569.6 417.5h0M572 413.5h0M573 414.9h0M573.4 415.2h0M573.7 411.3h0M574.2 417.1h0M574.6 418.8h0M575 415.1h0M575.9 414h0M576.2 413.5h0M577.5 414.3h0M578.6 413.9h0M579.8 415.6h0M580.1 416.7h0M581.6 362.7h0M581.9 323.9h0M582 305.9h0M583 141.2h0M583.1 125.8h0M583.4 104h0M583.4 100h0M584.3 95.5h0M586.1 202h0M587 354.3h0M587.7 414.4h0M587.9 417.1h0M588.1 414.4h0M588.8 417.2h0M589.3 418.5h0M589.6 418.4h0M590.6 416.4h0M591.4 415.5h0M592.8 416.6h0M593.6 424.2h0M593.9 420.9h0M594.1 416.6h0M594.3 421.6h0M594.4 420.5h0M594.7 416.8h0M595.9 418.9h0M596.7 418.8h0M597 418.3h0M597.2 421.5h0M599 419.8h0M599.1 421.2h0M599.3 420.6h0M599.7 419.7h0M600.1 420.3h0M600.6 421.3h0M601.3 420.3h0M601.8 419h0M603.3 422.6h0M604.2 417.7h0M604.7 417.7h0M605.1 418.4h0M605.2 418.8h0M606.3 417h0M606.6 419.6h0M607.6 415.3h0M608 421.5h0M608.3 417.6h0M611 418.8h0M612.2 414.7h0M612.8 417.7h0M613.1 416.5h0M615 414.9h0M615.2 413.8h0M615.8 413.9h0M616.5 416.7h0M617 417.5h0M617.9 415.7h0M619.8 413.9h0M620.5 416.7h0M622 414.6h0M622.2 416.6h0M623.8 413.9h0M628.6 348.5h0M628.9 346.6h0M632.1 419.3h0M633.2 414.9h0M633.4 415.6h0M633.6 418.7h0M634.1 415.6h0M635.4 415.9h0M635.8 416.4h0M636.4 415.5h0M636.8 417.3h0M637.1 419.5h0M637.1 417.3h0M637.4 417.8h0M637.7 420.7h0M639.5 419.4h0M639.7 416.8h0M641.4 415.8h0M642.1 416.1h0M642.3 419.2h0M645 419.3h0M645.2 416.5h0M645.8 419.2h0M646.6 417.8h0M646.9 418.9h0M647.1 416.3h0M647.3 416.1h0M647.8 414.4h0M647.9 421.5h0M648.1 415.9h0M648.4 418.2h0M648.9 415.8h0M649 416h0M649.7 419h0M649.9 416.5h0M650.1 416.8h0M650.3 419.4h0M650.4 415.1h0M650.8 417.2h0M651.1 416.7h0M652.2 417.9h0M654 414.7h0M654 417.4h0M654.5 418.5h0M655.5 412.9h0M655.7 414.9h0M656.5 413.3h0M656.8 415.9h0M658 412.9h0M658.2 410.9h0M662.4 414h0M663.2 417h0M663.6 413.3h0M664.2 412.1h0M664.5 411.7h0M664.6 415.4h0M664.6 412.9h0M664.8 412.8h0M665.2 413.6h0M665.5 414h0M665.6 414.2h0M665.6 414.8h0M666.3 414.4h0M666.4 414.7h0M666.7 414.9h0M667.4 414.2h0M668.1 413.4h0M669.2 383h0M669.6 336.2h0M669.8 308.9h0M669.9 291.7h0M671.2 106.2h0M672 97.7h0M672.5 97.3h0M672.6 96.1h0M672.8 97.6h0M673.5 138.9h0M674.8 345.3h0M675.9 413.7h0M676 416h0M676.3 417.5h0M676.9 418.5h0M676.9 417.8h0M678 416.6h0M678.4 418.3h0M678.7 417h0M679.1 419.2h0M679.2 417.2h0M679.9 414.8h0M681.1 417.1h0M681.6 420.4h0M682.5 417.6h0M682.8 423.6h0M683.6 421.3h0M684.5 419.9h0M686.4 418.8h0M686.8 416.8h0M687.7 419.2h0M687.8 419.7h0M688.9 418.9h0M691 416.6h0M691 418.5h0M692.5 417.7h0M692.6 419.9h0M692.8 417.4h0M693.2 417.6h0M694 414.8h0M695.3 417h0M695.9 416.5h0M696.7 417.1h0M699.7 415h0M699.8 420.4h0M700.1 414.9h0M700.3 415.4h0M701.7 415.2h0M701.8 416.2h0M702.2 414.5h0M702.7 415.9h0M703.1 415.7h0M703.6 422.1h0M703.9 418.6h0M705 413.7h0M705.9 417.8h0M706.6 414.3h0M706.9 415.3h0M707 415.1h0M710.1 415.3h0M710.4 415.5h0M711 415.6h0M711.9 415.6h0M713 405.6h0M713.2 399.3h0M713.5 391.2h0M713.7 387.9h0M714.6 353.7h0M714.7 352.1h0M715 353.3h0M717.9 361.5h0M718.2 376.1h0M718.7 390.8h0M719.4 410.7h0M721.1 415.7h0M722.1 417h0M722.5 416.9h0M723.3 417.4h0M723.8 415.3h0M724 417.3h0M725.3 416.6h0M726.2 415.3h0M726.6 416.6h0M729.1 417.7h0M729.4 419.5h0M729.7 421.1h0M729.8 419h0M730.3 417.3h0M730.5 415.5h0M730.8 416.2h0M731.8 415.6h0M732.2 417.3h0M732.9 417.5h0M733.4 417.5h0M734.6 417h0M737 416.9h0M737.4 414.8h0M737.6 418.2h0M737.9 418.6h0M738.4 414.5h0M738.8 416.1h0M740.4 416h0M740.6 415.3h0M740.9 419h0M741.3 414.4h0M741.7 413.6h0M742 413.9h0M742.7 416.9h0M744.6 416h0M745.1 417.6h0M745.2 414.9h0M747.6 418.8h0M749.2 416.7h0M751.9 416.3h0M753 415.8h0M753.1 415.7h0M753.2 415.2h0M754.4 414.6h0M754.6 414.6h0M755.7 415.5h0M755.8 416.7h0M757.5 334.3h0M758.2 207.6h0M758.6 142.9h0M759.2 98.4h0M759.5 95.6h0M760.3 94.8h0M760.7 95.1h0M761.3 124.9h0M761.4 140.5h0M761.9 213.6h0M762.2 266.9h0M762.3 287.7h0M763.4 416.6h0M763.6 422h0M763.9 421.4h0M764 420.2h0M764.5 421.2h0M764.6 422.7h0M764.7 420.2h0M764.9 421.3h0M765.8 419.6h0M769.4 422.7h0M769.9 422.1h0M770.3 418.5h0M770.9 418.5h0M772.4 416.8h0M773.1 420.4h0M773.3 420.6h0M773.3 417.8h0M773.5 421.2h0M773.8 420.6h0M774.1 417.5h0M774.4 418.5h0M775.6 417.4h0M776.3 418.2h0M776.5 420.5h0M776.6 415.7h0M776.9 418.5h0M777 417.4h0M777.3 419.8h0M777.7 419.6h0M778.4 419h0M779.7 416.7h0M779.9 420h0M780.4 419.7h0M780.7 419.5h0M781.2 418.8h0M781.3 421.8h0M781.6 418.7h0M781.7 418.1h0M781.8 419.4h0M782.2 420.1h0M782.6 418.1h0M782.8 416.9h0M783.3 419.7h0M783.7 419.8h0M784 419.1h0M785 419.9h0M785.2 420.1h0M786 418h0M786.1 419.5h0M787.4 419h0M787.5 417h0M787.5 416.4h0M788 416.2h0M788.2 415.6h0M788.4 416.4h0M788.8 416.5h0M789.3 421.3h0M789.5 416.1h0M790.5 420.1h0M791 420.9h0M791.5 417.1h0M791.6 416.6h0M792.6 416.3h0M794.1 414.6h0M794.6 415.9h0M794.8 416h0M795.2 418.8h0M795.8 417.6h0M797 414.7h0M797.2 415h0M798.3 416.1h0M799.2 413h0M800.1 416.8h0M800.8 405.9h0M802.7 350.2h0M803.6 351.8h0M803.6 349.6h0M845.1 368h0M846 230.3h0M847.8 97.6h0M848.3 95.2h0M848.4 97.2h0M848.9 102.1h0M849.1 114.9h0M849.5 168.2h0M850.4 322.3h0M850.7 366.3h0M851.1 402.3h0M851.4 419.5h0M851.5 417.2h0M852 418.9h0M852.3 417.4h0M852.8 418.4h0M853 417.3h0M853.6 416h0M854 422.1h0M856.7 417.6h0M858.2 422.2h0M858.2 420.3h0M859 425.6h0M859.8 420.5h0M860.4 423.5h0M860.4 421.9h0M862.2 420.6h0M862.9 423h0M863.9 421.8h0M865.5 418.7h0M871.8 419.1h0M873.1 414.5h0M873.2 420.2h0M875.2 415.8h0M875.5 416.6h0M876.3 416.4h0M876.4 416.2h0M877.8 418.9h0M878.3 416.4h0M878.5 413.7h0M880.3 416.6h0M881 415.8h0M881.9 414.8h0M882.1 413.8h0M883.4 416.6h0M883.5 413.7h0M883.9 414.8h0M884.1 415.4h0M884.7 413.1h0M885.7 416.7h0M887.3 417.1h0M887.5 413.3h0M887.8 414.2h0M888.6 409.5h0M889.3 388.1h0M889.5 384.3h0M890 361.5h0M890.5 353.3h0M890.7 349.9h0M891.6 348.5h0M892.4 353h0M893.3 357.2h0M893.7 365.9h0M893.8 370.2h0M893.9 377.3h0M894 373.7h0M894 382.8h0M894.3 390h0M895.1 413.3h0M895.9 418.2h0M896.7 415.7h0M897.5 418.5h0M897.6 418.6h0M898.3 417.6h0M898.3 416.3h0M899.8 415.5h0M901.5 422.5h0M901.7 418.9h0M901.8 417.6h0M902 415.7h0M902.5 415.8h0M903.6 419.8h0M903.8 419.8h0M905.4 416.5h0M906.5 415.3h0M908.9 416.5h0M909.2 420.3h0M909.3 417.8h0M910.3 412.6h0M910.8 419h0M913.4 415.7h0M915.2 415.7h0M916.2 415.3h0M917.6 416.3h0M918.4 412.5h0M919.7 415.8h0M920.6 417h0M920.8 417.6h0M921.2 415.1h0M921.6 413.7h0M921.7 414.4h0M922.4 414.6h0M922.5 417h0M923.1 416.2h0M924.1 417h0M924.7 411.4h0M925.2 416.6h0M926.3 417.2h0M930 417.6h0M930.8 414.6h0M932.1 413.9h0M932.4 411.4h0M932.6 400.9h0M932.8 385h0M932.9 374.6h0M933.3 319.5h0M933.5 296.9h0M934 197.6h0M934.1 182h0M936.9 122h0M937 131.1h0M937.9 273.5h0M938.1 309h0M938.2 330.1h0M938.8 398h0M939.5 415.7h0M940.6 414.9h0M941.3 417.6h0M941.9 416.6h0M942.4 420.2h0M942.7 420.3h0M942.8 419.2h0M943.1 418.3h0M943.4 420h0M943.9 422.5h0M944.1 420.1h0M945.9 419.2h0M947.5 422.4h0M948 422.4h0M948.1 420.4h0M948.2 425.9h0M949 422.6h0M949.1 418.3h0M949.2 423.3h0M951.5 418.7h0M951.9 420.7h0M953 419.1h0M954.7 417.2h0M954.8 421.9h0M955 420.1h0M957.9 419.2h0M959.5 415h0M961.4 415.7h0M962.4 418.1h0M962.9 414.9h0M963.1 416.6h0M963.5 416.6h0M964.2 415.2h0M964.2 414.2h0M964.9 417.3h0M965.2 419.3h0M965.8 416.3h0M965.9 414.8h0M966.3 415.7h0M966.4 414.6h0M966.6 415.9h0M966.9 414.7h0M967 416h0M967.1 411.1h0M968.5 413.9h0M968.5 412.7h0M969.4 413.8h0M970.3 411.1h0M970.9 414.9h0M971 414.5h0M971.5 411.7h0M972.9 413.5h0M973.3 415.2h0M974.1 411.5h0M975.7 412.7h0M975.8 416.1h0M976.2 412.6h0M976.5 408h0M977.4 383.4h0M978.6 348h0M981.7 368.4h0M982.2 390.2h0M983.2 411.8h0M983.3 417.6h0M985.4 416h0M985.6 419.1h0M986.4 414.2h0M986.7 414.5h0M987 414.1h0M987.9 418.7h0M988 417.4h0M988.4 418.3h0M988.8 419.5h0M989.1 416.9h0M989.2 419.9h0M989.6 419.5h0M989.8 415.7h0M990.4 418.9h0M991.2 419.4h0M992 417.7h0M992.4 419.5h0M992.9 416.6h0M993 416h0M993.1 414.6h0M993.7 415.9h0M994 416.1h0M994.6 416.8h0M994.7 419.9h0M996.3 417.8h0M997.3 418.5h0M998.7 413.9h0M1000.2 415.2h0M1000.8 413.3h0M1001.1 417.3h0M1001.4 415.8h0M1001.5 416.9h0M1001.5 415.5h0M1001.6 417.4h0M1001.7 420h0M1001.9 418.3h0M1002.2 419.6h0M1002.9 415.4h0M1003.2 414.9h0M1003.5 418.8h0M1003.6 415.7h0M1003.8 420.2h0M1004.3 417.9h0M1004.4 415.7h0M1004.9 419.6h0M1006 415.1h0M1006.4 413.1h0M1006.5 414.3h0M1006.7 418.4h0M1006.8 414.3h0M1007 415h0M1007.1 416.5h0M1007.3 415.2h0M1007.8 416.6h0M1008 413.9h0M1010.8 416.2h0M1011.6 415.1h0M1011.6 413.9h0M1011.9 414.7h0M1013.2 417.7h0M1013.4 416.2h0M1014 414.3h0M1014.3 415.8h0M1014.5 412.5h0M1015.1 413.5h0M1015.4 415.3h0M1016.2 410.2h0M1016.6 417h0M1016.7 413.7h0M1017.9 413.6h0M1019.4 413.6h0M1020.6 385.9h0M1021.8 200.9h0M1022.4 117.4h0M1022.6 104.5h0M1024.2 95.3h0M1024.4 101.4h0M1024.7 108.3h0M1025.5 234.8h0M1028.2 419h0M1028.5 420.2h0M1029.9 422.2h0M1030.3 419.4h0M1031.1 421.5h0M1031.9 420.7h0M1033.8 421.5h0M1033.8 419.7h0M1035 420.3h0M1035.6 421.1h0M1036.8 422.1h0M1037.1 420.8h0M1038 420.9h0M1038.2 418.9h0M1038.3 420.7h0M1039.1 421.6h0M1039.7 420.8h0M1040.2 424h0M1043 420.1h0M1045 418h0M1046.6 416.7h0M1046.7 418.7h0M1046.9 418.4h0M1047.6 419h0M1048.2 415h0M1049.4 415.6h0M1050.2 417.9h0M1050.4 418.4h0M1051 418.2h0M1051.5 415.8h0M1051.8 417.7h0M1051.9 415.2h0M1052.8 419.3h0M1053.3 417.2h0M1053.4 414.7h0M1055.6 415h0M1055.9 414.1h0M1056.6 417.6h0M1057.3 416.4h0M1058.6 418.3h0M1058.9 412.7h0M1059.1 415.8h0M1059.6 413.7h0M1061.2 413.6h0M1062.1 411.7h0M1062.8 412.7h0M1063.2 414.7h0M1064.2 409.5h0M1064.9 388.7h0M1065 385.9h0M1066.2 349.7h0M1067.3 345.5h0M1068 345.9h0M1068.9 346.6h0M1069.5 367.5h0M1070.9 416.9h0M1071.1 413.7h0M1071.3 414.9h0M1072 414.5h0M1072.3 414.4h0M1073.5 411.8h0M1073.6 414h0M1074.4 411.2h0M1074.7 412.1h0M1075.1 412.9h0M1077.2 415.3h0M1078.1 414h0M1078.6 413.3h0M1078.8 415.2h0M1079.4 416.5h0M1079.5 413.4h0M1079.7 417.3h0M1080.3 414.3h0M1080.8 414.8h0M1082 412.5h0M1083.6 413.9h0M1085.5 415.6h0M1087.6 415.4h0M1088.9 417h0M1089.5 417.3h0M1089.9 418.6h0M1091.5 415.6h0M1091.7 416.8h0M1091.8 418.3h0M1092.2 414.3h0M1094.2 416.3h0M1094.6 418.2h0M1096.5 416.2h0M1096.7 418.3h0M1097 416.3h0M1097.2 416.2h0M1097.3 414.9h0M1099.1 416.2h0M1100.1 415.2h0M1100.7 419.1h0M1101.5 413.8h0M1102.8 416.1h0M1103.7 412.8h0M1103.9 413.8h0M1104.6 415.3h0M1104.9 414.8h0M1105 414.8h0M1105.7 416.2h0M1105.8 414.8h0M1105.9 415.8h0M1108.1 407.8h0M1110.7 95.9h0M1111.5 93.5h0M1111.7 92.6h0M1112 96.4h0M1112.1 93h0M1112.6 113.7h0M1112.7 120.9h0M1112.8 127.3h0M1113.9 324.2h0M1114.5 390.4h0M1114.7 408.5h0M1114.9 413.5h0M1115.8 415.8h0M1117 416.9h0M1117.6 415h0M1117.7 415.3h0M1118.7 418.7h0M1120.4 421.4h0M1122.8 423h0M1123.7 420h0M1124.8 420.6h0M1125.2 417h0M1125.7 421.4h0M1127.8 420.7h0M1128.2 421.7h0M1128.5 420.4h0M1129.3 418.9h0M1131 419.6h0M1131.1 419.8h0M1131.1 421.4h0M1131.4 424.2h0M1131.7 421h0M1132.7 419h0M1133.6 420.4h0M1134 418.5h0M1134.3 418.5h0M1135.7 421.8h0M1137.8 421h0M1138.4 417.4h0M1139.6 419.5h0M1140.4 419.6h0M1140.4 420.8h0M1141 419.3h0M1142.2 414.9h0M1142.6 416.4h0M1144.3 415.9h0M1144.5 416.5h0M1147 418.4h0M1147.6 419.3h0M1148.2 417h0M1148.7 417.8h0M1149.8 414.5h0M1150.9 420.3h0M1152 415.6h0M1153.1 379.2h0M1153.5 363.9h0M1155 346.9h0M1155.9 352.4h0M1157.4 372.5h0M1158.7 414.9h0M1160.4 420.8h0M1161.6 419.1h0M1162.1 418.6h0M1163.4 417.3h0M1163.5 418.7h0M1165 415.3h0M1166.7 417.1h0M1166.8 417.5h0M1168.3 417.5h0M1168.8 418.8h0M1169.4 417.2h0M1169.5 419.3h0M1169.5 418.2h0M1169.7 418.6h0M1170.2 418.1h0M1170.3 418.1h0M1171.4 415.5h0M1172.1 420.4h0M1172.5 417.8h0M1172.6 416.6h0M1174.3 417.5h0M1174.7 414.6h0M1175.1 415.6h0M1175.7 417h0M1176.1 420.8h0M1177.9 417.7h0M1178.9 417.2h0M1179.3 417.9h0M1179.6 417.4h0M1181.3 422.2h0M1181.3 417h0M1182 419.3h0M1183 416.3h0M1183.4 417.3h0M1183.5 416.6h0M1185 419.2h0M1185.6 419h0M1186.3 417.9h0M1186.8 418.7h0M1187.4 416.3h0M1187.6 420.5h0M1188.2 415.1h0M1188.4 420.5h0M1189 418.2h0M1189.4 418.2h0M1190.6 416h0M1190.7 418h0M1190.8 416h0M1190.8 417.3h0M1191.2 418.8h0M1191.5 418.3h0M1193.6 417.2h0M1194.3 419.3h0M1194.4 417.2h0M1195.2 417.3h0M1196 411.9h0M1196.2 394.2h0M1196.7 341.9h0M1197.3 227.9h0M1199.8 89.1h0M1200.6 120.7h0M1200.8 161.8h0M1200.9 163.4h0M1202.1 372.2h0M1202.9 415.6h0M1203.1 416.3h0M1203.8 416.5h0M1204.7 415h0M1204.9 418.7h0M1205.2 416.8h0M1207.2 418.6h0M1207.3 417h0M1209.4 419.5h0M1209.9 418.6h0M1210.2 419.7h0M1211.3 423.9h0M1211.4 416.2h0M1212 419.4h0M1212.7 420.5h0M1213.1 419.9h0M1213.9 420.2h0M1214.5 421.7h0M1214.8 421.8h0M1215.4 420.4h0M1215.8 420.3h0M1215.9 422.1h0M1217.2 420.1h0M1217.2 419.3h0M1217.9 422.2h0M1218.6 419.1h0M1219.1 416.5h0M1219.6 421.1h0M1222.6 418.3h0M1222.6 419.6h0M1223 421.4h0M1225.8 419.8h0M1226 420h0M1226.5 420.4h0M1226.8 420.9h0M1228.2 420.1h0M1229 416.9h0M1229.3 418.6h0M1229.8 416h0M1231.3 419.2h0M1231.3 419h0M1231.7 416.7h0M1232.5 421.6h0M1233.5 419.7h0M1234.4 417.4h0M1236.6 418.3h0M1237.1 416.6h0M1237.8 419.2h0M1238.4 415.4h0M1238.5 418h0M1239.2 415.7h0M1239.3 419.1h0M1239.6 417.5h0M1240.5 394.8h0M1242.9 351.2h0M1243.3 352.6h0M1244.3 352.5h0M1245.6 386.4h0M1246.5 409h0M1247 416.2h0M1248 417.9h0M1250.4 416.2h0M1250.6 417h0M1252 417h0M1252.3 415.7h0M1253.4 417.6h0M1254.3 416h0M1254.6 417.1h0M1255 416h0M1256.1 419.2h0M1257.5 414.8h0M1259.8 417.8h0M1260.3 415.6h0M1260.5 413.6h0M1260.6 420.7h0M1260.7 416.1h0M1262.6 419.2h0M1263.4 418.9h0M1263.7 416.2h0M1264.4 417.8h0M1265 414.4h0M1266.1 418.8h0M1266.2 417.2h0M1266.5 416.3h0M1266.6 417.4h0M1266.9 415.8h0M1267.4 418.7h0M1269.6 416.7h0M1270 417.5h0M1270.5 417.3h0M1271.6 419.1h0M1271.8 421.6h0M1272.8 418.2h0M1273.4 419.9h0M1273.9 416.7h0M1274 415.7h0M1274 417.9h0M1275.2 420.2h0M1276.3 417.9h0M1277.4 417.1h0M1278.2 417.5h0M1279.4 417.3h0M1280.5 415.4h0M1281.7 417.2h0M1282.1 416.6h0M1284.3 373h0M1285.2 238.2h0M1285.4 195h0M1286.1 107.1h0M1286.8 92.6h0M1289.3 271h0M1291.5 418.7h0M1291.5 419h0M1292 416.5h0M1292.6 420.8h0M1292.7 416.7h0M1294.7 416.1h0M1295 420.5h0M1296 420.7h0M1297 417.8h0M1297.2 419.3h0M1297.8 419.7h0M1298 420.1h0M1298.8 415.5h0M1299.6 419.8h0M1300.4 419.6h0M1300.5 418.1h0M1300.8 418.7h0M1302.2 418.8h0M1302.4 418.1h0M1305.1 423.4h0M1305.3 420.3h0M1306.4 418.1h0M1307.1 420.4h0M1307.8 419.4h0M1308 420.3h0M1308.1 420h0M1308.9 420.6h0M1311.2 416.4h0M1311.4 418h0M1311.8 418.9h0M1311.9 418.4h0M1312.3 416.2h0M1312.7 417.9h0M1314.9 418.9h0M1315.1 415.7h0M1315.4 416.8h0M1315.6 417.4h0M1316.1 413.7h0M1316.7 419h0M1317 418.5h0M1317.8 418.8h0M1319 416.3h0M1319.4 415.8h0M1319.5 416h0M1320.4 416.1h0M1320.8 414h0M1321.3 417.2h0M1321.5 416.4h0M1321.7 419.6h0M1321.7 418.4h0M1321.8 415.5h0M1321.9 415.7h0M1323.8 414h0M1324.6 415.7h0M1325.2 414.9h0M1325.6 415h0M1326.7 413.6h0M1327.8 407.4h0M1328.2 395.5h0M1328.7 383.9h0M1328.8 378.4h0M1329.7 347.6h0M1329.9 347.4h0M1330.9 352.5h0M1332.4 348.7h0M1332.6 355.5h0M1334.1 401h0M1335.7 416.3h0M1337.5 416.6h0M1337.7 415.8h0M1338.1 417.2h0M1338.7 415.1h0M1339.5 417.1h0M1340.3 417.6h0M1340.5 415.3h0M1341.5 419.2h0M1342.3 422.7h0M1343.2 421.9h0M1343.6 422.6h0M1343.8 417h0M1344.6 416.2h0M1346 417.8h0M1346.6 420.2h0M1346.7 414.8h0M1346.8 419.7h0M1347.5 418.6h0M1347.8 419.4h0M1348.8 416.4h0M1349.6 417.4h0M1350.5 418.2h0M1350.7 416.9h0M1351.6 417.4h0M1351.7 416.3h0M1351.8 417.7h0M1352.4 419.1h0M1354.1 418h0M1354.7 418.1h0M1355.6 419.6h0M1357.7 416h0M1357.8 416.1h0M1358 414.5h0M1359 418.2h0M1359.2 417h0M1359.8 414.5h0M1361.2 416.7h0M1361.6 415h0M1362.3 417.4h0M1362.6 415.5h0M1362.7 415.4h0M1363.5 419h0M1364.7 415.8h0M1365.5 415.1h0M1365.5 416.1h0M1365.7 419h0M1366 412.3h0M1366.3 415.5h0M1367.4 415.5h0M1368.4 418.1h0M1369.1 415.3h0M1369.4 416.4h0M1369.6 419.6h0M1369.7 416.4h0M1370.7 413.5h0M1370.8 417.9h0M1371 420h0M1371.1 419.7h0M1372.2 366.5h0M1372.6 314.9h0M1373.3 185.6h0M1373.5 150.2h0M1375.2 89.8h0M1375.6 91.9h0M1376.8 198.8h0M1377 243.6h0M1377.1 255.7h0M1378 393.5h0M1378.2 403.2h0M1379.9 418.1h0M1380.2 418.3h0M1380.6 419.4h0M1381.6 419.1h0M1382.3 417.5h0M1382.6 421.1h0M1383 417.4h0"/>
</g>
</svg>
</body></html>
